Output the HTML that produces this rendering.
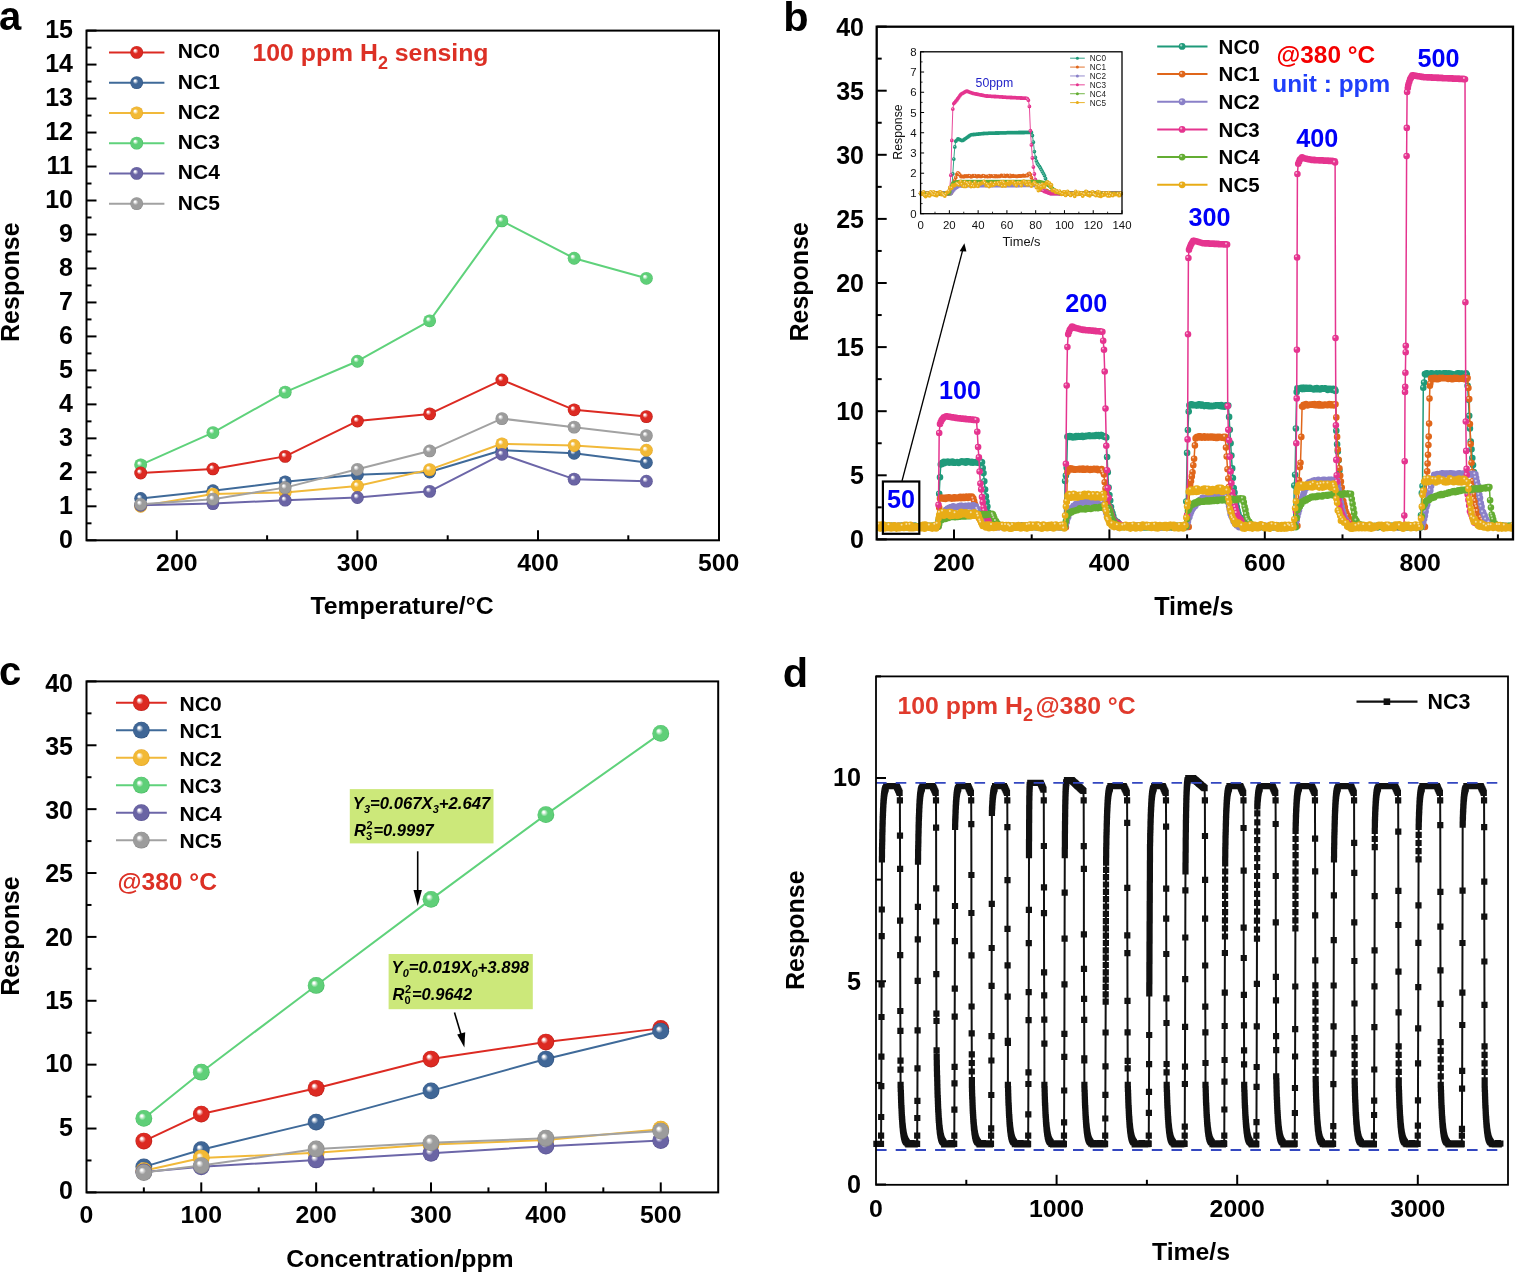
<!DOCTYPE html><html><head><meta charset="utf-8"><title>Gas sensing response</title><style>html,body{margin:0;padding:0;background:#fff;width:1515px;height:1273px;overflow:hidden;position:relative}text{font-family:"Liberation Sans",Arial,Helvetica,sans-serif}</style></head><body><svg width="1515" height="1273" viewBox="0 0 1515 1273" style="position:absolute;left:0;top:0" font-family="Liberation Sans, Arial, Helvetica, sans-serif">
<defs>
<radialGradient id="g_red" cx="0.5" cy="0.5" r="0.5" fx="0.35" fy="0.33"><stop offset="0" stop-color="#ffffff"/><stop offset="0.1" stop-color="#ffffff" stop-opacity="0.97"/><stop offset="0.42" stop-color="#dc2a22"/><stop offset="0.88" stop-color="#dc2a22"/><stop offset="1" stop-color="#b51a14"/></radialGradient>
<radialGradient id="g_blue" cx="0.5" cy="0.5" r="0.5" fx="0.35" fy="0.33"><stop offset="0" stop-color="#ffffff"/><stop offset="0.1" stop-color="#ffffff" stop-opacity="0.97"/><stop offset="0.42" stop-color="#3f6696"/><stop offset="0.88" stop-color="#3f6696"/><stop offset="1" stop-color="#2c4f7c"/></radialGradient>
<radialGradient id="g_yellow" cx="0.5" cy="0.5" r="0.5" fx="0.35" fy="0.33"><stop offset="0" stop-color="#ffffff"/><stop offset="0.1" stop-color="#ffffff" stop-opacity="0.97"/><stop offset="0.42" stop-color="#f2b935"/><stop offset="0.88" stop-color="#f2b935"/><stop offset="1" stop-color="#e09f1c"/></radialGradient>
<radialGradient id="g_green" cx="0.5" cy="0.5" r="0.5" fx="0.35" fy="0.33"><stop offset="0" stop-color="#ffffff"/><stop offset="0.1" stop-color="#ffffff" stop-opacity="0.97"/><stop offset="0.42" stop-color="#5fcf78"/><stop offset="0.88" stop-color="#5fcf78"/><stop offset="1" stop-color="#45b860"/></radialGradient>
<radialGradient id="g_purple" cx="0.5" cy="0.5" r="0.5" fx="0.35" fy="0.33"><stop offset="0" stop-color="#ffffff"/><stop offset="0.1" stop-color="#ffffff" stop-opacity="0.97"/><stop offset="0.42" stop-color="#6a64a4"/><stop offset="0.88" stop-color="#6a64a4"/><stop offset="1" stop-color="#524c8c"/></radialGradient>
<radialGradient id="g_gray" cx="0.5" cy="0.5" r="0.5" fx="0.35" fy="0.33"><stop offset="0" stop-color="#ffffff"/><stop offset="0.1" stop-color="#ffffff" stop-opacity="0.97"/><stop offset="0.42" stop-color="#9c9c9c"/><stop offset="0.88" stop-color="#9c9c9c"/><stop offset="1" stop-color="#848484"/></radialGradient>
</defs>
<rect width="1515" height="1273" fill="#fff"/>
<text x="-1" y="30" font-size="40" text-anchor="start" font-weight="bold" fill="#000">a</text>
<line x1="86.5" y1="540.3" x2="96.5" y2="540.3" stroke="#000" stroke-width="2"/>
<line x1="86.5" y1="523.31" x2="91.5" y2="523.31" stroke="#000" stroke-width="2"/>
<text x="73" y="548" font-size="25" text-anchor="end" font-weight="bold" fill="#000">0</text>
<line x1="86.5" y1="506.32" x2="96.5" y2="506.32" stroke="#000" stroke-width="2"/>
<line x1="86.5" y1="489.33" x2="91.5" y2="489.33" stroke="#000" stroke-width="2"/>
<text x="73" y="514.02" font-size="25" text-anchor="end" font-weight="bold" fill="#000">1</text>
<line x1="86.5" y1="472.34" x2="96.5" y2="472.34" stroke="#000" stroke-width="2"/>
<line x1="86.5" y1="455.35" x2="91.5" y2="455.35" stroke="#000" stroke-width="2"/>
<text x="73" y="480.04" font-size="25" text-anchor="end" font-weight="bold" fill="#000">2</text>
<line x1="86.5" y1="438.36" x2="96.5" y2="438.36" stroke="#000" stroke-width="2"/>
<line x1="86.5" y1="421.37" x2="91.5" y2="421.37" stroke="#000" stroke-width="2"/>
<text x="73" y="446.06" font-size="25" text-anchor="end" font-weight="bold" fill="#000">3</text>
<line x1="86.5" y1="404.38" x2="96.5" y2="404.38" stroke="#000" stroke-width="2"/>
<line x1="86.5" y1="387.39" x2="91.5" y2="387.39" stroke="#000" stroke-width="2"/>
<text x="73" y="412.08" font-size="25" text-anchor="end" font-weight="bold" fill="#000">4</text>
<line x1="86.5" y1="370.4" x2="96.5" y2="370.4" stroke="#000" stroke-width="2"/>
<line x1="86.5" y1="353.41" x2="91.5" y2="353.41" stroke="#000" stroke-width="2"/>
<text x="73" y="378.1" font-size="25" text-anchor="end" font-weight="bold" fill="#000">5</text>
<line x1="86.5" y1="336.42" x2="96.5" y2="336.42" stroke="#000" stroke-width="2"/>
<line x1="86.5" y1="319.43" x2="91.5" y2="319.43" stroke="#000" stroke-width="2"/>
<text x="73" y="344.12" font-size="25" text-anchor="end" font-weight="bold" fill="#000">6</text>
<line x1="86.5" y1="302.44" x2="96.5" y2="302.44" stroke="#000" stroke-width="2"/>
<line x1="86.5" y1="285.45" x2="91.5" y2="285.45" stroke="#000" stroke-width="2"/>
<text x="73" y="310.14" font-size="25" text-anchor="end" font-weight="bold" fill="#000">7</text>
<line x1="86.5" y1="268.46" x2="96.5" y2="268.46" stroke="#000" stroke-width="2"/>
<line x1="86.5" y1="251.47" x2="91.5" y2="251.47" stroke="#000" stroke-width="2"/>
<text x="73" y="276.16" font-size="25" text-anchor="end" font-weight="bold" fill="#000">8</text>
<line x1="86.5" y1="234.48" x2="96.5" y2="234.48" stroke="#000" stroke-width="2"/>
<line x1="86.5" y1="217.49" x2="91.5" y2="217.49" stroke="#000" stroke-width="2"/>
<text x="73" y="242.18" font-size="25" text-anchor="end" font-weight="bold" fill="#000">9</text>
<line x1="86.5" y1="200.5" x2="96.5" y2="200.5" stroke="#000" stroke-width="2"/>
<line x1="86.5" y1="183.51" x2="91.5" y2="183.51" stroke="#000" stroke-width="2"/>
<text x="73" y="208.2" font-size="25" text-anchor="end" font-weight="bold" fill="#000">10</text>
<line x1="86.5" y1="166.52" x2="96.5" y2="166.52" stroke="#000" stroke-width="2"/>
<line x1="86.5" y1="149.53" x2="91.5" y2="149.53" stroke="#000" stroke-width="2"/>
<text x="73" y="174.22" font-size="25" text-anchor="end" font-weight="bold" fill="#000">11</text>
<line x1="86.5" y1="132.54" x2="96.5" y2="132.54" stroke="#000" stroke-width="2"/>
<line x1="86.5" y1="115.55" x2="91.5" y2="115.55" stroke="#000" stroke-width="2"/>
<text x="73" y="140.24" font-size="25" text-anchor="end" font-weight="bold" fill="#000">12</text>
<line x1="86.5" y1="98.56" x2="96.5" y2="98.56" stroke="#000" stroke-width="2"/>
<line x1="86.5" y1="81.57" x2="91.5" y2="81.57" stroke="#000" stroke-width="2"/>
<text x="73" y="106.26" font-size="25" text-anchor="end" font-weight="bold" fill="#000">13</text>
<line x1="86.5" y1="64.58" x2="96.5" y2="64.58" stroke="#000" stroke-width="2"/>
<line x1="86.5" y1="47.59" x2="91.5" y2="47.59" stroke="#000" stroke-width="2"/>
<text x="73" y="72.28" font-size="25" text-anchor="end" font-weight="bold" fill="#000">14</text>
<line x1="86.5" y1="30.6" x2="96.5" y2="30.6" stroke="#000" stroke-width="2"/>
<text x="73" y="38.3" font-size="25" text-anchor="end" font-weight="bold" fill="#000">15</text>
<line x1="176.8" y1="540.3" x2="176.8" y2="530.3" stroke="#000" stroke-width="2"/>
<line x1="357.4" y1="540.3" x2="357.4" y2="530.3" stroke="#000" stroke-width="2"/>
<line x1="538" y1="540.3" x2="538" y2="530.3" stroke="#000" stroke-width="2"/>
<line x1="267.1" y1="540.3" x2="267.1" y2="535.3" stroke="#000" stroke-width="2"/>
<line x1="447.7" y1="540.3" x2="447.7" y2="535.3" stroke="#000" stroke-width="2"/>
<line x1="628.3" y1="540.3" x2="628.3" y2="535.3" stroke="#000" stroke-width="2"/>
<text x="176.8" y="570.8" font-size="24.8" text-anchor="middle" font-weight="bold" fill="#000">200</text>
<text x="357.4" y="570.8" font-size="24.8" text-anchor="middle" font-weight="bold" fill="#000">300</text>
<text x="538" y="570.8" font-size="24.8" text-anchor="middle" font-weight="bold" fill="#000">400</text>
<text x="718.6" y="570.8" font-size="24.8" text-anchor="middle" font-weight="bold" fill="#000">500</text>
<rect x="86.5" y="30.6" width="632.5" height="509.7" stroke="#000" stroke-width="2" fill="none"/>
<text x="402" y="613.9" font-size="24.8" text-anchor="middle" font-weight="bold" fill="#000">Temperature/°C</text>
<text transform="translate(18.9,282.2) rotate(-90)" font-size="25" text-anchor="middle" font-weight="bold">Response</text>
<line x1="109" y1="52.4" x2="164.4" y2="52.4" stroke="#dc2a22" stroke-width="2"/>
<circle cx="136.7" cy="52.4" r="6.4" fill="url(#g_red)"/>
<text x="177.8" y="58.4" font-size="21" text-anchor="start" font-weight="bold" fill="#000">NC0</text>
<line x1="109" y1="82.65" x2="164.4" y2="82.65" stroke="#3f6a99" stroke-width="2"/>
<circle cx="136.7" cy="82.65" r="6.4" fill="url(#g_blue)"/>
<text x="177.8" y="88.65" font-size="21" text-anchor="start" font-weight="bold" fill="#000">NC1</text>
<line x1="109" y1="112.9" x2="164.4" y2="112.9" stroke="#f1b93a" stroke-width="2"/>
<circle cx="136.7" cy="112.9" r="6.4" fill="url(#g_yellow)"/>
<text x="177.8" y="118.9" font-size="21" text-anchor="start" font-weight="bold" fill="#000">NC2</text>
<line x1="109" y1="143.15" x2="164.4" y2="143.15" stroke="#5fd27b" stroke-width="2"/>
<circle cx="136.7" cy="143.15" r="6.4" fill="url(#g_green)"/>
<text x="177.8" y="149.15" font-size="21" text-anchor="start" font-weight="bold" fill="#000">NC3</text>
<line x1="109" y1="173.4" x2="164.4" y2="173.4" stroke="#6c66a8" stroke-width="2"/>
<circle cx="136.7" cy="173.4" r="6.4" fill="url(#g_purple)"/>
<text x="177.8" y="179.4" font-size="21" text-anchor="start" font-weight="bold" fill="#000">NC4</text>
<line x1="109" y1="203.65" x2="164.4" y2="203.65" stroke="#a2a2a2" stroke-width="2"/>
<circle cx="136.7" cy="203.65" r="6.4" fill="url(#g_gray)"/>
<text x="177.8" y="209.65" font-size="21" text-anchor="start" font-weight="bold" fill="#000">NC5</text>
<text x="252.5" y="60.9" font-size="24.8" font-weight="bold" fill="#dc3025">100 ppm H<tspan font-size="18" dy="7.7">2</tspan><tspan dy="-7.7"> sensing</tspan></text>
<polyline points="140.68,464.86 212.92,432.58 285.16,392.15 357.4,361.23 429.64,320.79 501.88,220.89 574.12,258.27 646.36,278.31" fill="none" stroke="#5fd27b" stroke-width="2" stroke-linejoin="round"/>
<circle cx="140.68" cy="464.86" r="6.4" fill="url(#g_green)"/>
<circle cx="212.92" cy="432.58" r="6.4" fill="url(#g_green)"/>
<circle cx="285.16" cy="392.15" r="6.4" fill="url(#g_green)"/>
<circle cx="357.4" cy="361.23" r="6.4" fill="url(#g_green)"/>
<circle cx="429.64" cy="320.79" r="6.4" fill="url(#g_green)"/>
<circle cx="501.88" cy="220.89" r="6.4" fill="url(#g_green)"/>
<circle cx="574.12" cy="258.27" r="6.4" fill="url(#g_green)"/>
<circle cx="646.36" cy="278.31" r="6.4" fill="url(#g_green)"/>
<polyline points="140.68,473.02 212.92,468.94 285.16,456.37 357.4,421.03 429.64,413.89 501.88,379.91 574.12,409.82 646.36,416.61" fill="none" stroke="#dc2a22" stroke-width="2" stroke-linejoin="round"/>
<circle cx="140.68" cy="473.02" r="6.4" fill="url(#g_red)"/>
<circle cx="212.92" cy="468.94" r="6.4" fill="url(#g_red)"/>
<circle cx="285.16" cy="456.37" r="6.4" fill="url(#g_red)"/>
<circle cx="357.4" cy="421.03" r="6.4" fill="url(#g_red)"/>
<circle cx="429.64" cy="413.89" r="6.4" fill="url(#g_red)"/>
<circle cx="501.88" cy="379.91" r="6.4" fill="url(#g_red)"/>
<circle cx="574.12" cy="409.82" r="6.4" fill="url(#g_red)"/>
<circle cx="646.36" cy="416.61" r="6.4" fill="url(#g_red)"/>
<polyline points="140.68,498.5 212.92,490.69 285.16,481.85 357.4,474.72 429.64,472 501.88,450.25 574.12,453.31 646.36,462.49" fill="none" stroke="#3f6a99" stroke-width="2" stroke-linejoin="round"/>
<circle cx="140.68" cy="498.5" r="6.4" fill="url(#g_blue)"/>
<circle cx="212.92" cy="490.69" r="6.4" fill="url(#g_blue)"/>
<circle cx="285.16" cy="481.85" r="6.4" fill="url(#g_blue)"/>
<circle cx="357.4" cy="474.72" r="6.4" fill="url(#g_blue)"/>
<circle cx="429.64" cy="472" r="6.4" fill="url(#g_blue)"/>
<circle cx="501.88" cy="450.25" r="6.4" fill="url(#g_blue)"/>
<circle cx="574.12" cy="453.31" r="6.4" fill="url(#g_blue)"/>
<circle cx="646.36" cy="462.49" r="6.4" fill="url(#g_blue)"/>
<polyline points="140.68,506.32 212.92,494.09 285.16,492.39 357.4,485.93 429.64,469.62 501.88,443.8 574.12,445.5 646.36,450.25" fill="none" stroke="#f1b93a" stroke-width="2" stroke-linejoin="round"/>
<circle cx="140.68" cy="506.32" r="6.4" fill="url(#g_yellow)"/>
<circle cx="212.92" cy="494.09" r="6.4" fill="url(#g_yellow)"/>
<circle cx="285.16" cy="492.39" r="6.4" fill="url(#g_yellow)"/>
<circle cx="357.4" cy="485.93" r="6.4" fill="url(#g_yellow)"/>
<circle cx="429.64" cy="469.62" r="6.4" fill="url(#g_yellow)"/>
<circle cx="501.88" cy="443.8" r="6.4" fill="url(#g_yellow)"/>
<circle cx="574.12" cy="445.5" r="6.4" fill="url(#g_yellow)"/>
<circle cx="646.36" cy="450.25" r="6.4" fill="url(#g_yellow)"/>
<polyline points="140.68,505.3 212.92,503.6 285.16,500.2 357.4,497.49 429.64,491.37 501.88,454.33 574.12,479.14 646.36,481.17" fill="none" stroke="#6c66a8" stroke-width="2" stroke-linejoin="round"/>
<circle cx="140.68" cy="505.3" r="6.4" fill="url(#g_purple)"/>
<circle cx="212.92" cy="503.6" r="6.4" fill="url(#g_purple)"/>
<circle cx="285.16" cy="500.2" r="6.4" fill="url(#g_purple)"/>
<circle cx="357.4" cy="497.49" r="6.4" fill="url(#g_purple)"/>
<circle cx="429.64" cy="491.37" r="6.4" fill="url(#g_purple)"/>
<circle cx="501.88" cy="454.33" r="6.4" fill="url(#g_purple)"/>
<circle cx="574.12" cy="479.14" r="6.4" fill="url(#g_purple)"/>
<circle cx="646.36" cy="481.17" r="6.4" fill="url(#g_purple)"/>
<polyline points="140.68,504.28 212.92,499.18 285.16,487.63 357.4,469.28 429.64,450.93 501.88,418.65 574.12,427.15 646.36,435.64" fill="none" stroke="#a2a2a2" stroke-width="2" stroke-linejoin="round"/>
<circle cx="140.68" cy="504.28" r="6.4" fill="url(#g_gray)"/>
<circle cx="212.92" cy="499.18" r="6.4" fill="url(#g_gray)"/>
<circle cx="285.16" cy="487.63" r="6.4" fill="url(#g_gray)"/>
<circle cx="357.4" cy="469.28" r="6.4" fill="url(#g_gray)"/>
<circle cx="429.64" cy="450.93" r="6.4" fill="url(#g_gray)"/>
<circle cx="501.88" cy="418.65" r="6.4" fill="url(#g_gray)"/>
<circle cx="574.12" cy="427.15" r="6.4" fill="url(#g_gray)"/>
<circle cx="646.36" cy="435.64" r="6.4" fill="url(#g_gray)"/>
<text x="-1" y="685" font-size="40" text-anchor="start" font-weight="bold" fill="#000">c</text>
<line x1="86.5" y1="1192.4" x2="96.5" y2="1192.4" stroke="#000" stroke-width="2"/>
<line x1="86.5" y1="1160.46" x2="91.5" y2="1160.46" stroke="#000" stroke-width="2"/>
<text x="73" y="1199" font-size="25" text-anchor="end" font-weight="bold" fill="#000">0</text>
<line x1="86.5" y1="1128.53" x2="96.5" y2="1128.53" stroke="#000" stroke-width="2"/>
<line x1="86.5" y1="1096.59" x2="91.5" y2="1096.59" stroke="#000" stroke-width="2"/>
<text x="73" y="1135.62" font-size="25" text-anchor="end" font-weight="bold" fill="#000">5</text>
<line x1="86.5" y1="1064.65" x2="96.5" y2="1064.65" stroke="#000" stroke-width="2"/>
<line x1="86.5" y1="1032.71" x2="91.5" y2="1032.71" stroke="#000" stroke-width="2"/>
<text x="73" y="1072.25" font-size="25" text-anchor="end" font-weight="bold" fill="#000">10</text>
<line x1="86.5" y1="1000.78" x2="96.5" y2="1000.78" stroke="#000" stroke-width="2"/>
<line x1="86.5" y1="968.84" x2="91.5" y2="968.84" stroke="#000" stroke-width="2"/>
<text x="73" y="1008.88" font-size="25" text-anchor="end" font-weight="bold" fill="#000">15</text>
<line x1="86.5" y1="936.9" x2="96.5" y2="936.9" stroke="#000" stroke-width="2"/>
<line x1="86.5" y1="904.96" x2="91.5" y2="904.96" stroke="#000" stroke-width="2"/>
<text x="73" y="945.5" font-size="25" text-anchor="end" font-weight="bold" fill="#000">20</text>
<line x1="86.5" y1="873.03" x2="96.5" y2="873.03" stroke="#000" stroke-width="2"/>
<line x1="86.5" y1="841.09" x2="91.5" y2="841.09" stroke="#000" stroke-width="2"/>
<text x="73" y="882.12" font-size="25" text-anchor="end" font-weight="bold" fill="#000">25</text>
<line x1="86.5" y1="809.15" x2="96.5" y2="809.15" stroke="#000" stroke-width="2"/>
<line x1="86.5" y1="777.21" x2="91.5" y2="777.21" stroke="#000" stroke-width="2"/>
<text x="73" y="818.75" font-size="25" text-anchor="end" font-weight="bold" fill="#000">30</text>
<line x1="86.5" y1="745.28" x2="96.5" y2="745.28" stroke="#000" stroke-width="2"/>
<line x1="86.5" y1="713.34" x2="91.5" y2="713.34" stroke="#000" stroke-width="2"/>
<text x="73" y="755.38" font-size="25" text-anchor="end" font-weight="bold" fill="#000">35</text>
<line x1="86.5" y1="681.4" x2="96.5" y2="681.4" stroke="#000" stroke-width="2"/>
<text x="73" y="692" font-size="25" text-anchor="end" font-weight="bold" fill="#000">40</text>
<line x1="201.27" y1="1192.4" x2="201.27" y2="1182.4" stroke="#000" stroke-width="2"/>
<line x1="316.14" y1="1192.4" x2="316.14" y2="1182.4" stroke="#000" stroke-width="2"/>
<line x1="431.01" y1="1192.4" x2="431.01" y2="1182.4" stroke="#000" stroke-width="2"/>
<line x1="545.88" y1="1192.4" x2="545.88" y2="1182.4" stroke="#000" stroke-width="2"/>
<line x1="660.75" y1="1192.4" x2="660.75" y2="1182.4" stroke="#000" stroke-width="2"/>
<line x1="143.84" y1="1192.4" x2="143.84" y2="1187.4" stroke="#000" stroke-width="2"/>
<line x1="258.71" y1="1192.4" x2="258.71" y2="1187.4" stroke="#000" stroke-width="2"/>
<line x1="373.58" y1="1192.4" x2="373.58" y2="1187.4" stroke="#000" stroke-width="2"/>
<line x1="488.45" y1="1192.4" x2="488.45" y2="1187.4" stroke="#000" stroke-width="2"/>
<line x1="603.32" y1="1192.4" x2="603.32" y2="1187.4" stroke="#000" stroke-width="2"/>
<text x="86.4" y="1222.5" font-size="24.8" text-anchor="middle" font-weight="bold" fill="#000">0</text>
<text x="201.27" y="1222.5" font-size="24.8" text-anchor="middle" font-weight="bold" fill="#000">100</text>
<text x="316.14" y="1222.5" font-size="24.8" text-anchor="middle" font-weight="bold" fill="#000">200</text>
<text x="431.01" y="1222.5" font-size="24.8" text-anchor="middle" font-weight="bold" fill="#000">300</text>
<text x="545.88" y="1222.5" font-size="24.8" text-anchor="middle" font-weight="bold" fill="#000">400</text>
<text x="660.75" y="1222.5" font-size="24.8" text-anchor="middle" font-weight="bold" fill="#000">500</text>
<rect x="86.5" y="681.4" width="631.7" height="511" stroke="#000" stroke-width="2" fill="none"/>
<text x="400" y="1266.8" font-size="24.8" text-anchor="middle" font-weight="bold" fill="#000">Concentration/ppm</text>
<text transform="translate(18.8,936) rotate(-90)" font-size="25" text-anchor="middle" font-weight="bold">Response</text>
<line x1="116" y1="702.7" x2="166.8" y2="702.7" stroke="#dc2a22" stroke-width="2"/>
<circle cx="141.3" cy="702.7" r="8.4" fill="url(#g_red)"/>
<text x="179.6" y="710.7" font-size="21" text-anchor="start" font-weight="bold" fill="#000">NC0</text>
<line x1="116" y1="730.2" x2="166.8" y2="730.2" stroke="#3f6a99" stroke-width="2"/>
<circle cx="141.3" cy="730.2" r="8.4" fill="url(#g_blue)"/>
<text x="179.6" y="738.2" font-size="21" text-anchor="start" font-weight="bold" fill="#000">NC1</text>
<line x1="116" y1="757.7" x2="166.8" y2="757.7" stroke="#f1b93a" stroke-width="2"/>
<circle cx="141.3" cy="757.7" r="8.4" fill="url(#g_yellow)"/>
<text x="179.6" y="765.7" font-size="21" text-anchor="start" font-weight="bold" fill="#000">NC2</text>
<line x1="116" y1="785.2" x2="166.8" y2="785.2" stroke="#5fd27b" stroke-width="2"/>
<circle cx="141.3" cy="785.2" r="8.4" fill="url(#g_green)"/>
<text x="179.6" y="793.2" font-size="21" text-anchor="start" font-weight="bold" fill="#000">NC3</text>
<line x1="116" y1="812.7" x2="166.8" y2="812.7" stroke="#6c66a8" stroke-width="2"/>
<circle cx="141.3" cy="812.7" r="8.4" fill="url(#g_purple)"/>
<text x="179.6" y="820.7" font-size="21" text-anchor="start" font-weight="bold" fill="#000">NC4</text>
<line x1="116" y1="840.2" x2="166.8" y2="840.2" stroke="#a2a2a2" stroke-width="2"/>
<circle cx="141.3" cy="840.2" r="8.4" fill="url(#g_gray)"/>
<text x="179.6" y="848.2" font-size="21" text-anchor="start" font-weight="bold" fill="#000">NC5</text>
<text x="117.5" y="889.6" font-size="24.6" text-anchor="start" font-weight="bold" fill="#dc3025">@380 °C</text>
<polyline points="143.84,1118.43 201.27,1072.19 316.14,985.45 431.01,899.34 545.88,814.64 660.75,733.39" fill="none" stroke="#5fd27b" stroke-width="2" stroke-linejoin="round"/>
<circle cx="143.84" cy="1118.43" r="8.4" fill="url(#g_green)"/>
<circle cx="201.27" cy="1072.19" r="8.4" fill="url(#g_green)"/>
<circle cx="316.14" cy="985.45" r="8.4" fill="url(#g_green)"/>
<circle cx="431.01" cy="899.34" r="8.4" fill="url(#g_green)"/>
<circle cx="545.88" cy="814.64" r="8.4" fill="url(#g_green)"/>
<circle cx="660.75" cy="733.39" r="8.4" fill="url(#g_green)"/>
<polyline points="143.84,1141.04 201.27,1114.09 316.14,1088.28 431.01,1059.03 545.88,1042.04 660.75,1028.37" fill="none" stroke="#dc2a22" stroke-width="2" stroke-linejoin="round"/>
<circle cx="143.84" cy="1141.04" r="8.4" fill="url(#g_red)"/>
<circle cx="201.27" cy="1114.09" r="8.4" fill="url(#g_red)"/>
<circle cx="316.14" cy="1088.28" r="8.4" fill="url(#g_red)"/>
<circle cx="431.01" cy="1059.03" r="8.4" fill="url(#g_red)"/>
<circle cx="545.88" cy="1042.04" r="8.4" fill="url(#g_red)"/>
<circle cx="660.75" cy="1028.37" r="8.4" fill="url(#g_red)"/>
<polyline points="143.84,1166.85 201.27,1149.73 316.14,1122.14 431.01,1090.84 545.88,1059.03 660.75,1031.18" fill="none" stroke="#3f6a99" stroke-width="2" stroke-linejoin="round"/>
<circle cx="143.84" cy="1166.85" r="8.4" fill="url(#g_blue)"/>
<circle cx="201.27" cy="1149.73" r="8.4" fill="url(#g_blue)"/>
<circle cx="316.14" cy="1122.14" r="8.4" fill="url(#g_blue)"/>
<circle cx="431.01" cy="1090.84" r="8.4" fill="url(#g_blue)"/>
<circle cx="545.88" cy="1059.03" r="8.4" fill="url(#g_blue)"/>
<circle cx="660.75" cy="1031.18" r="8.4" fill="url(#g_blue)"/>
<polyline points="143.84,1170.68 201.27,1158.04 316.14,1152.8 431.01,1144.49 545.88,1140.02 660.75,1129.16" fill="none" stroke="#f1b93a" stroke-width="2" stroke-linejoin="round"/>
<circle cx="143.84" cy="1170.68" r="8.4" fill="url(#g_yellow)"/>
<circle cx="201.27" cy="1158.04" r="8.4" fill="url(#g_yellow)"/>
<circle cx="316.14" cy="1152.8" r="8.4" fill="url(#g_yellow)"/>
<circle cx="431.01" cy="1144.49" r="8.4" fill="url(#g_yellow)"/>
<circle cx="545.88" cy="1140.02" r="8.4" fill="url(#g_yellow)"/>
<circle cx="660.75" cy="1129.16" r="8.4" fill="url(#g_yellow)"/>
<polyline points="143.84,1171.96 201.27,1166.85 316.14,1159.95 431.01,1153.31 545.88,1146.15 660.75,1140.53" fill="none" stroke="#6c66a8" stroke-width="2" stroke-linejoin="round"/>
<circle cx="143.84" cy="1171.96" r="8.4" fill="url(#g_purple)"/>
<circle cx="201.27" cy="1166.85" r="8.4" fill="url(#g_purple)"/>
<circle cx="316.14" cy="1159.95" r="8.4" fill="url(#g_purple)"/>
<circle cx="431.01" cy="1153.31" r="8.4" fill="url(#g_purple)"/>
<circle cx="545.88" cy="1146.15" r="8.4" fill="url(#g_purple)"/>
<circle cx="660.75" cy="1140.53" r="8.4" fill="url(#g_purple)"/>
<polyline points="143.84,1172.6 201.27,1165.57 316.14,1148.97 431.01,1142.83 545.88,1138.23 660.75,1131.08" fill="none" stroke="#a2a2a2" stroke-width="2" stroke-linejoin="round"/>
<circle cx="143.84" cy="1172.6" r="8.4" fill="url(#g_gray)"/>
<circle cx="201.27" cy="1165.57" r="8.4" fill="url(#g_gray)"/>
<circle cx="316.14" cy="1148.97" r="8.4" fill="url(#g_gray)"/>
<circle cx="431.01" cy="1142.83" r="8.4" fill="url(#g_gray)"/>
<circle cx="545.88" cy="1138.23" r="8.4" fill="url(#g_gray)"/>
<circle cx="660.75" cy="1131.08" r="8.4" fill="url(#g_gray)"/>
<rect x="349.8" y="789.1" width="143.7" height="54.3" stroke="none" stroke-width="0" fill="#cce87a"/>
<text x="352.8" y="808.5" font-size="16.7" font-weight="bold" font-style="italic">Y<tspan font-size="11" dy="4">3</tspan><tspan dy="-4">=0.067X</tspan><tspan font-size="11" dy="4">3</tspan><tspan dy="-4">+2.647</tspan></text>
<text x="354" y="835.8" font-size="16.5" font-weight="bold" font-style="italic">R<tspan font-size="11" font-style="normal" dy="4">3</tspan><tspan font-size="11" font-style="normal" dx="-5.5" dy="-11">2</tspan><tspan dx="0.8" dy="7">=0.9997</tspan></text>
<rect x="388.6" y="954" width="144.2" height="55.2" stroke="none" stroke-width="0" fill="#cce87a"/>
<text x="391.5" y="973.2" font-size="16.7" font-weight="bold" font-style="italic">Y<tspan font-size="11" dy="4">0</tspan><tspan dy="-4">=0.019X</tspan><tspan font-size="11" dy="4">0</tspan><tspan dy="-4">+3.898</tspan></text>
<text x="392.5" y="1000.2" font-size="16.5" font-weight="bold" font-style="italic">R<tspan font-size="11" font-style="normal" dy="4">0</tspan><tspan font-size="11" font-style="normal" dx="-5.5" dy="-11">2</tspan><tspan dx="0.8" dy="7">=0.9642</tspan></text>
<line x1="417.7" y1="851.3" x2="417.7" y2="892" stroke="#000" stroke-width="1.6"/>
<polygon points="413.5,890 421.9,890 417.7,906" fill="#000"/>
<line x1="454.5" y1="1012.6" x2="461.5" y2="1036" stroke="#000" stroke-width="1.6"/>
<polygon points="457.2,1034.5 465.2,1032.2 464.4,1047.6" fill="#000"/>
<text x="783.3" y="31.3" font-size="41.5" text-anchor="start" font-weight="bold" fill="#000">b</text>
<line x1="876.7" y1="539.4" x2="886.7" y2="539.4" stroke="#000" stroke-width="2"/>
<line x1="876.7" y1="507.35" x2="881.7" y2="507.35" stroke="#000" stroke-width="2"/>
<text x="864" y="547.9" font-size="25" text-anchor="end" font-weight="bold" fill="#000">0</text>
<line x1="876.7" y1="475.3" x2="886.7" y2="475.3" stroke="#000" stroke-width="2"/>
<line x1="876.7" y1="443.25" x2="881.7" y2="443.25" stroke="#000" stroke-width="2"/>
<text x="864" y="483.95" font-size="25" text-anchor="end" font-weight="bold" fill="#000">5</text>
<line x1="876.7" y1="411.2" x2="886.7" y2="411.2" stroke="#000" stroke-width="2"/>
<line x1="876.7" y1="379.15" x2="881.7" y2="379.15" stroke="#000" stroke-width="2"/>
<text x="864" y="420" font-size="25" text-anchor="end" font-weight="bold" fill="#000">10</text>
<line x1="876.7" y1="347.1" x2="886.7" y2="347.1" stroke="#000" stroke-width="2"/>
<line x1="876.7" y1="315.05" x2="881.7" y2="315.05" stroke="#000" stroke-width="2"/>
<text x="864" y="356.05" font-size="25" text-anchor="end" font-weight="bold" fill="#000">15</text>
<line x1="876.7" y1="283" x2="886.7" y2="283" stroke="#000" stroke-width="2"/>
<line x1="876.7" y1="250.95" x2="881.7" y2="250.95" stroke="#000" stroke-width="2"/>
<text x="864" y="292.1" font-size="25" text-anchor="end" font-weight="bold" fill="#000">20</text>
<line x1="876.7" y1="218.9" x2="886.7" y2="218.9" stroke="#000" stroke-width="2"/>
<line x1="876.7" y1="186.85" x2="881.7" y2="186.85" stroke="#000" stroke-width="2"/>
<text x="864" y="228.15" font-size="25" text-anchor="end" font-weight="bold" fill="#000">25</text>
<line x1="876.7" y1="154.8" x2="886.7" y2="154.8" stroke="#000" stroke-width="2"/>
<line x1="876.7" y1="122.75" x2="881.7" y2="122.75" stroke="#000" stroke-width="2"/>
<text x="864" y="164.2" font-size="25" text-anchor="end" font-weight="bold" fill="#000">30</text>
<line x1="876.7" y1="90.7" x2="886.7" y2="90.7" stroke="#000" stroke-width="2"/>
<line x1="876.7" y1="58.65" x2="881.7" y2="58.65" stroke="#000" stroke-width="2"/>
<text x="864" y="100.25" font-size="25" text-anchor="end" font-weight="bold" fill="#000">35</text>
<line x1="876.7" y1="26.6" x2="886.7" y2="26.6" stroke="#000" stroke-width="2"/>
<text x="864" y="36.3" font-size="25" text-anchor="end" font-weight="bold" fill="#000">40</text>
<line x1="954" y1="539.4" x2="954" y2="529.4" stroke="#000" stroke-width="2"/>
<line x1="1109.4" y1="539.4" x2="1109.4" y2="529.4" stroke="#000" stroke-width="2"/>
<line x1="1264.8" y1="539.4" x2="1264.8" y2="529.4" stroke="#000" stroke-width="2"/>
<line x1="1420.2" y1="539.4" x2="1420.2" y2="529.4" stroke="#000" stroke-width="2"/>
<line x1="1031.7" y1="539.4" x2="1031.7" y2="534.4" stroke="#000" stroke-width="2"/>
<line x1="1187.1" y1="539.4" x2="1187.1" y2="534.4" stroke="#000" stroke-width="2"/>
<line x1="1342.5" y1="539.4" x2="1342.5" y2="534.4" stroke="#000" stroke-width="2"/>
<line x1="1497.9" y1="539.4" x2="1497.9" y2="534.4" stroke="#000" stroke-width="2"/>
<text x="954" y="570.7" font-size="24.8" text-anchor="middle" font-weight="bold" fill="#000">200</text>
<text x="1109.4" y="570.7" font-size="24.8" text-anchor="middle" font-weight="bold" fill="#000">400</text>
<text x="1264.8" y="570.7" font-size="24.8" text-anchor="middle" font-weight="bold" fill="#000">600</text>
<text x="1420.2" y="570.7" font-size="24.8" text-anchor="middle" font-weight="bold" fill="#000">800</text>
<text x="1193.8" y="614.8" font-size="25.2" text-anchor="middle" font-weight="bold" fill="#000">Time/s</text>
<text transform="translate(807.9,281.8) rotate(-90)" font-size="25" text-anchor="middle" font-weight="bold">Response</text>
<g clip-path="url(#clipb)">
<clipPath id="clipb"><rect x="876.7" y="26.7" width="636.3" height="512.6999999999999"/></clipPath>
<path d="M876.3 526.9l0.8 0.2 0.8-0.8 0.7 0.9 0.8-0.7 0.8 0.3 0.8 0.5 0.7-0.7 0.8 0.7 0.8-0.6 0.8 0.5 0.7 0 0.8-0.5 0.8-0.6 0.8 1.1 0.8-0.2 0.7-0.6 0.8-0.5 0.8 0.6 0.8 0.2 0.7-0.9 0.8 1.5 0.8-1.3 0.8 0.9 0.7 0.2 0.8 0.1 0.8-0.3 0.8-0.8 0.8 1 0.7-0.6 0.8-0.1 0.8 0.4 0.8-0.3 0.7 0.8 0.8 0 0.8-0.3 0.8-0.7 0.7 0.4 0.8 0.2 0.8-0.5 0.8 0.3 0.8 0.2 0.7-0.8 0.8 0.2 0.8 0.7 0.8-0.5 0.7 0 0.8-0.5 0.8 0.2 0.8 0.7 0.8-1.1 0.7 1.4 0.8-0.5 0.8-0.5 0.8 0.9 0.7-0.5 0.8 0.7 0.8-1 0.8-0.1 0.7 0.3 0.8-0.5 0.8 0.9 0.8-0.6 0.8 0.1 0.7 0.1 0.8 0.1 0.8-0.5 0.8-0.2 0.7 0.7 0.8-0.3 0.8 1 0.8-1 0.7 0.1 0.8-0.6 0.8 0.3 0.8 0.8 0.8-0.1 0.7-0.5 0.8 1 0.8-0.7 0.8-5.9 0.7-26.9 0.8-16.5 0.8-12.7 0.8-0.3 0.7-1.4 0.8-0.3 0.8-0.7 0.8 1.2 0.8-0.6 0.7-0.2 0.8-0.5 0.8 0.1 0.8-0.1 0.7 0.9 0.8-0.2 0.8 0 0.8-0.8 0.7-0.1 0.8 1.2 0.8 0 0.8-0.1 0.8-0.1 0.7-0.4 0.8-0.1 0.8 0.5 0.8 0.3 0.7-0.6 0.8 0 0.8-0.3 0.8-0.6 0.7 0.4 0.8 0.3 0.8-0.2 0.8-0.1 0.8 0.9 0.7-1.3 0.8 0.2 0.8-0.2 0.8 0.1 0.7 0.6 0.8 0 0.8 0.5 0.8-0.9 0.7 0.9 0.8 0 0.8-0.3 0.8 0.1 0.8-0.3 0.7 0.4 0.8 0.2 0.8-0.1 0.8 0.1 0.7-0.3 0.8 0.6 0.8-1.2 0.8 0.5 0.7 5.8 0.8 5 0.8 8.2 0.8 8.3 0.8 6.8 0.7 5.3 0.8 4.9 0.8 5.9 0.8 2.6 0.7 3.1 0.8 2.6 0.8 0.4 0.8 0.9 0.7-0.1 0.8 1.8 0.8 0.9 0.8-1.1 0.8 1 0.7 0.9 0.8-0.3 0.8 1.1 0.8-0.4 0.7-0.4 0.8 0.5 0.8 0.3 0.8 0.6 0.8-0.1 0.7 0.3 0.8-0.9 0.8 0.3 0.8-0.3 0.7 0.6 0.8 0.2 0.8-0.9 0.8-0.3 0.7 0.2 0.8 0.1 0.8 0 0.8 0.1 0.8 0.8 0.7-0.4 0.8 0.2 0.8 0.5 0.8 0 0.7-0.4 0.8 0.1 0.8-0.7 0.8-0.4 0.7 0.8 0.8-0.8 0.8-0.1 0.8 0.1 0.8 0.9 0.7 0.2 0.8 0 0.8 0 0.8 0 0.7-0.6 0.8-0.4 0.8 0.1 0.8 0.5 0.7-0.3 0.8-0.2 0.8 1.1 0.8-0.9 0.8-0.4 0.7 0.2 0.8 0.1 0.8 0.4 0.8 0.5 0.7-1 0.8 0.7 0.8-0.7 0.8-0.2 0.7 0.8 0.8 0 0.8-0.8 0.8 0.3 0.8 0.9 0.7 0.1 0.8-0.1 0.8-1.1 0.8 0.1 0.7 1 0.8-1 0.8-0.3 0.8 0.5 0.7 0.5 0.8-0.3 0.8 0.6 0.8 0.2 0.8-1.4 0.7 0.4 0.8 0.2 0.8-0.6 0.8 0.8 0.7-0.7 0.8 0.1 0.8 0.9 0.8 0 0.7-0.1 0.8 0.1 0.8-0.6 0.8 0.6 0.8-0.3 0.7 0.4 0.8-46 0.8-5.6 0.8-7.8 0.7-31 0.8-0.5 0.8 0.7 0.8-0.8 0.8 0.6 0.7 0 0.8-0.1 0.8 0.8 0.8-0.7 0.7 0.4 0.8 0.2 0.8-1.2 0.8 0.9 0.7-0.5 0.8-0.4 0.8 0.2 0.8 0.4 0.8-0.4 0.7 0 0.8-0.4 0.8 1 0.8-0.7 0.7 0.4 0.8-0.1 0.8-0.7 0.8 0.3 0.7-0.1 0.8-0.3 0.8-0.3 0.8 0.7 0.8-0.3 0.7 0.2 0.8-0.1 0.8-0.3 0.8 0.4 0.7-0.2 0.8 0.1 0.8-0.8 0.8 0.4 0.7-0.3 0.8-0.2 0.8 1.1 0.8-0.5 0.8-0.6 0.7 0.1 0.8 1 0.8 0 0.8-0.1 0.7 0.9 0.8 0 0.8 0.6 0.8 19.6 0.7 15.2 0.8 15.2 0.8 7.6 0.8 5.5 0.8 6.5 0.7 4 0.8 2.1 0.8 3 0.8 4.4 0.7-0.6 0.8 1.5 0.8 0.4 0.8-0.2 0.7 0.8 0.8 1.6 0.8 0.2 0.8 0.4 0.8 0.8 0.7 0.4 0.8-0.1 0.8-0.5 0.8 1.3 0.7-0.7 0.8 0.3 0.8 0.7 0.8-0.3 0.7-0.3 0.8 0.3 0.8 0.7 0.8-1.5 0.8 0.3 0.7-0.2 0.8 1.3 0.8-0.3 0.8 0.4 0.7-1.1 0.8 0.7 0.8 0.2 0.8-0.4 0.7-0.8 0.8 0.2 0.8 0.9 0.8 0.1 0.8-1.2 0.7 0.6 0.8-0.2 0.8 0.9 0.8 0.1 0.7-1 0.8 0.4 0.8 0.5 0.8-1.3 0.7 0.5 0.8-0.3 0.8 1.1 0.8-1.2 0.8 1.2 0.7-1.2 0.8 0.7 0.8 0.1 0.8-0.3 0.7-0.6 0.8 1 0.8 0.3 0.8-0.7 0.8 0.5 0.7 0.2 0.8-0.1 0.8 0.2 0.8-0.3 0.7-0.1 0.8 0 0.8-0.7 0.8 0.7 0.7-0.3 0.8 0.5 0.8-0.3 0.8 0.5 0.8-0.3 0.7 0.3 0.8-1.1 0.8 0.3 0.8 0.6 0.7-0.5 0.8-0.7 0.8 1.3 0.8-1.1 0.7 0.6 0.8-0.1 0.8-0.5 0.8 0.6 0.8-0.1 0.7-0.3 0.8-0.5 0.8 1 0.8-0.7 0.7 0.2 0.8 0.1 0.8 0.3 0.8 0.1 0.7 0.5 0.8-25.8 0.8-48.6 0.8-22.8 0.8-18.5 0.7-6.3 0.8 0.2 0.8-1.2 0.8 0 0.7 0.3 0.8 0.7 0.8 0 0.8 0 0.7-0.2 0.8 0.5 0.8-0.5 0.8 0.3 0.8-1 0.7 0 0.8 0.7 0.8 0.5 0.8-1.1 0.7 1 0.8 0 0.8 0.6 0.8-0.6 0.7-0.1 0.8 0 0.8 0.5 0.8-0.5 0.8 0.8 0.7-0.4 0.8 0.3 0.8-0.4 0.8 0.6 0.7 0 0.8-0.4 0.8 0.1 0.8-0.5 0.7 0.1 0.8-0.3 0.8 0.2 0.8-0.1 0.8-0.2 0.7 0.8 0.8 0.1 0.8-1 0.8 1.3 0.7-0.8 0.8 0.1 0.8 1 0.8-1.2 0.8-0.1 0.7 0.4 0.8-0.1 0.8-0.1 0.8 11.3 0.7 12.9 0.8 13.4 0.8 12.4 0.8 12.8 0.7 9.6 0.8 10 0.8 4.6 0.8 5.5 0.8 5.1 0.7 3.9 0.8 3.5 0.8 3.1 0.8 2.8 0.7 1.4 0.8-0.2 0.8 1.4 0.8 0.9 0.7 0.9 0.8 0.9 0.8 1.3 0.8 1.7 0.8-1 0.7 0.3 0.8 0.7 0.8 0.2 0.8 0.1 0.7 1.1 0.8-0.8 0.8 1 0.8 0.6 0.7-0.1 0.8-0.7 0.8 0.8 0.8-0.8 0.8-0.4 0.7 0.8 0.8 0.2 0.8-0.2 0.8-0.3 0.7-0.1 0.8 0.2 0.8 0 0.8 0.8 0.7-0.1 0.8-0.1 0.8-0.8 0.8 0.7 0.8-0.4 0.7 0.8 0.8 0 0.8-0.4 0.8-0.6 0.7 0 0.8 0 0.8 0.6 0.8-0.3 0.7 0 0.8 0 0.8 0.6 0.8-1.2 0.8 1 0.7-1.2 0.8 0.1 0.8 1.4 0.8-0.7 0.7-0.5 0.8-0.2 0.8 0.8 0.8 0.2 0.7 0.1 0.8-1.1 0.8 1.1 0.8-0.5 0.8 0.6 0.7-0.6 0.8-0.6 0.8 1.2 0.8-1 0.7 0.5 0.8-0.6 0.8 0.3 0.8 0.7 0.7-1 0.8-40.4 0.8-10.9 0.8-46.1 0.8-36.6 0.7-3.8 0.8 0.3 0.8 0.2 0.8-0.3 0.7 0.1 0.8-0.8 0.8 1.4 0.8-1.2 0.7-0.1 0.8 1.1 0.8-1.2 0.8 0.4 0.8-0.3 0.7 1 0.8-0.1 0.8 0 0.8-0.9 0.7 0.6 0.8 0.4 0.8-0.1 0.8 0.3 0.8 0.4 0.7-0.1 0.8-1.1 0.8 0.9 0.8-1 0.7 1.1 0.8 0 0.8-0.3 0.8 0.5 0.7-0.3 0.8-0.8 0.8 0.1 0.8 0.1 0.8 0.3 0.7-0.4 0.8 0 0.8 0.6 0.8-0.2 0.7 1.1 0.8-1.1 0.8 0.5 0.8-0.4 0.7 0.2 0.8 0.5 0.8 0.4 0.8-1.3 0.8 1.3 0.7-0.6 0.8 1.5 0.8 39.8 0.8 13.5 0.7 7.3 0.8 8.8 0.8 10.3 0.8 11.4 0.7 6 0.8 6.7 0.8 6.8 0.8 3.2 0.8 3.1 0.7 2.1 0.8 3.9 0.8 1.9 0.8 0.4 0.7 1.4 0.8 2.3 0.8 2 0.8 1.4 0.7 0.5 0.8 0 0.8 0.8 0.8 0.2 0.8 0.3 0.7-0.1 0.8-0.1 0.8 0.6 0.8 0.9 0.7 0.4 0.8-0.2 0.8 0.3 0.8 0 0.7 0.5 0.8-0.4 0.8-1 0.8 1.3 0.8-0.6 0.7-0.2 0.8-0.4 0.8 1 0.8-0.1 0.7 0.1 0.8-0.3 0.8 0 0.8-0.8 0.7 0.1 0.8 0 0.8 1.3 0.8 0 0.8-1 0.7-0.3 0.8 0.6 0.8-0.2 0.8 0.9 0.7-0.6 0.8-0.8 0.8 0.2 0.8-0.1 0.8-0.1 0.7 1.1 0.8 0.2 0.8-0.1 0.8-0.6 0.7-0.2 0.8-0.4 0.8 0.3 0.8 0.2 0.7-0.2 0.8 0.4 0.8-0.1 0.8 0.8 0.8-1.2 0.7 0.9 0.8-1.1 0.8 0.5 0.8 0.5 0.7 0.3 0.8-0.2 0.8-0.6 0.8-0.1 0.7 0.9 0.8 0 0.8-0.7 0.8 0 0.8 0.3 0.7 0.2 0.8-0.6 0.8 0.9 0.8-0.4 0.7-0.3 0.8-0.7 0.8 0.5 0.8-0.4 0.7 0.6 0.8 0.4 0.8 0 0.8-1.1 0.8 0.4 0.7 0.6 0.8 0.4 0.8-0.7 0.8-0.3 0.7 0.4 0.8 0.3 0.8-0.7 0.8-0.4 0.7 1.1 0.8 0.3 0.8-0.5 0.8-11.6 0.8-22.2 0.7-7 0.8-98.3 0.8-5.1 0.8-8.6 0.7 0.5 0.8-1.2 0.8 1 0.8-0.8 0.7 0.9 0.8 0.1 0.8-0.9 0.8 0.7 0.8-1 0.7 0.7 0.8 0.5 0.8-0.1 0.8-0.3 0.7-0.3 0.8-0.5 0.8 1.3 0.8-0.4 0.7 0.3 0.8-1.2 0.8 1.3 0.8 0.1 0.8 0 0.7-0.5 0.8-0.8 0.8 0 0.8 0.3 0.7-0.4 0.8 0.1 0.8 0.9 0.8 0.2 0.7-1.1 0.8 0.2 0.8 1.1 0.8-0.9 0.8 0.4 0.7 0 0.8 0.1 0.8 0.2 0.8 0.3 0.7-0.4 0.8-0.1 0.8-1 0.8 1.3 0.7-1.3 0.8 1.2 0.8-0.3 0.8-0.7 0.8 0 0.7 0.6 0.8 0.6 0.8-0.6 0.8 0.1 0.7-0.8 0.8 1.1 0.8 11.3 0.8 13.9 0.8 16.1 0.7 12.8 0.8 12.9 0.8 7.7 0.8 8.9 0.7 7 0.8 7 0.8 3.8 0.8 6.2 0.7 5.6 0.8 6.2 0.8 5.2 0.8 4.3 0.8 3.2 0.7 3.1 0.8 3.1 0.8 1.9 0.8 3.2 0.7 0.9 0.8 1.2 0.8-0.4 0.8 0.6 0.7 1.2 0.8 0.3 0.8 2.2 0.8 0.5 0.8-0.1 0.7-0.6 0.8 0.3 0.8 1 0.8 0.5 0.7-0.1 0.8 0.1 0.8-0.4 0.8 1.3 0.7-0.7 0.8 0.3 0.8 0.1 0.8 0.1 0.8 0.2 0.7 0.4 0.8 0.1 0.8-0.1 0.8-0.7 0.7 1.1 0.8-0.2 0.8-0.8 0.8 0.8 0.7 0.2 0.8 0.1 0.8-0.8 0.8 0.3 0.8-1 0.7 0.2 0.8-0.2 0.8 1.1 0.8 0.3 0.7 0" fill="none" stroke="#1f9a7a" stroke-width="1.5" stroke-linejoin="round"/>
<path d="M876.3 526.9h0m0.8 0.2h0m0.8-0.8h0m0.7 0.9h0m0.8-0.7h0m0.8 0.3h0m0.8 0.5h0m0.7-0.7h0m0.8 0.7h0m0.8-0.6h0m0.8 0.5h0m0.7 0h0m0.8-0.5h0m0.8-0.6h0m0.8 1.1h0m0.8-0.2h0m0.7-0.6h0m0.8-0.5h0m0.8 0.6h0m0.8 0.2h0m0.7-0.9h0m0.8 1.5h0m0.8-1.3h0m0.8 0.9h0m0.7 0.2h0m0.8 0.1h0m0.8-0.3h0m0.8-0.8h0m0.8 1h0m0.7-0.6h0m0.8-0.1h0m0.8 0.4h0m0.8-0.3h0m0.7 0.8h0m0.8 0h0m0.8-0.3h0m0.8-0.7h0m0.7 0.4h0m0.8 0.2h0m0.8-0.5h0m0.8 0.3h0m0.8 0.2h0m0.7-0.8h0m0.8 0.2h0m0.8 0.7h0m0.8-0.5h0m0.7 0h0m0.8-0.5h0m0.8 0.2h0m0.8 0.7h0m0.8-1.1h0m0.7 1.4h0m0.8-0.5h0m0.8-0.5h0m0.8 0.9h0m0.7-0.5h0m0.8 0.7h0m0.8-1h0m0.8-0.1h0m0.7 0.3h0m0.8-0.5h0m0.8 0.9h0m0.8-0.6h0m0.8 0.1h0m0.7 0.1h0m0.8 0.1h0m0.8-0.5h0m0.8-0.2h0m0.7 0.7h0m0.8-0.3h0m0.8 1h0m0.8-1h0m0.7 0.1h0m0.8-0.6h0m0.8 0.3h0m0.8 0.8h0m0.8-0.1h0m0.7-0.5h0m0.8 1h0m0.8-0.7h0m0.8-5.9h0m0.7-26.9h0m0.8-16.5h0m0.8-12.7h0m0.8-0.3h0m0.7-1.4h0m0.8-0.3h0m0.8-0.7h0m0.8 1.2h0m0.8-0.6h0m0.7-0.2h0m0.8-0.5h0m0.8 0.1h0m0.8-0.1h0m0.7 0.9h0m0.8-0.2h0m0.8 0h0m0.8-0.8h0m0.7-0.1h0m0.8 1.2h0m0.8 0h0m0.8-0.1h0m0.8-0.1h0m0.7-0.4h0m0.8-0.1h0m0.8 0.5h0m0.8 0.3h0m0.7-0.6h0m0.8 0h0m0.8-0.3h0m0.8-0.6h0m0.7 0.4h0m0.8 0.3h0m0.8-0.2h0m0.8-0.1h0m0.8 0.9h0m0.7-1.3h0m0.8 0.2h0m0.8-0.2h0m0.8 0.1h0m0.7 0.6h0m0.8 0h0m0.8 0.5h0m0.8-0.9h0m0.7 0.9h0m0.8 0h0m0.8-0.3h0m0.8 0.1h0m0.8-0.3h0m0.7 0.4h0m0.8 0.2h0m0.8-0.1h0m0.8 0.1h0m0.7-0.3h0m0.8 0.6h0m0.8-1.2h0m0.8 0.5h0m0.7 5.8h0m0.8 5h0m0.8 8.2h0m0.8 8.3h0m0.8 6.8h0m0.7 5.3h0m0.8 4.9h0m0.8 5.9h0m0.8 2.6h0m0.7 3.1h0m0.8 2.6h0m0.8 0.4h0m0.8 0.9h0m0.7-0.1h0m0.8 1.8h0m0.8 0.9h0m0.8-1.1h0m0.8 1h0m0.7 0.9h0m0.8-0.3h0m0.8 1.1h0m0.8-0.4h0m0.7-0.4h0m0.8 0.5h0m0.8 0.3h0m0.8 0.6h0m0.8-0.1h0m0.7 0.3h0m0.8-0.9h0m0.8 0.3h0m0.8-0.3h0m0.7 0.6h0m0.8 0.2h0m0.8-0.9h0m0.8-0.3h0m0.7 0.2h0m0.8 0.1h0m0.8 0h0m0.8 0.1h0m0.8 0.8h0m0.7-0.4h0m0.8 0.2h0m0.8 0.5h0m0.8 0h0m0.7-0.4h0m0.8 0.1h0m0.8-0.7h0m0.8-0.4h0m0.7 0.8h0m0.8-0.8h0m0.8-0.1h0m0.8 0.1h0m0.8 0.9h0m0.7 0.2h0m0.8 0h0m0.8 0h0m0.8 0h0m0.7-0.6h0m0.8-0.4h0m0.8 0.1h0m0.8 0.5h0m0.7-0.3h0m0.8-0.2h0m0.8 1.1h0m0.8-0.9h0m0.8-0.4h0m0.7 0.2h0m0.8 0.1h0m0.8 0.4h0m0.8 0.5h0m0.7-1h0m0.8 0.7h0m0.8-0.7h0m0.8-0.2h0m0.7 0.8h0m0.8 0h0m0.8-0.8h0m0.8 0.3h0m0.8 0.9h0m0.7 0.1h0m0.8-0.1h0m0.8-1.1h0m0.8 0.1h0m0.7 1h0m0.8-1h0m0.8-0.3h0m0.8 0.5h0m0.7 0.5h0m0.8-0.3h0m0.8 0.6h0m0.8 0.2h0m0.8-1.4h0m0.7 0.4h0m0.8 0.2h0m0.8-0.6h0m0.8 0.8h0m0.7-0.7h0m0.8 0.1h0m0.8 0.9h0m0.8 0h0m0.7-0.1h0m0.8 0.1h0m0.8-0.6h0m0.8 0.6h0m0.8-0.3h0m0.7 0.4h0m0.8-46h0m0.8-5.6h0m0.8-7.8h0m0.7-31h0m0.8-0.5h0m0.8 0.7h0m0.8-0.8h0m0.8 0.6h0m0.7 0h0m0.8-0.1h0m0.8 0.8h0m0.8-0.7h0m0.7 0.4h0m0.8 0.2h0m0.8-1.2h0m0.8 0.9h0m0.7-0.5h0m0.8-0.4h0m0.8 0.2h0m0.8 0.4h0m0.8-0.4h0m0.7 0h0m0.8-0.4h0m0.8 1h0m0.8-0.7h0m0.7 0.4h0m0.8-0.1h0m0.8-0.7h0m0.8 0.3h0m0.7-0.1h0m0.8-0.3h0m0.8-0.3h0m0.8 0.7h0m0.8-0.3h0m0.7 0.2h0m0.8-0.1h0m0.8-0.3h0m0.8 0.4h0m0.7-0.2h0m0.8 0.1h0m0.8-0.8h0m0.8 0.4h0m0.7-0.3h0m0.8-0.2h0m0.8 1.1h0m0.8-0.5h0m0.8-0.6h0m0.7 0.1h0m0.8 1h0m0.8 0h0m0.8-0.1h0m0.7 0.9h0m0.8 0h0m0.8 0.6h0m0.8 19.6h0m0.7 15.2h0m0.8 15.2h0m0.8 7.6h0m0.8 5.5h0m0.8 6.5h0m0.7 4h0m0.8 2.1h0m0.8 3h0m0.8 4.4h0m0.7-0.6h0m0.8 1.5h0m0.8 0.4h0m0.8-0.2h0m0.7 0.8h0m0.8 1.6h0m0.8 0.2h0m0.8 0.4h0m0.8 0.8h0m0.7 0.4h0m0.8-0.1h0m0.8-0.5h0m0.8 1.3h0m0.7-0.7h0m0.8 0.3h0m0.8 0.7h0m0.8-0.3h0m0.7-0.3h0m0.8 0.3h0m0.8 0.7h0m0.8-1.5h0m0.8 0.3h0m0.7-0.2h0m0.8 1.3h0m0.8-0.3h0m0.8 0.4h0m0.7-1.1h0m0.8 0.7h0m0.8 0.2h0m0.8-0.4h0m0.7-0.8h0m0.8 0.2h0m0.8 0.9h0m0.8 0.1h0m0.8-1.2h0m0.7 0.6h0m0.8-0.2h0m0.8 0.9h0m0.8 0.1h0m0.7-1h0m0.8 0.4h0m0.8 0.5h0m0.8-1.3h0m0.7 0.5h0m0.8-0.3h0m0.8 1.1h0m0.8-1.2h0m0.8 1.2h0m0.7-1.2h0m0.8 0.7h0m0.8 0.1h0m0.8-0.3h0m0.7-0.6h0m0.8 1h0m0.8 0.3h0m0.8-0.7h0m0.8 0.5h0m0.7 0.2h0m0.8-0.1h0m0.8 0.2h0m0.8-0.3h0m0.7-0.1h0m0.8 0h0m0.8-0.7h0m0.8 0.7h0m0.7-0.3h0m0.8 0.5h0m0.8-0.3h0m0.8 0.5h0m0.8-0.3h0m0.7 0.3h0m0.8-1.1h0m0.8 0.3h0m0.8 0.6h0m0.7-0.5h0m0.8-0.7h0m0.8 1.3h0m0.8-1.1h0m0.7 0.6h0m0.8-0.1h0m0.8-0.5h0m0.8 0.6h0m0.8-0.1h0m0.7-0.3h0m0.8-0.5h0m0.8 1h0m0.8-0.7h0m0.7 0.2h0m0.8 0.1h0m0.8 0.3h0m0.8 0.1h0m0.7 0.5h0m0.8-25.8h0m0.8-48.6h0m0.8-22.8h0m0.8-18.5h0m0.7-6.3h0m0.8 0.2h0m0.8-1.2h0m0.8 0h0m0.7 0.3h0m0.8 0.7h0m0.8 0h0m0.8 0h0m0.7-0.2h0m0.8 0.5h0m0.8-0.5h0m0.8 0.3h0m0.8-1h0m0.7 0h0m0.8 0.7h0m0.8 0.5h0m0.8-1.1h0m0.7 1h0m0.8 0h0m0.8 0.6h0m0.8-0.6h0m0.7-0.1h0m0.8 0h0m0.8 0.5h0m0.8-0.5h0m0.8 0.8h0m0.7-0.4h0m0.8 0.3h0m0.8-0.4h0m0.8 0.6h0m0.7 0h0m0.8-0.4h0m0.8 0.1h0m0.8-0.5h0m0.7 0.1h0m0.8-0.3h0m0.8 0.2h0m0.8-0.1h0m0.8-0.2h0m0.7 0.8h0m0.8 0.1h0m0.8-1h0m0.8 1.3h0m0.7-0.8h0m0.8 0.1h0m0.8 1h0m0.8-1.2h0m0.8-0.1h0m0.7 0.4h0m0.8-0.1h0m0.8-0.1h0m0.8 11.3h0m0.7 12.9h0m0.8 13.4h0m0.8 12.4h0m0.8 12.8h0m0.7 9.6h0m0.8 10h0m0.8 4.6h0m0.8 5.5h0m0.8 5.1h0m0.7 3.9h0m0.8 3.5h0m0.8 3.1h0m0.8 2.8h0m0.7 1.4h0m0.8-0.2h0m0.8 1.4h0m0.8 0.9h0m0.7 0.9h0m0.8 0.9h0m0.8 1.3h0m0.8 1.7h0m0.8-1h0m0.7 0.3h0m0.8 0.7h0m0.8 0.2h0m0.8 0.1h0m0.7 1.1h0m0.8-0.8h0m0.8 1h0m0.8 0.6h0m0.7-0.1h0m0.8-0.7h0m0.8 0.8h0m0.8-0.8h0m0.8-0.4h0m0.7 0.8h0m0.8 0.2h0m0.8-0.2h0m0.8-0.3h0m0.7-0.1h0m0.8 0.2h0m0.8 0h0m0.8 0.8h0m0.7-0.1h0m0.8-0.1h0m0.8-0.8h0m0.8 0.7h0m0.8-0.4h0m0.7 0.8h0m0.8 0h0m0.8-0.4h0m0.8-0.6h0m0.7 0h0m0.8 0h0m0.8 0.6h0m0.8-0.3h0m0.7 0h0m0.8 0h0m0.8 0.6h0m0.8-1.2h0m0.8 1h0m0.7-1.2h0m0.8 0.1h0m0.8 1.4h0m0.8-0.7h0m0.7-0.5h0m0.8-0.2h0m0.8 0.8h0m0.8 0.2h0m0.7 0.1h0m0.8-1.1h0m0.8 1.1h0m0.8-0.5h0m0.8 0.6h0m0.7-0.6h0m0.8-0.6h0m0.8 1.2h0m0.8-1h0m0.7 0.5h0m0.8-0.6h0m0.8 0.3h0m0.8 0.7h0m0.7-1h0m0.8-40.4h0m0.8-10.9h0m0.8-46.1h0m0.8-36.6h0m0.7-3.8h0m0.8 0.3h0m0.8 0.2h0m0.8-0.3h0m0.7 0.1h0m0.8-0.8h0m0.8 1.4h0m0.8-1.2h0m0.7-0.1h0m0.8 1.1h0m0.8-1.2h0m0.8 0.4h0m0.8-0.3h0m0.7 1h0m0.8-0.1h0m0.8 0h0m0.8-0.9h0m0.7 0.6h0m0.8 0.4h0m0.8-0.1h0m0.8 0.3h0m0.8 0.4h0m0.7-0.1h0m0.8-1.1h0m0.8 0.9h0m0.8-1h0m0.7 1.1h0m0.8 0h0m0.8-0.3h0m0.8 0.5h0m0.7-0.3h0m0.8-0.8h0m0.8 0.1h0m0.8 0.1h0m0.8 0.3h0m0.7-0.4h0m0.8 0h0m0.8 0.6h0m0.8-0.2h0m0.7 1.1h0m0.8-1.1h0m0.8 0.5h0m0.8-0.4h0m0.7 0.2h0m0.8 0.5h0m0.8 0.4h0m0.8-1.3h0m0.8 1.3h0m0.7-0.6h0m0.8 1.5h0m0.8 39.8h0m0.8 13.5h0m0.7 7.3h0m0.8 8.8h0m0.8 10.3h0m0.8 11.4h0m0.7 6h0m0.8 6.7h0m0.8 6.8h0m0.8 3.2h0m0.8 3.1h0m0.7 2.1h0m0.8 3.9h0m0.8 1.9h0m0.8 0.4h0m0.7 1.4h0m0.8 2.3h0m0.8 2h0m0.8 1.4h0m0.7 0.5h0m0.8 0h0m0.8 0.8h0m0.8 0.2h0m0.8 0.3h0m0.7-0.1h0m0.8-0.1h0m0.8 0.6h0m0.8 0.9h0m0.7 0.4h0m0.8-0.2h0m0.8 0.3h0m0.8 0h0m0.7 0.5h0m0.8-0.4h0m0.8-1h0m0.8 1.3h0m0.8-0.6h0m0.7-0.2h0m0.8-0.4h0m0.8 1h0m0.8-0.1h0m0.7 0.1h0m0.8-0.3h0m0.8 0h0m0.8-0.8h0m0.7 0.1h0m0.8 0h0m0.8 1.3h0m0.8 0h0m0.8-1h0m0.7-0.3h0m0.8 0.6h0m0.8-0.2h0m0.8 0.9h0m0.7-0.6h0m0.8-0.8h0m0.8 0.2h0m0.8-0.1h0m0.8-0.1h0m0.7 1.1h0m0.8 0.2h0m0.8-0.1h0m0.8-0.6h0m0.7-0.2h0m0.8-0.4h0m0.8 0.3h0m0.8 0.2h0m0.7-0.2h0m0.8 0.4h0m0.8-0.1h0m0.8 0.8h0m0.8-1.2h0m0.7 0.9h0m0.8-1.1h0m0.8 0.5h0m0.8 0.5h0m0.7 0.3h0m0.8-0.2h0m0.8-0.6h0m0.8-0.1h0m0.7 0.9h0m0.8 0h0m0.8-0.7h0m0.8 0h0m0.8 0.3h0m0.7 0.2h0m0.8-0.6h0m0.8 0.9h0m0.8-0.4h0m0.7-0.3h0m0.8-0.7h0m0.8 0.5h0m0.8-0.4h0m0.7 0.6h0m0.8 0.4h0m0.8 0h0m0.8-1.1h0m0.8 0.4h0m0.7 0.6h0m0.8 0.4h0m0.8-0.7h0m0.8-0.3h0m0.7 0.4h0m0.8 0.3h0m0.8-0.7h0m0.8-0.4h0m0.7 1.1h0m0.8 0.3h0m0.8-0.5h0m0.8-11.6h0m0.8-22.2h0m0.7-7h0m0.8-98.3h0m0.8-5.1h0m0.8-8.6h0m0.7 0.5h0m0.8-1.2h0m0.8 1h0m0.8-0.8h0m0.7 0.9h0m0.8 0.1h0m0.8-0.9h0m0.8 0.7h0m0.8-1h0m0.7 0.7h0m0.8 0.5h0m0.8-0.1h0m0.8-0.3h0m0.7-0.3h0m0.8-0.5h0m0.8 1.3h0m0.8-0.4h0m0.7 0.3h0m0.8-1.2h0m0.8 1.3h0m0.8 0.1h0m0.8 0h0m0.7-0.5h0m0.8-0.8h0m0.8 0h0m0.8 0.3h0m0.7-0.4h0m0.8 0.1h0m0.8 0.9h0m0.8 0.2h0m0.7-1.1h0m0.8 0.2h0m0.8 1.1h0m0.8-0.9h0m0.8 0.4h0m0.7 0h0m0.8 0.1h0m0.8 0.2h0m0.8 0.3h0m0.7-0.4h0m0.8-0.1h0m0.8-1h0m0.8 1.3h0m0.7-1.3h0m0.8 1.2h0m0.8-0.3h0m0.8-0.7h0m0.8 0h0m0.7 0.6h0m0.8 0.6h0m0.8-0.6h0m0.8 0.1h0m0.7-0.8h0m0.8 1.1h0m0.8 11.3h0m0.8 13.9h0m0.8 16.1h0m0.7 12.8h0m0.8 12.9h0m0.8 7.7h0m0.8 8.9h0m0.7 7h0m0.8 7h0m0.8 3.8h0m0.8 6.2h0m0.7 5.6h0m0.8 6.2h0m0.8 5.2h0m0.8 4.3h0m0.8 3.2h0m0.7 3.1h0m0.8 3.1h0m0.8 1.9h0m0.8 3.2h0m0.7 0.9h0m0.8 1.2h0m0.8-0.4h0m0.8 0.6h0m0.7 1.2h0m0.8 0.3h0m0.8 2.2h0m0.8 0.5h0m0.8-0.1h0m0.7-0.6h0m0.8 0.3h0m0.8 1h0m0.8 0.5h0m0.7-0.1h0m0.8 0.1h0m0.8-0.4h0m0.8 1.3h0m0.7-0.7h0m0.8 0.3h0m0.8 0.1h0m0.8 0.1h0m0.8 0.2h0m0.7 0.4h0m0.8 0.1h0m0.8-0.1h0m0.8-0.7h0m0.7 1.1h0m0.8-0.2h0m0.8-0.8h0m0.8 0.8h0m0.7 0.2h0m0.8 0.1h0m0.8-0.8h0m0.8 0.3h0m0.8-1h0m0.7 0.2h0m0.8-0.2h0m0.8 1.1h0m0.8 0.3h0m0.7 0h0" stroke="#1f9a7a" stroke-width="6.6" stroke-linecap="round" fill="none"/>
<path d="M936.6 525.5h0m0.8-5.9h0m0.7-26.9h0m0.8-16.5h0m42-15h0m0.7 5.8h0m0.8 5h0m0.8 8.2h0m0.8 8.3h0m0.8 6.8h0m0.7 5.3h0m0.8 4.9h0m0.8 5.9h0m0.8 2.6h0m0.7 3.1h0m3.2 3.8h0m71.4 5.1h0m0.8-46h0m0.8-5.6h0m0.8-7.8h0m39.6-30.2h0m0.8 19.6h0m0.7 15.2h0m0.8 15.2h0m0.8 7.6h0m0.8 5.5h0m0.8 6.5h0m0.7 4h0m0.8 2.1h0m0.8 3h0m72.2 11.1h0m0.8-25.8h0m0.8-48.6h0m0.8-22.8h0m0.8-18.5h0m39.6-6h0m0.8 11.3h0m0.7 12.9h0m0.8 13.4h0m0.8 12.4h0m0.8 12.8h0m0.7 9.6h0m0.8 10h0m0.8 4.6h0m0.8 5.5h0m0.8 5.1h0m0.7 3.9h0m0.8 3.5h0m0.8 3.1h0m55.1 12.3h0m0.8-40.4h0m0.8-10.9h0m0.8-46.1h0m39.6-37.7h0m0.8 39.8h0m0.8 13.5h0m0.7 7.3h0m0.8 8.8h0m0.8 10.3h0m0.8 11.4h0m0.7 6h0m0.8 6.7h0m0.8 6.8h0m0.8 3.2h0m0.8 3.1h0m0.7 2.1h0m0.8 3.9h0m2.3 3.7h0m0.8 2.3h0m71.5 7h0m0.8-11.6h0m0.8-22.2h0m0.7-7h0m0.8-98.3h0m0.8-5.1h0m42.7-8.1h0m0.8 11.3h0m0.8 13.9h0m0.8 16.1h0m0.7 12.8h0m0.8 12.9h0m0.8 7.7h0m0.8 8.9h0m0.7 7h0m0.8 7h0m0.8 3.8h0m0.8 6.2h0m0.7 5.6h0m0.8 6.2h0m0.8 5.2h0m0.8 4.3h0m0.8 3.2h0m0.7 3.1h0m0.8 3.1h0m0.8 1.9h0m5.4 7h0m26.4 5.5h0" stroke="#fff" stroke-width="2" stroke-linecap="round" fill="none" stroke-opacity="0.6"/>
<path d="M876.3 526.6l0.8-0.3 0.8 0.4 0.7 0.3 0.8-0.3 0.8-0.3 0.8-0.1 0.7-0.1 0.8-0.2 0.8 0.3 0.8 0.9 0.7-1.1 0.8 0.8 0.8-0.4 0.8 0.3 0.8-0.6 0.7 0.8 0.8 0 0.8 0 0.8 0.1 0.7-1.1 0.8 0.5 0.8 0.3 0.8-0.1 0.7-0.9 0.8 0.8 0.8 0.4 0.8-0.9 0.8 0.2 0.7-0.5 0.8 1.4 0.8-0.6 0.8-0.5 0.7 0 0.8-0.2 0.8 1.4 0.8-0.4 0.7 0.3 0.8-0.1 0.8-1.2 0.8 0.6 0.8-0.6 0.7 0.9 0.8-0.8 0.8 0.7 0.8 0.2 0.7-0.7 0.8-0.3 0.8 1.3 0.8-0.8 0.8 0 0.7 0.6 0.8-0.2 0.8 0.3 0.8-0.1 0.7 0 0.8-0.6 0.8-0.1 0.8 0.7 0.7 0.3 0.8-0.5 0.8-0.5 0.8 0.8 0.8-0.2 0.7 0.1 0.8-0.9 0.8 0.4 0.8 0.8 0.7-0.1 0.8-0.5 0.8-0.2 0.8-0.1 0.7 0.8 0.8-0.1 0.8-0.8 0.8 0.4 0.8 0.2 0.7 0 0.8-1 0.8 1 0.8-0.4 0.7-18.9 0.8-9.1 0.8-0.7 0.8-0.2 0.7 0.9 0.8 0.2 0.8-0.8 0.8 0.7 0.8 0.3 0.7-1.4 0.8 0.7 0.8-0.6 0.8 0.6 0.7-0.8 0.8 0.6 0.8 0.5 0.8 0.2 0.7-0.9 0.8-0.2 0.8-0.4 0.8 1.2 0.8-0.8 0.7 0.3 0.8-0.2 0.8 0.5 0.8-0.2 0.7-0.4 0.8-0.7 0.8 1.3 0.8-0.7 0.7-0.5 0.8-0.3 0.8 1.2 0.8 0.1 0.8-1.3 0.7-0.1 0.8 0.7 0.8 0.7 0.8-1.4 0.7 0.8 0.8-0.8 0.8 0.4 0.8-0.4 0.7 1 0.8 1 0.8 2.8 0.8 2.9 0.8 2.5 0.7 3 0.8 4 0.8 3 0.8 1 0.7 1.1 0.8 1.4 0.8 1.7 0.8 1.1 0.7-0.4 0.8 0.1 0.8 1.7 0.8-0.4 0.8 0 0.7 1.5 0.8-0.9 0.8 1.5 0.8-0.4 0.7 0.1 0.8-0.1 0.8 0.6 0.8-0.2 0.7-0.2 0.8 0.3 0.8-0.3 0.8 0.4 0.8 0 0.7 0.7 0.8-0.9 0.8 0.3 0.8 0.4 0.7-0.8 0.8 0 0.8 0.5 0.8 0.5 0.8-0.5 0.7 0.6 0.8 0 0.8-0.5 0.8 0.5 0.7-0.5 0.8-0.1 0.8 0.7 0.8-0.9 0.7 0.8 0.8-1 0.8 0 0.8 0.4 0.8 0.7 0.7-0.7 0.8 0.2 0.8-0.9 0.8 1.2 0.7-1.1 0.8-0.2 0.8 0.4 0.8-0.1 0.7 1 0.8-1.3 0.8 0.8 0.8-0.7 0.8 0 0.7 1.2 0.8-1 0.8-0.2 0.8 1.3 0.7-0.4 0.8-0.6 0.8 0.9 0.8-1.1 0.7 0.9 0.8-0.8 0.8 1 0.8-0.5 0.8-0.7 0.7 1.1 0.8-0.1 0.8-0.3 0.8 0.3 0.7 0.4 0.8-0.2 0.8 0 0.8-1.2 0.7 0.4 0.8-0.3 0.8 1.1 0.8-1 0.8 1.1 0.7-0.7 0.8-0.1 0.8 0.4 0.8-0.8 0.7 0.5 0.8 0 0.8-0.5 0.8 1.2 0.7-1.4 0.8 0.6 0.8 0.3 0.8-0.6 0.8 0.8 0.7-1.1 0.8 0.7 0.8 0.3 0.8-0.6 0.7 0.5 0.8 0.4 0.8-0.9 0.8 1.1 0.7-1.2 0.8 0.9 0.8-0.6 0.8-0.6 0.8 0.6 0.7-0.1 0.8 0.6 0.8 0.4 0.8-25.6 0.7-29.7 0.8-3.3 0.8 0.3 0.8-0.1 0.8-0.6 0.7 1.2 0.8-0.1 0.8-0.7 0.8 1 0.7 0.1 0.8-0.6 0.8 0.4 0.8-0.3 0.7 0.2 0.8-0.5 0.8 0 0.8 0.6 0.8-0.7 0.7 0.3 0.8 0.5 0.8-1.2 0.8 1.1 0.7 0.1 0.8 0.1 0.8-0.8 0.8-0.3 0.7 0.1 0.8 0.6 0.8 0.2 0.8 0.4 0.8-0.9 0.7 0.1 0.8 0.4 0.8-0.5 0.8 0.4 0.7-0.8 0.8 0.3 0.8 0.8 0.8-1 0.7 1.3 0.8-0.7 0.8 0.2 0.8 0.3 0.8 0.3 0.7-1.1 0.8 1.2 0.8 2 0.8 2.3 0.7 7.7 0.8 6.3 0.8 5.8 0.8 6.5 0.7 4.1 0.8 4 0.8 5.3 0.8 1.3 0.8 1.5 0.7 2 0.8 0.2 0.8 1.7 0.8 0.6 0.7 1.5 0.8-0.8 0.8 0.6 0.8 0.8 0.7 0.1 0.8 0.9 0.8 0.8 0.8 0.6 0.8 0.3 0.7 0.3 0.8-0.4 0.8-0.6 0.8 0.2 0.7-0.2 0.8 0.3 0.8 0.7 0.8-0.3 0.7 0.2 0.8-0.5 0.8 0.4 0.8 0.4 0.8-0.5 0.7-0.5 0.8 1.1 0.8-1 0.8 1.3 0.7-0.4 0.8 0.1 0.8-0.8 0.8-0.3 0.7 0.3 0.8 0.6 0.8-0.8 0.8 0.8 0.8 0.2 0.7-1 0.8 0.4 0.8-0.1 0.8 0 0.7-0.5 0.8 0.8 0.8-0.5 0.8 0.2 0.7-0.3 0.8 0.7 0.8-0.5 0.8 0.3 0.8 0.4 0.7 0.1 0.8-0.6 0.8 0.8 0.8-1.3 0.7 1.2 0.8 0.2 0.8-0.1 0.8-1.3 0.8 0.9 0.7 0.3 0.8 0.2 0.8 0 0.8-1 0.7 0.1 0.8-0.1 0.8-0.1 0.8 1 0.7-0.8 0.8 0.4 0.8-0.7 0.8 0 0.8-0.1 0.7 1.2 0.8-1.2 0.8-0.1 0.8 0 0.7 1.3 0.8-0.2 0.8 0.2 0.8 0.1 0.7-1.3 0.8 0.1 0.8 0.3 0.8-0.3 0.8 0.3 0.7 0.5 0.8 0.3 0.8 0 0.8-1 0.7 0.8 0.8-0.1 0.8-0.2 0.8 0.6 0.7-0.3 0.8-0.1 0.8-0.7 0.8 0.6 0.8 0.1 0.7-39.5 0.8-2.5 0.8-3.7 0.8-4.8 0.7-4.2 0.8-7 0.8-6.5 0.8-13.3 0.7-7 0.8-1.2 0.8-0.4 0.8 0.5 0.8-1 0.7 1.2 0.8-1.1 0.8 1 0.8 0.3 0.7-0.3 0.8-0.8 0.8-0.3 0.8 1.5 0.7-0.8 0.8 0.1 0.8-0.5 0.8 1 0.8-0.5 0.7 0.3 0.8-0.8 0.8 0.9 0.8-1 0.7 1 0.8 0.2 0.8-0.8 0.8 0.4 0.7 0.6 0.8-0.8 0.8 0.8 0.8-1 0.8 0.1 0.7-0.1 0.8 0.3 0.8 0.4 0.8 0 0.7 0 0.8-0.8 0.8 1.3 0.8-1.2 0.8 10.6 0.7 9 0.8 12.8 0.8 9.2 0.8 8.3 0.7 7.9 0.8 3.5 0.8 5.3 0.8 3.9 0.7 2.5 0.8 2.2 0.8 2.6 0.8 2.7 0.8 1.2 0.7 0.9 0.8 1 0.8-0.2 0.8 1.1 0.7 0.6 0.8 1.7 0.8 0.4 0.8-0.2 0.7 0.5 0.8 1 0.8-0.3 0.8-0.4 0.8 1.3 0.7 0.3 0.8 0.1 0.8-0.4 0.8 0.1 0.7 1 0.8 0 0.8-0.1 0.8-0.2 0.7-0.3 0.8 0.6 0.8-0.3 0.8 0.3 0.8-1.3 0.7 0.4 0.8 1 0.8-1.3 0.8 1.3 0.7-0.4 0.8-1 0.8 0.3 0.8 0.1 0.7 0.5 0.8 0.3 0.8-0.6 0.8 0.8 0.8-0.2 0.7-0.2 0.8 0.5 0.8-0.6 0.8-0.6 0.7 0.2 0.8 0.3 0.8-0.2 0.8 0.2 0.7 0.5 0.8-0.7 0.8 0.3 0.8-0.5 0.8-0.2 0.7 0.7 0.8-0.2 0.8-0.3 0.8 0.5 0.7 0.3 0.8-0.8 0.8-0.2 0.8 0.2 0.7 0.1 0.8-0.3 0.8 0.3 0.8 0.1 0.8 0.3 0.7 0.2 0.8-0.5 0.8 0.8 0.8-0.5 0.7-0.6 0.8 0.2 0.8 0.1 0.8 0.6 0.7-0.3 0.8-0.1 0.8-0.2 0.8 0.3 0.8-0.4 0.7-0.4 0.8-24.5 0.8-21.2 0.8-13 0.7-4.5 0.8-25.8 0.8-30.3 0.8 0.2 0.7-2.1 0.8 0.6 0.8-0.9 0.8-0.3 0.8 0.7 0.7 0.6 0.8-0.7 0.8 0 0.8-0.2 0.7 0.3 0.8-0.2 0.8-0.3 0.8 0.5 0.8 0.1 0.7-0.8 0.8 1.1 0.8-0.7 0.8 0.5 0.7-0.6 0.8 1 0.8-1.4 0.8 1 0.7 0.5 0.8-0.4 0.8-0.2 0.8 0.6 0.8-0.6 0.7 0 0.8-0.4 0.8 0.5 0.8 0.2 0.7 0 0.8-0.8 0.8-0.3 0.8 0.6 0.7 0.5 0.8-0.9 0.8 0.7 0.8 0.2 0.8 0.2 0.7-1 0.8-0.1 0.8 13.1 0.8 19.5 0.7 12.7 0.8 10.1 0.8 8.5 0.8 7.3 0.7 6 0.8 6.1 0.8 6.4 0.8 7 0.8 3.5 0.7 2.8 0.8 3.8 0.8 2.1 0.8 2.1 0.7 0.5 0.8 2.2 0.8 1.1 0.8 1.4 0.7 1.1 0.8 1.6 0.8 0.8 0.8-0.6 0.8 1.1 0.7 0.5 0.8 0.4 0.8 0.2 0.8 0.6 0.7 0.2 0.8-0.1 0.8 0.5 0.8-0.9 0.7 0.1 0.8 1.3 0.8-1.2 0.8-0.1 0.8 0.1 0.7 1 0.8-1 0.8 0.3 0.8 0.9 0.7 0 0.8-1.4 0.8 0.4 0.8 0.7 0.7 0.2 0.8-0.1 0.8-0.1 0.8-0.8 0.8 0.6 0.7 0.3 0.8-1.1 0.8 0.1 0.8 1 0.7-1.1 0.8 0.4 0.8-0.3 0.8 0.2 0.8-0.3 0.7 0.1 0.8 0 0.8 0.9 0.8-0.7 0.7 0.2 0.8-0.3 0.8 0.5 0.8-0.7 0.7 0.5 0.8 0.4 0.8 0.1 0.8 0.1 0.8-0.5 0.7 0.7 0.8-0.7 0.8 0.5 0.8-0.5 0.7 0 0.8-0.1 0.8-0.5 0.8 1.3 0.7-1.2 0.8 0.5 0.8-0.1 0.8-0.2 0.8-0.2 0.7 0.7 0.8-0.1 0.8-0.8 0.8 1.3 0.7-0.8 0.8 0 0.8 0.9 0.8-0.9 0.7-0.1 0.8-0.4 0.8 0.9 0.8-1 0.8 0.8 0.7 0 0.8-0.6 0.8 1.3 0.8-1.1 0.7 0.2 0.8 0.4 0.8-0.8 0.8 0.8 0.7-0.2 0.8-0.1 0.8-0.3 0.8 0.8 0.8-0.3 0.7 0 0.8-0.2 0.8-0.4 0.8 0.8 0.7-20.1 0.8-24.9 0.8-10.5 0.4-7.9 0.4-8.7 0.4-9.7 0.3-8.5 0.4-13 0.4-25 0.4-12.8 0.4-2.3 0.8-5.1 0.8-0.1 0.7-0.2 0.8 1.1 0.8-1 0.8-0.3 0.7 0.5 0.8 0.8 0.8-0.4 0.8 0.5 0.7-0.3 0.8-1.1 0.8 0.4 0.8 0 0.8-0.2 0.7-0.2 0.8 0.4 0.8 0 0.8 0 0.7-0.1 0.8 0.2 0.8-0.2 0.8 0.8 0.7-0.7 0.8 0.3 0.8-0.5 0.8 1 0.8-0.1 0.7 0.2 0.8-1.1 0.8-0.2 0.8 0.4 0.7 0.4 0.8-0.7 0.8 0.1 0.8 0.3 0.7 0.5 0.8-0.1 0.8-0.2 0.8 0.2 0.8-0.2 0.7-0.3 0.8-0.5 0.8 1.4 0.8-0.8 0.7 0.8 0.8-0.1 0.8-1.1 0.8 10 0.8 11 0.7 25.1 0.8 19.9 0.8 18.7 0.8 9.3 0.7 9 0.8 6.4 0.8 7.2 0.8 6.5 0.7 3.7 0.8 2.3 0.8 3.9 0.8 3.3 0.8 1.5 0.7 1.3 0.8 0.2 0.8 2.2 0.8 0 0.7 2.6 0.8 0.1 0.8 1.4 0.8 0.5 0.7-0.8 0.8 1 0.8-0.4 0.8 1.1 0.8 0.5 0.7-0.8 0.8 0.4 0.8 0 0.8 0.5 0.7 1.3 0.8-0.5 0.8-0.1 0.8 0.3 0.7-0.7 0.8 1.1 0.8-1.1 0.8 0.3 0.8 1.1 0.7 0 0.8-1 0.8-0.2 0.8 1.1 0.7-0.3 0.8-0.7 0.8 0.9 0.8-1.1 0.7 0.6 0.8 0.7 0.8-0.5 0.8-0.3 0.8 0.2 0.7-0.4 0.8 0.8 0.8-1 0.8 0.7 0.7-0.4" fill="none" stroke="#e0661a" stroke-width="1.5" stroke-linejoin="round"/>
<path d="M876.3 526.6h0m0.8-0.3h0m0.8 0.4h0m0.7 0.3h0m0.8-0.3h0m0.8-0.3h0m0.8-0.1h0m0.7-0.1h0m0.8-0.2h0m0.8 0.3h0m0.8 0.9h0m0.7-1.1h0m0.8 0.8h0m0.8-0.4h0m0.8 0.3h0m0.8-0.6h0m0.7 0.8h0m0.8 0h0m0.8 0h0m0.8 0.1h0m0.7-1.1h0m0.8 0.5h0m0.8 0.3h0m0.8-0.1h0m0.7-0.9h0m0.8 0.8h0m0.8 0.4h0m0.8-0.9h0m0.8 0.2h0m0.7-0.5h0m0.8 1.4h0m0.8-0.6h0m0.8-0.5h0m0.7 0h0m0.8-0.2h0m0.8 1.4h0m0.8-0.4h0m0.7 0.3h0m0.8-0.1h0m0.8-1.2h0m0.8 0.6h0m0.8-0.6h0m0.7 0.9h0m0.8-0.8h0m0.8 0.7h0m0.8 0.2h0m0.7-0.7h0m0.8-0.3h0m0.8 1.3h0m0.8-0.8h0m0.8 0h0m0.7 0.6h0m0.8-0.2h0m0.8 0.3h0m0.8-0.1h0m0.7 0h0m0.8-0.6h0m0.8-0.1h0m0.8 0.7h0m0.7 0.3h0m0.8-0.5h0m0.8-0.5h0m0.8 0.8h0m0.8-0.2h0m0.7 0.1h0m0.8-0.9h0m0.8 0.4h0m0.8 0.8h0m0.7-0.1h0m0.8-0.5h0m0.8-0.2h0m0.8-0.1h0m0.7 0.8h0m0.8-0.1h0m0.8-0.8h0m0.8 0.4h0m0.8 0.2h0m0.7 0h0m0.8-1h0m0.8 1h0m0.8-0.4h0m0.7-18.9h0m0.8-9.1h0m0.8-0.7h0m0.8-0.2h0m0.7 0.9h0m0.8 0.2h0m0.8-0.8h0m0.8 0.7h0m0.8 0.3h0m0.7-1.4h0m0.8 0.7h0m0.8-0.6h0m0.8 0.6h0m0.7-0.8h0m0.8 0.6h0m0.8 0.5h0m0.8 0.2h0m0.7-0.9h0m0.8-0.2h0m0.8-0.4h0m0.8 1.2h0m0.8-0.8h0m0.7 0.3h0m0.8-0.2h0m0.8 0.5h0m0.8-0.2h0m0.7-0.4h0m0.8-0.7h0m0.8 1.3h0m0.8-0.7h0m0.7-0.5h0m0.8-0.3h0m0.8 1.2h0m0.8 0.1h0m0.8-1.3h0m0.7-0.1h0m0.8 0.7h0m0.8 0.7h0m0.8-1.4h0m0.7 0.8h0m0.8-0.8h0m0.8 0.4h0m0.8-0.4h0m0.7 1h0m0.8 1h0m0.8 2.8h0m0.8 2.9h0m0.8 2.5h0m0.7 3h0m0.8 4h0m0.8 3h0m0.8 1h0m0.7 1.1h0m0.8 1.4h0m0.8 1.7h0m0.8 1.1h0m0.7-0.4h0m0.8 0.1h0m0.8 1.7h0m0.8-0.4h0m0.8 0h0m0.7 1.5h0m0.8-0.9h0m0.8 1.5h0m0.8-0.4h0m0.7 0.1h0m0.8-0.1h0m0.8 0.6h0m0.8-0.2h0m0.7-0.2h0m0.8 0.3h0m0.8-0.3h0m0.8 0.4h0m0.8 0h0m0.7 0.7h0m0.8-0.9h0m0.8 0.3h0m0.8 0.4h0m0.7-0.8h0m0.8 0h0m0.8 0.5h0m0.8 0.5h0m0.8-0.5h0m0.7 0.6h0m0.8 0h0m0.8-0.5h0m0.8 0.5h0m0.7-0.5h0m0.8-0.1h0m0.8 0.7h0m0.8-0.9h0m0.7 0.8h0m0.8-1h0m0.8 0h0m0.8 0.4h0m0.8 0.7h0m0.7-0.7h0m0.8 0.2h0m0.8-0.9h0m0.8 1.2h0m0.7-1.1h0m0.8-0.2h0m0.8 0.4h0m0.8-0.1h0m0.7 1h0m0.8-1.3h0m0.8 0.8h0m0.8-0.7h0m0.8 0h0m0.7 1.2h0m0.8-1h0m0.8-0.2h0m0.8 1.3h0m0.7-0.4h0m0.8-0.6h0m0.8 0.9h0m0.8-1.1h0m0.7 0.9h0m0.8-0.8h0m0.8 1h0m0.8-0.5h0m0.8-0.7h0m0.7 1.1h0m0.8-0.1h0m0.8-0.3h0m0.8 0.3h0m0.7 0.4h0m0.8-0.2h0m0.8 0h0m0.8-1.2h0m0.7 0.4h0m0.8-0.3h0m0.8 1.1h0m0.8-1h0m0.8 1.1h0m0.7-0.7h0m0.8-0.1h0m0.8 0.4h0m0.8-0.8h0m0.7 0.5h0m0.8 0h0m0.8-0.5h0m0.8 1.2h0m0.7-1.4h0m0.8 0.6h0m0.8 0.3h0m0.8-0.6h0m0.8 0.8h0m0.7-1.1h0m0.8 0.7h0m0.8 0.3h0m0.8-0.6h0m0.7 0.5h0m0.8 0.4h0m0.8-0.9h0m0.8 1.1h0m0.7-1.2h0m0.8 0.9h0m0.8-0.6h0m0.8-0.6h0m0.8 0.6h0m0.7-0.1h0m0.8 0.6h0m0.8 0.4h0m0.8-25.6h0m0.7-29.7h0m0.8-3.3h0m0.8 0.3h0m0.8-0.1h0m0.8-0.6h0m0.7 1.2h0m0.8-0.1h0m0.8-0.7h0m0.8 1h0m0.7 0.1h0m0.8-0.6h0m0.8 0.4h0m0.8-0.3h0m0.7 0.2h0m0.8-0.5h0m0.8 0h0m0.8 0.6h0m0.8-0.7h0m0.7 0.3h0m0.8 0.5h0m0.8-1.2h0m0.8 1.1h0m0.7 0.1h0m0.8 0.1h0m0.8-0.8h0m0.8-0.3h0m0.7 0.1h0m0.8 0.6h0m0.8 0.2h0m0.8 0.4h0m0.8-0.9h0m0.7 0.1h0m0.8 0.4h0m0.8-0.5h0m0.8 0.4h0m0.7-0.8h0m0.8 0.3h0m0.8 0.8h0m0.8-1h0m0.7 1.3h0m0.8-0.7h0m0.8 0.2h0m0.8 0.3h0m0.8 0.3h0m0.7-1.1h0m0.8 1.2h0m0.8 2h0m0.8 2.3h0m0.7 7.7h0m0.8 6.3h0m0.8 5.8h0m0.8 6.5h0m0.7 4.1h0m0.8 4h0m0.8 5.3h0m0.8 1.3h0m0.8 1.5h0m0.7 2h0m0.8 0.2h0m0.8 1.7h0m0.8 0.6h0m0.7 1.5h0m0.8-0.8h0m0.8 0.6h0m0.8 0.8h0m0.7 0.1h0m0.8 0.9h0m0.8 0.8h0m0.8 0.6h0m0.8 0.3h0m0.7 0.3h0m0.8-0.4h0m0.8-0.6h0m0.8 0.2h0m0.7-0.2h0m0.8 0.3h0m0.8 0.7h0m0.8-0.3h0m0.7 0.2h0m0.8-0.5h0m0.8 0.4h0m0.8 0.4h0m0.8-0.5h0m0.7-0.5h0m0.8 1.1h0m0.8-1h0m0.8 1.3h0m0.7-0.4h0m0.8 0.1h0m0.8-0.8h0m0.8-0.3h0m0.7 0.3h0m0.8 0.6h0m0.8-0.8h0m0.8 0.8h0m0.8 0.2h0m0.7-1h0m0.8 0.4h0m0.8-0.1h0m0.8 0h0m0.7-0.5h0m0.8 0.8h0m0.8-0.5h0m0.8 0.2h0m0.7-0.3h0m0.8 0.7h0m0.8-0.5h0m0.8 0.3h0m0.8 0.4h0m0.7 0.1h0m0.8-0.6h0m0.8 0.8h0m0.8-1.3h0m0.7 1.2h0m0.8 0.2h0m0.8-0.1h0m0.8-1.3h0m0.8 0.9h0m0.7 0.3h0m0.8 0.2h0m0.8 0h0m0.8-1h0m0.7 0.1h0m0.8-0.1h0m0.8-0.1h0m0.8 1h0m0.7-0.8h0m0.8 0.4h0m0.8-0.7h0m0.8 0h0m0.8-0.1h0m0.7 1.2h0m0.8-1.2h0m0.8-0.1h0m0.8 0h0m0.7 1.3h0m0.8-0.2h0m0.8 0.2h0m0.8 0.1h0m0.7-1.3h0m0.8 0.1h0m0.8 0.3h0m0.8-0.3h0m0.8 0.3h0m0.7 0.5h0m0.8 0.3h0m0.8 0h0m0.8-1h0m0.7 0.8h0m0.8-0.1h0m0.8-0.2h0m0.8 0.6h0m0.7-0.3h0m0.8-0.1h0m0.8-0.7h0m0.8 0.6h0m0.8 0.1h0m0.7-39.5h0m0.8-2.5h0m0.8-3.7h0m0.8-4.8h0m0.7-4.2h0m0.8-7h0m0.8-6.5h0m0.8-13.3h0m0.7-7h0m0.8-1.2h0m0.8-0.4h0m0.8 0.5h0m0.8-1h0m0.7 1.2h0m0.8-1.1h0m0.8 1h0m0.8 0.3h0m0.7-0.3h0m0.8-0.8h0m0.8-0.3h0m0.8 1.5h0m0.7-0.8h0m0.8 0.1h0m0.8-0.5h0m0.8 1h0m0.8-0.5h0m0.7 0.3h0m0.8-0.8h0m0.8 0.9h0m0.8-1h0m0.7 1h0m0.8 0.2h0m0.8-0.8h0m0.8 0.4h0m0.7 0.6h0m0.8-0.8h0m0.8 0.8h0m0.8-1h0m0.8 0.1h0m0.7-0.1h0m0.8 0.3h0m0.8 0.4h0m0.8 0h0m0.7 0h0m0.8-0.8h0m0.8 1.3h0m0.8-1.2h0m0.8 10.6h0m0.7 9h0m0.8 12.8h0m0.8 9.2h0m0.8 8.3h0m0.7 7.9h0m0.8 3.5h0m0.8 5.3h0m0.8 3.9h0m0.7 2.5h0m0.8 2.2h0m0.8 2.6h0m0.8 2.7h0m0.8 1.2h0m0.7 0.9h0m0.8 1h0m0.8-0.2h0m0.8 1.1h0m0.7 0.6h0m0.8 1.7h0m0.8 0.4h0m0.8-0.2h0m0.7 0.5h0m0.8 1h0m0.8-0.3h0m0.8-0.4h0m0.8 1.3h0m0.7 0.3h0m0.8 0.1h0m0.8-0.4h0m0.8 0.1h0m0.7 1h0m0.8 0h0m0.8-0.1h0m0.8-0.2h0m0.7-0.3h0m0.8 0.6h0m0.8-0.3h0m0.8 0.3h0m0.8-1.3h0m0.7 0.4h0m0.8 1h0m0.8-1.3h0m0.8 1.3h0m0.7-0.4h0m0.8-1h0m0.8 0.3h0m0.8 0.1h0m0.7 0.5h0m0.8 0.3h0m0.8-0.6h0m0.8 0.8h0m0.8-0.2h0m0.7-0.2h0m0.8 0.5h0m0.8-0.6h0m0.8-0.6h0m0.7 0.2h0m0.8 0.3h0m0.8-0.2h0m0.8 0.2h0m0.7 0.5h0m0.8-0.7h0m0.8 0.3h0m0.8-0.5h0m0.8-0.2h0m0.7 0.7h0m0.8-0.2h0m0.8-0.3h0m0.8 0.5h0m0.7 0.3h0m0.8-0.8h0m0.8-0.2h0m0.8 0.2h0m0.7 0.1h0m0.8-0.3h0m0.8 0.3h0m0.8 0.1h0m0.8 0.3h0m0.7 0.2h0m0.8-0.5h0m0.8 0.8h0m0.8-0.5h0m0.7-0.6h0m0.8 0.2h0m0.8 0.1h0m0.8 0.6h0m0.7-0.3h0m0.8-0.1h0m0.8-0.2h0m0.8 0.3h0m0.8-0.4h0m0.7-0.4h0m0.8-24.5h0m0.8-21.2h0m0.8-13h0m0.7-4.5h0m0.8-25.8h0m0.8-30.3h0m0.8 0.2h0m0.7-2.1h0m0.8 0.6h0m0.8-0.9h0m0.8-0.3h0m0.8 0.7h0m0.7 0.6h0m0.8-0.7h0m0.8 0h0m0.8-0.2h0m0.7 0.3h0m0.8-0.2h0m0.8-0.3h0m0.8 0.5h0m0.8 0.1h0m0.7-0.8h0m0.8 1.1h0m0.8-0.7h0m0.8 0.5h0m0.7-0.6h0m0.8 1h0m0.8-1.4h0m0.8 1h0m0.7 0.5h0m0.8-0.4h0m0.8-0.2h0m0.8 0.6h0m0.8-0.6h0m0.7 0h0m0.8-0.4h0m0.8 0.5h0m0.8 0.2h0m0.7 0h0m0.8-0.8h0m0.8-0.3h0m0.8 0.6h0m0.7 0.5h0m0.8-0.9h0m0.8 0.7h0m0.8 0.2h0m0.8 0.2h0m0.7-1h0m0.8-0.1h0m0.8 13.1h0m0.8 19.5h0m0.7 12.7h0m0.8 10.1h0m0.8 8.5h0m0.8 7.3h0m0.7 6h0m0.8 6.1h0m0.8 6.4h0m0.8 7h0m0.8 3.5h0m0.7 2.8h0m0.8 3.8h0m0.8 2.1h0m0.8 2.1h0m0.7 0.5h0m0.8 2.2h0m0.8 1.1h0m0.8 1.4h0m0.7 1.1h0m0.8 1.6h0m0.8 0.8h0m0.8-0.6h0m0.8 1.1h0m0.7 0.5h0m0.8 0.4h0m0.8 0.2h0m0.8 0.6h0m0.7 0.2h0m0.8-0.1h0m0.8 0.5h0m0.8-0.9h0m0.7 0.1h0m0.8 1.3h0m0.8-1.2h0m0.8-0.1h0m0.8 0.1h0m0.7 1h0m0.8-1h0m0.8 0.3h0m0.8 0.9h0m0.7 0h0m0.8-1.4h0m0.8 0.4h0m0.8 0.7h0m0.7 0.2h0m0.8-0.1h0m0.8-0.1h0m0.8-0.8h0m0.8 0.6h0m0.7 0.3h0m0.8-1.1h0m0.8 0.1h0m0.8 1h0m0.7-1.1h0m0.8 0.4h0m0.8-0.3h0m0.8 0.2h0m0.8-0.3h0m0.7 0.1h0m0.8 0h0m0.8 0.9h0m0.8-0.7h0m0.7 0.2h0m0.8-0.3h0m0.8 0.5h0m0.8-0.7h0m0.7 0.5h0m0.8 0.4h0m0.8 0.1h0m0.8 0.1h0m0.8-0.5h0m0.7 0.7h0m0.8-0.7h0m0.8 0.5h0m0.8-0.5h0m0.7 0h0m0.8-0.1h0m0.8-0.5h0m0.8 1.3h0m0.7-1.2h0m0.8 0.5h0m0.8-0.1h0m0.8-0.2h0m0.8-0.2h0m0.7 0.7h0m0.8-0.1h0m0.8-0.8h0m0.8 1.3h0m0.7-0.8h0m0.8 0h0m0.8 0.9h0m0.8-0.9h0m0.7-0.1h0m0.8-0.4h0m0.8 0.9h0m0.8-1h0m0.8 0.8h0m0.7 0h0m0.8-0.6h0m0.8 1.3h0m0.8-1.1h0m0.7 0.2h0m0.8 0.4h0m0.8-0.8h0m0.8 0.8h0m0.7-0.2h0m0.8-0.1h0m0.8-0.3h0m0.8 0.8h0m0.8-0.3h0m0.7 0h0m0.8-0.2h0m0.8-0.4h0m0.8 0.8h0m0.7-20.1h0m0.8-24.9h0m0.8-10.5h0m0.4-7.9h0m0.4-8.7h0m0.4-9.7h0m0.3-8.5h0m0.4-13h0m0.4-25h0m0.4-12.8h0m0.4-2.3h0m0.8-5.1h0m0.8-0.1h0m0.7-0.2h0m0.8 1.1h0m0.8-1h0m0.8-0.3h0m0.7 0.5h0m0.8 0.8h0m0.8-0.4h0m0.8 0.5h0m0.7-0.3h0m0.8-1.1h0m0.8 0.4h0m0.8 0h0m0.8-0.2h0m0.7-0.2h0m0.8 0.4h0m0.8 0h0m0.8 0h0m0.7-0.1h0m0.8 0.2h0m0.8-0.2h0m0.8 0.8h0m0.7-0.7h0m0.8 0.3h0m0.8-0.5h0m0.8 1h0m0.8-0.1h0m0.7 0.2h0m0.8-1.1h0m0.8-0.2h0m0.8 0.4h0m0.7 0.4h0m0.8-0.7h0m0.8 0.1h0m0.8 0.3h0m0.7 0.5h0m0.8-0.1h0m0.8-0.2h0m0.8 0.2h0m0.8-0.2h0m0.7-0.3h0m0.8-0.5h0m0.8 1.4h0m0.8-0.8h0m0.7 0.8h0m0.8-0.1h0m0.8-1.1h0m0.8 10h0m0.8 11h0m0.7 25.1h0m0.8 19.9h0m0.8 18.7h0m0.8 9.3h0m0.7 9h0m0.8 6.4h0m0.8 7.2h0m0.8 6.5h0m0.7 3.7h0m0.8 2.3h0m0.8 3.9h0m0.8 3.3h0m0.8 1.5h0m0.7 1.3h0m0.8 0.2h0m0.8 2.2h0m0.8 0h0m0.7 2.6h0m0.8 0.1h0m0.8 1.4h0m0.8 0.5h0m0.7-0.8h0m0.8 1h0m0.8-0.4h0m0.8 1.1h0m0.8 0.5h0m0.7-0.8h0m0.8 0.4h0m0.8 0h0m0.8 0.5h0m0.7 1.3h0m0.8-0.5h0m0.8-0.1h0m0.8 0.3h0m0.7-0.7h0m0.8 1.1h0m0.8-1.1h0m0.8 0.3h0m0.8 1.1h0m0.7 0h0m0.8-1h0m0.8-0.2h0m0.8 1.1h0m0.7-0.3h0m0.8-0.7h0m0.8 0.9h0m0.8-1.1h0m0.7 0.6h0m0.8 0.7h0m0.8-0.5h0m0.8-0.3h0m0.8 0.2h0m0.7-0.4h0m0.8 0.8h0m0.8-1h0m0.8 0.7h0m0.7-0.4h0" stroke="#e0661a" stroke-width="6.6" stroke-linecap="round" fill="none"/>
<path d="M937.4 525.4h0m0.7-18.9h0m34.2-9h0m0.8 2.8h0m0.8 2.9h0m0.8 2.5h0m0.7 3h0m0.8 4h0m3.1 6.5h0m3.1 2.5h0m82.4 4.5h0m0.8-25.6h0m35.7-31.4h0m0.8 2h0m0.8 2.3h0m0.7 7.7h0m0.8 6.3h0m0.8 5.8h0m0.8 6.5h0m0.7 4.1h0m0.8 4h0m2.4 8.1h0m1.5 2.2h0m76.2 7.6h0m2.3-45.7h0m0.8-4.8h0m0.7-4.2h0m0.8-7h0m0.8-6.5h0m0.8-13.3h0m30.3-8.5h0m0.8 10.6h0m0.7 9h0m0.8 12.8h0m0.8 9.2h0m0.8 8.3h0m0.7 7.9h0m0.8 3.5h0m0.8 5.3h0m0.8 3.9h0m0.7 2.5h0m0.8 2.2h0m0.8 2.6h0m5.4 7.3h0m57.5 3.9h0m0.8-24.5h0m0.8-21.2h0m0.8-13h0m0.7-4.5h0m0.8-25.8h0m34.2-32.6h0m0.8 13.1h0m0.8 19.5h0m0.7 12.7h0m0.8 10.1h0m0.8 8.5h0m0.8 7.3h0m0.7 6h0m0.8 6.1h0m0.8 6.4h0m0.8 7h0m0.8 3.5h0m0.7 2.8h0m0.8 3.8h0m0.8 2.1h0m1.5 2.6h0m3.1 5.8h0m73.9 5.3h0m0.7-20.1h0m0.8-24.9h0m0.8-10.5h0m0.4-7.9h0m0.4-8.7h0m0.4-9.7h0m0.3-8.5h0m0.4-13h0m0.4-25h0m0.8-15.1h0m37.3-5.5h0m0.8 10h0m0.8 11h0m0.7 25.1h0m0.8 19.9h0m0.8 18.7h0m0.8 9.3h0m0.7 9h0m0.8 6.4h0m0.8 7.2h0m0.8 6.5h0m0.7 3.7h0m0.8 2.3h0m0.8 3.9h0m3.1 6.3h0m1.6 2.2h0m31 6.9h0" stroke="#fff" stroke-width="2" stroke-linecap="round" fill="none" stroke-opacity="0.6"/>
<path d="M876.3 526.4l0.8 0.3 0.8 0.1 0.7-0.7 0.8-0.2 0.8 0.2 0.8 0.4 0.7 0.4 0.8 0.4 0.8-1.4 0.8 0.4 0.7-0.2 0.8 0.7 0.8-0.4 0.8-0.6 0.8 0.3 0.7 0.3 0.8 0.5 0.8-0.2 0.8-0.7 0.7 0.8 0.8-0.5 0.8 0.1 0.8-0.4 0.7 0.1 0.8 0.8 0.8 0.4 0.8-0.4 0.8-0.2 0.7-0.3 0.8-0.3 0.8-0.1 0.8 1.3 0.7-1.2 0.8 0 0.8-0.1 0.8 0.5 0.7 0.4 0.8-0.9 0.8 0.1 0.8 0.2 0.8-0.4 0.7 0.9 0.8 0.4 0.8-0.7 0.8-0.4 0.7 0.9 0.8-0.8 0.8-0.3 0.8 1.1 0.8-0.6 0.7-0.1 0.8 0.3 0.8 0.4 0.8 0 0.7-0.8 0.8-0.1 0.8 0.5 0.8 0.6 0.7-1.1 0.8 0.1 0.8 0.8 0.8-0.5 0.8-0.5 0.7 0 0.8 0.5 0.8 0.1 0.8-0.2 0.7 0.7 0.8 0 0.8 0 0.8-0.8 0.7 0.5 0.8-0.3 0.8 0.2 0.8-0.1 0.8 0.5 0.7 0.2 0.8-1.5 0.8 1 0.8-1.8 0.7-2.9 0.8-2.4 0.8-0.6 0.8-2.3 0.7-1.2 0.8-1.9 0.8-0.1 0.8-0.8 0.8-2.4 0.7-0.6 0.8-0.3 0.8-1 0.8 0.3 0.7-1.1 0.8 0.3 0.8-1 0.8 0 0.7-0.3 0.8-0.5 0.8 0.9 0.8 0.3 0.8-0.3 0.7 0 0.8 0.2 0.8 0 0.8-0.8 0.7-0.5 0.8 0.6 0.8-0.8 0.8 0 0.7 1.3 0.8-0.8 0.8 0.3 0.8 0.4 0.8-1.3 0.7 1 0.8-0.5 0.8-0.1 0.8-0.5 0.7 0.4 0.8 0.4 0.8-0.1 0.8 0.4 0.7-1.3 0.8 0 0.8 1.1 0.8 0.3 0.8-0.4 0.7 1.6 0.8 0.9 0.8 1.7 0.8 2.6 0.7 3.8 0.8 1.4 0.8 1.4 0.8 1.4 0.7 0.8 0.8 2.7 0.8 0.2 0.8-0.5 0.8 0 0.7 0.8 0.8 1 0.8-0.1 0.8 0.1 0.7 1 0.8-0.3 0.8 0.1 0.8 0.2 0.7-0.6 0.8 0.5 0.8-0.1 0.8 0.1 0.8-0.8 0.7 1 0.8-1.1 0.8 0.8 0.8 0.3 0.7-1.4 0.8 1.1 0.8-1.1 0.8 0.1 0.8 0 0.7 1.1 0.8-0.4 0.8 0.5 0.8-1.3 0.7 0.2 0.8 0.3 0.8 0.3 0.8 0.1 0.7-0.7 0.8 0.5 0.8-0.2 0.8 0.7 0.8-0.1 0.7 0.3 0.8-1 0.8 0.2 0.8 0.6 0.7-1.1 0.8 0.9 0.8-0.2 0.8 0.4 0.7-0.2 0.8-0.8 0.8 0.7 0.8 0.3 0.8-0.5 0.7 0.3 0.8-0.9 0.8 1.2 0.8-1.4 0.7 1.5 0.8-1.3 0.8 0.3 0.8 0.7 0.7-0.4 0.8 0.3 0.8 0.1 0.8 0 0.8-0.2 0.7-1 0.8 0 0.8 0.1 0.8 1.3 0.7-0.3 0.8-0.9 0.8 1.3 0.8-1.1 0.7 0.7 0.8-1.1 0.8 1.5 0.8-1.2 0.8 0.7 0.7 0.3 0.8 0.2 0.8-1.2 0.8 0.4 0.7 0.6 0.8-0.4 0.8-0.8 0.8 1.1 0.7-0.5 0.8 0.6 0.8 0 0.8-0.9 0.8 0.1 0.7 0.7 0.8 0.2 0.8 0 0.8-0.8 0.7 0.2 0.8 0.3 0.8 0.1 0.8-0.6 0.7-0.1 0.8-0.2 0.8 0.4 0.8 0.5 0.8 0.2 0.7-1 0.8 0.5 0.8-3 0.8-1.6 0.7-3.7 0.8-1.5 0.8-3 0.8-2.3 0.8-1.7 0.7-0.1 0.8-2.2 0.8-0.2 0.8-1.5 0.7 0.1 0.8-0.7 0.8-1.3 0.8 0.4 0.7 0 0.8-0.6 0.8-0.6 0.8 0.6 0.8-1 0.7-0.2 0.8-0.4 0.8 0.6 0.8-1 0.7-0.1 0.8-0.1 0.8 0.8 0.8-0.7 0.7 0.5 0.8-0.6 0.8 1.1 0.8-1.3 0.8-0.1 0.7 0.6 0.8 0 0.8-0.1 0.8 0 0.7 0.8 0.8-1.5 0.8 1.1 0.8 0 0.7 0.1 0.8-0.2 0.8-0.9 0.8 1.2 0.8-0.1 0.7-1 0.8 0.8 0.8 2.1 0.8 1.1 0.7 1.9 0.8 3.1 0.8 2.7 0.8 3.9 0.7 0.5 0.8 1.8 0.8 2.6 0.8 1.5 0.8 0 0.7 0.5 0.8 0.9 0.8 0.8 0.8 0.1 0.7 1 0.8-0.2 0.8-0.4 0.8 1.1 0.7-0.6 0.8-0.3 0.8 0.9 0.8-1 0.8-0.2 0.7 0.9 0.8-0.1 0.8-0.6 0.8 0.4 0.7 0.2 0.8-0.8 0.8 0.3 0.8 0.6 0.7 0.2 0.8-0.2 0.8-0.1 0.8-0.9 0.8 0.3 0.7-0.2 0.8 0.2 0.8-0.1 0.8 1.3 0.7-0.7 0.8-0.7 0.8 0 0.8 1.1 0.7-0.3 0.8-0.3 0.8 0.4 0.8-0.3 0.8 0.7 0.7-0.5 0.8-0.1 0.8 0.7 0.8-0.2 0.7-1.2 0.8 0.3 0.8-0.3 0.8 0.5 0.7-0.3 0.8-0.1 0.8 0 0.8 1.3 0.8-0.9 0.7 0.5 0.8-0.6 0.8 0.6 0.8-0.4 0.7-0.6 0.8 0.5 0.8 0.6 0.8-0.5 0.8 0.2 0.7-0.8 0.8 1 0.8 0 0.8-0.5 0.7 0.8 0.8-0.8 0.8-0.5 0.8 0.7 0.7 0.3 0.8-0.3 0.8-0.1 0.8 0.6 0.8 0.1 0.7-0.1 0.8-0.2 0.8-0.2 0.8 0.2 0.7 0.1 0.8 0.2 0.8-0.7 0.8-0.4 0.7 0.3 0.8 0.1 0.8-0.2 0.8 0.7 0.8-0.7 0.7 0.3 0.8-0.1 0.8-0.1 0.8 0.2 0.7 0.3 0.8 0.1 0.8 0 0.8-0.4 0.7 0.2 0.8-0.4 0.8-1.6 0.8-3.1 0.8-3.4 0.7-1.3 0.8-2.7 0.8-2.1 0.8-2 0.7-2.1 0.8 0 0.8-1.8 0.8-0.1 0.7-1 0.8-2.3 0.8 0.1 0.8-0.1 0.8-1.1 0.7-0.8 0.8-1.1 0.8 0.4 0.8-0.9 0.7-1.7 0.8 0.2 0.8 0.8 0.8-0.5 0.7-0.1 0.8-0.6 0.8-0.1 0.8-0.5 0.8 0 0.7 0.3 0.8-0.5 0.8-0.1 0.8-0.2 0.7 0.3 0.8-0.6 0.8 0 0.8-0.4 0.7 1.1 0.8-1.3 0.8 1.2 0.8-1.3 0.8 0.2 0.7 0 0.8-0.9 0.8 0.5 0.8 0.1 0.7-0.7 0.8-0.3 0.8 0.3 0.8 0.2 0.8-0.2 0.7 2.6 0.8 2.1 0.8 3.2 0.8 3.7 0.7 3.6 0.8 4.1 0.8 2.1 0.8 1.2 0.7 1.8 0.8 2.5 0.8 0.9 0.8 1.2 0.8 0.7 0.7 1.1 0.8 0.2 0.8 0.9 0.8 0.7 0.7-1.3 0.8 1 0.8-0.8 0.8 0 0.7-0.2 0.8 1.1 0.8-0.3 0.8-0.8 0.8 1.4 0.7 0 0.8-0.8 0.8 0.1 0.8-0.7 0.7 0.3 0.8 0.3 0.8-0.7 0.8 0.8 0.7 0 0.8-0.3 0.8 0.4 0.8 0.1 0.8-0.4 0.7 0.4 0.8-0.9 0.8 0.4 0.8 0.2 0.7 0.7 0.8-0.4 0.8-0.1 0.8-0.2 0.7 0 0.8-0.5 0.8-0.1 0.8 0.7 0.8 0.1 0.7-0.3 0.8-0.6 0.8 1 0.8-0.3 0.7-0.4 0.8 1 0.8-0.2 0.8-1.1 0.7 0.3 0.8 0.5 0.8 0.6 0.8-1.2 0.8 0.3 0.7-0.2 0.8-0.3 0.8 0.2 0.8 0.7 0.7 0.4 0.8-0.2 0.8-0.3 0.8 0 0.7 0.5 0.8 0 0.8-0.7 0.8 0 0.8 0.4 0.7-1 0.8 0.6 0.8 0.9 0.8-0.6 0.7-0.6 0.8 0.8 0.8-0.6 0.8 1 0.7-0.4 0.8-0.8 0.8 0.3 0.8-3.5 0.8-2.7 0.7-3.9 0.8-3.3 0.8-2.7 0.8-3.8 0.7-3 0.8-3.3 0.8-1.9 0.8-2.4 0.7-2.1 0.8-2.6 0.8-2.5 0.8-0.5 0.8-1.5 0.7-1.7 0.8-2 0.8-0.8 0.8 0 0.7-0.5 0.8 0.8 0.8-0.2 0.8-1.4 0.8 0.4 0.7-0.9 0.8 0.3 0.8 0.2 0.8-0.1 0.7 0.2 0.8-1.2 0.8 0.5 0.8 0.4 0.7-0.2 0.8 0.1 0.8 0.5 0.8-1.3 0.8 0.5 0.7-0.6 0.8 0.8 0.8-0.3 0.8 0.6 0.7 0.3 0.8-1.3 0.8 0.1 0.8 0.8 0.7-0.9 0.8 0.1 0.8 0.8 0.8-0.4 0.8-0.6 0.7 0.7 0.8-0.7 0.8 1.1 0.8-0.2 0.7 3.8 0.8 5 0.8 4.1 0.8 3.9 0.7 5.3 0.8 4.2 0.8 3.7 0.8 3 0.8 2.6 0.7 3.2 0.8-0.1 0.8 2.1 0.8 0.7 0.7 1.8 0.8 0.4 0.8 1.4 0.8 1 0.7 0.5 0.8 0 0.8-1.1 0.8 0.7 0.8 0.2 0.7 0.1 0.8-0.2 0.8 0.1 0.8 0.3 0.7-1 0.8 0.5 0.8 0.3 0.8-0.8 0.7 0.9 0.8-0.3 0.8-0.8 0.8 1.1 0.8-0.5 0.7-0.6 0.8 0 0.8 1 0.8-0.3 0.7-0.6 0.8 0.6 0.8-0.9 0.8 1.1 0.7-1.1 0.8 0.7 0.8 0.4 0.8-0.3 0.8 0.4 0.7-0.8 0.8 0.6 0.8-0.9 0.8 0.4 0.7 0.4 0.8 0.2 0.8-0.6 0.8 0.6 0.8-1 0.7 1.2 0.8-0.6 0.8-0.1 0.8 0.4 0.7-0.7 0.8 0.6 0.8-0.5 0.8 0.2 0.7 0.4 0.8-0.2 0.8 0.5 0.8-0.1 0.8-1.1 0.7 0.9 0.8-0.6 0.8 0.9 0.8-0.7 0.7 0.3 0.8-0.2 0.8 0.3 0.8 0.3 0.7-0.3 0.8 0.1 0.8 0.2 0.8-1 0.8 0.7 0.7-0.2 0.8-0.7 0.8 0.2 0.8-0.2 0.7 0 0.8 1.1 0.8-0.2 0.8 0.4 0.7-1 0.8 0 0.8 0.5 0.8-0.1 0.8-0.4 0.7 0 0.8 0.7 0.8-1 0.8 0.8 0.7-0.4 0.8 0.7 0.8 0.1 0.8-1.3 0.7 0.3 0.8 0.1 0.8 1 0.8 0 0.8-0.2 0.7-2.6 0.8-2.7 0.8-2.7 0.8-3.3 0.7-4.3 0.8-4.4 0.8-2.5 0.8-4.2 0.7-2.8 0.8-3.4 0.8-3.6 0.8-4.5 0.8-4.7 0.7-1.6 0.8-1.6 0.8-3.4 0.8-0.1 0.7 0.6 0.8 0.2 0.8-1.5 0.8 0.2 0.7 0.7 0.8-0.5 0.8 0.2 0.8-1 0.8 0.9 0.7-1.1 0.8 0.2 0.8 1.1 0.8-1 0.7 0.5 0.8-0.6 0.8-0.1 0.8 0.9 0.7 0.2 0.8-1.3 0.8 0.8 0.8-0.7 0.8 0.3 0.7 0 0.8-0.2 0.8 0.3 0.8 0.3 0.7 0.6 0.8-1 0.8 0.4 0.8-0.1 0.7-0.6 0.8 1.2 0.8-1 0.8 1.1 0.8-1 0.7-0.2 0.8 0.9 0.8-0.5 0.8-0.6 0.7 0.5 0.8 0.2 0.8 0.4 0.8 0.3 0.8-0.5 0.7 0 0.8 0.3 0.8-0.2 0.8 0.3 0.7-0.9 0.8 0.1 0.8 0.6 0.8 0 0.7 3.4 0.8 4 0.8 3.5 0.8 5.2 0.8 4.3 0.7 3.3 0.8 5.3 0.8 3.5 0.8 4.6 0.7 0.9 0.8 2.1 0.8 1.4 0.8 2.6 0.7 1 0.8 1.8 0.8 0.8 0.8 0.1 0.8 0.5 0.7 1.6 0.8 0.3 0.8 0.5 0.8 0.8 0.7 0.8 0.8 0.2 0.8 0.1 0.8-0.7 0.7 0.4 0.8 0.5 0.8-0.3 0.8-0.3 0.8 0.2 0.7 0.3 0.8 0.1 0.8 0.1 0.8-1.5 0.7 0.4 0.8 1 0.8-1 0.8-0.4 0.7 0.7 0.8 0.7 0.8-0.6 0.8 0.1 0.8 0.4 0.7-0.6 0.8 0.8 0.8-1.4 0.8 0.5 0.7 0" fill="none" stroke="#8a80c8" stroke-width="1.5" stroke-linejoin="round"/>
<path d="M876.3 526.4h0m0.8 0.3h0m0.8 0.1h0m0.7-0.7h0m0.8-0.2h0m0.8 0.2h0m0.8 0.4h0m0.7 0.4h0m0.8 0.4h0m0.8-1.4h0m0.8 0.4h0m0.7-0.2h0m0.8 0.7h0m0.8-0.4h0m0.8-0.6h0m0.8 0.3h0m0.7 0.3h0m0.8 0.5h0m0.8-0.2h0m0.8-0.7h0m0.7 0.8h0m0.8-0.5h0m0.8 0.1h0m0.8-0.4h0m0.7 0.1h0m0.8 0.8h0m0.8 0.4h0m0.8-0.4h0m0.8-0.2h0m0.7-0.3h0m0.8-0.3h0m0.8-0.1h0m0.8 1.3h0m0.7-1.2h0m0.8 0h0m0.8-0.1h0m0.8 0.5h0m0.7 0.4h0m0.8-0.9h0m0.8 0.1h0m0.8 0.2h0m0.8-0.4h0m0.7 0.9h0m0.8 0.4h0m0.8-0.7h0m0.8-0.4h0m0.7 0.9h0m0.8-0.8h0m0.8-0.3h0m0.8 1.1h0m0.8-0.6h0m0.7-0.1h0m0.8 0.3h0m0.8 0.4h0m0.8 0h0m0.7-0.8h0m0.8-0.1h0m0.8 0.5h0m0.8 0.6h0m0.7-1.1h0m0.8 0.1h0m0.8 0.8h0m0.8-0.5h0m0.8-0.5h0m0.7 0h0m0.8 0.5h0m0.8 0.1h0m0.8-0.2h0m0.7 0.7h0m0.8 0h0m0.8 0h0m0.8-0.8h0m0.7 0.5h0m0.8-0.3h0m0.8 0.2h0m0.8-0.1h0m0.8 0.5h0m0.7 0.2h0m0.8-1.5h0m0.8 1h0m0.8-1.8h0m0.7-2.9h0m0.8-2.4h0m0.8-0.6h0m0.8-2.3h0m0.7-1.2h0m0.8-1.9h0m0.8-0.1h0m0.8-0.8h0m0.8-2.4h0m0.7-0.6h0m0.8-0.3h0m0.8-1h0m0.8 0.3h0m0.7-1.1h0m0.8 0.3h0m0.8-1h0m0.8 0h0m0.7-0.3h0m0.8-0.5h0m0.8 0.9h0m0.8 0.3h0m0.8-0.3h0m0.7 0h0m0.8 0.2h0m0.8 0h0m0.8-0.8h0m0.7-0.5h0m0.8 0.6h0m0.8-0.8h0m0.8 0h0m0.7 1.3h0m0.8-0.8h0m0.8 0.3h0m0.8 0.4h0m0.8-1.3h0m0.7 1h0m0.8-0.5h0m0.8-0.1h0m0.8-0.5h0m0.7 0.4h0m0.8 0.4h0m0.8-0.1h0m0.8 0.4h0m0.7-1.3h0m0.8 0h0m0.8 1.1h0m0.8 0.3h0m0.8-0.4h0m0.7 1.6h0m0.8 0.9h0m0.8 1.7h0m0.8 2.6h0m0.7 3.8h0m0.8 1.4h0m0.8 1.4h0m0.8 1.4h0m0.7 0.8h0m0.8 2.7h0m0.8 0.2h0m0.8-0.5h0m0.8 0h0m0.7 0.8h0m0.8 1h0m0.8-0.1h0m0.8 0.1h0m0.7 1h0m0.8-0.3h0m0.8 0.1h0m0.8 0.2h0m0.7-0.6h0m0.8 0.5h0m0.8-0.1h0m0.8 0.1h0m0.8-0.8h0m0.7 1h0m0.8-1.1h0m0.8 0.8h0m0.8 0.3h0m0.7-1.4h0m0.8 1.1h0m0.8-1.1h0m0.8 0.1h0m0.8 0h0m0.7 1.1h0m0.8-0.4h0m0.8 0.5h0m0.8-1.3h0m0.7 0.2h0m0.8 0.3h0m0.8 0.3h0m0.8 0.1h0m0.7-0.7h0m0.8 0.5h0m0.8-0.2h0m0.8 0.7h0m0.8-0.1h0m0.7 0.3h0m0.8-1h0m0.8 0.2h0m0.8 0.6h0m0.7-1.1h0m0.8 0.9h0m0.8-0.2h0m0.8 0.4h0m0.7-0.2h0m0.8-0.8h0m0.8 0.7h0m0.8 0.3h0m0.8-0.5h0m0.7 0.3h0m0.8-0.9h0m0.8 1.2h0m0.8-1.4h0m0.7 1.5h0m0.8-1.3h0m0.8 0.3h0m0.8 0.7h0m0.7-0.4h0m0.8 0.3h0m0.8 0.1h0m0.8 0h0m0.8-0.2h0m0.7-1h0m0.8 0h0m0.8 0.1h0m0.8 1.3h0m0.7-0.3h0m0.8-0.9h0m0.8 1.3h0m0.8-1.1h0m0.7 0.7h0m0.8-1.1h0m0.8 1.5h0m0.8-1.2h0m0.8 0.7h0m0.7 0.3h0m0.8 0.2h0m0.8-1.2h0m0.8 0.4h0m0.7 0.6h0m0.8-0.4h0m0.8-0.8h0m0.8 1.1h0m0.7-0.5h0m0.8 0.6h0m0.8 0h0m0.8-0.9h0m0.8 0.1h0m0.7 0.7h0m0.8 0.2h0m0.8 0h0m0.8-0.8h0m0.7 0.2h0m0.8 0.3h0m0.8 0.1h0m0.8-0.6h0m0.7-0.1h0m0.8-0.2h0m0.8 0.4h0m0.8 0.5h0m0.8 0.2h0m0.7-1h0m0.8 0.5h0m0.8-3h0m0.8-1.6h0m0.7-3.7h0m0.8-1.5h0m0.8-3h0m0.8-2.3h0m0.8-1.7h0m0.7-0.1h0m0.8-2.2h0m0.8-0.2h0m0.8-1.5h0m0.7 0.1h0m0.8-0.7h0m0.8-1.3h0m0.8 0.4h0m0.7 0h0m0.8-0.6h0m0.8-0.6h0m0.8 0.6h0m0.8-1h0m0.7-0.2h0m0.8-0.4h0m0.8 0.6h0m0.8-1h0m0.7-0.1h0m0.8-0.1h0m0.8 0.8h0m0.8-0.7h0m0.7 0.5h0m0.8-0.6h0m0.8 1.1h0m0.8-1.3h0m0.8-0.1h0m0.7 0.6h0m0.8 0h0m0.8-0.1h0m0.8 0h0m0.7 0.8h0m0.8-1.5h0m0.8 1.1h0m0.8 0h0m0.7 0.1h0m0.8-0.2h0m0.8-0.9h0m0.8 1.2h0m0.8-0.1h0m0.7-1h0m0.8 0.8h0m0.8 2.1h0m0.8 1.1h0m0.7 1.9h0m0.8 3.1h0m0.8 2.7h0m0.8 3.9h0m0.7 0.5h0m0.8 1.8h0m0.8 2.6h0m0.8 1.5h0m0.8 0h0m0.7 0.5h0m0.8 0.9h0m0.8 0.8h0m0.8 0.1h0m0.7 1h0m0.8-0.2h0m0.8-0.4h0m0.8 1.1h0m0.7-0.6h0m0.8-0.3h0m0.8 0.9h0m0.8-1h0m0.8-0.2h0m0.7 0.9h0m0.8-0.1h0m0.8-0.6h0m0.8 0.4h0m0.7 0.2h0m0.8-0.8h0m0.8 0.3h0m0.8 0.6h0m0.7 0.2h0m0.8-0.2h0m0.8-0.1h0m0.8-0.9h0m0.8 0.3h0m0.7-0.2h0m0.8 0.2h0m0.8-0.1h0m0.8 1.3h0m0.7-0.7h0m0.8-0.7h0m0.8 0h0m0.8 1.1h0m0.7-0.3h0m0.8-0.3h0m0.8 0.4h0m0.8-0.3h0m0.8 0.7h0m0.7-0.5h0m0.8-0.1h0m0.8 0.7h0m0.8-0.2h0m0.7-1.2h0m0.8 0.3h0m0.8-0.3h0m0.8 0.5h0m0.7-0.3h0m0.8-0.1h0m0.8 0h0m0.8 1.3h0m0.8-0.9h0m0.7 0.5h0m0.8-0.6h0m0.8 0.6h0m0.8-0.4h0m0.7-0.6h0m0.8 0.5h0m0.8 0.6h0m0.8-0.5h0m0.8 0.2h0m0.7-0.8h0m0.8 1h0m0.8 0h0m0.8-0.5h0m0.7 0.8h0m0.8-0.8h0m0.8-0.5h0m0.8 0.7h0m0.7 0.3h0m0.8-0.3h0m0.8-0.1h0m0.8 0.6h0m0.8 0.1h0m0.7-0.1h0m0.8-0.2h0m0.8-0.2h0m0.8 0.2h0m0.7 0.1h0m0.8 0.2h0m0.8-0.7h0m0.8-0.4h0m0.7 0.3h0m0.8 0.1h0m0.8-0.2h0m0.8 0.7h0m0.8-0.7h0m0.7 0.3h0m0.8-0.1h0m0.8-0.1h0m0.8 0.2h0m0.7 0.3h0m0.8 0.1h0m0.8 0h0m0.8-0.4h0m0.7 0.2h0m0.8-0.4h0m0.8-1.6h0m0.8-3.1h0m0.8-3.4h0m0.7-1.3h0m0.8-2.7h0m0.8-2.1h0m0.8-2h0m0.7-2.1h0m0.8 0h0m0.8-1.8h0m0.8-0.1h0m0.7-1h0m0.8-2.3h0m0.8 0.1h0m0.8-0.1h0m0.8-1.1h0m0.7-0.8h0m0.8-1.1h0m0.8 0.4h0m0.8-0.9h0m0.7-1.7h0m0.8 0.2h0m0.8 0.8h0m0.8-0.5h0m0.7-0.1h0m0.8-0.6h0m0.8-0.1h0m0.8-0.5h0m0.8 0h0m0.7 0.3h0m0.8-0.5h0m0.8-0.1h0m0.8-0.2h0m0.7 0.3h0m0.8-0.6h0m0.8 0h0m0.8-0.4h0m0.7 1.1h0m0.8-1.3h0m0.8 1.2h0m0.8-1.3h0m0.8 0.2h0m0.7 0h0m0.8-0.9h0m0.8 0.5h0m0.8 0.1h0m0.7-0.7h0m0.8-0.3h0m0.8 0.3h0m0.8 0.2h0m0.8-0.2h0m0.7 2.6h0m0.8 2.1h0m0.8 3.2h0m0.8 3.7h0m0.7 3.6h0m0.8 4.1h0m0.8 2.1h0m0.8 1.2h0m0.7 1.8h0m0.8 2.5h0m0.8 0.9h0m0.8 1.2h0m0.8 0.7h0m0.7 1.1h0m0.8 0.2h0m0.8 0.9h0m0.8 0.7h0m0.7-1.3h0m0.8 1h0m0.8-0.8h0m0.8 0h0m0.7-0.2h0m0.8 1.1h0m0.8-0.3h0m0.8-0.8h0m0.8 1.4h0m0.7 0h0m0.8-0.8h0m0.8 0.1h0m0.8-0.7h0m0.7 0.3h0m0.8 0.3h0m0.8-0.7h0m0.8 0.8h0m0.7 0h0m0.8-0.3h0m0.8 0.4h0m0.8 0.1h0m0.8-0.4h0m0.7 0.4h0m0.8-0.9h0m0.8 0.4h0m0.8 0.2h0m0.7 0.7h0m0.8-0.4h0m0.8-0.1h0m0.8-0.2h0m0.7 0h0m0.8-0.5h0m0.8-0.1h0m0.8 0.7h0m0.8 0.1h0m0.7-0.3h0m0.8-0.6h0m0.8 1h0m0.8-0.3h0m0.7-0.4h0m0.8 1h0m0.8-0.2h0m0.8-1.1h0m0.7 0.3h0m0.8 0.5h0m0.8 0.6h0m0.8-1.2h0m0.8 0.3h0m0.7-0.2h0m0.8-0.3h0m0.8 0.2h0m0.8 0.7h0m0.7 0.4h0m0.8-0.2h0m0.8-0.3h0m0.8 0h0m0.7 0.5h0m0.8 0h0m0.8-0.7h0m0.8 0h0m0.8 0.4h0m0.7-1h0m0.8 0.6h0m0.8 0.9h0m0.8-0.6h0m0.7-0.6h0m0.8 0.8h0m0.8-0.6h0m0.8 1h0m0.7-0.4h0m0.8-0.8h0m0.8 0.3h0m0.8-3.5h0m0.8-2.7h0m0.7-3.9h0m0.8-3.3h0m0.8-2.7h0m0.8-3.8h0m0.7-3h0m0.8-3.3h0m0.8-1.9h0m0.8-2.4h0m0.7-2.1h0m0.8-2.6h0m0.8-2.5h0m0.8-0.5h0m0.8-1.5h0m0.7-1.7h0m0.8-2h0m0.8-0.8h0m0.8 0h0m0.7-0.5h0m0.8 0.8h0m0.8-0.2h0m0.8-1.4h0m0.8 0.4h0m0.7-0.9h0m0.8 0.3h0m0.8 0.2h0m0.8-0.1h0m0.7 0.2h0m0.8-1.2h0m0.8 0.5h0m0.8 0.4h0m0.7-0.2h0m0.8 0.1h0m0.8 0.5h0m0.8-1.3h0m0.8 0.5h0m0.7-0.6h0m0.8 0.8h0m0.8-0.3h0m0.8 0.6h0m0.7 0.3h0m0.8-1.3h0m0.8 0.1h0m0.8 0.8h0m0.7-0.9h0m0.8 0.1h0m0.8 0.8h0m0.8-0.4h0m0.8-0.6h0m0.7 0.7h0m0.8-0.7h0m0.8 1.1h0m0.8-0.2h0m0.7 3.8h0m0.8 5h0m0.8 4.1h0m0.8 3.9h0m0.7 5.3h0m0.8 4.2h0m0.8 3.7h0m0.8 3h0m0.8 2.6h0m0.7 3.2h0m0.8-0.1h0m0.8 2.1h0m0.8 0.7h0m0.7 1.8h0m0.8 0.4h0m0.8 1.4h0m0.8 1h0m0.7 0.5h0m0.8 0h0m0.8-1.1h0m0.8 0.7h0m0.8 0.2h0m0.7 0.1h0m0.8-0.2h0m0.8 0.1h0m0.8 0.3h0m0.7-1h0m0.8 0.5h0m0.8 0.3h0m0.8-0.8h0m0.7 0.9h0m0.8-0.3h0m0.8-0.8h0m0.8 1.1h0m0.8-0.5h0m0.7-0.6h0m0.8 0h0m0.8 1h0m0.8-0.3h0m0.7-0.6h0m0.8 0.6h0m0.8-0.9h0m0.8 1.1h0m0.7-1.1h0m0.8 0.7h0m0.8 0.4h0m0.8-0.3h0m0.8 0.4h0m0.7-0.8h0m0.8 0.6h0m0.8-0.9h0m0.8 0.4h0m0.7 0.4h0m0.8 0.2h0m0.8-0.6h0m0.8 0.6h0m0.8-1h0m0.7 1.2h0m0.8-0.6h0m0.8-0.1h0m0.8 0.4h0m0.7-0.7h0m0.8 0.6h0m0.8-0.5h0m0.8 0.2h0m0.7 0.4h0m0.8-0.2h0m0.8 0.5h0m0.8-0.1h0m0.8-1.1h0m0.7 0.9h0m0.8-0.6h0m0.8 0.9h0m0.8-0.7h0m0.7 0.3h0m0.8-0.2h0m0.8 0.3h0m0.8 0.3h0m0.7-0.3h0m0.8 0.1h0m0.8 0.2h0m0.8-1h0m0.8 0.7h0m0.7-0.2h0m0.8-0.7h0m0.8 0.2h0m0.8-0.2h0m0.7 0h0m0.8 1.1h0m0.8-0.2h0m0.8 0.4h0m0.7-1h0m0.8 0h0m0.8 0.5h0m0.8-0.1h0m0.8-0.4h0m0.7 0h0m0.8 0.7h0m0.8-1h0m0.8 0.8h0m0.7-0.4h0m0.8 0.7h0m0.8 0.1h0m0.8-1.3h0m0.7 0.3h0m0.8 0.1h0m0.8 1h0m0.8 0h0m0.8-0.2h0m0.7-2.6h0m0.8-2.7h0m0.8-2.7h0m0.8-3.3h0m0.7-4.3h0m0.8-4.4h0m0.8-2.5h0m0.8-4.2h0m0.7-2.8h0m0.8-3.4h0m0.8-3.6h0m0.8-4.5h0m0.8-4.7h0m0.7-1.6h0m0.8-1.6h0m0.8-3.4h0m0.8-0.1h0m0.7 0.6h0m0.8 0.2h0m0.8-1.5h0m0.8 0.2h0m0.7 0.7h0m0.8-0.5h0m0.8 0.2h0m0.8-1h0m0.8 0.9h0m0.7-1.1h0m0.8 0.2h0m0.8 1.1h0m0.8-1h0m0.7 0.5h0m0.8-0.6h0m0.8-0.1h0m0.8 0.9h0m0.7 0.2h0m0.8-1.3h0m0.8 0.8h0m0.8-0.7h0m0.8 0.3h0m0.7 0h0m0.8-0.2h0m0.8 0.3h0m0.8 0.3h0m0.7 0.6h0m0.8-1h0m0.8 0.4h0m0.8-0.1h0m0.7-0.6h0m0.8 1.2h0m0.8-1h0m0.8 1.1h0m0.8-1h0m0.7-0.2h0m0.8 0.9h0m0.8-0.5h0m0.8-0.6h0m0.7 0.5h0m0.8 0.2h0m0.8 0.4h0m0.8 0.3h0m0.8-0.5h0m0.7 0h0m0.8 0.3h0m0.8-0.2h0m0.8 0.3h0m0.7-0.9h0m0.8 0.1h0m0.8 0.6h0m0.8 0h0m0.7 3.4h0m0.8 4h0m0.8 3.5h0m0.8 5.2h0m0.8 4.3h0m0.7 3.3h0m0.8 5.3h0m0.8 3.5h0m0.8 4.6h0m0.7 0.9h0m0.8 2.1h0m0.8 1.4h0m0.8 2.6h0m0.7 1h0m0.8 1.8h0m0.8 0.8h0m0.8 0.1h0m0.8 0.5h0m0.7 1.6h0m0.8 0.3h0m0.8 0.5h0m0.8 0.8h0m0.7 0.8h0m0.8 0.2h0m0.8 0.1h0m0.8-0.7h0m0.7 0.4h0m0.8 0.5h0m0.8-0.3h0m0.8-0.3h0m0.8 0.2h0m0.7 0.3h0m0.8 0.1h0m0.8 0.1h0m0.8-1.5h0m0.7 0.4h0m0.8 1h0m0.8-1h0m0.8-0.4h0m0.7 0.7h0m0.8 0.7h0m0.8-0.6h0m0.8 0.1h0m0.8 0.4h0m0.7-0.6h0m0.8 0.8h0m0.8-1.4h0m0.8 0.5h0m0.7 0h0" stroke="#8a80c8" stroke-width="6.6" stroke-linecap="round" fill="none"/>
<path d="M976.2 507.8h0m0.8 1.7h0m0.8 2.6h0m3.8 8.8h0m119.7-19.9h0m1.6 3.2h0m0.7 1.9h0m0.8 3.1h0m0.8 2.7h0m1.5 4.4h0m0.8 1.8h0m117.4-24.6h0m0.7 2.6h0m0.8 2.1h0m0.8 3.2h0m0.8 3.7h0m0.7 3.6h0m0.8 4.1h0m1.6 3.3h0m0.7 1.8h0m63.8 1.2h0m40.4-39.6h0m0.7 3.8h0m0.8 5h0m0.8 4.1h0m0.8 3.9h0m0.7 5.3h0m0.8 4.2h0m0.8 3.7h0m0.8 3h0m0.8 2.6h0m1.5 3.1h0m1.6 2.8h0m77.7-6.3h0m0.7-4.3h0m1.6-6.9h0m3.1-14h0m0.8-4.5h0m44.3-11.7h0m0.7 3.4h0m0.8 4h0m0.8 3.5h0m0.8 5.2h0m0.8 4.3h0m0.7 3.3h0m0.8 5.3h0m0.8 3.5h0m1.5 5.5h0m1.6 3.5h0m1.5 3.6h0m3.2 3.2h0m24 3.7h0" stroke="#fff" stroke-width="2" stroke-linecap="round" fill="none" stroke-opacity="0.6"/>
<path d="M876.3 526.6l0.8 0 0.8 0 0.7 0 0.8 0 0.8 0 0.8 0 0.7 0 0.8 0 0.8 0 0.8 0 0.7 0 0.8 0 0.8 0 0.8 0 0.8 0 0.7 0 0.8 0 0.8 0 0.8 0 0.7 0 0.8 0 0.8 0 0.8 0 0.7 0 0.8 0 0.8 0 0.8 0 0.8 0 0.7 0 0.8 0 0.8 0 0.8 0 0.7 0 0.8 0 0.8 0 0.8 0 0.7 0 0.8 0 0.8 0 0.8 0 0.8 0 0.7 0 0.8 0 0.8 0 0.8 0 0.7 0 0.8 0 0.8 0 0.8 0 0.8 0 0.7 0 0.8 0 0.8 0 0.8 0 0.7 0 0.8 0 0.8 0 0.8 0 0.7 0 0.8 0 0.8 0 0.8 0 0.8 0 0.7 0 0.8 0 0.8 0 0.8 0 0.7 0 0.8 0 0.8 0 0.8 0 0.7 0 0.8 0 0.8 0 0.8 0 0.8 0 0.7 0 0.8 0 0.8 0 0.8-21.8 0.7-71.8 0.8-9 0.8-1.9 0.8-1.9 0.7-1 0.8-0.9 0.8-0.9 0.8-0.4 0.8-0.3 0.7-0.4 0.8 0.2 0.8 0.1 0.8 0.1 0.7 0.1 0.8 0.2 0.8 0.1 0.8 0.1 0.7 0.2 0.8 0.1 0.8 0.1 0.8 0.1 0.8 0.2 0.7 0.1 0.8 0.1 0.8 0.2 0.8 0 0.7 0.1 0.8 0.1 0.8 0.1 0.8 0.1 0.7 0 0.8 0.1 0.8 0.1 0.8 0.1 0.8 0.1 0.7 0 0.8 0.1 0.8 0.1 0.8 0.1 0.7 0.1 0.8 0 0.8 0.1 0.8 0.1 0.7 0.1 0.8 0.1 0.8 0 0.8 0.1 0.8 0.1 0.7 0.1 0.8 11.5 0.8 15.4 0.8 10.3 0.7 14.1 0.8 12.1 0.8 5.8 0.8 7.7 0.7 5.1 0.8 5.2 0.8 3.2 0.8 3.2 0.8 1.5 0.7 1.5 0.8 1.6 0.8 1.5 0.8 1.6 0.7 0.3 0.8 0.4 0.8 0.4 0.8 0.4 0.7 0.4 0.8 0.4 0.8 0.3 0.8 0.4 0.8 0.4 0.7 0.4 0.8 0.1 0.8 0.1 0.8 0.1 0.7 0 0.8 0.1 0.8 0.1 0.8 0.1 0.8 0.1 0.7 0.1 0.8 0.1 0.8 0 0.8 0.1 0.7 0.1 0.8 0.1 0.8 0.1 0.8 0 0.7 0 0.8 0 0.8 0 0.8 0 0.8 0 0.7 0 0.8 0 0.8 0 0.8 0 0.7 0 0.8 0 0.8 0 0.8 0 0.7 0 0.8 0 0.8 0 0.8 0 0.8 0 0.7 0 0.8 0 0.8 0 0.8 0 0.7 0 0.8 0 0.8 0 0.8 0 0.7 0 0.8 0 0.8 0 0.8 0 0.8 0 0.7 0 0.8 0 0.8 0 0.8 0 0.7 0 0.8 0 0.8 0 0.8 0 0.7 0 0.8 0 0.8 0 0.8 0 0.8 0 0.7 0 0.8 0 0.8 0 0.8 0 0.7 0 0.8 0 0.8 0 0.8 0 0.7 0 0.8 0 0.8 0 0.8 0 0.8 0 0.7 0 0.8 0 0.8 0 0.8 0 0.7 0 0.8 0 0.8 0 0.8 0 0.7 0 0.8 0 0.8 0 0.8 0 0.8 0 0.7 0 0.8 0 0.8-62.8 0.8-78.2 0.7-38.5 0.8-12.8 0.8-2.3 0.8-2.2 0.8-1.1 0.7-1 0.8-1.1 0.8 0.3 0.8 0.3 0.7 0.3 0.8 0.4 0.8 0.2 0.8 0.2 0.7 0.2 0.8 0.2 0.8 0.2 0.8 0.3 0.8 0.2 0.7 0.2 0.8 0.2 0.8 0.1 0.8 0 0.7 0.1 0.8 0.1 0.8 0.1 0.8 0 0.7 0.1 0.8 0.1 0.8 0.1 0.8 0 0.8 0.1 0.7 0.1 0.8 0.1 0.8 0 0.8 0.1 0.7 0.1 0.8 0.1 0.8 0 0.8 0.1 0.7 0.1 0.8 0 0.8 0.1 0.8 0.1 0.8 0.1 0.7 0 0.8 0.1 0.8 9 0.8 9 0.7 21.8 0.8 37.1 0.8 37.2 0.8 24.4 0.7 17.9 0.8 9.6 0.8 9.7 0.8 2.5 0.8 2.6 0.7 2.5 0.8 2.6 0.8 2.6 0.8 0.5 0.7 0.5 0.8 0.5 0.8 0.5 0.8 0.5 0.7 0.5 0.8 0.6 0.8 0.5 0.8 0.5 0.8 0.5 0.7 0.1 0.8 0.1 0.8 0.1 0.8 0 0.7 0.1 0.8 0.1 0.8 0.1 0.8 0.1 0.7 0.1 0.8 0.1 0.8 0 0.8 0.1 0.8 0.1 0.7 0.1 0.8 0.1 0.8 0 0.8 0 0.7 0 0.8 0 0.8 0 0.8 0 0.7 0 0.8 0 0.8 0 0.8 0 0.8 0 0.7 0 0.8 0 0.8 0 0.8 0 0.7 0 0.8 0 0.8 0 0.8 0 0.7 0 0.8 0 0.8 0 0.8 0 0.8 0 0.7 0 0.8 0 0.8 0 0.8 0 0.7 0 0.8 0 0.8 0 0.8 0 0.8 0 0.7 0 0.8 0 0.8 0 0.8 0 0.7 0 0.8 0 0.8 0 0.8 0 0.7 0 0.8 0 0.8 0 0.8 0 0.8 0 0.7 0 0.8 0 0.8 0 0.8 0 0.7 0 0.8 0 0.8 0 0.8 0 0.7 0 0.8 0 0.8 0 0.8 0 0.8 0 0.7 0 0.8 0 0.8 0 0.8 0 0.7 0 0.8 0 0.8 0 0.8 0 0.7 0 0.8 0 0.8-11.6 0.5-75.6 0.4-105.1 0.4-76.3 0.6-8.3 0.4-1.1 0.8-2 0.8-2.1 0.8-1.2 0.7-1.3 0.8-1.3 0.8 0.2 0.8 0.1 0.7 0.2 0.8 0.1 0.8 0.3 0.8 0.2 0.8 0.3 0.7 0.2 0.8 0.2 0.8 0.3 0.8 0.2 0.7 0.3 0.8 0 0.8 0 0.8 0.1 0.7 0 0.8 0.1 0.8 0 0.8 0 0.8 0.1 0.7 0 0.8 0.1 0.8 0 0.8 0.1 0.7 0 0.8 0 0.8 0.1 0.8 0 0.7 0.1 0.8 0 0.8 0 0.8 0.1 0.8 0 0.7 0.1 0.8 0 0.8 0.1 0.8 0 0.7 0 0.8 0.1 0.8 0 0.8 0.1 0.8 0 0.7 0 0.4 0 0.6 161.6 0.6 23.7 0.8 10.4 0.7 16.5 0.8 14.8 0.8 11.5 0.8 9 0.7 4.5 0.8 4.4 0.8 3.1 0.8 3.1 0.8 3.1 0.7 3 0.8 3.1 0.8 0.9 0.8 0.9 0.7 0.9 0.8 0.9 0.8 0.9 0.8 0.9 0.7 0.9 0.8 0.9 0.8 0.9 0.8 0.9 0.8 0.1 0.7 0.1 0.8 0.1 0.8 0 0.8 0.1 0.7 0.1 0.8 0.1 0.8 0.1 0.8 0.1 0.7 0.1 0.8 0 0.8 0.1 0.8 0.1 0.8 0.1 0.7 0.1 0.8 0 0.8 0 0.8 0 0.7 0 0.8 0 0.8 0 0.8 0 0.7 0 0.8 0 0.8 0 0.8 0 0.8 0 0.7 0 0.8 0 0.8 0 0.8 0 0.7 0 0.8 0 0.8 0 0.8 0 0.7 0 0.8 0 0.8 0 0.8 0 0.8 0 0.7 0 0.8 0 0.8 0 0.8 0 0.7 0 0.8 0 0.8 0 0.8 0 0.7 0 0.8 0 0.8 0 0.8 0 0.8 0 0.7 0 0.8 0 0.8 0 0.8 0 0.7 0 0.8 0 0.8 0 0.8 0 0.7 0 0.8 0 0.8 0 0.4 0 0.4-15.4 0.4-68 0.4-44.8 0.2-48.7 0.2-92.3 0.3-83.4 0.8-10.2 0.8-1.9 0.8-2 0.7-0.8 0.8-0.9 0.8-0.8 0.8 0.3 0.7 0.3 0.8 0.3 0.8 0.3 0.8 0.2 0.8 0.2 0.7 0.1 0.8 0.2 0.8 0.1 0.8 0.2 0.7 0.2 0.8 0.1 0.8 0.1 0.8 0 0.8 0.1 0.7 0 0.8 0 0.8 0.1 0.8 0 0.7 0.1 0.8 0 0.8 0.1 0.8 0 0.7 0 0.8 0.1 0.8 0 0.8 0.1 0.8 0 0.7 0.1 0.8 0 0.8 0 0.8 0.1 0.7 0 0.8 0.1 0.8 0 0.8 0.1 0.7 0 0.8 0 0.8 0.1 0.8 0 0.8 0.1 0.7 0 0.4 1.3 0.4 175.6 0.4 87.2 0.4 34.6 0.4 15.4 0.4 6.4 0.7 12.8 0.8 5.2 0.8 5.1 0.8 5.1 0.7 2.1 0.8 2 0.8 2.1 0.8 2 0.8 2.1 0.7 0.6 0.8 0.7 0.8 0.6 0.8 0.6 0.7 0.7 0.8 0.6 0.8 0.7 0.8 0.6 0.7 0.1 0.8 0.1 0.8 0.1 0.8 0 0.8 0.1 0.7 0.1 0.8 0.1 0.8 0.1 0.8 0.1 0.7 0.1 0.8 0 0.8 0.1 0.8 0.1 0.7 0.1 0.8 0.1 0.8 0 0.8 0 0.8 0 0.7 0 0.8 0 0.8 0 0.8 0 0.7 0 0.8 0 0.8 0 0.8 0 0.7 0 0.8 0 0.8 0 0.8 0 0.8 0 0.7 0 0.8 0 0.8 0 0.8 0 0.7 0 0.8 0 0.8 0 0.8 0 0.8 0 0.7 0 0.8 0 0.8 0 0.8 0 0.7 0 0.8 0 0.8 0 0.8 0 0.7 0 0.8 0 0.8 0 0.8 0 0.8 0 0.7 0 0.8 0 0.8 0 0.8 0 0.7 0 0.8 0 0.8 0 0.8 0 0.7 0 0.8 0 0.8 0 0.8 0 0.8 0 0.7 0 0.8 0 0.8 0 0.4-11 0.4-54.4 0.3-69.2 0.2-5.2 0.2-14.1 0.3-20.5 0.1-6.4 0.8-189.7 0.2-28.2 0.3-35.9 0.7-4 0.4-2.4 0.3-1.3 0.8-2.6 0.8-2.5 0.8-1.3 0.8-1.3 0.7-1.3 0.8 0.1 0.8 0.2 0.8 0.1 0.7 0.1 0.8 0.2 0.8 0.1 0.8 0.1 0.7 0.1 0.8 0.2 0.8 0.1 0.8 0.1 0.8 0.2 0.7 0.1 0.8 0.1 0.8 0.1 0.8 0.1 0.7 0 0.8 0 0.8 0.1 0.8 0 0.7 0.1 0.8 0 0.8 0 0.8 0.1 0.8 0 0.7 0 0.8 0.1 0.8 0 0.8 0 0.7 0.1 0.8 0 0.8 0.1 0.8 0 0.7 0 0.8 0.1 0.8 0 0.8 0 0.8 0.1 0.7 0 0.8 0.1 0.8 0 0.8 0 0.7 0.1 0.8 0 0.8 0 0.8 0.1 0.7 0 0.8 0 0.8 0.1 0.8 0 0.8 0.1 0.7 0 0.8 0 0.8 0.1 0.8 0 0.7 0 0.8 0.1 0.8 0 0.8 0 0.7 0.1 0.8 0 0.8 0.1 0.8 0 0.8 0 0.7 0.1 0.8 0 0.8 0 0.5 0.1 0.4 223 0.4 119.3 0.4 29.4 0.4 18 0.2 5.9 0.8 19.7 0.8 5.6 0.8 5.5 0.7 5.6 0.8 1.9 0.8 1.9 0.8 2 0.7 1.9 0.8 1.9 0.8 1.9 0.8 0.3 0.7 0.2 0.8 0.3 0.8 0.3 0.8 0.2 0.8 0.3 0.7 0.2 0.8 0.3 0.8 0.2 0.8 0.3 0.7 0.3 0.8 0.2 0.8 0.3 0.8 0.2 0.7 0.3 0.8 0 0.8 0 0.8 0 0.8 0 0.7 0 0.8 0 0.8 0 0.8 0 0.7 0 0.8 0 0.8 0 0.8 0 0.7 0 0.8 0 0.8 0 0.8 0 0.8 0 0.7 0 0.8 0 0.8 0 0.8 0 0.7 0 0.8 0 0.8 0 0.8 0 0.7 0 0.8 0 0.8 0 0.8 0 0.8 0 0.7 0 0.8 0 0.8 0 0.8 0 0.7 0" fill="none" stroke="#e5348f" stroke-width="1.5" stroke-linejoin="round"/>
<path d="M876.3 526.6h0m0.8 0h0m0.8 0h0m0.7 0h0m0.8 0h0m0.8 0h0m0.8 0h0m0.7 0h0m0.8 0h0m0.8 0h0m0.8 0h0m0.7 0h0m0.8 0h0m0.8 0h0m0.8 0h0m0.8 0h0m0.7 0h0m0.8 0h0m0.8 0h0m0.8 0h0m0.7 0h0m0.8 0h0m0.8 0h0m0.8 0h0m0.7 0h0m0.8 0h0m0.8 0h0m0.8 0h0m0.8 0h0m0.7 0h0m0.8 0h0m0.8 0h0m0.8 0h0m0.7 0h0m0.8 0h0m0.8 0h0m0.8 0h0m0.7 0h0m0.8 0h0m0.8 0h0m0.8 0h0m0.8 0h0m0.7 0h0m0.8 0h0m0.8 0h0m0.8 0h0m0.7 0h0m0.8 0h0m0.8 0h0m0.8 0h0m0.8 0h0m0.7 0h0m0.8 0h0m0.8 0h0m0.8 0h0m0.7 0h0m0.8 0h0m0.8 0h0m0.8 0h0m0.7 0h0m0.8 0h0m0.8 0h0m0.8 0h0m0.8 0h0m0.7 0h0m0.8 0h0m0.8 0h0m0.8 0h0m0.7 0h0m0.8 0h0m0.8 0h0m0.8 0h0m0.7 0h0m0.8 0h0m0.8 0h0m0.8 0h0m0.8 0h0m0.7 0h0m0.8 0h0m0.8 0h0m0.8-21.8h0m0.7-71.8h0m0.8-9h0m0.8-1.9h0m0.8-1.9h0m0.7-1h0m0.8-0.9h0m0.8-0.9h0m0.8-0.4h0m0.8-0.3h0m0.7-0.4h0m0.8 0.2h0m0.8 0.1h0m0.8 0.1h0m0.7 0.1h0m0.8 0.2h0m0.8 0.1h0m0.8 0.1h0m0.7 0.2h0m0.8 0.1h0m0.8 0.1h0m0.8 0.1h0m0.8 0.2h0m0.7 0.1h0m0.8 0.1h0m0.8 0.2h0m0.8 0h0m0.7 0.1h0m0.8 0.1h0m0.8 0.1h0m0.8 0.1h0m0.7 0h0m0.8 0.1h0m0.8 0.1h0m0.8 0.1h0m0.8 0.1h0m0.7 0h0m0.8 0.1h0m0.8 0.1h0m0.8 0.1h0m0.7 0.1h0m0.8 0h0m0.8 0.1h0m0.8 0.1h0m0.7 0.1h0m0.8 0.1h0m0.8 0h0m0.8 0.1h0m0.8 0.1h0m0.7 0.1h0m0.8 11.5h0m0.8 15.4h0m0.8 10.3h0m0.7 14.1h0m0.8 12.1h0m0.8 5.8h0m0.8 7.7h0m0.7 5.1h0m0.8 5.2h0m0.8 3.2h0m0.8 3.2h0m0.8 1.5h0m0.7 1.5h0m0.8 1.6h0m0.8 1.5h0m0.8 1.6h0m0.7 0.3h0m0.8 0.4h0m0.8 0.4h0m0.8 0.4h0m0.7 0.4h0m0.8 0.4h0m0.8 0.3h0m0.8 0.4h0m0.8 0.4h0m0.7 0.4h0m0.8 0.1h0m0.8 0.1h0m0.8 0.1h0m0.7 0h0m0.8 0.1h0m0.8 0.1h0m0.8 0.1h0m0.8 0.1h0m0.7 0.1h0m0.8 0.1h0m0.8 0h0m0.8 0.1h0m0.7 0.1h0m0.8 0.1h0m0.8 0.1h0m0.8 0h0m0.7 0h0m0.8 0h0m0.8 0h0m0.8 0h0m0.8 0h0m0.7 0h0m0.8 0h0m0.8 0h0m0.8 0h0m0.7 0h0m0.8 0h0m0.8 0h0m0.8 0h0m0.7 0h0m0.8 0h0m0.8 0h0m0.8 0h0m0.8 0h0m0.7 0h0m0.8 0h0m0.8 0h0m0.8 0h0m0.7 0h0m0.8 0h0m0.8 0h0m0.8 0h0m0.7 0h0m0.8 0h0m0.8 0h0m0.8 0h0m0.8 0h0m0.7 0h0m0.8 0h0m0.8 0h0m0.8 0h0m0.7 0h0m0.8 0h0m0.8 0h0m0.8 0h0m0.7 0h0m0.8 0h0m0.8 0h0m0.8 0h0m0.8 0h0m0.7 0h0m0.8 0h0m0.8 0h0m0.8 0h0m0.7 0h0m0.8 0h0m0.8 0h0m0.8 0h0m0.7 0h0m0.8 0h0m0.8 0h0m0.8 0h0m0.8 0h0m0.7 0h0m0.8 0h0m0.8 0h0m0.8 0h0m0.7 0h0m0.8 0h0m0.8 0h0m0.8 0h0m0.7 0h0m0.8 0h0m0.8 0h0m0.8 0h0m0.8 0h0m0.7 0h0m0.8 0h0m0.8-62.8h0m0.8-78.2h0m0.7-38.5h0m0.8-12.8h0m0.8-2.3h0m0.8-2.2h0m0.8-1.1h0m0.7-1h0m0.8-1.1h0m0.8 0.3h0m0.8 0.3h0m0.7 0.3h0m0.8 0.4h0m0.8 0.2h0m0.8 0.2h0m0.7 0.2h0m0.8 0.2h0m0.8 0.2h0m0.8 0.3h0m0.8 0.2h0m0.7 0.2h0m0.8 0.2h0m0.8 0.1h0m0.8 0h0m0.7 0.1h0m0.8 0.1h0m0.8 0.1h0m0.8 0h0m0.7 0.1h0m0.8 0.1h0m0.8 0.1h0m0.8 0h0m0.8 0.1h0m0.7 0.1h0m0.8 0.1h0m0.8 0h0m0.8 0.1h0m0.7 0.1h0m0.8 0.1h0m0.8 0h0m0.8 0.1h0m0.7 0.1h0m0.8 0h0m0.8 0.1h0m0.8 0.1h0m0.8 0.1h0m0.7 0h0m0.8 0.1h0m0.8 9h0m0.8 9h0m0.7 21.8h0m0.8 37.1h0m0.8 37.2h0m0.8 24.4h0m0.7 17.9h0m0.8 9.6h0m0.8 9.7h0m0.8 2.5h0m0.8 2.6h0m0.7 2.5h0m0.8 2.6h0m0.8 2.6h0m0.8 0.5h0m0.7 0.5h0m0.8 0.5h0m0.8 0.5h0m0.8 0.5h0m0.7 0.5h0m0.8 0.6h0m0.8 0.5h0m0.8 0.5h0m0.8 0.5h0m0.7 0.1h0m0.8 0.1h0m0.8 0.1h0m0.8 0h0m0.7 0.1h0m0.8 0.1h0m0.8 0.1h0m0.8 0.1h0m0.7 0.1h0m0.8 0.1h0m0.8 0h0m0.8 0.1h0m0.8 0.1h0m0.7 0.1h0m0.8 0.1h0m0.8 0h0m0.8 0h0m0.7 0h0m0.8 0h0m0.8 0h0m0.8 0h0m0.7 0h0m0.8 0h0m0.8 0h0m0.8 0h0m0.8 0h0m0.7 0h0m0.8 0h0m0.8 0h0m0.8 0h0m0.7 0h0m0.8 0h0m0.8 0h0m0.8 0h0m0.7 0h0m0.8 0h0m0.8 0h0m0.8 0h0m0.8 0h0m0.7 0h0m0.8 0h0m0.8 0h0m0.8 0h0m0.7 0h0m0.8 0h0m0.8 0h0m0.8 0h0m0.8 0h0m0.7 0h0m0.8 0h0m0.8 0h0m0.8 0h0m0.7 0h0m0.8 0h0m0.8 0h0m0.8 0h0m0.7 0h0m0.8 0h0m0.8 0h0m0.8 0h0m0.8 0h0m0.7 0h0m0.8 0h0m0.8 0h0m0.8 0h0m0.7 0h0m0.8 0h0m0.8 0h0m0.8 0h0m0.7 0h0m0.8 0h0m0.8 0h0m0.8 0h0m0.8 0h0m0.7 0h0m0.8 0h0m0.8 0h0m0.8 0h0m0.7 0h0m0.8 0h0m0.8 0h0m0.8 0h0m0.7 0h0m0.8 0h0m0.8-11.6h0m0.5-75.6h0m0.4-105.1h0m0.4-76.3h0m0.6-8.3h0m0.4-1.1h0m0.8-2h0m0.8-2.1h0m0.8-1.2h0m0.7-1.3h0m0.8-1.3h0m0.8 0.2h0m0.8 0.1h0m0.7 0.2h0m0.8 0.1h0m0.8 0.3h0m0.8 0.2h0m0.8 0.3h0m0.7 0.2h0m0.8 0.2h0m0.8 0.3h0m0.8 0.2h0m0.7 0.3h0m0.8 0h0m0.8 0h0m0.8 0.1h0m0.7 0h0m0.8 0.1h0m0.8 0h0m0.8 0h0m0.8 0.1h0m0.7 0h0m0.8 0.1h0m0.8 0h0m0.8 0.1h0m0.7 0h0m0.8 0h0m0.8 0.1h0m0.8 0h0m0.7 0.1h0m0.8 0h0m0.8 0h0m0.8 0.1h0m0.8 0h0m0.7 0.1h0m0.8 0h0m0.8 0.1h0m0.8 0h0m0.7 0h0m0.8 0.1h0m0.8 0h0m0.8 0.1h0m0.8 0h0m0.7 0h0m0.4 0h0m0.6 161.6h0m0.6 23.7h0m0.8 10.4h0m0.7 16.5h0m0.8 14.8h0m0.8 11.5h0m0.8 9h0m0.7 4.5h0m0.8 4.4h0m0.8 3.1h0m0.8 3.1h0m0.8 3.1h0m0.7 3h0m0.8 3.1h0m0.8 0.9h0m0.8 0.9h0m0.7 0.9h0m0.8 0.9h0m0.8 0.9h0m0.8 0.9h0m0.7 0.9h0m0.8 0.9h0m0.8 0.9h0m0.8 0.9h0m0.8 0.1h0m0.7 0.1h0m0.8 0.1h0m0.8 0h0m0.8 0.1h0m0.7 0.1h0m0.8 0.1h0m0.8 0.1h0m0.8 0.1h0m0.7 0.1h0m0.8 0h0m0.8 0.1h0m0.8 0.1h0m0.8 0.1h0m0.7 0.1h0m0.8 0h0m0.8 0h0m0.8 0h0m0.7 0h0m0.8 0h0m0.8 0h0m0.8 0h0m0.7 0h0m0.8 0h0m0.8 0h0m0.8 0h0m0.8 0h0m0.7 0h0m0.8 0h0m0.8 0h0m0.8 0h0m0.7 0h0m0.8 0h0m0.8 0h0m0.8 0h0m0.7 0h0m0.8 0h0m0.8 0h0m0.8 0h0m0.8 0h0m0.7 0h0m0.8 0h0m0.8 0h0m0.8 0h0m0.7 0h0m0.8 0h0m0.8 0h0m0.8 0h0m0.7 0h0m0.8 0h0m0.8 0h0m0.8 0h0m0.8 0h0m0.7 0h0m0.8 0h0m0.8 0h0m0.8 0h0m0.7 0h0m0.8 0h0m0.8 0h0m0.8 0h0m0.7 0h0m0.8 0h0m0.8 0h0m0.4 0h0m0.4-15.4h0m0.4-68h0m0.4-44.8h0m0.2-48.7h0m0.2-92.3h0m0.3-83.4h0m0.8-10.2h0m0.8-1.9h0m0.8-2h0m0.7-0.8h0m0.8-0.9h0m0.8-0.8h0m0.8 0.3h0m0.7 0.3h0m0.8 0.3h0m0.8 0.3h0m0.8 0.2h0m0.8 0.2h0m0.7 0.1h0m0.8 0.2h0m0.8 0.1h0m0.8 0.2h0m0.7 0.2h0m0.8 0.1h0m0.8 0.1h0m0.8 0h0m0.8 0.1h0m0.7 0h0m0.8 0h0m0.8 0.1h0m0.8 0h0m0.7 0.1h0m0.8 0h0m0.8 0.1h0m0.8 0h0m0.7 0h0m0.8 0.1h0m0.8 0h0m0.8 0.1h0m0.8 0h0m0.7 0.1h0m0.8 0h0m0.8 0h0m0.8 0.1h0m0.7 0h0m0.8 0.1h0m0.8 0h0m0.8 0.1h0m0.7 0h0m0.8 0h0m0.8 0.1h0m0.8 0h0m0.8 0.1h0m0.7 0h0m0.4 1.3h0m0.4 175.6h0m0.4 87.2h0m0.4 34.6h0m0.4 15.4h0m0.4 6.4h0m0.7 12.8h0m0.8 5.2h0m0.8 5.1h0m0.8 5.1h0m0.7 2.1h0m0.8 2h0m0.8 2.1h0m0.8 2h0m0.8 2.1h0m0.7 0.6h0m0.8 0.7h0m0.8 0.6h0m0.8 0.6h0m0.7 0.7h0m0.8 0.6h0m0.8 0.7h0m0.8 0.6h0m0.7 0.1h0m0.8 0.1h0m0.8 0.1h0m0.8 0h0m0.8 0.1h0m0.7 0.1h0m0.8 0.1h0m0.8 0.1h0m0.8 0.1h0m0.7 0.1h0m0.8 0h0m0.8 0.1h0m0.8 0.1h0m0.7 0.1h0m0.8 0.1h0m0.8 0h0m0.8 0h0m0.8 0h0m0.7 0h0m0.8 0h0m0.8 0h0m0.8 0h0m0.7 0h0m0.8 0h0m0.8 0h0m0.8 0h0m0.7 0h0m0.8 0h0m0.8 0h0m0.8 0h0m0.8 0h0m0.7 0h0m0.8 0h0m0.8 0h0m0.8 0h0m0.7 0h0m0.8 0h0m0.8 0h0m0.8 0h0m0.8 0h0m0.7 0h0m0.8 0h0m0.8 0h0m0.8 0h0m0.7 0h0m0.8 0h0m0.8 0h0m0.8 0h0m0.7 0h0m0.8 0h0m0.8 0h0m0.8 0h0m0.8 0h0m0.7 0h0m0.8 0h0m0.8 0h0m0.8 0h0m0.7 0h0m0.8 0h0m0.8 0h0m0.8 0h0m0.7 0h0m0.8 0h0m0.8 0h0m0.8 0h0m0.8 0h0m0.7 0h0m0.8 0h0m0.8 0h0m0.4-11h0m0.4-54.4h0m0.3-69.2h0m0.2-5.2h0m0.2-14.1h0m0.3-20.5h0m0.1-6.4h0m0.8-189.7h0m0.2-28.2h0m0.3-35.9h0m0.7-4h0m0.4-2.4h0m0.3-1.3h0m0.8-2.6h0m0.8-2.5h0m0.8-1.3h0m0.8-1.3h0m0.7-1.3h0m0.8 0.1h0m0.8 0.2h0m0.8 0.1h0m0.7 0.1h0m0.8 0.2h0m0.8 0.1h0m0.8 0.1h0m0.7 0.1h0m0.8 0.2h0m0.8 0.1h0m0.8 0.1h0m0.8 0.2h0m0.7 0.1h0m0.8 0.1h0m0.8 0.1h0m0.8 0.1h0m0.7 0h0m0.8 0h0m0.8 0.1h0m0.8 0h0m0.7 0.1h0m0.8 0h0m0.8 0h0m0.8 0.1h0m0.8 0h0m0.7 0h0m0.8 0.1h0m0.8 0h0m0.8 0h0m0.7 0.1h0m0.8 0h0m0.8 0.1h0m0.8 0h0m0.7 0h0m0.8 0.1h0m0.8 0h0m0.8 0h0m0.8 0.1h0m0.7 0h0m0.8 0.1h0m0.8 0h0m0.8 0h0m0.7 0.1h0m0.8 0h0m0.8 0h0m0.8 0.1h0m0.7 0h0m0.8 0h0m0.8 0.1h0m0.8 0h0m0.8 0.1h0m0.7 0h0m0.8 0h0m0.8 0.1h0m0.8 0h0m0.7 0h0m0.8 0.1h0m0.8 0h0m0.8 0h0m0.7 0.1h0m0.8 0h0m0.8 0.1h0m0.8 0h0m0.8 0h0m0.7 0.1h0m0.8 0h0m0.8 0h0m0.5 0.1h0m0.4 223h0m0.4 119.3h0m0.4 29.4h0m0.4 18h0m0.2 5.9h0m0.8 19.7h0m0.8 5.6h0m0.8 5.5h0m0.7 5.6h0m0.8 1.9h0m0.8 1.9h0m0.8 2h0m0.7 1.9h0m0.8 1.9h0m0.8 1.9h0m0.8 0.3h0m0.7 0.2h0m0.8 0.3h0m0.8 0.3h0m0.8 0.2h0m0.8 0.3h0m0.7 0.2h0m0.8 0.3h0m0.8 0.2h0m0.8 0.3h0m0.7 0.3h0m0.8 0.2h0m0.8 0.3h0m0.8 0.2h0m0.7 0.3h0m0.8 0h0m0.8 0h0m0.8 0h0m0.8 0h0m0.7 0h0m0.8 0h0m0.8 0h0m0.8 0h0m0.7 0h0m0.8 0h0m0.8 0h0m0.8 0h0m0.7 0h0m0.8 0h0m0.8 0h0m0.8 0h0m0.8 0h0m0.7 0h0m0.8 0h0m0.8 0h0m0.8 0h0m0.7 0h0m0.8 0h0m0.8 0h0m0.8 0h0m0.7 0h0m0.8 0h0m0.8 0h0m0.8 0h0m0.8 0h0m0.7 0h0m0.8 0h0m0.8 0h0m0.8 0h0m0.7 0h0" stroke="#e5348f" stroke-width="6.6" stroke-linecap="round" fill="none"/>
<path d="M936.6 525.5h0m0.8-21.8h0m0.7-71.8h0m37.3-12.8h0m0.8 11.5h0m0.8 15.4h0m0.8 10.3h0m0.7 14.1h0m0.8 12.1h0m0.8 5.8h0m0.8 7.7h0m0.7 5.1h0m0.8 5.1h0m0.8 3.3h0m80.8 16h0m0.8-62.8h0m0.8-78.2h0m0.7-38.5h0m35-15.4h0m0.8 9h0m0.8 9h0m0.7 21.8h0m0.8 37.1h0m0.8 37.2h0m0.8 24.4h0m0.7 17.9h0m0.8 9.6h0m0.8 9.6h0m0.8 2.6h0m0.8 2.6h0m0.7 2.5h0m0.8 2.6h0m73.8 9h0m0.8-11.6h0m0.5-75.6h0m0.4-105.1h0m0.4-76.3h0m38.7-13.5h0m0.6 161.6h0m0.6 23.7h0m0.8 10.4h0m0.7 16.5h0m0.8 14.8h0m0.8 11.5h0m0.8 9h0m0.7 4.5h0m0.8 4.4h0m0.8 3.1h0m0.8 3.1h0m0.8 3.1h0m0.7 3h0m58.7 13.4h0m0.4-15.4h0m0.4-67.9h0m0.4-44.9h0m0.2-48.7h0m0.2-92.3h0m0.3-83.4h0m37.7-11.5h0m0.4 175.6h0m0.4 87.2h0m0.4 34.6h0m0.4 15.4h0m0.4 6.4h0m0.7 12.8h0m0.8 5.2h0m0.8 5.1h0m0.8 5.1h0m0.7 2.1h0m0.8 2h0m0.8 2.1h0m0.8 2h0m60.6 8.5h0m0.4-11h0m0.4-54.4h0m0.3-69.2h0m0.2-5.2h0m0.2-14.1h0m0.3-20.5h0m0.1-6.4h0m0.8-189.7h0m0.2-28.2h0m0.3-35.9h0m57.9-12.8h0m0.4 223h0m0.4 119.3h0m0.4 29.4h0m0.4 18h0m0.2 5.9h0m0.8 19.7h0m0.8 5.6h0m0.8 5.5h0m0.7 5.6h0m0.8 1.9h0m0.8 1.9h0m0.8 2h0m0.7 1.9h0m0.8 1.9h0m39.6 5.8h0" stroke="#fff" stroke-width="2" stroke-linecap="round" fill="none" stroke-opacity="0.6"/>
<path d="M876.3 525.9l0.8 0.4 0.8 0.7 0.7 0 0.8 0.1 0.8 0.2 0.8-1.1 0.7-0.1 0.8 0.8 0.8 0.2 0.8-0.7 0.7-0.4 0.8-0.1 0.8 1.2 0.8-1 0.8 0 0.7 0.1 0.8 0.6 0.8 0.3 0.8-1 0.7 0.8 0.8-0.1 0.8-0.3 0.8 0.3 0.7-0.7 0.8 0.9 0.8 0.3 0.8-0.8 0.8-0.1 0.7-0.3 0.8 0.2 0.8-0.3 0.8-0.1 0.7 0.7 0.8 0 0.8 0.5 0.8-0.2 0.7-0.4 0.8 0.7 0.8-0.9 0.8 0.8 0.8-0.4 0.7-0.8 0.8 1.3 0.8 0.1 0.8-0.6 0.7 0.4 0.8-0.9 0.8 1.1 0.8-1.2 0.8-0.1 0.7 0.1 0.8 0.6 0.8 0.2 0.8-0.6 0.7 0.3 0.8 0.1 0.8 0.1 0.8-0.1 0.7-0.4 0.8-0.2 0.8-0.1 0.8 1.1 0.8-0.2 0.7-0.2 0.8-0.2 0.8 0.3 0.8 0.2 0.7 0.2 0.8-0.3 0.8-0.3 0.8-0.7 0.7 0.1 0.8 0 0.8-0.1 0.8 0 0.8 0.5 0.7-0.3 0.8 1.2 0.8-1 0.8 0.1 0.7-2.1 0.8-3 0.8-1.2 0.8 0.1 0.7-0.9 0.8-0.1 0.8-0.3 0.8-1 0.8 1.1 0.7-0.5 0.8-1 0.8 0.2 0.8 0.3 0.7-1.1 0.8 0.3 0.8-0.4 0.8 0.2 0.7-0.3 0.8-0.1 0.8 0.2 0.8 0.4 0.8-0.1 0.7-1.2 0.8 0.5 0.8 0.6 0.8-1.2 0.7 0.9 0.8 0.1 0.8-0.7 0.8 0.4 0.7-0.4 0.8-0.2 0.8 0.5 0.8-0.6 0.8 0.6 0.7-0.7 0.8-0.1 0.8 0.7 0.8-0.6 0.7 0.5 0.8-0.6 0.8-0.7 0.8 0.4 0.7-0.3 0.8-0.1 0.8 0.9 0.8-1.4 0.8 0.3 0.7 0.9 0.8-1.1 0.8 0.6 0.8 0.3 0.7-1.3 0.8 0.5 0.8-0.3 0.8 0.9 0.7-1.1 0.8 1.1 0.8-0.3 0.8-0.3 0.8 0.5 0.7-0.8 0.8 0.5 0.8-0.1 0.8-0.6 0.7 0.4 0.8-0.7 0.8 0.4 0.8-0.4 0.7 0.5 0.8 1.7 0.8 2.3 0.8 2.4 0.8 0.4 0.7 1.9 0.8 0.2 0.8 1 0.8 0.6 0.7 1.3 0.8-0.2 0.8-0.4 0.8-0.2 0.8 0.6 0.7 1.2 0.8-0.7 0.8 0.8 0.8-0.7 0.7-0.4 0.8 1.1 0.8-1.3 0.8 0.4 0.7 0.7 0.8 0.1 0.8-0.4 0.8-0.6 0.8 0.4 0.7 0.7 0.8 0.1 0.8-0.1 0.8-1.1 0.7 1 0.8-0.6 0.8 0.4 0.8-0.6 0.7 0.5 0.8 0.3 0.8-1.1 0.8 0.5 0.8-0.2 0.7-0.2 0.8-0.2 0.8 1.4 0.8-0.5 0.7 0.3 0.8-0.5 0.8-0.6 0.8 0.1 0.7 1.2 0.8-0.2 0.8-1 0.8 0.2 0.8 0.4 0.7-0.1 0.8 0.5 0.8-1.1 0.8 0.7 0.7-0.7 0.8 0.4 0.8 0.8 0.8-0.4 0.7 0.2 0.8-1 0.8 0.4 0.8 0.9 0.8-0.2 0.7-0.3 0.8-0.2 0.8-0.1 0.8 0.3 0.7 0 0.8 0.5 0.8-0.8 0.8 0.3 0.7 0.5 0.8-0.7 0.8-0.8 0.8 1.5 0.8-0.2 0.7-0.8 0.8 0.6 0.8 0 0.8-0.3 0.7 0.3 0.8-0.4 0.8 0 0.8-0.6 0.7-0.1 0.8 1.5 0.8-0.8 0.8-0.3 0.8-0.2 0.7 0.2 0.8 0.2 0.8-5.2 0.8-4.7 0.7-0.6 0.8-1.6 0.8-0.9 0.8-0.8 0.8-0.4 0.7 0.3 0.8-1.1 0.8-0.3 0.8 0.1 0.7-0.5 0.8 0.1 0.8-0.6 0.8-0.1 0.7 0.2 0.8-0.8 0.8 0 0.8-1.1 0.8 0.7 0.7 0.1 0.8 0.1 0.8 0 0.8-0.2 0.7 0.2 0.8 0.2 0.8-1.4 0.8 0.5 0.7 0 0.8-0.3 0.8 0.4 0.8 0.1 0.8 0.1 0.7-0.4 0.8-0.1 0.8-0.7 0.8 0.2 0.7-0.6 0.8 0.8 0.8-0.9 0.8 0.4 0.7 0.7 0.8-0.2 0.8-0.7 0.8-0.7 0.8 0.9 0.7-0.7 0.8 0.6 0.8-0.7 0.8 1.2 0.7-0.6 0.8-0.7 0.8 1 0.8 0 0.7 0.4 0.8-0.2 0.8 1.7 0.8 1.3 0.8 3.9 0.7 3 0.8 2 0.8 1.1 0.8 1.3 0.7 0.9 0.8 1.4 0.8-0.2 0.8 0.3 0.7 1.2 0.8 1.4 0.8-1.1 0.8-0.1 0.8 0.8 0.7 0.3 0.8 0 0.8-0.6 0.8-0.5 0.7 0.4 0.8-0.5 0.8 1.1 0.8-0.2 0.7-0.6 0.8 0.2 0.8 0.3 0.8-0.4 0.8 0.5 0.7 0.5 0.8-0.6 0.8 0.6 0.8-0.9 0.7 0.4 0.8-0.2 0.8-0.2 0.8 0.6 0.7-0.4 0.8 0.7 0.8-1.4 0.8 0.6 0.8-0.7 0.7 1.5 0.8-0.9 0.8-0.2 0.8 0.6 0.7 0.4 0.8-0.1 0.8 0 0.8-0.9 0.7 1 0.8-1.1 0.8 0.6 0.8-0.2 0.8-0.1 0.7 0.1 0.8-0.2 0.8 0.1 0.8 0.4 0.7-0.6 0.8 0.8 0.8-0.7 0.8-0.1 0.8 0 0.7 0.7 0.8-0.7 0.8-0.4 0.8 0.9 0.7 0.2 0.8-0.4 0.8-0.6 0.8 1.2 0.7 0.2 0.8-0.7 0.8-0.3 0.8-0.1 0.8 0.6 0.7-1 0.8 1.2 0.8-0.8 0.8 1 0.7 0.1 0.8-0.2 0.8 0.2 0.8-0.7 0.7-0.1 0.8 0.6 0.8-1.2 0.8 0.9 0.8 0.3 0.7 0 0.8-0.9 0.8-0.3 0.8 1.2 0.7 0.2 0.8-1.1 0.8 0.8 0.8-1.2 0.7 0.8 0.8-0.2 0.8-7.3 0.8-8.4 0.8-1 0.7-1.4 0.8-2.5 0.8-0.4 0.8-1.3 0.7 0.7 0.8-1.2 0.8 0.1 0.8-1.1 0.7 0.9 0.8-1.1 0.8 0 0.8-1.1 0.8-0.4 0.7 0.4 0.8 0.6 0.8-0.1 0.8-0.1 0.7-0.3 0.8 0.3 0.8 0 0.8-0.9 0.7 0.1 0.8 0.5 0.8-1.1 0.8 1.1 0.8-0.6 0.7 0.6 0.8-1.1 0.8-0.1 0.8 0.9 0.7-0.8 0.8-0.2 0.8 0.8 0.8-0.1 0.7-0.3 0.8-0.7 0.8 1.1 0.8-0.9 0.8 0.1 0.7 0.2 0.8-0.2 0.8-0.6 0.8 1 0.7-1 0.8 0.7 0.8-0.7 0.8-0.1 0.8 1 0.7-1.1 0.8-0.2 0.8 1 0.8 0.4 0.7-0.2 0.8-1.4 0.8 1.5 0.8-1.5 0.7 1.2 0.8-1 0.8 1 0.8-0.2 0.8-0.8 0.7 0.9 0.8-0.5 0.8-0.9 0.8 0.3 0.7-0.3 0.8-0.2 0.8 1.4 0.8-0.3 0.7-0.9 0.8 3.7 0.8 4.5 0.8 3.1 0.8 4.3 0.7 3.5 0.8 2.1 0.8 1.7 0.8 0.2 0.7 2.6 0.8-0.6 0.8 1.5 0.8-0.3 0.7 0.8 0.8-0.1 0.8 0.6 0.8-0.5 0.8 1.1 0.7-0.6 0.8 0.4 0.8 0.6 0.8-0.4 0.7-0.2 0.8-0.7 0.8 0.9 0.8 0.2 0.7-1.1 0.8 0.1 0.8 0.2 0.8 0.7 0.8 0.2 0.7-0.2 0.8 0.3 0.8 0.1 0.8-0.7 0.7 0.1 0.8-0.2 0.8 0.3 0.8 0.5 0.7-1 0.8 0 0.8 0.2 0.8 0 0.8-0.2 0.7-0.5 0.8 0.2 0.8 0.2 0.8 0.5 0.7 0.2 0.8-0.2 0.8-0.8 0.8 0.9 0.7 0 0.8-0.1 0.8 0.4 0.8-1.3 0.8 1.5 0.7-0.9 0.8-0.5 0.8 1.1 0.8-0.6 0.7 0.4 0.8 0.2 0.8 0 0.8 0.2 0.7-1.1 0.8 0 0.8-0.1 0.8 1.3 0.8-9.4 0.7-7.7 0.8-1.8 0.8-1.1 0.8-0.9 0.7-2.3 0.8 0.2 0.8-2.5 0.8-0.5 0.7 0.1 0.8-0.6 0.8-1 0.8 0.7 0.8-1 0.7-0.6 0.8 0.1 0.8-1 0.8 0.1 0.7-0.6 0.8-0.6 0.8-0.2 0.8 0.5 0.8-0.6 0.7 0.1 0.8 0.4 0.8-0.7 0.8 0.5 0.7-1.1 0.8 0.6 0.8-0.5 0.8 0.2 0.7 0 0.8 0.3 0.8 0 0.8-1.2 0.8 0.5 0.7-0.1 0.8-0.1 0.8-0.5 0.8 0.8 0.7 0 0.8-1.1 0.8 0.5 0.8-0.4 0.7-0.3 0.8-0.2 0.8-0.1 0.8 1.2 0.8-0.6 0.7-0.8 0.8 0 0.8 1 0.8 0 0.7-0.2 0.8 0.2 0.8-0.4 0.8-0.8 0.7 0.5 0.8 0 0.8 0.6 0.8-0.5 0.8-1 0.7 0.4 0.8 0.4 0.8-0.1 0.8-0.5 0.7 0 0.8 0.9 0.8-0.8 0.8 0.4 0.7-0.2 0.8 5.2 0.8 4.6 0.8 4.8 0.8 4.6 0.7 5.2 0.8 1.4 0.8 1 0.8 2.4 0.7 1.4 0.8-0.6 0.8 1 0.8 0.2 0.7 0.3 0.8-0.6 0.8 1.4 0.8-0.6 0.8-0.1 0.7 1.3 0.8-0.1 0.8-0.6 0.8 0.3 0.7 0.4 0.8 0.5 0.8-0.6 0.8 0.1 0.7-0.5 0.8 0.6 0.8-0.2 0.8-0.3 0.8-0.3 0.7 0.7 0.8 0 0.8-0.3 0.8-0.6 0.7 1.2 0.8-1.2 0.8 0.4 0.8 0.5 0.8-0.5 0.7 0.5 0.8 0.4 0.8-1 0.8 0.6 0.7-0.3 0.8 0.1 0.8-0.6 0.8 0.2 0.7 1.1 0.8-0.9 0.8 0.2 0.8 0 0.8-0.5 0.7 0.6 0.8-0.1 0.8-0.6 0.8 0.7 0.7-0.1 0.8 0 0.8-0.5 0.8 0.2 0.7-0.1 0.8 0.5 0.8 0.6 0.8-1 0.8 0.2 0.7-0.3 0.8 0 0.8 1 0.8-0.2 0.7 0.2 0.8-1.1 0.8 1.1 0.8 0 0.7-1 0.8 0.3 0.8 0.8 0.8-1 0.8 0 0.7 0.3 0.8 0.7 0.8-1 0.8 0.4 0.7-0.2 0.8-0.7 0.8 0.3 0.8-0.1 0.7 1.1 0.8-0.3 0.8-0.2 0.8 0.7 0.8-11.1 0.7-8.5 0.8-1.3 0.8-1.3 0.8-1.2 0.7-2.2 0.8-0.8 0.8-0.4 0.8-0.3 0.7 0.1 0.8-0.8 0.8-1.3 0.8-0.3 0.8-0.5 0.7 0.5 0.8-0.3 0.8-0.2 0.8-1.2 0.7-0.2 0.8-0.3 0.8-0.2 0.8-0.3 0.7 0.1 0.8-0.8 0.8 0.7 0.8-1.2 0.8 0.4 0.7 0.6 0.8-0.6 0.8-0.5 0.8 0 0.7-0.4 0.8 0.2 0.8-0.1 0.8-1 0.7 0.6 0.8-0.8 0.8-0.3 0.8 0.2 0.8 0 0.7-0.9 0.8 0.6 0.8-0.9 0.8 1.1 0.7-0.7 0.8-0.5 0.8 0.7 0.8-1.4 0.7 1 0.8-0.8 0.8 0.5 0.8-1.2 0.8 0.5 0.7-0.5 0.8 0.4 0.8-0.4 0.8 0 0.7 0.5 0.8 0 0.8-1 0.8 0.9 0.8-1.2 0.7 1 0.8 0.1 0.8-0.1 0.8-1.2 0.7-0.3 0.8 0.8 0.8-0.5 0.8 0.5 0.7-1 0.8 0.2 0.8 0.7 0.8 0.1 0.8-1.1 0.7 1 0.8-1.3 0.8 0.7 0.8 0 0.7-0.6 0.8 0.3 0.8-0.4 0.8 0.5 0.7-1.2 0.8 0.8 0.8-0.9 0.8 1 0.8-1.1 0.7 13.2 0.8 7.3 0.8 7 0.8 2.4 0.7 2.6 0.8 3.7 0.8 0.2 0.8 1.5 0.7 0.2 0.8 0.4 0.8 1.2 0.8-0.4 0.8 0.9 0.7-1.1 0.8 1.1 0.8-1.3 0.8-0.1 0.7 0.1 0.8 0.6 0.8 0.4 0.8-0.1 0.7-0.6 0.8 0.4 0.8-0.7 0.8 1.3 0.8-0.6 0.7-0.6 0.8 0.4 0.8 0.1 0.8 0.7 0.7-0.1" fill="none" stroke="#63ad32" stroke-width="1.5" stroke-linejoin="round"/>
<path d="M876.3 525.9h0m0.8 0.4h0m0.8 0.7h0m0.7 0h0m0.8 0.1h0m0.8 0.2h0m0.8-1.1h0m0.7-0.1h0m0.8 0.8h0m0.8 0.2h0m0.8-0.7h0m0.7-0.4h0m0.8-0.1h0m0.8 1.2h0m0.8-1h0m0.8 0h0m0.7 0.1h0m0.8 0.6h0m0.8 0.3h0m0.8-1h0m0.7 0.8h0m0.8-0.1h0m0.8-0.3h0m0.8 0.3h0m0.7-0.7h0m0.8 0.9h0m0.8 0.3h0m0.8-0.8h0m0.8-0.1h0m0.7-0.3h0m0.8 0.2h0m0.8-0.3h0m0.8-0.1h0m0.7 0.7h0m0.8 0h0m0.8 0.5h0m0.8-0.2h0m0.7-0.4h0m0.8 0.7h0m0.8-0.9h0m0.8 0.8h0m0.8-0.4h0m0.7-0.8h0m0.8 1.3h0m0.8 0.1h0m0.8-0.6h0m0.7 0.4h0m0.8-0.9h0m0.8 1.1h0m0.8-1.2h0m0.8-0.1h0m0.7 0.1h0m0.8 0.6h0m0.8 0.2h0m0.8-0.6h0m0.7 0.3h0m0.8 0.1h0m0.8 0.1h0m0.8-0.1h0m0.7-0.4h0m0.8-0.2h0m0.8-0.1h0m0.8 1.1h0m0.8-0.2h0m0.7-0.2h0m0.8-0.2h0m0.8 0.3h0m0.8 0.2h0m0.7 0.2h0m0.8-0.3h0m0.8-0.3h0m0.8-0.7h0m0.7 0.1h0m0.8 0h0m0.8-0.1h0m0.8 0h0m0.8 0.5h0m0.7-0.3h0m0.8 1.2h0m0.8-1h0m0.8 0.1h0m0.7-2.1h0m0.8-3h0m0.8-1.2h0m0.8 0.1h0m0.7-0.9h0m0.8-0.1h0m0.8-0.3h0m0.8-1h0m0.8 1.1h0m0.7-0.5h0m0.8-1h0m0.8 0.2h0m0.8 0.3h0m0.7-1.1h0m0.8 0.3h0m0.8-0.4h0m0.8 0.2h0m0.7-0.3h0m0.8-0.1h0m0.8 0.2h0m0.8 0.4h0m0.8-0.1h0m0.7-1.2h0m0.8 0.5h0m0.8 0.6h0m0.8-1.2h0m0.7 0.9h0m0.8 0.1h0m0.8-0.7h0m0.8 0.4h0m0.7-0.4h0m0.8-0.2h0m0.8 0.5h0m0.8-0.6h0m0.8 0.6h0m0.7-0.7h0m0.8-0.1h0m0.8 0.7h0m0.8-0.6h0m0.7 0.5h0m0.8-0.6h0m0.8-0.7h0m0.8 0.4h0m0.7-0.3h0m0.8-0.1h0m0.8 0.9h0m0.8-1.4h0m0.8 0.3h0m0.7 0.9h0m0.8-1.1h0m0.8 0.6h0m0.8 0.3h0m0.7-1.3h0m0.8 0.5h0m0.8-0.3h0m0.8 0.9h0m0.7-1.1h0m0.8 1.1h0m0.8-0.3h0m0.8-0.3h0m0.8 0.5h0m0.7-0.8h0m0.8 0.5h0m0.8-0.1h0m0.8-0.6h0m0.7 0.4h0m0.8-0.7h0m0.8 0.4h0m0.8-0.4h0m0.7 0.5h0m0.8 1.7h0m0.8 2.3h0m0.8 2.4h0m0.8 0.4h0m0.7 1.9h0m0.8 0.2h0m0.8 1h0m0.8 0.6h0m0.7 1.3h0m0.8-0.2h0m0.8-0.4h0m0.8-0.2h0m0.8 0.6h0m0.7 1.2h0m0.8-0.7h0m0.8 0.8h0m0.8-0.7h0m0.7-0.4h0m0.8 1.1h0m0.8-1.3h0m0.8 0.4h0m0.7 0.7h0m0.8 0.1h0m0.8-0.4h0m0.8-0.6h0m0.8 0.4h0m0.7 0.7h0m0.8 0.1h0m0.8-0.1h0m0.8-1.1h0m0.7 1h0m0.8-0.6h0m0.8 0.4h0m0.8-0.6h0m0.7 0.5h0m0.8 0.3h0m0.8-1.1h0m0.8 0.5h0m0.8-0.2h0m0.7-0.2h0m0.8-0.2h0m0.8 1.4h0m0.8-0.5h0m0.7 0.3h0m0.8-0.5h0m0.8-0.6h0m0.8 0.1h0m0.7 1.2h0m0.8-0.2h0m0.8-1h0m0.8 0.2h0m0.8 0.4h0m0.7-0.1h0m0.8 0.5h0m0.8-1.1h0m0.8 0.7h0m0.7-0.7h0m0.8 0.4h0m0.8 0.8h0m0.8-0.4h0m0.7 0.2h0m0.8-1h0m0.8 0.4h0m0.8 0.9h0m0.8-0.2h0m0.7-0.3h0m0.8-0.2h0m0.8-0.1h0m0.8 0.3h0m0.7 0h0m0.8 0.5h0m0.8-0.8h0m0.8 0.3h0m0.7 0.5h0m0.8-0.7h0m0.8-0.8h0m0.8 1.5h0m0.8-0.2h0m0.7-0.8h0m0.8 0.6h0m0.8 0h0m0.8-0.3h0m0.7 0.3h0m0.8-0.4h0m0.8 0h0m0.8-0.6h0m0.7-0.1h0m0.8 1.5h0m0.8-0.8h0m0.8-0.3h0m0.8-0.2h0m0.7 0.2h0m0.8 0.2h0m0.8-5.2h0m0.8-4.7h0m0.7-0.6h0m0.8-1.6h0m0.8-0.9h0m0.8-0.8h0m0.8-0.4h0m0.7 0.3h0m0.8-1.1h0m0.8-0.3h0m0.8 0.1h0m0.7-0.5h0m0.8 0.1h0m0.8-0.6h0m0.8-0.1h0m0.7 0.2h0m0.8-0.8h0m0.8 0h0m0.8-1.1h0m0.8 0.7h0m0.7 0.1h0m0.8 0.1h0m0.8 0h0m0.8-0.2h0m0.7 0.2h0m0.8 0.2h0m0.8-1.4h0m0.8 0.5h0m0.7 0h0m0.8-0.3h0m0.8 0.4h0m0.8 0.1h0m0.8 0.1h0m0.7-0.4h0m0.8-0.1h0m0.8-0.7h0m0.8 0.2h0m0.7-0.6h0m0.8 0.8h0m0.8-0.9h0m0.8 0.4h0m0.7 0.7h0m0.8-0.2h0m0.8-0.7h0m0.8-0.7h0m0.8 0.9h0m0.7-0.7h0m0.8 0.6h0m0.8-0.7h0m0.8 1.2h0m0.7-0.6h0m0.8-0.7h0m0.8 1h0m0.8 0h0m0.7 0.4h0m0.8-0.2h0m0.8 1.7h0m0.8 1.3h0m0.8 3.9h0m0.7 3h0m0.8 2h0m0.8 1.1h0m0.8 1.3h0m0.7 0.9h0m0.8 1.4h0m0.8-0.2h0m0.8 0.3h0m0.7 1.2h0m0.8 1.4h0m0.8-1.1h0m0.8-0.1h0m0.8 0.8h0m0.7 0.3h0m0.8 0h0m0.8-0.6h0m0.8-0.5h0m0.7 0.4h0m0.8-0.5h0m0.8 1.1h0m0.8-0.2h0m0.7-0.6h0m0.8 0.2h0m0.8 0.3h0m0.8-0.4h0m0.8 0.5h0m0.7 0.5h0m0.8-0.6h0m0.8 0.6h0m0.8-0.9h0m0.7 0.4h0m0.8-0.2h0m0.8-0.2h0m0.8 0.6h0m0.7-0.4h0m0.8 0.7h0m0.8-1.4h0m0.8 0.6h0m0.8-0.7h0m0.7 1.5h0m0.8-0.9h0m0.8-0.2h0m0.8 0.6h0m0.7 0.4h0m0.8-0.1h0m0.8 0h0m0.8-0.9h0m0.7 1h0m0.8-1.1h0m0.8 0.6h0m0.8-0.2h0m0.8-0.1h0m0.7 0.1h0m0.8-0.2h0m0.8 0.1h0m0.8 0.4h0m0.7-0.6h0m0.8 0.8h0m0.8-0.7h0m0.8-0.1h0m0.8 0h0m0.7 0.7h0m0.8-0.7h0m0.8-0.4h0m0.8 0.9h0m0.7 0.2h0m0.8-0.4h0m0.8-0.6h0m0.8 1.2h0m0.7 0.2h0m0.8-0.7h0m0.8-0.3h0m0.8-0.1h0m0.8 0.6h0m0.7-1h0m0.8 1.2h0m0.8-0.8h0m0.8 1h0m0.7 0.1h0m0.8-0.2h0m0.8 0.2h0m0.8-0.7h0m0.7-0.1h0m0.8 0.6h0m0.8-1.2h0m0.8 0.9h0m0.8 0.3h0m0.7 0h0m0.8-0.9h0m0.8-0.3h0m0.8 1.2h0m0.7 0.2h0m0.8-1.1h0m0.8 0.8h0m0.8-1.2h0m0.7 0.8h0m0.8-0.2h0m0.8-7.3h0m0.8-8.4h0m0.8-1h0m0.7-1.4h0m0.8-2.5h0m0.8-0.4h0m0.8-1.3h0m0.7 0.7h0m0.8-1.2h0m0.8 0.1h0m0.8-1.1h0m0.7 0.9h0m0.8-1.1h0m0.8 0h0m0.8-1.1h0m0.8-0.4h0m0.7 0.4h0m0.8 0.6h0m0.8-0.1h0m0.8-0.1h0m0.7-0.3h0m0.8 0.3h0m0.8 0h0m0.8-0.9h0m0.7 0.1h0m0.8 0.5h0m0.8-1.1h0m0.8 1.1h0m0.8-0.6h0m0.7 0.6h0m0.8-1.1h0m0.8-0.1h0m0.8 0.9h0m0.7-0.8h0m0.8-0.2h0m0.8 0.8h0m0.8-0.1h0m0.7-0.3h0m0.8-0.7h0m0.8 1.1h0m0.8-0.9h0m0.8 0.1h0m0.7 0.2h0m0.8-0.2h0m0.8-0.6h0m0.8 1h0m0.7-1h0m0.8 0.7h0m0.8-0.7h0m0.8-0.1h0m0.8 1h0m0.7-1.1h0m0.8-0.2h0m0.8 1h0m0.8 0.4h0m0.7-0.2h0m0.8-1.4h0m0.8 1.5h0m0.8-1.5h0m0.7 1.2h0m0.8-1h0m0.8 1h0m0.8-0.2h0m0.8-0.8h0m0.7 0.9h0m0.8-0.5h0m0.8-0.9h0m0.8 0.3h0m0.7-0.3h0m0.8-0.2h0m0.8 1.4h0m0.8-0.3h0m0.7-0.9h0m0.8 3.7h0m0.8 4.5h0m0.8 3.1h0m0.8 4.3h0m0.7 3.5h0m0.8 2.1h0m0.8 1.7h0m0.8 0.2h0m0.7 2.6h0m0.8-0.6h0m0.8 1.5h0m0.8-0.3h0m0.7 0.8h0m0.8-0.1h0m0.8 0.6h0m0.8-0.5h0m0.8 1.1h0m0.7-0.6h0m0.8 0.4h0m0.8 0.6h0m0.8-0.4h0m0.7-0.2h0m0.8-0.7h0m0.8 0.9h0m0.8 0.2h0m0.7-1.1h0m0.8 0.1h0m0.8 0.2h0m0.8 0.7h0m0.8 0.2h0m0.7-0.2h0m0.8 0.3h0m0.8 0.1h0m0.8-0.7h0m0.7 0.1h0m0.8-0.2h0m0.8 0.3h0m0.8 0.5h0m0.7-1h0m0.8 0h0m0.8 0.2h0m0.8 0h0m0.8-0.2h0m0.7-0.5h0m0.8 0.2h0m0.8 0.2h0m0.8 0.5h0m0.7 0.2h0m0.8-0.2h0m0.8-0.8h0m0.8 0.9h0m0.7 0h0m0.8-0.1h0m0.8 0.4h0m0.8-1.3h0m0.8 1.5h0m0.7-0.9h0m0.8-0.5h0m0.8 1.1h0m0.8-0.6h0m0.7 0.4h0m0.8 0.2h0m0.8 0h0m0.8 0.2h0m0.7-1.1h0m0.8 0h0m0.8-0.1h0m0.8 1.3h0m0.8-9.4h0m0.7-7.7h0m0.8-1.8h0m0.8-1.1h0m0.8-0.9h0m0.7-2.3h0m0.8 0.2h0m0.8-2.5h0m0.8-0.5h0m0.7 0.1h0m0.8-0.6h0m0.8-1h0m0.8 0.7h0m0.8-1h0m0.7-0.6h0m0.8 0.1h0m0.8-1h0m0.8 0.1h0m0.7-0.6h0m0.8-0.6h0m0.8-0.2h0m0.8 0.5h0m0.8-0.6h0m0.7 0.1h0m0.8 0.4h0m0.8-0.7h0m0.8 0.5h0m0.7-1.1h0m0.8 0.6h0m0.8-0.5h0m0.8 0.2h0m0.7 0h0m0.8 0.3h0m0.8 0h0m0.8-1.2h0m0.8 0.5h0m0.7-0.1h0m0.8-0.1h0m0.8-0.5h0m0.8 0.8h0m0.7 0h0m0.8-1.1h0m0.8 0.5h0m0.8-0.4h0m0.7-0.3h0m0.8-0.2h0m0.8-0.1h0m0.8 1.2h0m0.8-0.6h0m0.7-0.8h0m0.8 0h0m0.8 1h0m0.8 0h0m0.7-0.2h0m0.8 0.2h0m0.8-0.4h0m0.8-0.8h0m0.7 0.5h0m0.8 0h0m0.8 0.6h0m0.8-0.5h0m0.8-1h0m0.7 0.4h0m0.8 0.4h0m0.8-0.1h0m0.8-0.5h0m0.7 0h0m0.8 0.9h0m0.8-0.8h0m0.8 0.4h0m0.7-0.2h0m0.8 5.2h0m0.8 4.6h0m0.8 4.8h0m0.8 4.6h0m0.7 5.2h0m0.8 1.4h0m0.8 1h0m0.8 2.4h0m0.7 1.4h0m0.8-0.6h0m0.8 1h0m0.8 0.2h0m0.7 0.3h0m0.8-0.6h0m0.8 1.4h0m0.8-0.6h0m0.8-0.1h0m0.7 1.3h0m0.8-0.1h0m0.8-0.6h0m0.8 0.3h0m0.7 0.4h0m0.8 0.5h0m0.8-0.6h0m0.8 0.1h0m0.7-0.5h0m0.8 0.6h0m0.8-0.2h0m0.8-0.3h0m0.8-0.3h0m0.7 0.7h0m0.8 0h0m0.8-0.3h0m0.8-0.6h0m0.7 1.2h0m0.8-1.2h0m0.8 0.4h0m0.8 0.5h0m0.8-0.5h0m0.7 0.5h0m0.8 0.4h0m0.8-1h0m0.8 0.6h0m0.7-0.3h0m0.8 0.1h0m0.8-0.6h0m0.8 0.2h0m0.7 1.1h0m0.8-0.9h0m0.8 0.2h0m0.8 0h0m0.8-0.5h0m0.7 0.6h0m0.8-0.1h0m0.8-0.6h0m0.8 0.7h0m0.7-0.1h0m0.8 0h0m0.8-0.5h0m0.8 0.2h0m0.7-0.1h0m0.8 0.5h0m0.8 0.6h0m0.8-1h0m0.8 0.2h0m0.7-0.3h0m0.8 0h0m0.8 1h0m0.8-0.2h0m0.7 0.2h0m0.8-1.1h0m0.8 1.1h0m0.8 0h0m0.7-1h0m0.8 0.3h0m0.8 0.8h0m0.8-1h0m0.8 0h0m0.7 0.3h0m0.8 0.7h0m0.8-1h0m0.8 0.4h0m0.7-0.2h0m0.8-0.7h0m0.8 0.3h0m0.8-0.1h0m0.7 1.1h0m0.8-0.3h0m0.8-0.2h0m0.8 0.7h0m0.8-11.1h0m0.7-8.5h0m0.8-1.3h0m0.8-1.3h0m0.8-1.2h0m0.7-2.2h0m0.8-0.8h0m0.8-0.4h0m0.8-0.3h0m0.7 0.1h0m0.8-0.8h0m0.8-1.3h0m0.8-0.3h0m0.8-0.5h0m0.7 0.5h0m0.8-0.3h0m0.8-0.2h0m0.8-1.2h0m0.7-0.2h0m0.8-0.3h0m0.8-0.2h0m0.8-0.3h0m0.7 0.1h0m0.8-0.8h0m0.8 0.7h0m0.8-1.2h0m0.8 0.4h0m0.7 0.6h0m0.8-0.6h0m0.8-0.5h0m0.8 0h0m0.7-0.4h0m0.8 0.2h0m0.8-0.1h0m0.8-1h0m0.7 0.6h0m0.8-0.8h0m0.8-0.3h0m0.8 0.2h0m0.8 0h0m0.7-0.9h0m0.8 0.6h0m0.8-0.9h0m0.8 1.1h0m0.7-0.7h0m0.8-0.5h0m0.8 0.7h0m0.8-1.4h0m0.7 1h0m0.8-0.8h0m0.8 0.5h0m0.8-1.2h0m0.8 0.5h0m0.7-0.5h0m0.8 0.4h0m0.8-0.4h0m0.8 0h0m0.7 0.5h0m0.8 0h0m0.8-1h0m0.8 0.9h0m0.8-1.2h0m0.7 1h0m0.8 0.1h0m0.8-0.1h0m0.8-1.2h0m0.7-0.3h0m0.8 0.8h0m0.8-0.5h0m0.8 0.5h0m0.7-1h0m0.8 0.2h0m0.8 0.7h0m0.8 0.1h0m0.8-1.1h0m0.7 1h0m0.8-1.3h0m0.8 0.7h0m0.8 0h0m0.7-0.6h0m0.8 0.3h0m0.8-0.4h0m0.8 0.5h0m0.7-1.2h0m0.8 0.8h0m0.8-0.9h0m0.8 1h0m0.8-1.1h0m0.7 13.2h0m0.8 7.3h0m0.8 7h0m0.8 2.4h0m0.7 2.6h0m0.8 3.7h0m0.8 0.2h0m0.8 1.5h0m0.7 0.2h0m0.8 0.4h0m0.8 1.2h0m0.8-0.4h0m0.8 0.9h0m0.7-1.1h0m0.8 1.1h0m0.8-1.3h0m0.8-0.1h0m0.7 0.1h0m0.8 0.6h0m0.8 0.4h0m0.8-0.1h0m0.7-0.6h0m0.8 0.4h0m0.8-0.7h0m0.8 1.3h0m0.8-0.6h0m0.7-0.6h0m0.8 0.4h0m0.8 0.1h0m0.8 0.7h0m0.7-0.1h0" stroke="#63ad32" stroke-width="6.6" stroke-linecap="round" fill="none"/>
<path d="M991.8 513.2h0m0.7 1.7h0m0.8 2.3h0m1.6 2.8h0m69.1 5.3h0m0.8-5.2h0m42.7-13.3h0m1.6 3h0m0.8 3.9h0m0.7 3h0m74.6 8.6h0m0.8-7.3h0m55.9-20.5h0m0.8 3.7h0m0.8 4.5h0m0.8 3.1h0m0.8 4.3h0m0.7 3.5h0m0.8 2.1h0m1.6 1.9h0m46.6 5.6h0m0.8-9.4h0m54.3-24h0m0.8 5.2h0m0.8 4.6h0m0.8 4.8h0m0.8 4.6h0m2.3 7.6h0m64.5 6.6h0m0.8-11.1h0m67.6-29.2h0m0.7 13.2h0m0.8 7.3h0m0.8 7h0m0.8 2.4h0m0.7 2.6h0m20.2 7.6h0" stroke="#fff" stroke-width="2" stroke-linecap="round" fill="none" stroke-opacity="0.6"/>
<path d="M876.3 527.6l0.8-2.7 0.8 0.2 0.7 2.7 0.8-3.1 0.8 3.9 0.8-2.5 0.7-1.6 0.8 2.8 0.8-2.7 0.8 1.3 0.7 2.6 0.8-1.2 0.8-0.5 0.8 0.9 0.8-2.2 0.7 2.5 0.8-2.7 0.8 2.2 0.8 1 0.7-2.2 0.8 2 0.8-1.9 0.8-1.1 0.7 0.9 0.8 0.5 0.8 1.9 0.8-2.1 0.8 1.8 0.7-2.4 0.8 2.3 0.8-2 0.8 1 0.7-0.1 0.8-1.2 0.8 2.1 0.8 0 0.7-3.3 0.8 2.6 0.8-2.2 0.8-0.1 0.8 1.7 0.7 1.4 0.8 0.2 0.8-3.4 0.8 3.3 0.7-1.6 0.8-0.2 0.8 1.8 0.8-1.5 0.8 1.3 0.7-1.6 0.8 0.2 0.8 0.6 0.8 0.7 0.7-0.9 0.8 0.9 0.8 0.3 0.8-0.5 0.7-2.7 0.8 1.6 0.8-1.7 0.8 3.8 0.8-4.1 0.7 2 0.8-1.3 0.8 1 0.8-0.5 0.7 2 0.8-2.3 0.8 2.6 0.8-0.5 0.7 1 0.8-1.6 0.8-0.5 0.8 1 0.8-2.6 0.7 3.5 0.8-2.2 0.8-2.3 0.8-5.4 0.7-3.4 0.8-2.3 0.8 2.9 0.8-0.8 0.7-1.5 0.8-1.7 0.8 4.1 0.8-2.5 0.8-0.3 0.7-0.5 0.8 2.1 0.8-2.1 0.8 1.6 0.7-2 0.8 4 0.8-4.1 0.8 2.3 0.7 0.1 0.8 1.4 0.8-0.7 0.8-2.1 0.8 0.3 0.7 2.3 0.8-0.9 0.8 0.9 0.8-0.2 0.7-0.1 0.8-0.4 0.8-2.8 0.8-0.1 0.7 0.9 0.8 1.4 0.8-0.1 0.8-1.2 0.8-0.6 0.7 0.7 0.8 0.5 0.8 2 0.8-1.9 0.7-0.9 0.8 0.2 0.8 3.1 0.8-2.7 0.7 1.6 0.8 0.8 0.8-3.5 0.8 1.3 0.8-0.3 0.7 2.7 0.8-2.1 0.8 0.5 0.8 2.1 0.7 2.6 0.8 1.5 0.8 2.1 0.8 1.8 0.7 1.5 0.8-0.8 0.8 0.1 0.8-0.3 0.8 2.5 0.7-2.9 0.8 1.8 0.8-1.8 0.8 3.7 0.7-3.8 0.8 0.8 0.8 2.4 0.8-2.6 0.7 2.6 0.8 0.2 0.8-1.1 0.8 0.9 0.8-1.1 0.7-1.8 0.8 1 0.8-0.1 0.8 1.4 0.7-1.8 0.8 0 0.8 0.5 0.8-1.1 0.8 0.5 0.7 1.8 0.8 1.4 0.8-2.5 0.8-0.8 0.7 2.2 0.8-1.1 0.8-1.1 0.8 0.2 0.7 3.4 0.8-2.1 0.8 2.1 0.8-0.4 0.8-3.1 0.7 1.7 0.8-0.8 0.8 0.7 0.8 0.5 0.7 0.5 0.8-0.6 0.8-2.1 0.8 1 0.7 1.4 0.8 0.9 0.8-0.8 0.8-1.9 0.8 1.1 0.7-0.9 0.8-0.7 0.8 3 0.8-2.4 0.7 2.8 0.8-3.4 0.8 2.8 0.8-0.4 0.7-3 0.8 2.6 0.8 0.6 0.8-2.9 0.8 1.2 0.7-1.2 0.8 2.1 0.8-0.4 0.8-2 0.7 2 0.8-2.1 0.8 3.4 0.8-2.8 0.7 3 0.8-1.6 0.8 2.3 0.8-0.8 0.8-3.4 0.7 2.2 0.8-1.6 0.8 2.5 0.8-0.5 0.7 1.1 0.8-1.9 0.8-1.4 0.8 1.5 0.7 0.6 0.8-2.4 0.8 0.2 0.8 1 0.8 2.5 0.7-2.4 0.8 0.8 0.8-2.2 0.8 2.6 0.7-1.3 0.8 0.1 0.8 1.1 0.8-0.6 0.7-0.7 0.8-1 0.8 1.8 0.8 0.6 0.8-2.7 0.7 4 0.8-13 0.8-8.9 0.8-5.3 0.7-5.3 0.8-1.3 0.8-0.6 0.8 0.7 0.8-0.1 0.7 3.1 0.8-1.2 0.8 0.8 0.8-3.6 0.7 0.3 0.8 3.3 0.8-2 0.8 0.1 0.7 2.3 0.8-1.5 0.8-1.6 0.8 0.5 0.8 1.6 0.7-2.1 0.8 2 0.8-1.1 0.8 0.6 0.7-2.5 0.8 1.5 0.8-0.7 0.8 0.5 0.7 1.3 0.8-2.5 0.8 1.1 0.8 0.1 0.8 1.8 0.7 0.5 0.8-1.8 0.8-1.1 0.8 0.1 0.7 2 0.8 0.9 0.8-1.7 0.8-1.5 0.7 3.1 0.8-2.5 0.8 2.4 0.8-0.6 0.8 1.2 0.7-1.1 0.8-0.4 0.8-2.5 0.8 3.8 0.7 7.3 0.8 4.6 0.8 2.3 0.8 5.4 0.7 1.6 0.8 1.6 0.8 2.8 0.8 0.6 0.8 0.7 0.7 1.3 0.8-2.3 0.8 3.2 0.8 0.4 0.7-2.9 0.8 2.2 0.8-1.5 0.8 1.1 0.7-0.6 0.8 2 0.8 0.7 0.8-2.6 0.8 1.2 0.7-0.4 0.8-0.5 0.8-0.3 0.8 2.1 0.7-0.4 0.8-2.4 0.8 1.7 0.8 1 0.7-1.5 0.8 1.6 0.8-2.2 0.8 3.2 0.8-3.4 0.7 1.1 0.8 0.9 0.8-2.5 0.8 2.9 0.7 0.1 0.8 0.8 0.8-2.1 0.8-0.9 0.7 0.3 0.8 1.2 0.8-1.8 0.8 3.1 0.8-0.9 0.7-1.5 0.8-1.4 0.8 1.5 0.8-0.3 0.7-0.3 0.8 1.6 0.8-2.3 0.8 0.8 0.7 1.8 0.8-0.3 0.8-1.8 0.8 2 0.8 0.7 0.7-2.9 0.8 1.4 0.8 0.1 0.8-0.7 0.7-1 0.8 3.4 0.8-0.9 0.8 1.2 0.8-1.5 0.7-0.4 0.8-1.6 0.8 0.8 0.8 0.4 0.7 0.8 0.8-0.7 0.8 1.3 0.8-2.5 0.7 0.2 0.8-0.2 0.8 3 0.8-2.3 0.8-0.3 0.7 1.1 0.8-1.8 0.8 0 0.8 0.7 0.7-0.3 0.8 0.7 0.8-1 0.8 3.3 0.7-2.5 0.8 0 0.8 0.4 0.8 1.5 0.8 0.9 0.7-2.4 0.8-0.9 0.8 2.4 0.8 0.2 0.7 0 0.8 0.6 0.8-2.6 0.8-1.3 0.7 0.8 0.8-7.7 0.8-11.1 0.8-4.3 0.8-10.4 0.7-1 0.8 1.4 0.8-2.7 0.8 2.1 0.7-0.6 0.8 1 0.8-1.7 0.8-0.5 0.7-1.1 0.8 3.3 0.8-3.4 0.8 3.1 0.8-0.5 0.7-1.7 0.8 1.2 0.8 0.1 0.8-1.1 0.7 1.6 0.8-2.5 0.8 2.5 0.8-2.7 0.7 0.1 0.8 1.2 0.8 2.2 0.8-3.3 0.8 3.3 0.7-2.1 0.8 0.4 0.8 1.5 0.8-2.4 0.7-0.4 0.8 0.6 0.8 0.8 0.8-0.5 0.7-0.3 0.8 1.5 0.8-2.8 0.8-0.5 0.8 0.8 0.7-0.7 0.8 2.8 0.8-2.9 0.8 4 0.7-1.8 0.8 1.5 0.8-1.4 0.8-1 0.8-0.1 0.7 1.1 0.8 0.5 0.8 7.7 0.8 4.2 0.7 5.7 0.8 3.4 0.8 0.6 0.8 4 0.7 1.9 0.8 2.6 0.8-0.6 0.8 3.9 0.8 0.1 0.7-0.8 0.8-0.1 0.8-0.7 0.8 1.5 0.7-0.4 0.8 0.6 0.8 1.3 0.8 0 0.7 2.9 0.8-0.6 0.8 0.8 0.8-3.7 0.8 0.6 0.7 0.4 0.8 1.6 0.8-0.4 0.8 0.8 0.7-2 0.8-1.6 0.8 3 0.8 1.2 0.7-0.6 0.8-0.8 0.8-2.4 0.8 0.5 0.8 1.5 0.7 1.5 0.8 0 0.8-0.2 0.8-2.7 0.7 1.3 0.8-2.3 0.8 0.4 0.8 0.5 0.7 1.4 0.8-1.5 0.8 3 0.8 0.1 0.8-2 0.7 0.2 0.8 1.3 0.8-0.1 0.8 1 0.7-3.9 0.8 0.9 0.8-1.1 0.8-0.1 0.7 2.4 0.8-1.3 0.8 1.5 0.8-1.9 0.8-0.1 0.7 3.1 0.8 0.5 0.8-0.9 0.8-1.6 0.7 0.9 0.8 1.6 0.8-3.6 0.8 0.2 0.7 1.4 0.8 1.9 0.8-3.7 0.8 1.5 0.8 2.1 0.7-1.2 0.8-1.3 0.8-1.1 0.8 1.7 0.7-0.6 0.8 1.9 0.8-0.2 0.8-2.9 0.7 2.3 0.8-7.8 0.8-11.1 0.8-6.9 0.8-9.3 0.7-3.7 0.8-3.1 0.8-0.2 0.8-0.3 0.7 1.1 0.8 1.6 0.8-2.8 0.8 2.9 0.7-1.8 0.8 0.3 0.8-1.2 0.8-0.2 0.8 2.1 0.7-1.8 0.8-0.2 0.8 1 0.8 1.4 0.7-3.3 0.8 1.3 0.8 2.4 0.8-0.8 0.8-3.3 0.7 3.3 0.8-0.7 0.8-1.7 0.8-0.2 0.7 0.9 0.8-0.5 0.8 3.1 0.8-0.3 0.7-3.8 0.8 0.7 0.8 3.4 0.8-0.1 0.8-0.8 0.7-3 0.8 3.1 0.8-2 0.8-1.1 0.7 1.3 0.8-1.3 0.8 2.9 0.8 0.5 0.7 0.6 0.8-3.3 0.8 2.9 0.8-3.8 0.8 1.1 0.7 2.3 0.8 3.1 0.8 8.6 0.8 4.2 0.7 7.6 0.8 0 0.8 2.5 0.8 2.9 0.7 5 0.8-2.7 0.8 2.3 0.8-0.1 0.8 2.4 0.7 0 0.8 0.6 0.8-0.4 0.8 3.6 0.7 0.6 0.8-1.7 0.8 1.6 0.8 0 0.7 1.7 0.8-3.2 0.8 3.2 0.8-3.6 0.8 0.1 0.7 1.6 0.8 1.4 0.8-2.3 0.8 2 0.7-1 0.8 1.4 0.8-3.8 0.8 1.9 0.7 0.8 0.8 1.1 0.8-2.7 0.8-0.5 0.8 0 0.7 3.2 0.8-1.1 0.8 0.2 0.8-2 0.7 2.7 0.8-2 0.8-1.6 0.8 0.9 0.7 3.3 0.8-0.3 0.8-0.1 0.8-2.6 0.8 0.4 0.7 0.4 0.8 0.3 0.8 0.2 0.8-0.9 0.7-0.2 0.8-1.1 0.8 0.8 0.8-0.3 0.8-0.5 0.7 0.3 0.8 0.5 0.8 3 0.8-2.8 0.7-0.7 0.8 1.8 0.8-2 0.8 3.1 0.7-3.3 0.8 2.1 0.8-1.1 0.8 2 0.8-0.3 0.7-0.2 0.8 0.1 0.8 1 0.8-1.5 0.7-2.3 0.8 1.4 0.8-1.2 0.8 0.7 0.7-0.3 0.8-0.7 0.8 1.1 0.8 2.1 0.8 0.1 0.7-0.7 0.8 1.7 0.8-0.9 0.8-2.9 0.7-0.2 0.8 2.6 0.8-1.9 0.8 0 0.7-0.5 0.8 0.4 0.8 1.1 0.8 1.9 0.8-3.1 0.7 2.2 0.8-1.4 0.8 1.2 0.8-0.8 0.7-1.8 0.8 3.5 0.8-1.7 0.8-0.5 0.7 0.5 0.8-1.7 0.8 2.3 0.8-8.6 0.8-11.9 0.7-11.4 0.8-4.6 0.8-8.8 0.8-0.3 0.7-2.7 0.8 3.8 0.8-1 0.8-2 0.7-1.2 0.8 3.5 0.8-1.1 0.8-1.1 0.8 0 0.7-0.2 0.8-0.1 0.8 2.2 0.8 0 0.7 1 0.8-2.9 0.8 2.1 0.8-0.2 0.7-3.1 0.8 1.4 0.8 0.2 0.8-0.3 0.8 0.3 0.7-0.4 0.8 1.7 0.8 1 0.8 0 0.7 0.2 0.8-1.5 0.8 1 0.8 0.1 0.7-1.6 0.8-2.1 0.8 1.2 0.8 1.8 0.8-2.1 0.7 2.5 0.8 0.4 0.8-0.9 0.8-0.5 0.7-1.2 0.8 1.1 0.8-1.3 0.8 2.8 0.7-3.7 0.8 2.6 0.8-2.1 0.8 3.5 0.8-3.5 0.7 2.6 0.8-2.7 0.8 0.2 0.8 0.6 0.7 1.7 0.8 1.2 0.8-0.8 0.8 7.1 0.8 9.7 0.7 4.2 0.8 5.5 0.8 4.8 0.8 4.2 0.7 2.3 0.8 2.3 0.8-3.1 0.8 3.4 0.7-0.4 0.8 1.1 0.8 2.3 0.8 0.9 0.8 0.5 0.7-3.4 0.8 3.4 0.8-3.4 0.8 2.8 0.7-1.3 0.8 2.8 0.8-2.6 0.8 2.5 0.7-0.2 0.8-0.7 0.8 1.8 0.8-0.6 0.8-2.4 0.7 2.2 0.8-0.4 0.8-1.7 0.8 2.4 0.7 0.1 0.8-0.1 0.8-0.7 0.8 0.1 0.7-1.2 0.8 0.7 0.8-1.7 0.8 3.5 0.8-2.6 0.7-0.8 0.8 2.6 0.8 0.9 0.8-1.8 0.7 1.5 0.8-1.5 0.8-1.1 0.8 2.7 0.7-0.2 0.8-1.5 0.8 1.3 0.8-0.2 0.8-1 0.7 1.4 0.8 0.3 0.8-1.3 0.8-0.5 0.7-2" fill="none" stroke="#e8ac16" stroke-width="1.5" stroke-linejoin="round"/>
<path d="M876.3 527.6h0m0.8-2.7h0m0.8 0.2h0m0.7 2.7h0m0.8-3.1h0m0.8 3.9h0m0.8-2.5h0m0.7-1.6h0m0.8 2.8h0m0.8-2.7h0m0.8 1.3h0m0.7 2.6h0m0.8-1.2h0m0.8-0.5h0m0.8 0.9h0m0.8-2.2h0m0.7 2.5h0m0.8-2.7h0m0.8 2.2h0m0.8 1h0m0.7-2.2h0m0.8 2h0m0.8-1.9h0m0.8-1.1h0m0.7 0.9h0m0.8 0.5h0m0.8 1.9h0m0.8-2.1h0m0.8 1.8h0m0.7-2.4h0m0.8 2.3h0m0.8-2h0m0.8 1h0m0.7-0.1h0m0.8-1.2h0m0.8 2.1h0m0.8 0h0m0.7-3.3h0m0.8 2.6h0m0.8-2.2h0m0.8-0.1h0m0.8 1.7h0m0.7 1.4h0m0.8 0.2h0m0.8-3.4h0m0.8 3.3h0m0.7-1.6h0m0.8-0.2h0m0.8 1.8h0m0.8-1.5h0m0.8 1.3h0m0.7-1.6h0m0.8 0.2h0m0.8 0.6h0m0.8 0.7h0m0.7-0.9h0m0.8 0.9h0m0.8 0.3h0m0.8-0.5h0m0.7-2.7h0m0.8 1.6h0m0.8-1.7h0m0.8 3.8h0m0.8-4.1h0m0.7 2h0m0.8-1.3h0m0.8 1h0m0.8-0.5h0m0.7 2h0m0.8-2.3h0m0.8 2.6h0m0.8-0.5h0m0.7 1h0m0.8-1.6h0m0.8-0.5h0m0.8 1h0m0.8-2.6h0m0.7 3.5h0m0.8-2.2h0m0.8-2.3h0m0.8-5.4h0m0.7-3.4h0m0.8-2.3h0m0.8 2.9h0m0.8-0.8h0m0.7-1.5h0m0.8-1.7h0m0.8 4.1h0m0.8-2.5h0m0.8-0.3h0m0.7-0.5h0m0.8 2.1h0m0.8-2.1h0m0.8 1.6h0m0.7-2h0m0.8 4h0m0.8-4.1h0m0.8 2.3h0m0.7 0.1h0m0.8 1.4h0m0.8-0.7h0m0.8-2.1h0m0.8 0.3h0m0.7 2.3h0m0.8-0.9h0m0.8 0.9h0m0.8-0.2h0m0.7-0.1h0m0.8-0.4h0m0.8-2.8h0m0.8-0.1h0m0.7 0.9h0m0.8 1.4h0m0.8-0.1h0m0.8-1.2h0m0.8-0.6h0m0.7 0.7h0m0.8 0.5h0m0.8 2h0m0.8-1.9h0m0.7-0.9h0m0.8 0.2h0m0.8 3.1h0m0.8-2.7h0m0.7 1.6h0m0.8 0.8h0m0.8-3.5h0m0.8 1.3h0m0.8-0.3h0m0.7 2.7h0m0.8-2.1h0m0.8 0.5h0m0.8 2.1h0m0.7 2.6h0m0.8 1.5h0m0.8 2.1h0m0.8 1.8h0m0.7 1.5h0m0.8-0.8h0m0.8 0.1h0m0.8-0.3h0m0.8 2.5h0m0.7-2.9h0m0.8 1.8h0m0.8-1.8h0m0.8 3.7h0m0.7-3.8h0m0.8 0.8h0m0.8 2.4h0m0.8-2.6h0m0.7 2.6h0m0.8 0.2h0m0.8-1.1h0m0.8 0.9h0m0.8-1.1h0m0.7-1.8h0m0.8 1h0m0.8-0.1h0m0.8 1.4h0m0.7-1.8h0m0.8 0h0m0.8 0.5h0m0.8-1.1h0m0.8 0.5h0m0.7 1.8h0m0.8 1.4h0m0.8-2.5h0m0.8-0.8h0m0.7 2.2h0m0.8-1.1h0m0.8-1.1h0m0.8 0.2h0m0.7 3.4h0m0.8-2.1h0m0.8 2.1h0m0.8-0.4h0m0.8-3.1h0m0.7 1.7h0m0.8-0.8h0m0.8 0.7h0m0.8 0.5h0m0.7 0.5h0m0.8-0.6h0m0.8-2.1h0m0.8 1h0m0.7 1.4h0m0.8 0.9h0m0.8-0.8h0m0.8-1.9h0m0.8 1.1h0m0.7-0.9h0m0.8-0.7h0m0.8 3h0m0.8-2.4h0m0.7 2.8h0m0.8-3.4h0m0.8 2.8h0m0.8-0.4h0m0.7-3h0m0.8 2.6h0m0.8 0.6h0m0.8-2.9h0m0.8 1.2h0m0.7-1.2h0m0.8 2.1h0m0.8-0.4h0m0.8-2h0m0.7 2h0m0.8-2.1h0m0.8 3.4h0m0.8-2.8h0m0.7 3h0m0.8-1.6h0m0.8 2.3h0m0.8-0.8h0m0.8-3.4h0m0.7 2.2h0m0.8-1.6h0m0.8 2.5h0m0.8-0.5h0m0.7 1.1h0m0.8-1.9h0m0.8-1.4h0m0.8 1.5h0m0.7 0.6h0m0.8-2.4h0m0.8 0.2h0m0.8 1h0m0.8 2.5h0m0.7-2.4h0m0.8 0.8h0m0.8-2.2h0m0.8 2.6h0m0.7-1.3h0m0.8 0.1h0m0.8 1.1h0m0.8-0.6h0m0.7-0.7h0m0.8-1h0m0.8 1.8h0m0.8 0.6h0m0.8-2.7h0m0.7 4h0m0.8-13h0m0.8-8.9h0m0.8-5.3h0m0.7-5.3h0m0.8-1.3h0m0.8-0.6h0m0.8 0.7h0m0.8-0.1h0m0.7 3.1h0m0.8-1.2h0m0.8 0.8h0m0.8-3.6h0m0.7 0.3h0m0.8 3.3h0m0.8-2h0m0.8 0.1h0m0.7 2.3h0m0.8-1.5h0m0.8-1.6h0m0.8 0.5h0m0.8 1.6h0m0.7-2.1h0m0.8 2h0m0.8-1.1h0m0.8 0.6h0m0.7-2.5h0m0.8 1.5h0m0.8-0.7h0m0.8 0.5h0m0.7 1.3h0m0.8-2.5h0m0.8 1.1h0m0.8 0.1h0m0.8 1.8h0m0.7 0.5h0m0.8-1.8h0m0.8-1.1h0m0.8 0.1h0m0.7 2h0m0.8 0.9h0m0.8-1.7h0m0.8-1.5h0m0.7 3.1h0m0.8-2.5h0m0.8 2.4h0m0.8-0.6h0m0.8 1.2h0m0.7-1.1h0m0.8-0.4h0m0.8-2.5h0m0.8 3.8h0m0.7 7.3h0m0.8 4.6h0m0.8 2.3h0m0.8 5.4h0m0.7 1.6h0m0.8 1.6h0m0.8 2.8h0m0.8 0.6h0m0.8 0.7h0m0.7 1.3h0m0.8-2.3h0m0.8 3.2h0m0.8 0.4h0m0.7-2.9h0m0.8 2.2h0m0.8-1.5h0m0.8 1.1h0m0.7-0.6h0m0.8 2h0m0.8 0.7h0m0.8-2.6h0m0.8 1.2h0m0.7-0.4h0m0.8-0.5h0m0.8-0.3h0m0.8 2.1h0m0.7-0.4h0m0.8-2.4h0m0.8 1.7h0m0.8 1h0m0.7-1.5h0m0.8 1.6h0m0.8-2.2h0m0.8 3.2h0m0.8-3.4h0m0.7 1.1h0m0.8 0.9h0m0.8-2.5h0m0.8 2.9h0m0.7 0.1h0m0.8 0.8h0m0.8-2.1h0m0.8-0.9h0m0.7 0.3h0m0.8 1.2h0m0.8-1.8h0m0.8 3.1h0m0.8-0.9h0m0.7-1.5h0m0.8-1.4h0m0.8 1.5h0m0.8-0.3h0m0.7-0.3h0m0.8 1.6h0m0.8-2.3h0m0.8 0.8h0m0.7 1.8h0m0.8-0.3h0m0.8-1.8h0m0.8 2h0m0.8 0.7h0m0.7-2.9h0m0.8 1.4h0m0.8 0.1h0m0.8-0.7h0m0.7-1h0m0.8 3.4h0m0.8-0.9h0m0.8 1.2h0m0.8-1.5h0m0.7-0.4h0m0.8-1.6h0m0.8 0.8h0m0.8 0.4h0m0.7 0.8h0m0.8-0.7h0m0.8 1.3h0m0.8-2.5h0m0.7 0.2h0m0.8-0.2h0m0.8 3h0m0.8-2.3h0m0.8-0.3h0m0.7 1.1h0m0.8-1.8h0m0.8 0h0m0.8 0.7h0m0.7-0.3h0m0.8 0.7h0m0.8-1h0m0.8 3.3h0m0.7-2.5h0m0.8 0h0m0.8 0.4h0m0.8 1.5h0m0.8 0.9h0m0.7-2.4h0m0.8-0.9h0m0.8 2.4h0m0.8 0.2h0m0.7 0h0m0.8 0.6h0m0.8-2.6h0m0.8-1.3h0m0.7 0.8h0m0.8-7.7h0m0.8-11.1h0m0.8-4.3h0m0.8-10.4h0m0.7-1h0m0.8 1.4h0m0.8-2.7h0m0.8 2.1h0m0.7-0.6h0m0.8 1h0m0.8-1.7h0m0.8-0.5h0m0.7-1.1h0m0.8 3.3h0m0.8-3.4h0m0.8 3.1h0m0.8-0.5h0m0.7-1.7h0m0.8 1.2h0m0.8 0.1h0m0.8-1.1h0m0.7 1.6h0m0.8-2.5h0m0.8 2.5h0m0.8-2.7h0m0.7 0.1h0m0.8 1.2h0m0.8 2.2h0m0.8-3.3h0m0.8 3.3h0m0.7-2.1h0m0.8 0.4h0m0.8 1.5h0m0.8-2.4h0m0.7-0.4h0m0.8 0.6h0m0.8 0.8h0m0.8-0.5h0m0.7-0.3h0m0.8 1.5h0m0.8-2.8h0m0.8-0.5h0m0.8 0.8h0m0.7-0.7h0m0.8 2.8h0m0.8-2.9h0m0.8 4h0m0.7-1.8h0m0.8 1.5h0m0.8-1.4h0m0.8-1h0m0.8-0.1h0m0.7 1.1h0m0.8 0.5h0m0.8 7.7h0m0.8 4.2h0m0.7 5.7h0m0.8 3.4h0m0.8 0.6h0m0.8 4h0m0.7 1.9h0m0.8 2.6h0m0.8-0.6h0m0.8 3.9h0m0.8 0.1h0m0.7-0.8h0m0.8-0.1h0m0.8-0.7h0m0.8 1.5h0m0.7-0.4h0m0.8 0.6h0m0.8 1.3h0m0.8 0h0m0.7 2.9h0m0.8-0.6h0m0.8 0.8h0m0.8-3.7h0m0.8 0.6h0m0.7 0.4h0m0.8 1.6h0m0.8-0.4h0m0.8 0.8h0m0.7-2h0m0.8-1.6h0m0.8 3h0m0.8 1.2h0m0.7-0.6h0m0.8-0.8h0m0.8-2.4h0m0.8 0.5h0m0.8 1.5h0m0.7 1.5h0m0.8 0h0m0.8-0.2h0m0.8-2.7h0m0.7 1.3h0m0.8-2.3h0m0.8 0.4h0m0.8 0.5h0m0.7 1.4h0m0.8-1.5h0m0.8 3h0m0.8 0.1h0m0.8-2h0m0.7 0.2h0m0.8 1.3h0m0.8-0.1h0m0.8 1h0m0.7-3.9h0m0.8 0.9h0m0.8-1.1h0m0.8-0.1h0m0.7 2.4h0m0.8-1.3h0m0.8 1.5h0m0.8-1.9h0m0.8-0.1h0m0.7 3.1h0m0.8 0.5h0m0.8-0.9h0m0.8-1.6h0m0.7 0.9h0m0.8 1.6h0m0.8-3.6h0m0.8 0.2h0m0.7 1.4h0m0.8 1.9h0m0.8-3.7h0m0.8 1.5h0m0.8 2.1h0m0.7-1.2h0m0.8-1.3h0m0.8-1.1h0m0.8 1.7h0m0.7-0.6h0m0.8 1.9h0m0.8-0.2h0m0.8-2.9h0m0.7 2.3h0m0.8-7.8h0m0.8-11.1h0m0.8-6.9h0m0.8-9.3h0m0.7-3.7h0m0.8-3.1h0m0.8-0.2h0m0.8-0.3h0m0.7 1.1h0m0.8 1.6h0m0.8-2.8h0m0.8 2.9h0m0.7-1.8h0m0.8 0.3h0m0.8-1.2h0m0.8-0.2h0m0.8 2.1h0m0.7-1.8h0m0.8-0.2h0m0.8 1h0m0.8 1.4h0m0.7-3.3h0m0.8 1.3h0m0.8 2.4h0m0.8-0.8h0m0.8-3.3h0m0.7 3.3h0m0.8-0.7h0m0.8-1.7h0m0.8-0.2h0m0.7 0.9h0m0.8-0.5h0m0.8 3.1h0m0.8-0.3h0m0.7-3.8h0m0.8 0.7h0m0.8 3.4h0m0.8-0.1h0m0.8-0.8h0m0.7-3h0m0.8 3.1h0m0.8-2h0m0.8-1.1h0m0.7 1.3h0m0.8-1.3h0m0.8 2.9h0m0.8 0.5h0m0.7 0.6h0m0.8-3.3h0m0.8 2.9h0m0.8-3.8h0m0.8 1.1h0m0.7 2.3h0m0.8 3.1h0m0.8 8.6h0m0.8 4.2h0m0.7 7.6h0m0.8 0h0m0.8 2.5h0m0.8 2.9h0m0.7 5h0m0.8-2.7h0m0.8 2.3h0m0.8-0.1h0m0.8 2.4h0m0.7 0h0m0.8 0.6h0m0.8-0.4h0m0.8 3.6h0m0.7 0.6h0m0.8-1.7h0m0.8 1.6h0m0.8 0h0m0.7 1.7h0m0.8-3.2h0m0.8 3.2h0m0.8-3.6h0m0.8 0.1h0m0.7 1.6h0m0.8 1.4h0m0.8-2.3h0m0.8 2h0m0.7-1h0m0.8 1.4h0m0.8-3.8h0m0.8 1.9h0m0.7 0.8h0m0.8 1.1h0m0.8-2.7h0m0.8-0.5h0m0.8 0h0m0.7 3.2h0m0.8-1.1h0m0.8 0.2h0m0.8-2h0m0.7 2.7h0m0.8-2h0m0.8-1.6h0m0.8 0.9h0m0.7 3.3h0m0.8-0.3h0m0.8-0.1h0m0.8-2.6h0m0.8 0.4h0m0.7 0.4h0m0.8 0.3h0m0.8 0.2h0m0.8-0.9h0m0.7-0.2h0m0.8-1.1h0m0.8 0.8h0m0.8-0.3h0m0.8-0.5h0m0.7 0.3h0m0.8 0.5h0m0.8 3h0m0.8-2.8h0m0.7-0.7h0m0.8 1.8h0m0.8-2h0m0.8 3.1h0m0.7-3.3h0m0.8 2.1h0m0.8-1.1h0m0.8 2h0m0.8-0.3h0m0.7-0.2h0m0.8 0.1h0m0.8 1h0m0.8-1.5h0m0.7-2.3h0m0.8 1.4h0m0.8-1.2h0m0.8 0.7h0m0.7-0.3h0m0.8-0.7h0m0.8 1.1h0m0.8 2.1h0m0.8 0.1h0m0.7-0.7h0m0.8 1.7h0m0.8-0.9h0m0.8-2.9h0m0.7-0.2h0m0.8 2.6h0m0.8-1.9h0m0.8 0h0m0.7-0.5h0m0.8 0.4h0m0.8 1.1h0m0.8 1.9h0m0.8-3.1h0m0.7 2.2h0m0.8-1.4h0m0.8 1.2h0m0.8-0.8h0m0.7-1.8h0m0.8 3.5h0m0.8-1.7h0m0.8-0.5h0m0.7 0.5h0m0.8-1.7h0m0.8 2.3h0m0.8-8.6h0m0.8-11.9h0m0.7-11.4h0m0.8-4.6h0m0.8-8.8h0m0.8-0.3h0m0.7-2.7h0m0.8 3.8h0m0.8-1h0m0.8-2h0m0.7-1.2h0m0.8 3.5h0m0.8-1.1h0m0.8-1.1h0m0.8 0h0m0.7-0.2h0m0.8-0.1h0m0.8 2.2h0m0.8 0h0m0.7 1h0m0.8-2.9h0m0.8 2.1h0m0.8-0.2h0m0.7-3.1h0m0.8 1.4h0m0.8 0.2h0m0.8-0.3h0m0.8 0.3h0m0.7-0.4h0m0.8 1.7h0m0.8 1h0m0.8 0h0m0.7 0.2h0m0.8-1.5h0m0.8 1h0m0.8 0.1h0m0.7-1.6h0m0.8-2.1h0m0.8 1.2h0m0.8 1.8h0m0.8-2.1h0m0.7 2.5h0m0.8 0.4h0m0.8-0.9h0m0.8-0.5h0m0.7-1.2h0m0.8 1.1h0m0.8-1.3h0m0.8 2.8h0m0.7-3.7h0m0.8 2.6h0m0.8-2.1h0m0.8 3.5h0m0.8-3.5h0m0.7 2.6h0m0.8-2.7h0m0.8 0.2h0m0.8 0.6h0m0.7 1.7h0m0.8 1.2h0m0.8-0.8h0m0.8 7.1h0m0.8 9.7h0m0.7 4.2h0m0.8 5.5h0m0.8 4.8h0m0.8 4.2h0m0.7 2.3h0m0.8 2.3h0m0.8-3.1h0m0.8 3.4h0m0.7-0.4h0m0.8 1.1h0m0.8 2.3h0m0.8 0.9h0m0.8 0.5h0m0.7-3.4h0m0.8 3.4h0m0.8-3.4h0m0.8 2.8h0m0.7-1.3h0m0.8 2.8h0m0.8-2.6h0m0.8 2.5h0m0.7-0.2h0m0.8-0.7h0m0.8 1.8h0m0.8-0.6h0m0.8-2.4h0m0.7 2.2h0m0.8-0.4h0m0.8-1.7h0m0.8 2.4h0m0.7 0.1h0m0.8-0.1h0m0.8-0.7h0m0.8 0.1h0m0.7-1.2h0m0.8 0.7h0m0.8-1.7h0m0.8 3.5h0m0.8-2.6h0m0.7-0.8h0m0.8 2.6h0m0.8 0.9h0m0.8-1.8h0m0.7 1.5h0m0.8-1.5h0m0.8-1.1h0m0.8 2.7h0m0.7-0.2h0m0.8-1.5h0m0.8 1.3h0m0.8-0.2h0m0.8-1h0m0.7 1.4h0m0.8 0.3h0m0.8-1.3h0m0.8-0.5h0m0.7-2h0" stroke="#e8ac16" stroke-width="6.6" stroke-linecap="round" fill="none"/>
<path d="M878.3 523.6h0m4.7 1.2h0m5.4-0.6h0m13.2 0.6h0m4.7-0.9h0m3.1-0.1h0m19.4 0.6h0m5.5-0.6h0m2.3-1h0m2.3-11.1h0m3.1-1.1h0m7.8 0.3h0m4.7 1.3h0m16.3 0.1h0m6.2 1h0m0.8 2.1h0m1.5 4.1h0m0.8 2.1h0m10.9 2.4h0m10.9 0.1h0m3.1-0.1h0m3.1 0.2h0m1.5 1.3h0m2.4-1.4h0m14.7 0h0m2.3-0.6h0m3.9 0.3h0m5.5 0.2h0m1.5 1.4h0m3.9-1.3h0m10.9-0.6h0m5.4 0.2h0m2.4-0.3h0m0.7 4h0m0.8-13h0m0.8-8.9h0m0.8-5.3h0m3.8-6.6h0m3.9-0.6h0m7 0.6h0m8.6 0.3h0m3.9-0.5h0m4.6 0.3h0m4.7-1h0m0.8 3.8h0m0.7 7.3h0m0.8 4.6h0m0.8 2.3h0m1.5 7h0m0.8 1.6h0m3.9 3.1h0m5.4 1.9h0m5.5 0.1h0m2.3-0.7h0m7.8-0.1h0m6.2 0.5h0m7.8 0.3h0m2.3-0.3h0m5.4-0.4h0m24.9 0.4h0m5.4 0.1h0m0.8-7.7h0m0.8-11.1h0m0.8-4.3h0m3.1-12.7h0m6.2-0.9h0m10.9 0.2h0m13.2-0.9h0m6.2 2.8h0m0.8 7.7h0m0.8 4.2h0m0.7 5.7h0m1.6 4h0m0.8 4h0m0.7 1.9h0m1.6 2h0m7.8 5.4h0m8.5-1.2h0m13.2 0.8h0m8.6-0.7h0m3.9 0.6h0m9.3 1.3h0m3.1-1.5h0m1.5 1.1h0m2.4-1.2h0m0.7 2.3h0m0.8-7.8h0m0.8-11.1h0m0.8-6.9h0m6.2-16.7h0m9.3 0.5h0m2.4-1.7h0m4.6 1.1h0m1.6 2.8h0m1.5-3.1h0m3.1-0.5h0m3.9 0h0m5.5 0.9h0m0.7 2.3h0m0.8 3.1h0m0.8 8.6h0m0.8 4.2h0m1.5 7.6h0m0.8 2.5h0m0.8 2.9h0m1.5 2.3h0m1.6 2.2h0m3.1 2.6h0m10.1 3h0m3.1-1.4h0m4.7 0.6h0m6.2 0.3h0m17.8-0.7h0m1.6 1h0m10.1-0.2h0m11.7-0.3h0m3.8-0.6h0m3.9 0.1h0m0.8 2.3h0m0.8-8.6h0m0.8-11.9h0m0.7-11.4h0m0.8-4.6h0m2.3-11.8h0m3.1-0.4h0m4.7 1h0m3.1 0.3h0m6.2 0h0m9.4-0.3h0m13.2 0.4h0m2.3 2.1h0m0.8 7.1h0m0.8 9.7h0m0.7 4.2h0m0.8 5.5h0m0.8 4.8h0m0.8 4.2h0m2.3 1.5h0m2.3 4.1h0m4.7 0.3h0m3.1 1.7h0m2.3 1.6h0m2.4-1.2h0m2.3 0.1h0m6.2-0.4h0m2.3 0.1h0m4.7 0.6h0m8.5-1h0" stroke="#fff" stroke-width="2" stroke-linecap="round" fill="none" stroke-opacity="0.6"/>
</g>
<rect x="876.7" y="26.7" width="636.3" height="512.7" stroke="#000" stroke-width="2.3" fill="none"/>
<line x1="1157.2" y1="46.4" x2="1207.5" y2="46.4" stroke="#1f9a7a" stroke-width="2"/>
<circle cx="1182.1" cy="46.4" r="3.4" fill="#1f9a7a"/>
<circle cx="1181.2" cy="45.4" r="1.1" fill="#fff" fill-opacity="0.6"/>
<text x="1218.6" y="53.7" font-size="20.5" text-anchor="start" font-weight="bold" fill="#000">NC0</text>
<line x1="1157.2" y1="74.08" x2="1207.5" y2="74.08" stroke="#e0661a" stroke-width="2"/>
<circle cx="1182.1" cy="74.08" r="3.4" fill="#e0661a"/>
<circle cx="1181.2" cy="73.08" r="1.1" fill="#fff" fill-opacity="0.6"/>
<text x="1218.6" y="81.38" font-size="20.5" text-anchor="start" font-weight="bold" fill="#000">NC1</text>
<line x1="1157.2" y1="101.76" x2="1207.5" y2="101.76" stroke="#8a80c8" stroke-width="2"/>
<circle cx="1182.1" cy="101.76" r="3.4" fill="#8a80c8"/>
<circle cx="1181.2" cy="100.76" r="1.1" fill="#fff" fill-opacity="0.6"/>
<text x="1218.6" y="109.06" font-size="20.5" text-anchor="start" font-weight="bold" fill="#000">NC2</text>
<line x1="1157.2" y1="129.44" x2="1207.5" y2="129.44" stroke="#e5348f" stroke-width="2"/>
<circle cx="1182.1" cy="129.44" r="3.4" fill="#e5348f"/>
<circle cx="1181.2" cy="128.44" r="1.1" fill="#fff" fill-opacity="0.6"/>
<text x="1218.6" y="136.74" font-size="20.5" text-anchor="start" font-weight="bold" fill="#000">NC3</text>
<line x1="1157.2" y1="157.12" x2="1207.5" y2="157.12" stroke="#63ad32" stroke-width="2"/>
<circle cx="1182.1" cy="157.12" r="3.4" fill="#63ad32"/>
<circle cx="1181.2" cy="156.12" r="1.1" fill="#fff" fill-opacity="0.6"/>
<text x="1218.6" y="164.42" font-size="20.5" text-anchor="start" font-weight="bold" fill="#000">NC4</text>
<line x1="1157.2" y1="184.8" x2="1207.5" y2="184.8" stroke="#e8ac16" stroke-width="2"/>
<circle cx="1182.1" cy="184.8" r="3.4" fill="#e8ac16"/>
<circle cx="1181.2" cy="183.8" r="1.1" fill="#fff" fill-opacity="0.6"/>
<text x="1218.6" y="192.1" font-size="20.5" text-anchor="start" font-weight="bold" fill="#000">NC5</text>
<text x="1276.5" y="63.2" font-size="24.4" text-anchor="start" font-weight="bold" fill="#f40000">@380 °C</text>
<text x="1272.3" y="92.4" font-size="24.4" text-anchor="start" font-weight="bold" fill="#1f3ffa">unit : ppm</text>
<text x="901" y="507.9" font-size="25.2" text-anchor="middle" font-weight="bold" fill="#0000f8">50</text>
<text x="960" y="398.6" font-size="25.2" text-anchor="middle" font-weight="bold" fill="#0000f8">100</text>
<text x="1086.3" y="311.8" font-size="25.2" text-anchor="middle" font-weight="bold" fill="#0000f8">200</text>
<text x="1209.5" y="226.2" font-size="25.2" text-anchor="middle" font-weight="bold" fill="#0000f8">300</text>
<text x="1317.2" y="146.6" font-size="25.2" text-anchor="middle" font-weight="bold" fill="#0000f8">400</text>
<text x="1438.5" y="66.9" font-size="25.2" text-anchor="middle" font-weight="bold" fill="#0000f8">500</text>
<rect x="882.9" y="481.5" width="36.4" height="52.3" stroke="#000" stroke-width="2.2" fill="none"/>
<line x1="902" y1="481" x2="962.6" y2="250.5" stroke="#000" stroke-width="1.3"/>
<polygon points="964.4,243.2 959.6,251.3 966.4,251.6" fill="#000"/>
<rect x="920.6" y="51.8" width="201.39999999999998" height="161.89999999999998" fill="#fff"/>
<line x1="920.6" y1="213.7" x2="924.1" y2="213.7" stroke="#000" stroke-width="1"/>
<line x1="920.6" y1="203.58" x2="922.6" y2="203.58" stroke="#000" stroke-width="0.8"/>
<text x="916.6" y="217.7" font-size="11.4" text-anchor="end" font-weight="normal" fill="#111">0</text>
<line x1="920.6" y1="193.46" x2="924.1" y2="193.46" stroke="#000" stroke-width="1"/>
<line x1="920.6" y1="183.34" x2="922.6" y2="183.34" stroke="#000" stroke-width="0.8"/>
<text x="916.6" y="197.46" font-size="11.4" text-anchor="end" font-weight="normal" fill="#111">1</text>
<line x1="920.6" y1="173.22" x2="924.1" y2="173.22" stroke="#000" stroke-width="1"/>
<line x1="920.6" y1="163.1" x2="922.6" y2="163.1" stroke="#000" stroke-width="0.8"/>
<text x="916.6" y="177.22" font-size="11.4" text-anchor="end" font-weight="normal" fill="#111">2</text>
<line x1="920.6" y1="152.98" x2="924.1" y2="152.98" stroke="#000" stroke-width="1"/>
<line x1="920.6" y1="142.86" x2="922.6" y2="142.86" stroke="#000" stroke-width="0.8"/>
<text x="916.6" y="156.98" font-size="11.4" text-anchor="end" font-weight="normal" fill="#111">3</text>
<line x1="920.6" y1="132.74" x2="924.1" y2="132.74" stroke="#000" stroke-width="1"/>
<line x1="920.6" y1="122.62" x2="922.6" y2="122.62" stroke="#000" stroke-width="0.8"/>
<text x="916.6" y="136.74" font-size="11.4" text-anchor="end" font-weight="normal" fill="#111">4</text>
<line x1="920.6" y1="112.5" x2="924.1" y2="112.5" stroke="#000" stroke-width="1"/>
<line x1="920.6" y1="102.38" x2="922.6" y2="102.38" stroke="#000" stroke-width="0.8"/>
<text x="916.6" y="116.5" font-size="11.4" text-anchor="end" font-weight="normal" fill="#111">5</text>
<line x1="920.6" y1="92.26" x2="924.1" y2="92.26" stroke="#000" stroke-width="1"/>
<line x1="920.6" y1="82.14" x2="922.6" y2="82.14" stroke="#000" stroke-width="0.8"/>
<text x="916.6" y="96.26" font-size="11.4" text-anchor="end" font-weight="normal" fill="#111">6</text>
<line x1="920.6" y1="72.02" x2="924.1" y2="72.02" stroke="#000" stroke-width="1"/>
<line x1="920.6" y1="61.9" x2="922.6" y2="61.9" stroke="#000" stroke-width="0.8"/>
<text x="916.6" y="76.02" font-size="11.4" text-anchor="end" font-weight="normal" fill="#111">7</text>
<line x1="920.6" y1="51.78" x2="924.1" y2="51.78" stroke="#000" stroke-width="1"/>
<text x="916.6" y="55.78" font-size="11.4" text-anchor="end" font-weight="normal" fill="#111">8</text>
<line x1="920.6" y1="213.7" x2="920.6" y2="210.2" stroke="#000" stroke-width="1"/>
<line x1="934.99" y1="213.7" x2="934.99" y2="211.7" stroke="#000" stroke-width="0.8"/>
<line x1="949.37" y1="213.7" x2="949.37" y2="210.2" stroke="#000" stroke-width="1"/>
<line x1="963.76" y1="213.7" x2="963.76" y2="211.7" stroke="#000" stroke-width="0.8"/>
<line x1="978.14" y1="213.7" x2="978.14" y2="210.2" stroke="#000" stroke-width="1"/>
<line x1="992.53" y1="213.7" x2="992.53" y2="211.7" stroke="#000" stroke-width="0.8"/>
<line x1="1006.92" y1="213.7" x2="1006.92" y2="210.2" stroke="#000" stroke-width="1"/>
<line x1="1021.3" y1="213.7" x2="1021.3" y2="211.7" stroke="#000" stroke-width="0.8"/>
<line x1="1035.69" y1="213.7" x2="1035.69" y2="210.2" stroke="#000" stroke-width="1"/>
<line x1="1050.07" y1="213.7" x2="1050.07" y2="211.7" stroke="#000" stroke-width="0.8"/>
<line x1="1064.46" y1="213.7" x2="1064.46" y2="210.2" stroke="#000" stroke-width="1"/>
<line x1="1078.85" y1="213.7" x2="1078.85" y2="211.7" stroke="#000" stroke-width="0.8"/>
<line x1="1093.23" y1="213.7" x2="1093.23" y2="210.2" stroke="#000" stroke-width="1"/>
<line x1="1107.62" y1="213.7" x2="1107.62" y2="211.7" stroke="#000" stroke-width="0.8"/>
<line x1="1122" y1="213.7" x2="1122" y2="210.2" stroke="#000" stroke-width="1"/>
<text x="920.6" y="228.5" font-size="11.4" text-anchor="middle" font-weight="normal" fill="#111">0</text>
<text x="949.37" y="228.5" font-size="11.4" text-anchor="middle" font-weight="normal" fill="#111">20</text>
<text x="978.14" y="228.5" font-size="11.4" text-anchor="middle" font-weight="normal" fill="#111">40</text>
<text x="1006.92" y="228.5" font-size="11.4" text-anchor="middle" font-weight="normal" fill="#111">60</text>
<text x="1035.69" y="228.5" font-size="11.4" text-anchor="middle" font-weight="normal" fill="#111">80</text>
<text x="1064.46" y="228.5" font-size="11.4" text-anchor="middle" font-weight="normal" fill="#111">100</text>
<text x="1093.23" y="228.5" font-size="11.4" text-anchor="middle" font-weight="normal" fill="#111">120</text>
<text x="1122" y="228.5" font-size="11.4" text-anchor="middle" font-weight="normal" fill="#111">140</text>
<text x="1021.5" y="245.8" font-size="12.8" text-anchor="middle" font-weight="normal" fill="#111">Time/s</text>
<text transform="translate(902.2,132) rotate(-90)" font-size="12.3" text-anchor="middle" fill="#111">Response</text>
<text x="975.6" y="86.8" font-size="12.3" text-anchor="start" font-weight="normal" fill="#2323c8">50ppm</text>
<path d="M920.6 193.5l1 0 1 0 1 0 1 0 1 0 1 0 1 0 1.1 0 1 0 1 0 1 0 1 0 1 0 1 0 1 0 1 0 1 0 1 0 1 0 1 0 1 0 1.1 0 1 0 1 0 1 0 1 0 1 0 1 0 1 0 1 0 1-4.1 1-15.5 1-14.8 1-12.2 1-5.7 1.1-1.1 1-1.1 1 0.2 1 0.5 1 0.5 1 0.4 1-0.2 1-0.7 1-0.7 1-0.7 1-0.7 1-0.7 1-0.7 1-0.7 1.1-0.7 1-0.1 1-0.1 1-0.1 1-0.1 1-0.1 1-0.1 1-0.1 1-0.1 1-0.1 1-0.1 1-0.1 1-0.1 1-0.1 1-0.1 1.1-0.1 1 0 1 0 1-0.1 1 0 1 0 1 0 1-0.1 1 0 1 0 1-0.1 1 0 1 0 1 0 1.1-0.1 1 0 1 0 1-0.1 1 0 1 0 1 0 1-0.1 1 0 1 0 1 0 1 0 1 0 1-0.1 1.1 0 1 0 1 0 1 0 1 0 1-0.1 1 0 1 0 1 0 1 0 1 0 1-0.1 1 0 1 0 1.1 0 1 0 1 0 1-0.1 1 3.2 1 6.7 1 9.4 1 5.9 1 3.6 1 2.4 1 1.4 1 1.4 1 1.7 1 1.8 1 1.9 1.1 1.9 1 2 1 2.9 1 2.8 1 1.4 1 1.4 1 1.5 1 1.2 1 0.9 1 1 1 0.9 1 0.9 1 0.5 1 0.6 1.1 0.5 1 0.5 1 0.6 1 0.3 1 0 1 0 1 0 1 0 1 0 1 0 1 0 1 0 1 0 1 0 1.1 0 1 0 1 0 1 0 1 0 1 0 1 0 1 0 1 0 1 0 1 0 1 0 1 0 1 0 1.1 0 1 0 1 0 1 0 1 0 1 0 1 0 1 0 1 0 1 0 1 0 1 0 1 0 1 0 1 0 1.1 0 1 0 1 0 1 0 1 0 1 0 1 0 1 0 1 0 1 0 1 0 1 0 1 0 1 0 1.1 0 1 0 1 0 1 0 1 0 1 0 1 0" fill="none" stroke="#1f9a7a" stroke-width="0.9" stroke-linejoin="round"/>
<path d="M920.6 193.5h0m1 0h0m1 0h0m1 0h0m1 0h0m1 0h0m1 0h0m1 0h0m1.1 0h0m1 0h0m1 0h0m1 0h0m1 0h0m1 0h0m1 0h0m1 0h0m1 0h0m1 0h0m1 0h0m1 0h0m1 0h0m1 0h0m1.1 0h0m1 0h0m1 0h0m1 0h0m1 0h0m1 0h0m1 0h0m1 0h0m1 0h0m1-4.1h0m1-15.5h0m1-14.8h0m1-12.2h0m1-5.7h0m1.1-1.1h0m1-1.1h0m1 0.2h0m1 0.5h0m1 0.5h0m1 0.4h0m1-0.2h0m1-0.7h0m1-0.7h0m1-0.7h0m1-0.7h0m1-0.7h0m1-0.7h0m1-0.7h0m1.1-0.7h0m1-0.1h0m1-0.1h0m1-0.1h0m1-0.1h0m1-0.1h0m1-0.1h0m1-0.1h0m1-0.1h0m1-0.1h0m1-0.1h0m1-0.1h0m1-0.1h0m1-0.1h0m1-0.1h0m1.1-0.1h0m1 0h0m1 0h0m1-0.1h0m1 0h0m1 0h0m1 0h0m1-0.1h0m1 0h0m1 0h0m1-0.1h0m1 0h0m1 0h0m1 0h0m1.1-0.1h0m1 0h0m1 0h0m1-0.1h0m1 0h0m1 0h0m1 0h0m1-0.1h0m1 0h0m1 0h0m1 0h0m1 0h0m1 0h0m1-0.1h0m1.1 0h0m1 0h0m1 0h0m1 0h0m1 0h0m1-0.1h0m1 0h0m1 0h0m1 0h0m1 0h0m1 0h0m1-0.1h0m1 0h0m1 0h0m1.1 0h0m1 0h0m1 0h0m1-0.1h0m1 3.2h0m1 6.7h0m1 9.4h0m1 5.9h0m1 3.6h0m1 2.4h0m1 1.4h0m1 1.4h0m1 1.7h0m1 1.8h0m1 1.9h0m1.1 1.9h0m1 2h0m1 2.9h0m1 2.8h0m1 1.4h0m1 1.4h0m1 1.5h0m1 1.2h0m1 0.9h0m1 1h0m1 0.9h0m1 0.9h0m1 0.5h0m1 0.6h0m1.1 0.5h0m1 0.5h0m1 0.6h0m1 0.3h0m1 0h0m1 0h0m1 0h0m1 0h0m1 0h0m1 0h0m1 0h0m1 0h0m1 0h0m1 0h0m1.1 0h0m1 0h0m1 0h0m1 0h0m1 0h0m1 0h0m1 0h0m1 0h0m1 0h0m1 0h0m1 0h0m1 0h0m1 0h0m1 0h0m1.1 0h0m1 0h0m1 0h0m1 0h0m1 0h0m1 0h0m1 0h0m1 0h0m1 0h0m1 0h0m1 0h0m1 0h0m1 0h0m1 0h0m1 0h0m1.1 0h0m1 0h0m1 0h0m1 0h0m1 0h0m1 0h0m1 0h0m1 0h0m1 0h0m1 0h0m1 0h0m1 0h0m1 0h0m1 0h0m1.1 0h0m1 0h0m1 0h0m1 0h0m1 0h0m1 0h0m1 0h0" stroke="#1f9a7a" stroke-width="3.8" stroke-linecap="round" fill="none"/>
<path d="M950.3 193h0m1-4.1h0m1-15.5h0m1-14.8h0m1-12.2h0m76.6-14.6h0m1 3.2h0m1 6.7h0m1 9.4h0m1 5.9h0m1 3.6h0m1 2.4h0m1 1.4h0m1 1.4h0m1 1.7h0m1 1.8h0m1 1.9h0m1.1 1.9h0m1 2h0m1 2.9h0m1 2.8h0m1 1.4h0m1 1.4h0m1 1.5h0m1 1.2h0m1 0.9h0m1 1h0m1 0.9h0m67.5 3.9h0" stroke="#fff" stroke-width="1.3" stroke-linecap="round" fill="none" stroke-opacity="0.6"/>
<path d="M920.6 193.5l1-0.1 1-0.5 1 0.6 1 0 1-0.1 1 0.4 1-0.4 1.1-0.1 1-0.2 1 0.9 1-0.3 1 0.3 1-0.9 1 0.1 1 0.8 1-1.1 1 0 1 0.4 1 0 1 0.6 1 0.1 1.1-0.6 1 0.6 1-0.2 1 0 1 0.2 1-0.5 1 0 1-0.5 1 0.4 1-1.5 1-4.5 1-4.7 1-2.5 1-2.7 1.1-3.3 1-1.4 1 0.9 1 1.2 1 1.6 1 0.1 1-0.1 1 0.3 1-0.9 1 0.4 1-0.5 1 0.6 1-0.7 1 0.1 1.1 1 1-0.3 1-0.8 1 0.5 1-0.6 1 0.7 1 0.4 1-0.7 1-0.2 1 0.6 1 0.2 1-0.3 1-0.7 1 0.2 1 0.8 1.1-0.2 1 0.2 1 0 1-0.9 1 0.8 1-0.5 1 0.1 1 0.3 1-0.6 1 0.7 1-0.6 1 0.6 1-0.4 1 0.3 1.1-0.1 1-0.9 1 0.2 1 0.6 1-0.7 1 0.8 1-0.2 1-0.6 1 0.3 1 0.6 1-1 1 0.9 1-0.1 1-0.6 1.1 0.5 1 0.1 1 0.2 1 0 1-0.6 1 0.4 1-0.4 1 0.2 1-0.1 1-0.6 1 0.6 1-0.1 1-0.4 1 0.3 1.1-1.8 1-0.4 1 1.1 1 3 1 2.9 1 1.3 1 1.2 1 2.3 1 0 1 0.8 1 1.1 1 0.9 1 1.1 1 0.8 1-0.9 1.1 1.2 1-0.3 1 0.8 1-0.4 1 0.6 1 0.6 1 0.5 1-0.5 1 1 1-0.1 1-0.2 1-0.3 1 0.5 1 0.5 1.1-0.6 1 1 1 0.4 1-0.2 1-0.1 1 0.5 1-0.1 1-0.3 1-0.2 1 0.5 1-0.3 1-0.6 1-0.1 1 0.4 1.1-0.1 1 0.2 1 0.5 1 0.1 1 0 1-1 1 0.2 1-0.3 1 1.1 1-0.7 1 0.2 1-0.3 1 0.5 1-0.8 1.1 1.1 1-0.6 1-0.2 1-0.2 1 0.2 1 0 1-0.1 1-0.1 1 0.6 1-0.4 1-0.2 1 0 1 0.6 1-0.5 1-0.1 1.1 0.4 1-0.1 1 0.3 1-0.2 1-0.1 1 0.7 1-0.7 1-0.4 1 0.1 1 0.2 1 0.4 1-0.4 1 0.2 1 0.1 1.1-0.5 1 1 1-0.8 1 0.8 1-0.7 1 0.2 1 0.3" fill="none" stroke="#e0661a" stroke-width="0.9" stroke-linejoin="round"/>
<path d="M920.6 193.5h0m1-0.1h0m1-0.5h0m1 0.6h0m1 0h0m1-0.1h0m1 0.4h0m1-0.4h0m1.1-0.1h0m1-0.2h0m1 0.9h0m1-0.3h0m1 0.3h0m1-0.9h0m1 0.1h0m1 0.8h0m1-1.1h0m1 0h0m1 0.4h0m1 0h0m1 0.6h0m1 0.1h0m1.1-0.6h0m1 0.6h0m1-0.2h0m1 0h0m1 0.2h0m1-0.5h0m1 0h0m1-0.5h0m1 0.4h0m1-1.5h0m1-4.5h0m1-4.7h0m1-2.5h0m1-2.7h0m1.1-3.3h0m1-1.4h0m1 0.9h0m1 1.2h0m1 1.6h0m1 0.1h0m1-0.1h0m1 0.3h0m1-0.9h0m1 0.4h0m1-0.5h0m1 0.6h0m1-0.7h0m1 0.1h0m1.1 1h0m1-0.3h0m1-0.8h0m1 0.5h0m1-0.6h0m1 0.7h0m1 0.4h0m1-0.7h0m1-0.2h0m1 0.6h0m1 0.2h0m1-0.3h0m1-0.7h0m1 0.2h0m1 0.8h0m1.1-0.2h0m1 0.2h0m1 0h0m1-0.9h0m1 0.8h0m1-0.5h0m1 0.1h0m1 0.3h0m1-0.6h0m1 0.7h0m1-0.6h0m1 0.6h0m1-0.4h0m1 0.3h0m1.1-0.1h0m1-0.9h0m1 0.2h0m1 0.6h0m1-0.7h0m1 0.8h0m1-0.2h0m1-0.6h0m1 0.3h0m1 0.6h0m1-1h0m1 0.9h0m1-0.1h0m1-0.6h0m1.1 0.5h0m1 0.1h0m1 0.2h0m1 0h0m1-0.6h0m1 0.4h0m1-0.4h0m1 0.2h0m1-0.1h0m1-0.6h0m1 0.6h0m1-0.1h0m1-0.4h0m1 0.3h0m1.1-1.8h0m1-0.4h0m1 1.1h0m1 3h0m1 2.9h0m1 1.3h0m1 1.2h0m1 2.3h0m1 0h0m1 0.8h0m1 1.1h0m1 0.9h0m1 1.1h0m1 0.8h0m1-0.9h0m1.1 1.2h0m1-0.3h0m1 0.8h0m1-0.4h0m1 0.6h0m1 0.6h0m1 0.5h0m1-0.5h0m1 1h0m1-0.1h0m1-0.2h0m1-0.3h0m1 0.5h0m1 0.5h0m1.1-0.6h0m1 1h0m1 0.4h0m1-0.2h0m1-0.1h0m1 0.5h0m1-0.1h0m1-0.3h0m1-0.2h0m1 0.5h0m1-0.3h0m1-0.6h0m1-0.1h0m1 0.4h0m1.1-0.1h0m1 0.2h0m1 0.5h0m1 0.1h0m1 0h0m1-1h0m1 0.2h0m1-0.3h0m1 1.1h0m1-0.7h0m1 0.2h0m1-0.3h0m1 0.5h0m1-0.8h0m1.1 1.1h0m1-0.6h0m1-0.2h0m1-0.2h0m1 0.2h0m1 0h0m1-0.1h0m1-0.1h0m1 0.6h0m1-0.4h0m1-0.2h0m1 0h0m1 0.6h0m1-0.5h0m1-0.1h0m1.1 0.4h0m1-0.1h0m1 0.3h0m1-0.2h0m1-0.1h0m1 0.7h0m1-0.7h0m1-0.4h0m1 0.1h0m1 0.2h0m1 0.4h0m1-0.4h0m1 0.2h0m1 0.1h0m1.1-0.5h0m1 1h0m1-0.8h0m1 0.8h0m1-0.7h0m1 0.2h0m1 0.3h0" stroke="#e0661a" stroke-width="3.8" stroke-linecap="round" fill="none"/>
<path d="M929.2 192.6h0m5 0.1h0m17.1-1.3h0m1-4.5h0m1-4.7h0m1-2.5h0m1-2.7h0m2.1-4.7h0m1 0.9h0m1 1.2h0m10 0.9h0m5.1-0.2h0m9 0.2h0m5.1-0.1h0m5 0.1h0m10.1-0.3h0m6-0.1h0m17.1 0.3h0m2.1-2.2h0m1 1.1h0m1 3h0m1 2.9h0m1 1.3h0m1 1.2h0m2 2.3h0m1 0.8h0m1 1.1h0m1 0.9h0m1 1.1h0m2-0.1h0m2.1 0.9h0m6 1.6h0m7.1 0.8h0m21.1 0.5h0m6 0h0m8.1 0.1h0m22.2 0h0m2 0.2h0m4 0.6h0" stroke="#fff" stroke-width="1.3" stroke-linecap="round" fill="none" stroke-opacity="0.6"/>
<path d="M920.6 193.5l1 0 1 0 1 0 1 0 1 0 1 0 1 0 1.1 0 1 0 1 0 1 0 1 0 1 0 1 0 1 0 1 0 1 0 1 0 1 0 1 0 1 0 1.1 0 1 0 1 0 1 0 1 0 1 0 1 0 1 0 1 0 1-1.2 1-1.2 1-1.2 1-1.2 1-0.7 1.1-0.7 1-0.6 1-0.6 1-0.3 1 0 1 0 1 0 1-0.1 1 0 1 0 1 0 1 0 1 0 1 0 1.1 0 1 0 1 0 1 0 1 0 1 0 1 0 1 0 1 0 1 0 1 0 1-0.1 1 0 1 0 1 0 1.1 0 1 0 1 0 1 0 1 0 1 0 1 0 1 0 1 0 1 0 1 0 1 0 1 0 1 0 1.1 0 1-0.1 1 0 1 0 1 0 1 0 1 0 1 0 1 0 1 0 1 0 1 0 1 0 1 0 1.1 0 1 0 1 0 1 0 1 0 1 0 1-0.1 1 0 1 0 1 0 1 0 1 0 1 0 1 0 1.1 0 1 0 1 0 1 0 1 0 1 0 1 0 1 0 1 0.5 1 0.7 1 0.7 1 0.7 1 0.7 1 0.7 1 0.5 1.1 0.5 1 0.4 1 0.5 1 0.5 1 0.4 1 0.5 1 0.5 1 0.3 1 0 1 0 1 0 1 0 1 0 1 0 1.1 0 1 0 1 0 1 0 1 0 1 0 1 0 1 0 1 0 1 0 1 0 1 0 1 0 1 0 1.1 0 1 0 1 0 1 0 1 0 1 0 1 0 1 0 1 0 1 0 1 0 1 0 1 0 1 0 1.1 0 1 0 1 0 1 0 1 0 1 0 1 0 1 0 1 0 1 0 1 0 1 0 1 0 1 0 1 0 1.1 0 1 0 1 0 1 0 1 0 1 0 1 0 1 0 1 0 1 0 1 0 1 0 1 0 1 0 1.1 0 1 0 1 0 1 0 1 0 1 0 1 0" fill="none" stroke="#8a80c8" stroke-width="0.9" stroke-linejoin="round"/>
<path d="M920.6 193.5h0m1 0h0m1 0h0m1 0h0m1 0h0m1 0h0m1 0h0m1 0h0m1.1 0h0m1 0h0m1 0h0m1 0h0m1 0h0m1 0h0m1 0h0m1 0h0m1 0h0m1 0h0m1 0h0m1 0h0m1 0h0m1 0h0m1.1 0h0m1 0h0m1 0h0m1 0h0m1 0h0m1 0h0m1 0h0m1 0h0m1 0h0m1-1.2h0m1-1.2h0m1-1.2h0m1-1.2h0m1-0.7h0m1.1-0.7h0m1-0.6h0m1-0.6h0m1-0.3h0m1 0h0m1 0h0m1 0h0m1-0.1h0m1 0h0m1 0h0m1 0h0m1 0h0m1 0h0m1 0h0m1.1 0h0m1 0h0m1 0h0m1 0h0m1 0h0m1 0h0m1 0h0m1 0h0m1 0h0m1 0h0m1 0h0m1-0.1h0m1 0h0m1 0h0m1 0h0m1.1 0h0m1 0h0m1 0h0m1 0h0m1 0h0m1 0h0m1 0h0m1 0h0m1 0h0m1 0h0m1 0h0m1 0h0m1 0h0m1 0h0m1.1 0h0m1-0.1h0m1 0h0m1 0h0m1 0h0m1 0h0m1 0h0m1 0h0m1 0h0m1 0h0m1 0h0m1 0h0m1 0h0m1 0h0m1.1 0h0m1 0h0m1 0h0m1 0h0m1 0h0m1 0h0m1-0.1h0m1 0h0m1 0h0m1 0h0m1 0h0m1 0h0m1 0h0m1 0h0m1.1 0h0m1 0h0m1 0h0m1 0h0m1 0h0m1 0h0m1 0h0m1 0h0m1 0.5h0m1 0.7h0m1 0.7h0m1 0.7h0m1 0.7h0m1 0.7h0m1 0.5h0m1.1 0.5h0m1 0.4h0m1 0.5h0m1 0.5h0m1 0.4h0m1 0.5h0m1 0.5h0m1 0.3h0m1 0h0m1 0h0m1 0h0m1 0h0m1 0h0m1 0h0m1.1 0h0m1 0h0m1 0h0m1 0h0m1 0h0m1 0h0m1 0h0m1 0h0m1 0h0m1 0h0m1 0h0m1 0h0m1 0h0m1 0h0m1.1 0h0m1 0h0m1 0h0m1 0h0m1 0h0m1 0h0m1 0h0m1 0h0m1 0h0m1 0h0m1 0h0m1 0h0m1 0h0m1 0h0m1.1 0h0m1 0h0m1 0h0m1 0h0m1 0h0m1 0h0m1 0h0m1 0h0m1 0h0m1 0h0m1 0h0m1 0h0m1 0h0m1 0h0m1 0h0m1.1 0h0m1 0h0m1 0h0m1 0h0m1 0h0m1 0h0m1 0h0m1 0h0m1 0h0m1 0h0m1 0h0m1 0h0m1 0h0m1 0h0m1.1 0h0m1 0h0m1 0h0m1 0h0m1 0h0m1 0h0m1 0h0" stroke="#8a80c8" stroke-width="3.8" stroke-linecap="round" fill="none"/>
<path d="M1035.9 185.4h0m1 0.7h0m1 0.7h0m1 0.7h0m1 0.7h0m80.6 4.8h0" stroke="#fff" stroke-width="1.3" stroke-linecap="round" fill="none" stroke-opacity="0.6"/>
<path d="M920.6 193.5l1 0 1 0 1 0 1 0 1 0 1 0 1 0 1.1 0 1 0 1 0 1 0 1 0 1 0 1 0 1 0 1 0 1 0 1 0 1 0 1 0 1 0 1.1 0 1 0 1 0 1 0 1 0 1 0 1 0 1-5.5 1-12.8 1-34.8 1-31.3 1-5.5 1-1.2 1-1.2 1.1-1.2 1-1.5 1-1.4 1-1.4 1-1.4 1-0.6 1-0.5 1-0.6 1-0.6 1-0.5 1-0.3 1 0.3 1 0.4 1 0.4 1.1 0.4 1 0.4 1 0.3 1 0.2 1 0.2 1 0.2 1 0.2 1 0.2 1 0.2 1 0.2 1 0.2 1 0.2 1 0.2 1 0.2 1 0.2 1.1 0.2 1 0 1 0.1 1 0 1 0.1 1 0.1 1 0 1 0.1 1 0.1 1 0 1 0.1 1 0.1 1 0 1 0.1 1.1 0.1 1 0 1 0.1 1 0.1 1 0 1 0.1 1 0.1 1 0 1 0.1 1 0 1 0.1 1 0 1 0.1 1 0 1.1 0.1 1 0 1 0.1 1 0 1 0.1 1 0 1 0.1 1 0 1 0.1 1 0 1 0.1 1 0 1 0.1 1 0.4 1.1 1.5 1 6.2 1 24.3 1 14.2 1 13.1 1 9.1 1 6.9 1 5.7 1 3.1 1 2.2 1 2.1 1 0.9 1 0.7 1 0.7 1 0.7 1.1 0.7 1 0.7 1 0.3 1 0.4 1 0.3 1 0.4 1 0.4 1 0.2 1 0 1 0 1 0 1 0 1 0 1 0 1.1 0 1 0 1 0 1 0 1 0 1 0 1 0 1 0 1 0 1 0 1 0 1 0 1 0 1 0 1.1 0 1 0 1 0 1 0 1 0 1 0 1 0 1 0 1 0 1 0 1 0 1 0 1 0 1 0 1.1 0 1 0 1 0 1 0 1 0 1 0 1 0 1 0 1 0 1 0 1 0 1 0 1 0 1 0 1 0 1.1 0 1 0 1 0 1 0 1 0 1 0 1 0 1 0 1 0 1 0 1 0 1 0 1 0 1 0 1.1 0 1 0 1 0 1 0 1 0 1 0 1 0" fill="none" stroke="#e5348f" stroke-width="0.9" stroke-linejoin="round"/>
<path d="M920.6 193.5h0m1 0h0m1 0h0m1 0h0m1 0h0m1 0h0m1 0h0m1 0h0m1.1 0h0m1 0h0m1 0h0m1 0h0m1 0h0m1 0h0m1 0h0m1 0h0m1 0h0m1 0h0m1 0h0m1 0h0m1 0h0m1 0h0m1.1 0h0m1 0h0m1 0h0m1 0h0m1 0h0m1 0h0m1 0h0m1-5.5h0m1-12.8h0m1-34.8h0m1-31.3h0m1-5.5h0m1-1.2h0m1-1.2h0m1.1-1.2h0m1-1.5h0m1-1.4h0m1-1.4h0m1-1.4h0m1-0.6h0m1-0.5h0m1-0.6h0m1-0.6h0m1-0.5h0m1-0.3h0m1 0.3h0m1 0.4h0m1 0.4h0m1.1 0.4h0m1 0.4h0m1 0.3h0m1 0.2h0m1 0.2h0m1 0.2h0m1 0.2h0m1 0.2h0m1 0.2h0m1 0.2h0m1 0.2h0m1 0.2h0m1 0.2h0m1 0.2h0m1 0.2h0m1.1 0.2h0m1 0h0m1 0.1h0m1 0h0m1 0.1h0m1 0.1h0m1 0h0m1 0.1h0m1 0.1h0m1 0h0m1 0.1h0m1 0.1h0m1 0h0m1 0.1h0m1.1 0.1h0m1 0h0m1 0.1h0m1 0.1h0m1 0h0m1 0.1h0m1 0.1h0m1 0h0m1 0.1h0m1 0h0m1 0.1h0m1 0h0m1 0.1h0m1 0h0m1.1 0.1h0m1 0h0m1 0.1h0m1 0h0m1 0.1h0m1 0h0m1 0.1h0m1 0h0m1 0.1h0m1 0h0m1 0.1h0m1 0h0m1 0.1h0m1 0.4h0m1.1 1.5h0m1 6.2h0m1 24.3h0m1 14.2h0m1 13.1h0m1 9.1h0m1 6.9h0m1 5.7h0m1 3.1h0m1 2.2h0m1 2.1h0m1 0.9h0m1 0.7h0m1 0.7h0m1 0.7h0m1.1 0.7h0m1 0.7h0m1 0.3h0m1 0.4h0m1 0.3h0m1 0.4h0m1 0.4h0m1 0.2h0m1 0h0m1 0h0m1 0h0m1 0h0m1 0h0m1 0h0m1.1 0h0m1 0h0m1 0h0m1 0h0m1 0h0m1 0h0m1 0h0m1 0h0m1 0h0m1 0h0m1 0h0m1 0h0m1 0h0m1 0h0m1.1 0h0m1 0h0m1 0h0m1 0h0m1 0h0m1 0h0m1 0h0m1 0h0m1 0h0m1 0h0m1 0h0m1 0h0m1 0h0m1 0h0m1.1 0h0m1 0h0m1 0h0m1 0h0m1 0h0m1 0h0m1 0h0m1 0h0m1 0h0m1 0h0m1 0h0m1 0h0m1 0h0m1 0h0m1 0h0m1.1 0h0m1 0h0m1 0h0m1 0h0m1 0h0m1 0h0m1 0h0m1 0h0m1 0h0m1 0h0m1 0h0m1 0h0m1 0h0m1 0h0m1.1 0h0m1 0h0m1 0h0m1 0h0m1 0h0m1 0h0m1 0h0" stroke="#e5348f" stroke-width="3.8" stroke-linecap="round" fill="none"/>
<path d="M948.3 193h0m1-5.5h0m1-12.8h0m1-34.8h0m1-31.3h0m74.5-10.4h0m1.1 1.5h0m1 6.2h0m1 24.3h0m1 14.2h0m1 13.1h0m1 9.1h0m1 6.9h0m1 5.7h0m1 3.1h0m1 2.2h0m1 2.1h0m1 0.9h0m1 0.7h0m1 0.7h0m1 0.7h0m1.1 0.7h0m77.5 2.7h0" stroke="#fff" stroke-width="1.3" stroke-linecap="round" fill="none" stroke-opacity="0.6"/>
<path d="M920.6 193.5l1 0 1 0 1 0 1 0 1 0 1 0 1 0 1.1 0 1 0 1 0 1 0 1 0 1 0 1 0 1 0 1 0 1 0 1 0 1 0 1 0 1 0 1.1 0 1 0 1 0 1 0 1 0 1 0 1 0 1-1.6 1-3.5 1-3.5 1-1.7 1-0.3 1-0.3 1-0.3 1.1-0.3 1-0.2 1-0.1 1 0 1 0 1 0 1 0 1 0 1 0 1 0 1 0 1 0 1 0 1 0 1.1 0 1 0 1 0 1 0 1 0 1 0 1 0 1 0 1 0 1 0 1 0 1 0 1 0 1 0 1 0 1.1 0 1 0 1 0 1 0 1 0 1 0 1 0 1 0 1 0 1 0 1 0 1 0 1 0 1 0 1.1 0 1 0 1 0 1 0 1 0 1 0 1 0 1 0 1 0 1 0 1 0 1 0 1 0 1 0 1.1 0 1 0 1 0 1 0 1 0 1 0 1 0 1 0 1 0 1 0 1 0 1 0 1 0 1 0 1.1 0 1 0 1 0 1 0 1 0 1 0 1 0 1 0 1 0 1 0 1 0 1 0 1 0.1 1 0.3 1 0.3 1.1 0.3 1 0.3 1 0.6 1 0.6 1 0.6 1 0.6 1 0.6 1 0.7 1 0.9 1 0.8 1 0.9 1 0.8 1 0.9 1 0.8 1.1 0.7 1 0.1 1 0.2 1 0.1 1 0.2 1 0.1 1 0.1 1 0.2 1 0 1 0 1 0 1 0 1 0 1 0 1.1 0 1 0 1 0 1 0 1 0 1 0 1 0 1 0 1 0 1 0 1 0 1 0 1 0 1 0 1.1 0 1 0 1 0 1 0 1 0 1 0 1 0 1 0 1 0 1 0 1 0 1 0 1 0 1 0 1 0 1.1 0 1 0 1 0 1 0 1 0 1 0 1 0 1 0 1 0 1 0 1 0 1 0 1 0 1 0 1.1 0 1 0 1 0 1 0 1 0 1 0 1 0" fill="none" stroke="#63ad32" stroke-width="0.9" stroke-linejoin="round"/>
<path d="M920.6 193.5h0m1 0h0m1 0h0m1 0h0m1 0h0m1 0h0m1 0h0m1 0h0m1.1 0h0m1 0h0m1 0h0m1 0h0m1 0h0m1 0h0m1 0h0m1 0h0m1 0h0m1 0h0m1 0h0m1 0h0m1 0h0m1 0h0m1.1 0h0m1 0h0m1 0h0m1 0h0m1 0h0m1 0h0m1 0h0m1-1.6h0m1-3.5h0m1-3.5h0m1-1.7h0m1-0.3h0m1-0.3h0m1-0.3h0m1.1-0.3h0m1-0.2h0m1-0.1h0m1 0h0m1 0h0m1 0h0m1 0h0m1 0h0m1 0h0m1 0h0m1 0h0m1 0h0m1 0h0m1 0h0m1.1 0h0m1 0h0m1 0h0m1 0h0m1 0h0m1 0h0m1 0h0m1 0h0m1 0h0m1 0h0m1 0h0m1 0h0m1 0h0m1 0h0m1 0h0m1.1 0h0m1 0h0m1 0h0m1 0h0m1 0h0m1 0h0m1 0h0m1 0h0m1 0h0m1 0h0m1 0h0m1 0h0m1 0h0m1 0h0m1.1 0h0m1 0h0m1 0h0m1 0h0m1 0h0m1 0h0m1 0h0m1 0h0m1 0h0m1 0h0m1 0h0m1 0h0m1 0h0m1 0h0m1.1 0h0m1 0h0m1 0h0m1 0h0m1 0h0m1 0h0m1 0h0m1 0h0m1 0h0m1 0h0m1 0h0m1 0h0m1 0h0m1 0h0m1.1 0h0m1 0h0m1 0h0m1 0h0m1 0h0m1 0h0m1 0h0m1 0h0m1 0h0m1 0h0m1 0h0m1 0h0m1 0.1h0m1 0.3h0m1 0.3h0m1.1 0.3h0m1 0.3h0m1 0.6h0m1 0.6h0m1 0.6h0m1 0.6h0m1 0.6h0m1 0.7h0m1 0.9h0m1 0.8h0m1 0.9h0m1 0.8h0m1 0.9h0m1 0.8h0m1.1 0.7h0m1 0.1h0m1 0.2h0m1 0.1h0m1 0.2h0m1 0.1h0m1 0.1h0m1 0.2h0m1 0h0m1 0h0m1 0h0m1 0h0m1 0h0m1 0h0m1.1 0h0m1 0h0m1 0h0m1 0h0m1 0h0m1 0h0m1 0h0m1 0h0m1 0h0m1 0h0m1 0h0m1 0h0m1 0h0m1 0h0m1.1 0h0m1 0h0m1 0h0m1 0h0m1 0h0m1 0h0m1 0h0m1 0h0m1 0h0m1 0h0m1 0h0m1 0h0m1 0h0m1 0h0m1 0h0m1.1 0h0m1 0h0m1 0h0m1 0h0m1 0h0m1 0h0m1 0h0m1 0h0m1 0h0m1 0h0m1 0h0m1 0h0m1 0h0m1 0h0m1.1 0h0m1 0h0m1 0h0m1 0h0m1 0h0m1 0h0m1 0h0" stroke="#63ad32" stroke-width="3.8" stroke-linecap="round" fill="none"/>
<path d="M949.3 191.4h0m1-3.5h0m1-3.5h0m97.7 1.1h0m1 0.7h0m1 0.9h0m1 0.8h0m1 0.9h0m1 0.8h0m1 0.9h0m65.5 2.5h0" stroke="#fff" stroke-width="1.3" stroke-linecap="round" fill="none" stroke-opacity="0.6"/>
<path d="M920.6 193l1 1.1 1-0.6 1-1.6 1 3.5 1 1.2 1-1.5 1-2 1.1 2.5 1 0.2 1-3.9 1 1.3 1 1.2 1-2.4 1 3 1-1.8 1 2.5 1-1.3 1-1.9 1-0.6 1 0.2 1 2.6 1.1-1.1 1 1.4 1 1 1-1.9 1-1.8 1-0.1 1-1.2 1-3.6 1 1.2 1-0.7 1-2.7 1-0.1 1 0.4 1-1.1 1.1-1.1 1 0.7 1 0.9 1-2.7 1-0.8 1 2.8 1 2 1 0.2 1-4.4 1 4.4 1-3.6 1 0.8 1 1.4 1-2.6 1.1 4.1 1-0.6 1-1.7 1 2.2 1-4.2 1 3.1 1 0.5 1 0.5 1-3 1 0.9 1-0.9 1-0.2 1-0.8 1-0.8 1 1.5 1.1 2.5 1-1.4 1 1.5 1 0.9 1-2.4 1-1.3 1 2.8 1-0.5 1-0.3 1-1.9 1 0.9 1-0.5 1-0.7 1 1.9 1.1-2.1 1-0.6 1 4.3 1-4.4 1 1.1 1 3.1 1-1.7 1-0.9 1-1.5 1 2.8 1-1 1-1.6 1 0.4 1-0.8 1.1 2.5 1-0.9 1 2.3 1-2.7 1-0.5 1 0.9 1-0.4 1 2.7 1-3.7 1-0.4 1 0 1 2.4 1-1.4 1 2.5 1.1-3.1 1 0.3 1 2.6 1 1.4 1-1.8 1-0.6 1-1.2 1 1.5 1 3.5 1-2.5 1 5.5 1-4.3 1 2.6 1-1.6 1-3 1.1 2.8 1-0.5 1-2.4 1-1.6 1-0.7 1 1.8 1-0.4 1 3.3 1-1.5 1 5.5 1 0.1 1-0.7 1 2.1 1-1.4 1.1 1.2 1 0.8 1-1.5 1 1.7 1 1.5 1-0.2 1-2.2 1-0.1 1 3.6 1-3.4 1-0.6 1 2.3 1-0.2 1 1.9 1.1-1.7 1 0.1 1-0.5 1 3 1-4.9 1 2.4 1 0.6 1-2.1 1 1.2 1 0.4 1-1 1 3.2 1-2.4 1 0.6 1.1-2.8 1 0.1 1 3.5 1-1.1 1 1.8 1-1.6 1-2 1-0.4 1 2.2 1 0.8 1 0.7 1-2.3 1-1.6 1 4.2 1-3.4 1.1 4 1-0.9 1-0.2 1-2.4 1 1.9 1-0.2 1-1.4 1 2.7 1-3.3 1 3.2 1-2 1 1.4 1 0.3 1-1.8 1.1 0.5 1 0.3 1-0.2 1-0.6 1 2 1-0.3 1-2.2" fill="none" stroke="#e8ac16" stroke-width="0.9" stroke-linejoin="round"/>
<path d="M920.6 193h0m1 1.1h0m1-0.6h0m1-1.6h0m1 3.5h0m1 1.2h0m1-1.5h0m1-2h0m1.1 2.5h0m1 0.2h0m1-3.9h0m1 1.3h0m1 1.2h0m1-2.4h0m1 3h0m1-1.8h0m1 2.5h0m1-1.3h0m1-1.9h0m1-0.6h0m1 0.2h0m1 2.6h0m1.1-1.1h0m1 1.4h0m1 1h0m1-1.9h0m1-1.8h0m1-0.1h0m1-1.2h0m1-3.6h0m1 1.2h0m1-0.7h0m1-2.7h0m1-0.1h0m1 0.4h0m1-1.1h0m1.1-1.1h0m1 0.7h0m1 0.9h0m1-2.7h0m1-0.8h0m1 2.8h0m1 2h0m1 0.2h0m1-4.4h0m1 4.4h0m1-3.6h0m1 0.8h0m1 1.4h0m1-2.6h0m1.1 4.1h0m1-0.6h0m1-1.7h0m1 2.2h0m1-4.2h0m1 3.1h0m1 0.5h0m1 0.5h0m1-3h0m1 0.9h0m1-0.9h0m1-0.2h0m1-0.8h0m1-0.8h0m1 1.5h0m1.1 2.5h0m1-1.4h0m1 1.5h0m1 0.9h0m1-2.4h0m1-1.3h0m1 2.8h0m1-0.5h0m1-0.3h0m1-1.9h0m1 0.9h0m1-0.5h0m1-0.7h0m1 1.9h0m1.1-2.1h0m1-0.6h0m1 4.3h0m1-4.4h0m1 1.1h0m1 3.1h0m1-1.7h0m1-0.9h0m1-1.5h0m1 2.8h0m1-1h0m1-1.6h0m1 0.4h0m1-0.8h0m1.1 2.5h0m1-0.9h0m1 2.3h0m1-2.7h0m1-0.5h0m1 0.9h0m1-0.4h0m1 2.7h0m1-3.7h0m1-0.4h0m1 0h0m1 2.4h0m1-1.4h0m1 2.5h0m1.1-3.1h0m1 0.3h0m1 2.6h0m1 1.4h0m1-1.8h0m1-0.6h0m1-1.2h0m1 1.5h0m1 3.5h0m1-2.5h0m1 5.5h0m1-4.3h0m1 2.6h0m1-1.6h0m1-3h0m1.1 2.8h0m1-0.5h0m1-2.4h0m1-1.6h0m1-0.7h0m1 1.8h0m1-0.4h0m1 3.3h0m1-1.5h0m1 5.5h0m1 0.1h0m1-0.7h0m1 2.1h0m1-1.4h0m1.1 1.2h0m1 0.8h0m1-1.5h0m1 1.7h0m1 1.5h0m1-0.2h0m1-2.2h0m1-0.1h0m1 3.6h0m1-3.4h0m1-0.6h0m1 2.3h0m1-0.2h0m1 1.9h0m1.1-1.7h0m1 0.1h0m1-0.5h0m1 3h0m1-4.9h0m1 2.4h0m1 0.6h0m1-2.1h0m1 1.2h0m1 0.4h0m1-1h0m1 3.2h0m1-2.4h0m1 0.6h0m1.1-2.8h0m1 0.1h0m1 3.5h0m1-1.1h0m1 1.8h0m1-1.6h0m1-2h0m1-0.4h0m1 2.2h0m1 0.8h0m1 0.7h0m1-2.3h0m1-1.6h0m1 4.2h0m1-3.4h0m1.1 4h0m1-0.9h0m1-0.2h0m1-2.4h0m1 1.9h0m1-0.2h0m1-1.4h0m1 2.7h0m1-3.3h0m1 3.2h0m1-2h0m1 1.4h0m1 0.3h0m1-1.8h0m1.1 0.5h0m1 0.3h0m1-0.2h0m1-0.6h0m1 2h0m1-0.3h0m1-2.2h0" stroke="#e8ac16" stroke-width="3.8" stroke-linecap="round" fill="none"/>
<path d="M920.1 192.5h0m3-1.1h0m1 3.5h0m2-0.3h0m1-2h0m2.1 2.7h0m1-3.9h0m1 1.3h0m1 1.2h0m1-2.4h0m1 3h0m1-1.8h0m2 1.2h0m3-2.3h0m2.1 1.5h0m1 1.4h0m1 1h0m1-1.9h0m3-3.1h0m1-3.6h0m2 0.5h0m5.1-4.6h0m1 0.7h0m1 0.9h0m2-3.5h0m1 2.8h0m2 2.2h0m1-4.4h0m1 4.4h0m1-3.6h0m1 0.8h0m1 1.4h0m1-2.6h0m2.1 3.5h0m1-1.7h0m1 2.2h0m1-4.2h0m3 4.1h0m1-3h0m5-1.8h0m1 1.5h0m2.1 1.1h0m1 1.5h0m1 0.9h0m2-3.7h0m3 2h0m1-1.9h0m3-0.3h0m1 1.9h0m2.1-2.7h0m1 4.3h0m1-4.4h0m1 1.1h0m1 3.1h0m3-4.1h0m5-0.2h0m2.1 1.6h0m1 2.3h0m2-3.2h0m2 0.5h0m1 2.7h0m3-4.1h0m2 1h0m1 2.5h0m2.1-2.8h0m1 2.6h0m1 1.4h0m3-3.6h0m1 1.5h0m1 3.5h0m1-2.5h0m1 5.5h0m1-4.3h0m2 1h0m1-3h0m2.1 2.3h0m3-4.7h0m2 1.4h0m2 1.8h0m3 4.9h0m2 0.7h0m1.1 1.2h0m2-0.7h0m1 1.7h0m2 1.3h0m2-2.3h0m1 3.6h0m2-4h0m2 2.1h0m1 1.9h0m3.1-2.1h0m1 3h0m1-4.9h0m2 3h0m1-2.1h0m3 0.6h0m1 3.2h0m1-2.4h0m1 0.6h0m2.1-2.7h0m2 2.4h0m2 0.2h0m2-2.4h0m1 2.2h0m1 0.8h0m1 0.7h0m2-3.9h0m1 4.2h0m1-3.4h0m3.1 2.9h0m1-2.4h0m3 0.3h0m1 2.7h0m1-3.3h0m1 3.2h0m1-2h0m2 1.7h0m5.1-1.8h0m2 1.7h0m1-2.2h0" stroke="#fff" stroke-width="1.3" stroke-linecap="round" fill="none" stroke-opacity="0.6"/>
<rect x="920.6" y="51.8" width="201.4" height="161.9" stroke="#000" stroke-width="1.3" fill="none"/>
<line x1="1070.1" y1="58.2" x2="1084.8" y2="58.2" stroke="#1f9a7a" stroke-width="0.9"/>
<circle cx="1077.4" cy="58.2" r="1.5" fill="#1f9a7a"/>
<text x="1089.7" y="61.2" font-size="8.2" text-anchor="start" font-weight="normal" fill="#222">NC0</text>
<line x1="1070.1" y1="67.08" x2="1084.8" y2="67.08" stroke="#e0661a" stroke-width="0.9"/>
<circle cx="1077.4" cy="67.08" r="1.5" fill="#e0661a"/>
<text x="1089.7" y="70.08" font-size="8.2" text-anchor="start" font-weight="normal" fill="#222">NC1</text>
<line x1="1070.1" y1="75.96" x2="1084.8" y2="75.96" stroke="#8a80c8" stroke-width="0.9"/>
<circle cx="1077.4" cy="75.96" r="1.5" fill="#8a80c8"/>
<text x="1089.7" y="78.96" font-size="8.2" text-anchor="start" font-weight="normal" fill="#222">NC2</text>
<line x1="1070.1" y1="84.84" x2="1084.8" y2="84.84" stroke="#e5348f" stroke-width="0.9"/>
<circle cx="1077.4" cy="84.84" r="1.5" fill="#e5348f"/>
<text x="1089.7" y="87.84" font-size="8.2" text-anchor="start" font-weight="normal" fill="#222">NC3</text>
<line x1="1070.1" y1="93.72" x2="1084.8" y2="93.72" stroke="#63ad32" stroke-width="0.9"/>
<circle cx="1077.4" cy="93.72" r="1.5" fill="#63ad32"/>
<text x="1089.7" y="96.72" font-size="8.2" text-anchor="start" font-weight="normal" fill="#222">NC4</text>
<line x1="1070.1" y1="102.6" x2="1084.8" y2="102.6" stroke="#e8ac16" stroke-width="0.9"/>
<circle cx="1077.4" cy="102.6" r="1.5" fill="#e8ac16"/>
<text x="1089.7" y="105.6" font-size="8.2" text-anchor="start" font-weight="normal" fill="#222">NC5</text>
<text x="782.8" y="686.9" font-size="41.5" text-anchor="start" font-weight="bold" fill="#000">d</text>
<line x1="876" y1="1184.5" x2="886" y2="1184.5" stroke="#000" stroke-width="2"/>
<text x="861" y="1192.8" font-size="25.2" text-anchor="end" font-weight="bold" fill="#000">0</text>
<line x1="876" y1="981.25" x2="886" y2="981.25" stroke="#000" stroke-width="2"/>
<text x="861" y="989.55" font-size="25.2" text-anchor="end" font-weight="bold" fill="#000">5</text>
<line x1="876" y1="778" x2="886" y2="778" stroke="#000" stroke-width="2"/>
<text x="861" y="786.3" font-size="25.2" text-anchor="end" font-weight="bold" fill="#000">10</text>
<line x1="876" y1="1082.88" x2="881" y2="1082.88" stroke="#000" stroke-width="2"/>
<line x1="876" y1="879.62" x2="881" y2="879.62" stroke="#000" stroke-width="2"/>
<line x1="876" y1="676.38" x2="881" y2="676.38" stroke="#000" stroke-width="2"/>
<line x1="1056.6" y1="1184.8" x2="1056.6" y2="1174.8" stroke="#000" stroke-width="2"/>
<line x1="1237.2" y1="1184.8" x2="1237.2" y2="1174.8" stroke="#000" stroke-width="2"/>
<line x1="1417.8" y1="1184.8" x2="1417.8" y2="1174.8" stroke="#000" stroke-width="2"/>
<line x1="966.3" y1="1184.8" x2="966.3" y2="1179.8" stroke="#000" stroke-width="2"/>
<line x1="1146.9" y1="1184.8" x2="1146.9" y2="1179.8" stroke="#000" stroke-width="2"/>
<line x1="1327.5" y1="1184.8" x2="1327.5" y2="1179.8" stroke="#000" stroke-width="2"/>
<text x="876" y="1216.6" font-size="24.8" text-anchor="middle" font-weight="bold" fill="#000">0</text>
<text x="1056.6" y="1216.6" font-size="24.8" text-anchor="middle" font-weight="bold" fill="#000">1000</text>
<text x="1237.2" y="1216.6" font-size="24.8" text-anchor="middle" font-weight="bold" fill="#000">2000</text>
<text x="1417.8" y="1216.6" font-size="24.8" text-anchor="middle" font-weight="bold" fill="#000">3000</text>
<text x="1191" y="1259.5" font-size="24.8" text-anchor="middle" font-weight="bold" fill="#000">Time/s</text>
<text transform="translate(804.2,930.2) rotate(-90)" font-size="25" text-anchor="middle" font-weight="bold">Response</text>
<text x="897.5" y="713.5" font-size="24.8" font-weight="bold" fill="#e03a2c">100 ppm H<tspan font-size="18" dy="7.8">2</tspan><tspan dx="2.5" dy="-7.8">@380 °C</tspan></text>
<path d="M876.4 1143.8l0.8 0 0.8 0 0.8 0 0.8 0 0.8 0 0.6 0 0.1-8.1 0.1-18.7 0.1-30.9 0.1-29.5 0.1-39.6 0.1-32.5 0.1-48.4 0.1-26.6 0.1-50.2 0.1-4.7 0-4.4 0.1-4.2 0.1-3.8 0.1-3.6 0-3.4 0.1-3.2 0.1-2.9 0-2.8 0.1-2.6 0.1-2.4 0-2.3 0.1-2.1 0.1-2 0.1-1.9 0-1.7 0.1-1.6 0.1-1.5 0-1.5 0.1-1.3 0.1-1.2 0-1.2 0.1-1.1 0.1-1 0.1-0.9 0-0.9 0.1-0.9 0.1-0.8 0-0.7 0.1-0.7 0.1-0.6 0-0.6 0.1-0.6 0.1-0.5 0.1-0.5 0-0.4 0.1-0.5 0.1-0.4 0-0.3 0.1-0.4 0.1-0.3 0-0.3 0.1-0.3 0.1-0.3 0.1-0.2 0-0.3 0.1-0.2 0.1-0.2 0-0.2 0.1-0.2 0.1-0.1 0-0.2 0.1-0.1 0.1-0.2 0.5-2 0.5 0 0.5 0 0.5 0 0.6 0 0.5 0 0.5 0 0.5 0 0.5 0 0.5 0 0.6 0 0.5 0 0.5 0 0.5 0 0.5 0 0.5 0 0.5 0 0.6 0 0.5 0 0.5 0 0.5 0 0.5 1 0.5 1.1 0.6 1.2 0.5 1.1 0.5 1.2 0.5 1.1 0.3 7.6 0.1 35.3 0.1 33.1 0 51.9 0.1 34.5 0.1 55.8 0.1 19.8 0.1 29.8 0 9 0.1 15.3 0.1 4.1 0.2 3.8 0.1 3.5 0.1 3.3 0.1 3 0.1 2.9 0.2 2.6 0.1 2.5 0.1 2.3 0.1 2.1 0.1 2 0.2 1.8 0.1 1.8 0.1 1.6 0.1 1.5 0.1 1.4 0.2 1.2 0.1 1.3 0.1 1.1 0.1 1 0.1 1 0.2 0.9 0.1 0.8 0.1 0.8 0.1 0.8 0.1 0.6 0.2 0.7 0.1 0.6 0.1 0.5 0.1 0.5 0.1 0.5 0.2 0.5 0.1 0.4 0.1 0.4 0.1 0.3 0.1 0.3 0.2 0.4 0.1 0.2 0.1 0.3 0.1 0.3 0.1 0.2 0.2 0.2 0.1 0.2 0.1 0.2 0.1 0.2 0.1 0.1 0.2 0.2 0.1 0.1 0.1 0.2 0.1 0.1 0.1 0.1 0.8 1 0.8 1.1 0.8-0.9 0.8 0.2 0.8 0.7 0.8-1.2 0.8 1 0.8-0.3 0.8-0.5 0.8 1.1 0.8-1.1 0.8 0.5 0.8-0.1 0.1-8.1 0.1-17.7 0.1-17.1 0.1-32.6 0.1-37.9 0.1-49.5 0.1-41.6 0.1-32.4 0.1-45.2 0.1-4.8 0-4.6 0.1-4.3 0.1-4 0.1-3.7 0-3.5 0.1-3.3 0.1-3 0-2.9 0.1-2.7 0.1-2.5 0-2.3 0.1-2.2 0.1-2 0.1-2 0-1.7 0.1-1.7 0.1-1.6 0-1.5 0.1-1.3 0.1-1.3 0-1.2 0.1-1.2 0.1-1 0.1-1 0-0.9 0.1-0.9 0.1-0.8 0-0.7 0.1-0.7 0.1-0.7 0-0.6 0.1-0.6 0.1-0.5 0.1-0.5 0-0.5 0.1-0.5 0.1-0.4 0-0.4 0.1-0.3 0.1-0.4 0-0.3 0.1-0.3 0.1-0.2 0.1-0.3 0-0.2 0.1-0.3 0.1-0.2 0-0.2 0.1-0.2 0.1-0.1 0-0.2 0.1-0.2 0.1-0.1 0.1-0.1 0.5-2 0.5 0 0.5 0 0.5 0 0.5 0 0.5 0 0.5 0 0.6 0 0.5 0 0.5 0 0.5 0 0.5 0 0.5 0 0.5 0 0.5 0 0.6 0 0.5 0 0.5 0 0.5 0 0.5 0 0.5 0 0.5 1 0.5 1.1 0.6 1.2 0.5 1.1 0.5 1.2 0.5 1.1 0.3 7.6 0.1 27.3 0.1 60.7 0 33.1 0.1 52.6 0.1 39.6 0.1 7.3 0.1 29.4 0.1 6.4 0.1 6 0.1 5.6 0.1 5.2 0.2 4.8 0.1 4.5 0.1 4.2 0.1 4 0.1 3.6 0.2 3.4 0.1 3.1 0.1 3 0.1 2.7 0.1 2.6 0.2 2.3 0.1 2.2 0.1 2.1 0.1 1.9 0.1 1.8 0.2 1.6 0.1 1.6 0.1 1.4 0.1 1.4 0.1 1.2 0.2 1.2 0.1 1.1 0.1 1 0.1 0.9 0.1 0.9 0.2 0.8 0.1 0.7 0.1 0.7 0.1 0.7 0.1 0.6 0.2 0.6 0.1 0.5 0.1 0.5 0.1 0.5 0.1 0.4 0.2 0.4 0.1 0.4 0.1 0.3 0.1 0.3 0.1 0.3 0.2 0.3 0.1 0.3 0.1 0.2 0.1 0.2 0.1 0.2 0.2 0.2 0.1 0.2 0.1 0.2 0.1 0.1 0.1 0.2 0.2 0.1 0.1 0.1 0.1 0.2 0.8 2.1 0.8-1.1 0.8 0.9 0.8-0.2 0.8-0.6 0.8 1.1 0.8-1.1 0.8 0.4 0.8 0.5 0.8-1.1 0.8 1.1 0.8-0.5 0.8-0.3 0.4 0.3 0.1-8.1 0.1-26 0.1-26.3 0.1-16.6 0.1-50.2 0.1-28 0.1-47.5 0.1-35.1 0.1-79.2 0.1-2.6 0-2.5 0.1-2.3 0.1-2.1 0.1-2 0-1.9 0.1-1.8 0.1-1.6 0-1.6 0.1-1.4 0.1-1.3 0-1.3 0.1-1.2 0.1-1.1 0.1-1 0-1 0.1-0.9 0.1-0.8 0-0.8 0.1-0.8 0.1-0.6 0-0.7 0.1-0.6 0.1-0.6 0.1-0.5 0-0.5 0.1-0.5 0.1-0.4 0-0.4 0.1-0.4 0.1-0.3 0-0.4 0.1-0.3 0.1-0.3 0.1-0.2 0-0.3 0.1-0.2 0.1-0.2 0-0.3 0.1-0.1 0.1-0.2 0-0.2 0.1-0.2 0.1-0.1 0.1-0.1 0.5-2.1 0.5 0 0.5 0 0.5 0 0.5 0 0.5 0 0.5 0 0.5 0 0.5 0 0.5 0 0.5 0 0.5 0 0.5 0 0.5 0 0.5 0 0.5 0 0.6 0 0.5 0 0.5 0 0.5 1.1 0.5 1.1 0.5 1.1 0.5 1.2 0.5 1.1 0.5 1.1 0.3 7.6 0.1 23.8 0.1 50.8 0 38 0.1 42.4 0.1 51.1 0.1 26.9 0.1 21 0 8.6 0 8.5 0.1 8.5 0 4.9 0.1 4.1 0.1 3.8 0.1 3.5 0.2 3.3 0.1 3 0.1 2.9 0.1 2.6 0.1 2.5 0.2 2.3 0.1 2.1 0.1 2 0.1 1.8 0.1 1.8 0.2 1.6 0.1 1.5 0.1 1.4 0.1 1.2 0.1 1.3 0.2 1.1 0.1 1 0.1 1 0.1 0.9 0.1 0.8 0.2 0.8 0.1 0.8 0.1 0.6 0.1 0.7 0.1 0.6 0.2 0.5 0.1 0.5 0.1 0.5 0.1 0.5 0.1 0.4 0.2 0.4 0.1 0.3 0.1 0.3 0.1 0.4 0.1 0.2 0.2 0.3 0.1 0.3 0.1 0.2 0.1 0.2 0.1 0.2 0.2 0.2 0.1 0.2 0.1 0.1 0.1 0.2 0.1 0.1 0.2 0.2 0.1 0.1 0.1 0.1 0.8 1 0.8 1.2 0.8-1 0.8 0.3 0.8 0.5 0.8-1.1 0.8 1.1 0.8-0.5 0.8-0.3 0.8 0.9 0.8-1.1 0.8 0.7 0.8 0.1 0.8-0.8 0.8 1.1 0.8-0.8 0.2 0.2 0.1-8.1 0.1-7.4 0.1-33.3 0.1-34.5 0.1-24.4 0.1-50.3 0.1-37.8 0.1-44.2 0.1-90.8 0.1-1.8 0-1.6 0.1-1.5 0.1-1.4 0.1-1.3 0-1.3 0.1-1.1 0.1-1.1 0-1 0.1-1 0.1-0.9 0-0.8 0.1-0.8 0.1-0.7 0.1-0.7 0-0.6 0.1-0.6 0.1-0.6 0-0.5 0.1-0.5 0.1-0.5 0-0.4 0.1-0.4 0.1-0.4 0.1-0.3 0-0.3 0.1-0.3 0.1-0.3 0-0.3 0.1-0.2 0.1-0.3 0-0.2 0.1-0.2 0.1-0.2 0.1-0.2 0-0.1 0.1-0.2 0.1-0.1 0-0.2 0.5-2 0.6 0 0.5 0 0.5 0 0.5 0 0.5 0 0.5 0 0.6 0 0.5 0 0.5 0 0.5 0 0.5 0 0.5 0 0.5 0 0.6 0 0.5 0 0.5 0 0.5 0 0.5 1 0.5 1.1 0.6 1.2 0.5 1.1 0.5 1.2 0.5 1.1 0.3 7.6 0.1 26.7 0.1 53 0 48.7 0.1 36.6 0.1 31.2 0.1 44.2 0.1 2 0 42.1 0.2 4.1 0.1 3.8 0.1 3.5 0.1 3.3 0.1 3 0.2 2.9 0.1 2.6 0.1 2.5 0.1 2.3 0.1 2.1 0.2 2 0.1 1.8 0.1 1.8 0.1 1.6 0.1 1.5 0.2 1.4 0.1 1.2 0.1 1.3 0.1 1.1 0.1 1 0.2 1 0.1 0.9 0.1 0.8 0.1 0.8 0.1 0.8 0.2 0.6 0.1 0.7 0.1 0.6 0.1 0.5 0.1 0.5 0.2 0.5 0.1 0.5 0.1 0.4 0.1 0.4 0.1 0.3 0.2 0.3 0.1 0.4 0.1 0.2 0.1 0.3 0.1 0.3 0.2 0.2 0.1 0.2 0.1 0.2 0.1 0.2 0.1 0.2 0.2 0.1 0.1 0.2 0.1 0.1 0.1 0.2 0.1 0.1 0.2 0.1 0.8 1.8 0.8 0 0.8-0.8 0.8 1.1 0.8-0.9 0.8 0.2 0.8 0.6 0.8-1.1 0.8 1.1 0.8-0.4 0.8-0.5 0.8 1.1 0.8-1.1 0.8 0.5 0.8 0.3 0.8-0.9 0.8 1.1 0.4-0.6 0.1-8.1 0.1-21.3 0.1-30.4 0.1-11.7 0.1-52.2 0.1-28 0.1-49 0.1-33.2 0.1-54.7 0-4.6 0-4.4 0-4.1 0.1-3.8 0-3.6 0-3.3 0-3.1 0-3 0-2.7 0.1-2.6 0-2.4 0-2.2 0-2.1 0-2 0-1.8 0-1.7 0.1-1.6 0-1.5 0-1.4 0-1.3 0-1.3 0-1.1 0-1.1 0.1-1 0-1 0-0.8 0-0.9 0-0.7 0-0.8 0.1-0.6 0-0.7 0-0.6 0-0.5 0-0.5 0-0.5 0-0.5 0.1-0.4 0-0.4 0-0.3 0-0.4 0-0.3 0-0.3 0-0.3 0.1-0.3 0-0.2 0-0.3 0-0.2 0-0.2 0-0.2 0.1-0.1 0-0.2 0-0.2 0-0.1 0-0.1 0.5-2 0.5 0 0.5 0 0.5 0 0.5 0 0.6 0 0.5 0 0.5 0 0.5 0 0.5 0 0.5 0 0.5 0 0.5 0 0.5 0 0.5 0 0.5 0 0.5 0 0.5 0 0.5 0 0.6 0 0.5 0 0.5 1 0.5 1.2 0.5 1.1 0.5 1.1 0.5 1.2 0.5 1.1 0.3 10.8 0.1 45.6 0.1 41.4 0 25.8 0.1 59.2 0.1 22.9 0.1 24.3 0.1 24 0 41.3 0.2 4.1 0.1 3.8 0.1 3.5 0.1 3.3 0.1 3 0.2 2.9 0.1 2.6 0.1 2.5 0.1 2.3 0.1 2.1 0.2 2 0.1 1.8 0.1 1.8 0.1 1.6 0.1 1.5 0.2 1.4 0.1 1.2 0.1 1.3 0.1 1.1 0.1 1 0.2 1 0.1 0.9 0.1 0.8 0.1 0.8 0.1 0.8 0.2 0.6 0.1 0.7 0.1 0.6 0.1 0.5 0.1 0.5 0.2 0.5 0.1 0.5 0.1 0.4 0.1 0.4 0.1 0.3 0.2 0.3 0.1 0.4 0.1 0.2 0.1 0.3 0.1 0.3 0.2 0.2 0.1 0.2 0.1 0.2 0.1 0.2 0.1 0.2 0.2 0.1 0.1 0.2 0.1 0.1 0.1 0.2 0.1 0.1 0.2 0.1 0.8 1.6 0.8-0.5 0.8 1.1 0.8-1.1 0.8 0.5 0.8 0.3 0.8-0.9 0.8 1.1 0.8-0.7 0.8-0.1 0.8 0.8 0.8-1.1 0.8 0.8 0.8-0.1 0.8-0.7 0.8 1.1 0.5-0.6 0.1-8.1 0.1-13.3 0.1-31.9 0.1-33.6 0.1-23 0.1-49.6 0.1-45.7 0.1-46 0.1-37.4 0-4.8 0.1-4.6 0-4.2 0-4 0-3.7 0.1-3.5 0-3.2 0-3.1 0.1-2.8 0-2.7 0-2.4 0.1-2.4 0-2.2 0-2 0-1.9 0.1-1.8 0-1.7 0-1.5 0.1-1.5 0-1.3 0-1.3 0.1-1.2 0-1.1 0-1.1 0-1 0.1-0.9 0-0.8 0-0.8 0.1-0.8 0-0.7 0-0.6 0.1-0.7 0-0.5 0-0.6 0-0.5 0.1-0.4 0-0.5 0-0.4 0.1-0.4 0-0.3 0-0.4 0.1-0.3 0-0.3 0-0.3 0-0.2 0.1-0.3 0-0.2 0-0.2 0.1-0.2 0-0.2 0-0.2 0.1-0.1 0-0.2 0-0.1 0-0.1 0.6-2 0.5 0 0.5 0 0.5 0 0.5 0 0.5 0 0.5 0 0.6 0 0.5 0 0.5 0.1 0.5 0.5 0.5 0.4 0.5 0.5 0.5 0.5 0.6 0.5 0.5 0.4 0.5 0.5 0.5 0.5 0.5 0.5 0.5 0.4 0.5 0.5 0.5 0.5 0.6 0.5 0.5 0.4 0.5 0.5 0.5 0.5 0.5 0.5 0.5 0.4 0.5 0.5 0.6 0.5 0.5 0.5 0.5 0.4 0.5 0.5 0.3 9.4 0.1 45.8 0.1 22.6 0 65.5 0.1 34.6 0.1 30 0.1 20.9 0.1 38.5 0 2 0.1 24.6 0.1 4.1 0.2 3.8 0.1 3.5 0.1 3.3 0.1 3 0.1 2.9 0.2 2.6 0.1 2.5 0.1 2.3 0.1 2.1 0.1 2 0.2 1.8 0.1 1.8 0.1 1.6 0.1 1.5 0.1 1.4 0.2 1.2 0.1 1.3 0.1 1.1 0.1 1 0.1 1 0.2 0.9 0.1 0.8 0.1 0.8 0.1 0.8 0.1 0.6 0.2 0.7 0.1 0.6 0.1 0.5 0.1 0.5 0.1 0.5 0.2 0.5 0.1 0.4 0.1 0.4 0.1 0.3 0.1 0.3 0.2 0.4 0.1 0.2 0.1 0.3 0.1 0.3 0.1 0.2 0.2 0.2 0.1 0.2 0.1 0.2 0.1 0.2 0.1 0.1 0.2 0.2 0.1 0.1 0.1 0.2 0.1 0.1 0.1 0.1 0.8 1.3 0.8 0.1 0.8 0.7 0.8-1.2 0.8 1 0.8-0.3 0.8-0.5 0.8 1.1 0.8-1.1 0.8 0.5 0.8 0.3 0.8-1 0.8 1.2 0.8-0.7 0.8-0.1 0.8 0.8 0.8-1.1 0.8 0.8 0.2-0.3 0.1-8.1 0.1-17.2 0.1-23.7 0.1-28.5 0.1-33.8 0.1-30.9 0-7.3 0-7.4 0.1-7.3 0-7.3 0-7.3 0-7.3 0-7.3 0.1-7.4 0-7.3 0-7.3 0-7.3 0-7.3 0.1-7.3 0-7.4 0-7.3 0-7.3 0-7.3 0.1-7.3 0-7.3 0-3.3 0.1-4.7 0-4.4 0.1-4.2 0.1-3.8 0-3.6 0.1-3.4 0.1-3.2 0.1-2.9 0-2.8 0.1-2.6 0.1-2.4 0-2.3 0.1-2.1 0.1-2 0-1.9 0.1-1.7 0.1-1.6 0.1-1.5 0-1.5 0.1-1.3 0.1-1.2 0-1.2 0.1-1.1 0.1-1 0-0.9 0.1-0.9 0.1-0.9 0.1-0.8 0-0.7 0.1-0.7 0.1-0.6 0-0.6 0.1-0.6 0.1-0.5 0-0.5 0.1-0.4 0.1-0.5 0.1-0.4 0-0.3 0.1-0.4 0.1-0.3 0-0.3 0.1-0.3 0.1-0.3 0-0.2 0.1-0.3 0.1-0.2 0.1-0.2 0-0.2 0.1-0.2 0.1-0.1 0-0.2 0.1-0.1 0.1-0.2 0.5-2 0.5 0 0.5 0 0.5 0 0.5 0 0.6 0 0.5 0 0.5 0 0.5 0 0.5 0 0.5 0 0.5 0 0.5 0 0.6 0 0.5 0 0.5 0 0.5 0 0.5 0 0.5 0 0.5 0 0.5 0 0.6 0 0.5 0 0.5 0 0.5 0 0.5 0 0.5 0 0.5 1 0.5 1.2 0.6 1.1 0.5 1.1 0.5 1.2 0.5 1.1 0.3 7.6 0.1 22.4 0.1 65.1 0 47.5 0.1 17.7 0.1 47.7 0.1 31.5 0.1 28.5 0 7.6 0.1 16.5 0.1 4.1 0.2 3.8 0.1 3.5 0.1 3.3 0.1 3 0.1 2.9 0.2 2.6 0.1 2.5 0.1 2.3 0.1 2.1 0.1 2 0.2 1.8 0.1 1.8 0.1 1.6 0.1 1.5 0.1 1.4 0.2 1.2 0.1 1.3 0.1 1.1 0.1 1 0.1 1 0.2 0.9 0.1 0.8 0.1 0.8 0.1 0.8 0.1 0.6 0.2 0.7 0.1 0.6 0.1 0.5 0.1 0.5 0.1 0.5 0.2 0.5 0.1 0.4 0.1 0.4 0.1 0.3 0.1 0.3 0.2 0.4 0.1 0.2 0.1 0.3 0.1 0.3 0.1 0.2 0.2 0.2 0.1 0.2 0.1 0.2 0.1 0.2 0.1 0.1 0.2 0.2 0.1 0.1 0.1 0.2 0.1 0.1 0.1 0.1 0.8 2.1 0.8-1.1 0.8 0.8 0.8 0 0.8-0.8 0.8 1.1 0.8-0.9 0.8 0.2 0.8 0.6 0.8-1.1 0.8 1.1 0.8-0.5 0.8-0.4 0.8 1.1 0.8-1.1 0.8 0.6 0.8 0.2 0.8-0.9 0.4 0.5 0.1-8.1 0.1-22.9 0.1-20.9 0.1-27.8 0.1-29.1 0.1-41.6 0-4 0-4.1 0.1-4.1 0-4 0-4.1 0-4 0-4.1 0.1-4.1 0-4 0-4.1 0-4.1 0-4 0.1-4.1 0-4.1 0-4 0-4.1 0-4.1 0.1-4 0-4.1 0-4.1 0-4 0-4.1 0.1-4 0-4.1 0-4.1 0-4 0-4.1 0.1-4.1 0-4 0-4.1 0-4.1 0-4 0.1-4.1 0-4.1 0-4 0-4.1 0 0 0.1-3.9 0.1-3.7 0-3.4 0.1-3.3 0.1-3 0.1-2.8 0-2.6 0.1-2.5 0.1-2.3 0-2.2 0.1-2 0.1-1.9 0-1.7 0.1-1.7 0.1-1.5 0.1-1.5 0-1.3 0.1-1.3 0.1-1.2 0-1.1 0.1-1 0.1-1 0-0.9 0.1-0.9 0.1-0.8 0.1-0.7 0-0.7 0.1-0.6 0.1-0.6 0-0.6 0.1-0.6 0.1-0.4 0-0.5 0.1-0.4 0.1-0.5 0.1-0.3 0-0.4 0.1-0.3 0.1-0.3 0-0.3 0.1-0.3 0.1-0.3 0-0.2 0.1-0.2 0.1-0.2 0.1-0.2 0-0.2 0.1-0.2 0.1-0.1 0-0.2 0.1-0.1 0.1-0.2 0.5-1.9 0.5 0 0.5 0 0.5 0 0.5 0 0.5 0 0.5 0 0.5 0 0.5 0 0.5 0 0.5 0 0.5 0 0.5 0 0.5 0 0.5 0 0.5 0 0.5 0 0.5 0 0.5 1.1 0.5 1.2 0.5 1.1 0.5 1.1 0.5 1.1 0.5 1.1 0.3 7.6 0.1 26.3 0.1 61.9 0 30.1 0.1 35.3 0.1 44.4 0.1 24.6 0.1 41 0 8.3 0.1 12.6 0.1 4.1 0.2 3.8 0.1 3.5 0.1 3.3 0.1 3 0.1 2.9 0.2 2.6 0.1 2.5 0.1 2.3 0.1 2.1 0.1 2 0.2 1.8 0.1 1.8 0.1 1.6 0.1 1.5 0.1 1.4 0.2 1.2 0.1 1.3 0.1 1.1 0.1 1 0.1 1 0.2 0.9 0.1 0.8 0.1 0.8 0.1 0.8 0.1 0.6 0.2 0.7 0.1 0.6 0.1 0.5 0.1 0.5 0.1 0.5 0.2 0.5 0.1 0.4 0.1 0.4 0.1 0.3 0.1 0.3 0.2 0.4 0.1 0.2 0.1 0.3 0.1 0.3 0.1 0.2 0.2 0.2 0.1 0.2 0.1 0.2 0.1 0.2 0.1 0.1 0.2 0.2 0.1 0.1 0.1 0.2 0.1 0.1 0.1 0.1 0.8 1.1 0.8 1.1 0.8-1.1 0.8 0.5 0.8 0.3 0.8-0.9 0.8 1.1 0.8-0.7 0.8-0.1 0.8 0.8 0.8-1.1 0.8 0.8 0.8-0.1 0.8-0.7 0.6 0.5 0.1-8.1 0.1-9.1 0.1-42.6 0.1-17.3 0.1-39.8 0.1-47.7 0.1-41.7 0.1-47.2 0.1-18.8 0-6 0.1-5.7 0-5.3 0.1-4.9 0-4.6 0-4.3 0.1-4.1 0-3.8 0.1-3.5 0-3.3 0-3.1 0.1-2.9 0-2.7 0.1-2.5 0-2.4 0-2.2 0.1-2.1 0-1.9 0.1-1.9 0-1.7 0-1.5 0.1-1.5 0-1.4 0.1-1.3 0-1.2 0-1.2 0.1-1 0-1 0.1-1 0-0.8 0-0.9 0.1-0.7 0-0.7 0.1-0.7 0-0.6 0-0.6 0.1-0.6 0-0.5 0.1-0.5 0-0.4 0-0.4 0.1-0.4 0-0.4 0.1-0.3 0-0.3 0-0.3 0.1-0.3 0-0.3 0.1-0.2 0-0.3 0-0.2 0.1-0.2 0-0.2 0.1-0.1 0-0.2 0-0.2 0.1-0.1 0-0.1 0.5-2 0.5 0 0.5 0 0.6 0 0.5 0 0.5 0 0.5 0 0.5 0 0.5 0 0.5 0 0.5 0.5 0.5 0.4 0.5 0.5 0.5 0.4 0.5 0.4 0.6 0.5 0.5 0.4 0.5 0.5 0.5 0.4 0.5 0.4 0.5 0.5 0.5 0.4 0.5 0.5 0.5 0.4 0.5 0.4 0.5 0.5 0.5 0.4 0.6 0.5 0.5 0.4 0.5 0.4 0.5 0.5 0.5 0.4 0.5 0.5 0.3 12.2 0.1 35.6 0.1 43.9 0 38.8 0.1 46.8 0.1 41.2 0.1 25.7 0.1 30.6 0 21.9 0.2 4.1 0.1 3.8 0.1 3.5 0.1 3.3 0.1 3 0.2 2.9 0.1 2.6 0.1 2.5 0.1 2.3 0.1 2.1 0.2 2 0.1 1.8 0.1 1.8 0.1 1.6 0.1 1.5 0.2 1.4 0.1 1.2 0.1 1.3 0.1 1.1 0.1 1 0.2 1 0.1 0.9 0.1 0.8 0.1 0.8 0.1 0.8 0.2 0.6 0.1 0.7 0.1 0.6 0.1 0.5 0.1 0.5 0.2 0.5 0.1 0.5 0.1 0.4 0.1 0.4 0.1 0.3 0.2 0.3 0.1 0.4 0.1 0.2 0.1 0.3 0.1 0.3 0.2 0.2 0.1 0.2 0.1 0.2 0.1 0.2 0.1 0.2 0.2 0.1 0.1 0.2 0.1 0.1 0.1 0.2 0.1 0.1 0.2 0.1 0.8 1.9 0.8-0.9 0.8 1.1 0.8-0.7 0.8-0.1 0.8 0.8 0.8-1.1 0.8 0.8 0.8-0.1 0.8-0.7 0.8 1.2 0.8-1 0.8 0.3 0.8 0.5 0.8-1.1 0.5 0.6 0.1-8.1 0.1-26.2 0.1-27.8 0.1-21.7 0.1-34 0.1-33.3 0.1-39.7 0.1-16.5 0-8.1 0-8.1 0.1-8.2 0-8.1 0-8.1 0-8.1 0-8.2 0.1-8.1 0-8.1 0-4.1 0.1-4.7 0-4.4 0.1-4.2 0.1-3.8 0-3.6 0.1-3.4 0.1-3.2 0.1-2.9 0-2.8 0.1-2.6 0.1-2.4 0-2.3 0.1-2.1 0.1-2 0-1.9 0.1-1.7 0.1-1.6 0.1-1.5 0-1.5 0.1-1.3 0.1-1.2 0-1.2 0.1-1.1 0.1-1 0-0.9 0.1-0.9 0.1-0.9 0.1-0.8 0-0.7 0.1-0.7 0.1-0.6 0-0.6 0.1-0.6 0.1-0.5 0-0.5 0.1-0.4 0.1-0.5 0.1-0.4 0-0.3 0.1-0.4 0.1-0.3 0-0.3 0.1-0.3 0.1-0.3 0-0.2 0.1-0.3 0.1-0.2 0.1-0.2 0-0.2 0.1-0.2 0.1-0.1 0-0.2 0.1-0.1 0.1-0.2 0.5-2 0.5 0 0.5 0 0.5 0 0.5 0 0.5 0 0.5 0 0.5 0 0.6 0 0.5 0 0.5 0 0.5 0 0.5 0 0.5 0 0.5 0 0.5 0 0.5 0 0.5 0 0.5 0 0.5 0 0.5 0 0.6 0 0.5 1.1 0.5 1.1 0.5 1.1 0.5 1.2 0.5 1.1 0.5 1.1 0.3 7.6 0.1 27.6 0.1 42.7 0 57 0.1 30.3 0.1 36.9 0.1 30.4 0.1 25.1 0 13.9 0.1 20.6 0.1 4.1 0.2 3.8 0.1 3.5 0.1 3.3 0.1 3 0.1 2.9 0.2 2.6 0.1 2.5 0.1 2.3 0.1 2.1 0.1 2 0.2 1.8 0.1 1.8 0.1 1.6 0.1 1.5 0.1 1.4 0.2 1.2 0.1 1.3 0.1 1.1 0.1 1 0.1 1 0.2 0.9 0.1 0.8 0.1 0.8 0.1 0.8 0.1 0.6 0.2 0.7 0.1 0.6 0.1 0.5 0.1 0.5 0.1 0.5 0.2 0.5 0.1 0.4 0.1 0.4 0.1 0.3 0.1 0.3 0.2 0.4 0.1 0.2 0.1 0.3 0.1 0.3 0.1 0.2 0.2 0.2 0.1 0.2 0.1 0.2 0.1 0.2 0.1 0.1 0.2 0.2 0.1 0.1 0.1 0.2 0.1 0.1 0.1 0.1 0.8 1.1 0.8 1.1 0.8-1.1 0.8 0.5 0.8 0.3 0.8-0.9 0.8 1.1 0.4-0.6 0.1-8.1 0.1-13.5 0.1-35.4 0.1-19.8 0.1-40.7 0.1-42.4 0.1-45.3 0-9 0-8.9 0.1-9 0-8.9 0-8.9 0-9 0-8.9 0.1-9 0-8.9 0-9 0-8.9 0-8.9 0.1-9 0-8.9 0-6.9 0.1-1.4 0-1.2 0.1-1.1 0.1-1.1 0-1 0.1-0.9 0.1-0.9 0.1-0.8 0-0.8 0.1-0.7 0.1-0.7 0-0.6 0.1-0.6 0.1-0.6 0-0.5 0.1-0.5 0.1-0.4 0.1-0.4 0-0.4 0.1-0.4 0.1-0.4 0-0.3 0.1-0.3 0.1-0.3 0-0.2 0.1-0.3 0.1-0.2 0.1-0.2 0-0.2 0.1-0.2 0.1-0.2 0-0.2 0.1-0.1 0.1-0.2 0-0.1 0.6-2 0.5 0 0.5 0 0.5 0 0.5 0 0.5 0 0.5 0 0.5 0 0.5 0 0.5 0 0.5 0 0.5 0 0.5 0 0.5 0 0.5 0 0.5 0 0.5 0 0.5 0 0.5 0 0.5 0 0.5 0 0.5 0 0.5 0 0.5 0 0.5 0 0.5 1.1 0.5 1.2 0.5 1.1 0.5 1.1 0.5 1.1 0.5 1.1 0.3 7.6 0.1 23.6 0.1 52 0 46.4 0.1 54.5 0.1 23.5 0.1 35.7 0.1 14.1 0 26.2 0.2 4.6 0.1 4.4 0.1 4 0.1 3.7 0.1 3.5 0.2 3.3 0.1 3 0.1 2.8 0.1 2.7 0.1 2.4 0.2 2.3 0.1 2.1 0.1 2 0.1 1.8 0.1 1.7 0.2 1.6 0.1 1.5 0.1 1.4 0.1 1.3 0.1 1.2 0.2 1.1 0.1 1 0.1 1 0.1 0.9 0.1 0.8 0.2 0.8 0.1 0.7 0.1 0.7 0.1 0.6 0.1 0.6 0.2 0.6 0.1 0.5 0.1 0.5 0.1 0.4 0.1 0.4 0.2 0.4 0.1 0.3 0.1 0.4 0.1 0.3 0.1 0.3 0.2 0.2 0.1 0.3 0.1 0.2 0.1 0.2 0.1 0.2 0.2 0.2 0.1 0.2 0.1 0.2 0.1 0.1 0.1 0.2 0.2 0.1 0.1 0.1 0.1 0.1 0.8 2.2 0.8-1.2 0.8 0.7 0.8 0.1 0.8-0.8 0.8 1.1 0.8-0.8 0.8 0.1 0.8 0.7 0.8-1.1 0.8 0.9 0.8-0.3 0.8-0.5 0.8 1.1 0.8-1.1 0.1 0.4 0.1-8.1 0.1-22.7 0.1-25 0.1-31.5 0.1-27.4 0.1-42.6 0.1-58.1 0-8.1 0-8.2 0.1-8.1 0-8.1 0-8.1 0-8.2 0-8.1 0.1-8.1 0-8.2 0-8.1 0-8.1 0-8.2 0.1-2.8 0-2.7 0.1-2.5 0.1-2.4 0-2.2 0.1-2.1 0.1-1.9 0-1.8 0.1-1.7 0.1-1.6 0.1-1.5 0-1.4 0.1-1.3 0.1-1.2 0-1.1 0.1-1.1 0.1-1 0-0.9 0.1-0.9 0.1-0.8 0.1-0.7 0-0.7 0.1-0.7 0.1-0.6 0-0.6 0.1-0.6 0.1-0.5 0-0.4 0.1-0.5 0.1-0.4 0.1-0.4 0-0.4 0.1-0.3 0.1-0.3 0-0.3 0.1-0.3 0.1-0.3 0-0.2 0.1-0.2 0.1-0.3 0.1-0.2 0-0.1 0.1-0.2 0.1-0.2 0-0.1 0.1-0.2 0.1-0.1 0.5-2 0.5 0 0.5 0 0.5 0 0.5 0 0.5 0 0.6 0 0.5 0 0.5 0 0.5 0 0.5 0 0.5 0 0.5 0 0.5 0 0.5 0 0.5 0 0.6 0 0.5 0 0.5 0 0.5 0 0.5 0 0.5 0 0.5 0 0.5 0 0.5 0 0.5 1 0.6 1.2 0.5 1.1 0.5 1.2 0.5 1.1 0.5 1.1 0.3 7.6 0.1 38.2 0.1 32.7 0 44 0.1 45.1 0.1 24.9 0 8.6 0.1 8.5 0 8.5 0 8.6 0 8.5 0.1 8.5 0 8.6 0 8.5 0.1 8.5 0 8.6 0 8.5 0.1 5.7 0.1 4.1 0.1 3.8 0.1 3.5 0.1 3.3 0.2 3 0.1 2.9 0.1 2.6 0.1 2.5 0.1 2.3 0.2 2.1 0.1 2 0.1 1.8 0.1 1.8 0.1 1.6 0.2 1.5 0.1 1.4 0.1 1.2 0.1 1.3 0.1 1.1 0.2 1 0.1 1 0.1 0.9 0.1 0.8 0.1 0.8 0.2 0.8 0.1 0.6 0.1 0.7 0.1 0.6 0.1 0.5 0.2 0.5 0.1 0.5 0.1 0.5 0.1 0.4 0.1 0.4 0.2 0.3 0.1 0.3 0.1 0.4 0.1 0.2 0.1 0.3 0.2 0.3 0.1 0.2 0.1 0.2 0.1 0.2 0.1 0.2 0.2 0.2 0.1 0.1 0.1 0.2 0.1 0.1 0.1 0.2 0.2 0.1 0.1 0.1 0.8 1.7 0.8 0.2 0.8-0.9 0.8 1.1 0.8-0.8 0.8 0 0.8 0.8 0.8-1.1 0.8 0.9 0.8-0.2 0.8-0.6 0.8 1.1 0.8-1.1 0.8 0.4 0 0 0.1-8.1 0.1-9.5 0.1-42 0.1-30.5 0.1-27.3 0.1-40.9 0.1-45.3 0.1-44.9 0.1-36 0.1-4.7 0-4.4 0.1-4.2 0.1-3.8 0-3.6 0.1-3.4 0.1-3.2 0.1-2.9 0-2.8 0.1-2.6 0.1-2.4 0-2.3 0.1-2.1 0.1-2 0-1.9 0.1-1.7 0.1-1.6 0.1-1.5 0-1.5 0.1-1.3 0.1-1.2 0-1.2 0.1-1.1 0.1-1 0-0.9 0.1-0.9 0.1-0.9 0.1-0.8 0-0.7 0.1-0.7 0.1-0.6 0-0.6 0.1-0.6 0.1-0.5 0-0.5 0.1-0.4 0.1-0.5 0.1-0.4 0-0.3 0.1-0.4 0.1-0.3 0-0.3 0.1-0.3 0.1-0.3 0-0.2 0.1-0.3 0.1-0.2 0.1-0.2 0-0.2 0.1-0.2 0.1-0.1 0-0.2 0.1-0.1 0.1-0.2 0.5-2 0.5 0 0.5 0 0.5 0 0.5 0 0.5 0 0.5 0 0.5 0 0.5 0 0.5 0 0.5 0 0.5 0 0.5 0 0.5 0 0.5 0 0.5 0 0.5 0 0.5 0 0.5 0 0.5 0 0.5 0 0.5 0 0.5 0 0.5 0 0.5 0 0.5 0 0.5 1.1 0.5 1.2 0.5 1.1 0.5 1.1 0.5 1.1 0.5 1.1 0.3 7.6 0.1 42.5 0.1 29.9 0 49.6 0.1 38.6 0.1 42.5 0.1 34.7 0 8.5 0 8.5 0.1 8.6 0 8.5 0 8.5 0.1 4.1 0.1 4.1 0.1 3.8 0.1 3.5 0.1 3.3 0.2 3 0.1 2.9 0.1 2.6 0.1 2.5 0.1 2.3 0.2 2.1 0.1 2 0.1 1.8 0.1 1.8 0.1 1.6 0.2 1.5 0.1 1.4 0.1 1.2 0.1 1.3 0.1 1.1 0.2 1 0.1 1 0.1 0.9 0.1 0.8 0.1 0.8 0.2 0.8 0.1 0.6 0.1 0.7 0.1 0.6 0.1 0.5 0.2 0.5 0.1 0.5 0.1 0.5 0.1 0.4 0.1 0.4 0.2 0.3 0.1 0.3 0.1 0.4 0.1 0.2 0.1 0.3 0.2 0.3 0.1 0.2 0.1 0.2 0.1 0.2 0.1 0.2 0.2 0.2 0.1 0.1 0.1 0.2 0.1 0.1 0.1 0.2 0.2 0.1 0.1 0.1 0.8 1 0.8 0.7 0.8 0.1 0.8-0.8 0.8 1.1 0.8-0.8 0.8 0 0.8 0.8 0.8-1.1 0.8 0.9 0.8-0.3 0.8-0.5 0.8 1.1 0.8-1.1 0.8 0.5 0.8 0.4 0.2-0.5 0.1-8.1 0.1-20.7 0.1-14.4 0.1-31.1 0.1-42.3 0.1-40.9 0.1-35.9 0.1-54.2 0.1-49.1 0-8.1 0-8.2 0.1-6.1 0-2.4 0.1-2.4 0.1-2.2 0-2 0.1-1.9 0.1-1.8 0-1.7 0.1-1.5 0.1-1.5 0.1-1.3 0-1.3 0.1-1.2 0.1-1.1 0-1.1 0.1-1 0.1-0.9 0-0.8 0.1-0.8 0.1-0.8 0.1-0.7 0-0.6 0.1-0.7 0.1-0.5 0-0.6 0.1-0.5 0.1-0.4 0-0.5 0.1-0.4 0.1-0.4 0.1-0.3 0-0.4 0.1-0.3 0.1-0.3 0-0.3 0.1-0.2 0.1-0.3 0-0.2 0.1-0.2 0.1-0.2 0.1-0.2 0-0.2 0.1-0.1 0.1-0.2 0-0.1 0.1-0.1 0.5-2 0.5 0 0.5 0 0.5 0 0.6 0 0.5 0 0.5 0 0.5 0 0.5 0 0.5 0 0.5 0 0.5 0 0.5 0 0.5 0 0.6 0 0.5 0 0.5 0 0.5 0 0.5 0 0.5 0 0.5 0 0.5 0 0.5 0 0.5 0 0.6 0 0.5 0 0.5 0 0.5 0 0.5 0 0.5 0 0.5 0 0.5 0 0.5 0 0.5 1 0.6 1.2 0.5 1.1 0.5 1.2 0.5 1.1 0.5 1.1 0.3 7.6 0.1 31.3 0.1 59.1 0 34.2 0.1 46.7 0.1 40.7 0.1 33.9 0 8.5 0 8.6 0.1 8.5 0 8.5 0 4.5 0.1 4.1 0.2 3.8 0.1 3.5 0.1 3.3 0.1 3 0.1 2.9 0.2 2.6 0.1 2.5 0.1 2.3 0.1 2.1 0.1 2 0.2 1.8 0.1 1.8 0.1 1.6 0.1 1.5 0.1 1.4 0.2 1.2 0.1 1.3 0.1 1.1 0.1 1 0.1 1 0.2 0.9 0.1 0.8 0.1 0.8 0.1 0.8 0.1 0.6 0.2 0.7 0.1 0.6 0.1 0.5 0.1 0.5 0.1 0.5 0.2 0.5 0.1 0.4 0.1 0.4 0.1 0.3 0.1 0.3 0.2 0.4 0.1 0.2 0.1 0.3 0.1 0.3 0.1 0.2 0.2 0.2 0.1 0.2 0.1 0.2 0.1 0.2 0.1 0.1 0.2 0.2 0.1 0.1 0.1 0.2 0.1 0.1 0.1 0.1 0.8 1 0.8 0.8 0.8-0.1 0.8-0.7 0.8 1.2 0.8-1 0.8 0.3 0.8 0.5 0.8-1.1 0.8 1.1 0.8-0.5 0.8-0.3 0.8 0.9 0.8-1.1 0.8 0.7 0.8-0.2 0.1-8.1 0.1-10 0.1-25.3 0.1-37.1 0.1-34.9 0.1-41.3 0.1-44.3 0.1-37.5 0.1-46 0-8.1 0-8.2 0.1-8.1 0-8.1 0 0 0.1-2.6 0-2.5 0.1-2.3 0.1-2.1 0-2 0.1-1.9 0.1-1.8 0.1-1.6 0-1.6 0.1-1.4 0.1-1.3 0-1.3 0.1-1.2 0.1-1.1 0-1 0.1-1 0.1-0.9 0.1-0.8 0-0.8 0.1-0.8 0.1-0.6 0-0.7 0.1-0.6 0.1-0.6 0-0.5 0.1-0.5 0.1-0.5 0.1-0.4 0-0.4 0.1-0.4 0.1-0.3 0-0.4 0.1-0.3 0.1-0.3 0-0.2 0.1-0.3 0.1-0.2 0.1-0.2 0-0.3 0.1-0.1 0.1-0.2 0-0.2 0.1-0.2 0.1-0.1 0-0.1 0.6-2.1 0.5 0 0.5 0 0.5 0 0.5 0 0.5 0 0.5 0 0.5 0 0.5 0 0.5 0 0.5 0 0.5 0 0.5 0 0.5 0 0.5 0 0.5 0 0.5 0 0.5 0 0.5 0 0.5 0 0.5 0 0.5 0 0.5 0 0.5 0 0.5 0 0.5 0 0.5 0 0.5 0 0.5 0 0.5 0 0.5 1.1 0.5 1.2 0.5 1.1 0.5 1.1 0.5 1.1 0.5 1.1 0.3 7.6 0.1 24.7 0.1 66.7 0 34.8 0.1 43.8 0.1 33.4 0.1 38.4 0 8.6 0 8.5 0.1 8.5 0 8.6 0 8.5 0.1 4.1 0.2 3.8 0.1 3.5 0.1 3.3 0.1 3 0.1 2.9 0.2 2.6 0.1 2.5 0.1 2.3 0.1 2.1 0.1 2 0.2 1.8 0.1 1.8 0.1 1.6 0.1 1.5 0.1 1.4 0.2 1.2 0.1 1.3 0.1 1.1 0.1 1 0.1 1 0.2 0.9 0.1 0.8 0.1 0.8 0.1 0.8 0.1 0.6 0.2 0.7 0.1 0.6 0.1 0.5 0.1 0.5 0.1 0.5 0.2 0.5 0.1 0.4 0.1 0.4 0.1 0.3 0.1 0.3 0.2 0.4 0.1 0.2 0.1 0.3 0.1 0.3 0.1 0.2 0.2 0.2 0.1 0.2 0.1 0.2 0.1 0.2 0.1 0.1 0.2 0.2 0.1 0.1 0.1 0.2 0.1 0.1 0.1 0.1 0.8 0.9 0.8 1.1 0.8-0.5 0.8-0.3 0.8 1 0.8-1.2 0.8 0.7 0.8 0.1 0.8-0.8 0.8 1.1 0.8-0.8 0.8 0.1 0.8 0.7 0.8-1.1 0.8 0.9 0.8-0.3 0.8-0.5 0.8 1.1 0.5-0.7 0.1-8.1 0.1-6.8 0.1-40.2 0.1-17.9 0.1-45.8 0.1-32.4 0.1-49.6 0.1-52.4 0.1-65.9 0.1-2.4 0-2.4 0.1-2.2 0.1-2 0-1.9 0.1-1.8 0.1-1.7 0.1-1.5 0-1.5 0.1-1.3 0.1-1.3 0-1.2 0.1-1.1 0.1-1.1 0-1 0.1-0.9 0.1-0.8 0.1-0.8 0-0.8 0.1-0.7 0.1-0.6 0-0.7 0.1-0.5 0.1-0.6 0-0.5 0.1-0.4 0.1-0.5 0.1-0.4 0-0.4 0.1-0.3 0.1-0.4 0-0.3 0.1-0.3 0.1-0.3 0-0.2 0.1-0.3 0.1-0.2 0.1-0.2 0-0.2 0.1-0.2 0.1-0.2 0-0.1 0.1-0.2 0.1-0.1 0-0.1 0.6-2 0.5 0 0.5 0 0.5 0 0.5 0 0.5 0 0.5 0 0.6 0 0.5 0 0.5 0 0.5 0 0.5 0 0.5 0 0.5 0 0.5 0 0.6 0 0.5 0 0.5 0 0.5 0 0.5 0 0.5 0 0.5 0 0.5 0 0.6 0 0.5 0 0.5 0 0.5 0 0.5 0 0.5 0 0.5 1 0.5 1.2 0.6 1.1 0.5 1.1 0.5 1.2 0.5 1.1 0.3 7.6 0.1 26.7 0.1 54.5 0 35.1 0.1 44.8 0.1 43.3 0.1 41.5 0 8.5 0 8.6 0.1 8.5 0 8.5 0 4.5 0.1 4.1 0.2 3.8 0.1 3.5 0.1 3.3 0.1 3 0.1 2.9 0.2 2.6 0.1 2.5 0.1 2.3 0.1 2.1 0.1 2 0.2 1.8 0.1 1.8 0.1 1.6 0.1 1.5 0.1 1.4 0.2 1.2 0.1 1.3 0.1 1.1 0.1 1 0.1 1 0.2 0.9 0.1 0.8 0.1 0.8 0.1 0.8 0.1 0.6 0.2 0.7 0.1 0.6 0.1 0.5 0.1 0.5 0.1 0.5 0.2 0.5 0.1 0.4 0.1 0.4 0.1 0.3 0.1 0.3 0.2 0.4 0.1 0.2 0.1 0.3 0.1 0.3 0.1 0.2 0.2 0.2 0.1 0.2 0.1 0.2 0.1 0.2 0.1 0.1 0.2 0.2 0.1 0.1 0.1 0.2 0.1 0.1 0.1 0.1 0.8 1 0.8 0.9 0.8-0.3 0.8-0.5 0.8 1.1 0.8-1.1 0.8 0.5 0.8 0.4 0.8-1.1 0.8 1.1 0.8-0.6 0.8-0.2" fill="none" stroke="#111" stroke-width="2" stroke-linejoin="round"/>
<path d="M876.4 1143.8h0m0.8 0h0m0.8 0h0m0.8 0h0m0.8 0h0m0.8 0h0m0.6 0h0m0.1-8.1h0m0.1-18.7h0m0.1-30.9h0m0.1-29.5h0m0.1-39.6h0m0.1-32.5h0m0.1-48.4h0m0.1-26.6h0m0.1-50.2h0m0.1-4.7h0m0-4.4h0m0.1-4.2h0m0.1-3.8h0m0.1-3.6h0m0-3.4h0m0.1-3.2h0m0.1-2.9h0m0-2.8h0m0.1-2.6h0m0.1-2.4h0m0-2.3h0m0.1-2.1h0m0.1-2h0m0.1-1.9h0m0-1.7h0m0.1-1.6h0m0.1-1.5h0m0-1.5h0m0.1-1.3h0m0.1-1.2h0m0-1.2h0m0.1-1.1h0m0.1-1h0m0.1-0.9h0m0-0.9h0m0.1-0.9h0m0.1-0.8h0m0-0.7h0m0.1-0.7h0m0.1-0.6h0m0-0.6h0m0.1-0.6h0m0.1-0.5h0m0.1-0.5h0m0-0.4h0m0.1-0.5h0m0.1-0.4h0m0-0.3h0m0.1-0.4h0m0.1-0.3h0m0-0.3h0m0.1-0.3h0m0.1-0.3h0m0.1-0.2h0m0-0.3h0m0.1-0.2h0m0.1-0.2h0m0-0.2h0m0.1-0.2h0m0.1-0.1h0m0-0.2h0m0.1-0.1h0m0.1-0.2h0m0.5-2h0m0.5 0h0m0.5 0h0m0.5 0h0m0.6 0h0m0.5 0h0m0.5 0h0m0.5 0h0m0.5 0h0m0.5 0h0m0.6 0h0m0.5 0h0m0.5 0h0m0.5 0h0m0.5 0h0m0.5 0h0m0.5 0h0m0.6 0h0m0.5 0h0m0.5 0h0m0.5 0h0m0.5 1h0m0.5 1.1h0m0.6 1.2h0m0.5 1.1h0m0.5 1.2h0m0.5 1.1h0m0.3 7.6h0m0.1 35.3h0m0.1 33.1h0m0 51.9h0m0.1 34.5h0m0.1 55.8h0m0.1 19.8h0m0.1 29.8h0m0 9h0m0.1 15.3h0m0.1 4.1h0m0.2 3.8h0m0.1 3.5h0m0.1 3.3h0m0.1 3h0m0.1 2.9h0m0.2 2.6h0m0.1 2.5h0m0.1 2.3h0m0.1 2.1h0m0.1 2h0m0.2 1.8h0m0.1 1.8h0m0.1 1.6h0m0.1 1.5h0m0.1 1.4h0m0.2 1.2h0m0.1 1.3h0m0.1 1.1h0m0.1 1h0m0.1 1h0m0.2 0.9h0m0.1 0.8h0m0.1 0.8h0m0.1 0.8h0m0.1 0.6h0m0.2 0.7h0m0.1 0.6h0m0.1 0.5h0m0.1 0.5h0m0.1 0.5h0m0.2 0.5h0m0.1 0.4h0m0.1 0.4h0m0.1 0.3h0m0.1 0.3h0m0.2 0.4h0m0.1 0.2h0m0.1 0.3h0m0.1 0.3h0m0.1 0.2h0m0.2 0.2h0m0.1 0.2h0m0.1 0.2h0m0.1 0.2h0m0.1 0.1h0m0.2 0.2h0m0.1 0.1h0m0.1 0.2h0m0.1 0.1h0m0.1 0.1h0m0.8 1h0m0.8 1.1h0m0.8-0.9h0m0.8 0.2h0m0.8 0.7h0m0.8-1.2h0m0.8 1h0m0.8-0.3h0m0.8-0.5h0m0.8 1.1h0m0.8-1.1h0m0.8 0.5h0m0.8-0.1h0m0.1-8.1h0m0.1-17.7h0m0.1-17.1h0m0.1-32.6h0m0.1-37.9h0m0.1-49.5h0m0.1-41.6h0m0.1-32.4h0m0.1-45.2h0m0.1-4.8h0m0-4.6h0m0.1-4.3h0m0.1-4h0m0.1-3.7h0m0-3.5h0m0.1-3.3h0m0.1-3h0m0-2.9h0m0.1-2.7h0m0.1-2.5h0m0-2.3h0m0.1-2.2h0m0.1-2h0m0.1-2h0m0-1.7h0m0.1-1.7h0m0.1-1.6h0m0-1.5h0m0.1-1.3h0m0.1-1.3h0m0-1.2h0m0.1-1.2h0m0.1-1h0m0.1-1h0m0-0.9h0m0.1-0.9h0m0.1-0.8h0m0-0.7h0m0.1-0.7h0m0.1-0.7h0m0-0.6h0m0.1-0.6h0m0.1-0.5h0m0.1-0.5h0m0-0.5h0m0.1-0.5h0m0.1-0.4h0m0-0.4h0m0.1-0.3h0m0.1-0.4h0m0-0.3h0m0.1-0.3h0m0.1-0.2h0m0.1-0.3h0m0-0.2h0m0.1-0.3h0m0.1-0.2h0m0-0.2h0m0.1-0.2h0m0.1-0.1h0m0-0.2h0m0.1-0.2h0m0.1-0.1h0m0.1-0.1h0m0.5-2h0m0.5 0h0m0.5 0h0m0.5 0h0m0.5 0h0m0.5 0h0m0.5 0h0m0.6 0h0m0.5 0h0m0.5 0h0m0.5 0h0m0.5 0h0m0.5 0h0m0.5 0h0m0.5 0h0m0.6 0h0m0.5 0h0m0.5 0h0m0.5 0h0m0.5 0h0m0.5 0h0m0.5 1h0m0.5 1.1h0m0.6 1.2h0m0.5 1.1h0m0.5 1.2h0m0.5 1.1h0m0.3 7.6h0m0.1 27.3h0m0.1 60.7h0m0 33.1h0m0.1 52.6h0m0.1 39.6h0m0.1 7.3h0m0.1 29.4h0m0.1 6.4h0m0.1 6h0m0.1 5.6h0m0.1 5.2h0m0.2 4.8h0m0.1 4.5h0m0.1 4.2h0m0.1 4h0m0.1 3.6h0m0.2 3.4h0m0.1 3.1h0m0.1 3h0m0.1 2.7h0m0.1 2.6h0m0.2 2.3h0m0.1 2.2h0m0.1 2.1h0m0.1 1.9h0m0.1 1.8h0m0.2 1.6h0m0.1 1.6h0m0.1 1.4h0m0.1 1.4h0m0.1 1.2h0m0.2 1.2h0m0.1 1.1h0m0.1 1h0m0.1 0.9h0m0.1 0.9h0m0.2 0.8h0m0.1 0.7h0m0.1 0.7h0m0.1 0.7h0m0.1 0.6h0m0.2 0.6h0m0.1 0.5h0m0.1 0.5h0m0.1 0.5h0m0.1 0.4h0m0.2 0.4h0m0.1 0.4h0m0.1 0.3h0m0.1 0.3h0m0.1 0.3h0m0.2 0.3h0m0.1 0.3h0m0.1 0.2h0m0.1 0.2h0m0.1 0.2h0m0.2 0.2h0m0.1 0.2h0m0.1 0.2h0m0.1 0.1h0m0.1 0.2h0m0.2 0.1h0m0.1 0.1h0m0.1 0.2h0m0.8 2.1h0m0.8-1.1h0m0.8 0.9h0m0.8-0.2h0m0.8-0.6h0m0.8 1.1h0m0.8-1.1h0m0.8 0.4h0m0.8 0.5h0m0.8-1.1h0m0.8 1.1h0m0.8-0.5h0m0.8-0.3h0m0.4 0.3h0m0.1-8.1h0m0.1-26h0m0.1-26.3h0m0.1-16.6h0m0.1-50.2h0m0.1-28h0m0.1-47.5h0m0.1-35.1h0m0.1-79.2h0m0.1-2.6h0m0-2.5h0m0.1-2.3h0m0.1-2.1h0m0.1-2h0m0-1.9h0m0.1-1.8h0m0.1-1.6h0m0-1.6h0m0.1-1.4h0m0.1-1.3h0m0-1.3h0m0.1-1.2h0m0.1-1.1h0m0.1-1h0m0-1h0m0.1-0.9h0m0.1-0.8h0m0-0.8h0m0.1-0.8h0m0.1-0.6h0m0-0.7h0m0.1-0.6h0m0.1-0.6h0m0.1-0.5h0m0-0.5h0m0.1-0.5h0m0.1-0.4h0m0-0.4h0m0.1-0.4h0m0.1-0.3h0m0-0.4h0m0.1-0.3h0m0.1-0.3h0m0.1-0.2h0m0-0.3h0m0.1-0.2h0m0.1-0.2h0m0-0.3h0m0.1-0.1h0m0.1-0.2h0m0-0.2h0m0.1-0.2h0m0.1-0.1h0m0.1-0.1h0m0.5-2.1h0m0.5 0h0m0.5 0h0m0.5 0h0m0.5 0h0m0.5 0h0m0.5 0h0m0.5 0h0m0.5 0h0m0.5 0h0m0.5 0h0m0.5 0h0m0.5 0h0m0.5 0h0m0.5 0h0m0.5 0h0m0.6 0h0m0.5 0h0m0.5 0h0m0.5 1.1h0m0.5 1.1h0m0.5 1.1h0m0.5 1.2h0m0.5 1.1h0m0.5 1.1h0m0.3 7.6h0m0.1 23.8h0m0.1 50.8h0m0 38h0m0.1 42.4h0m0.1 51.1h0m0.1 26.9h0m0.1 21h0m0 8.6h0m0 8.5h0m0.1 8.5h0m0 4.9h0m0.1 4.1h0m0.1 3.8h0m0.1 3.5h0m0.2 3.3h0m0.1 3h0m0.1 2.9h0m0.1 2.6h0m0.1 2.5h0m0.2 2.3h0m0.1 2.1h0m0.1 2h0m0.1 1.8h0m0.1 1.8h0m0.2 1.6h0m0.1 1.5h0m0.1 1.4h0m0.1 1.2h0m0.1 1.3h0m0.2 1.1h0m0.1 1h0m0.1 1h0m0.1 0.9h0m0.1 0.8h0m0.2 0.8h0m0.1 0.8h0m0.1 0.6h0m0.1 0.7h0m0.1 0.6h0m0.2 0.5h0m0.1 0.5h0m0.1 0.5h0m0.1 0.5h0m0.1 0.4h0m0.2 0.4h0m0.1 0.3h0m0.1 0.3h0m0.1 0.4h0m0.1 0.2h0m0.2 0.3h0m0.1 0.3h0m0.1 0.2h0m0.1 0.2h0m0.1 0.2h0m0.2 0.2h0m0.1 0.2h0m0.1 0.1h0m0.1 0.2h0m0.1 0.1h0m0.2 0.2h0m0.1 0.1h0m0.1 0.1h0m0.8 1h0m0.8 1.2h0m0.8-1h0m0.8 0.3h0m0.8 0.5h0m0.8-1.1h0m0.8 1.1h0m0.8-0.5h0m0.8-0.3h0m0.8 0.9h0m0.8-1.1h0m0.8 0.7h0m0.8 0.1h0m0.8-0.8h0m0.8 1.1h0m0.8-0.8h0m0.2 0.2h0m0.1-8.1h0m0.1-7.4h0m0.1-33.3h0m0.1-34.5h0m0.1-24.4h0m0.1-50.3h0m0.1-37.8h0m0.1-44.2h0m0.1-90.8h0m0.1-1.8h0m0-1.6h0m0.1-1.5h0m0.1-1.4h0m0.1-1.3h0m0-1.3h0m0.1-1.1h0m0.1-1.1h0m0-1h0m0.1-1h0m0.1-0.9h0m0-0.8h0m0.1-0.8h0m0.1-0.7h0m0.1-0.7h0m0-0.6h0m0.1-0.6h0m0.1-0.6h0m0-0.5h0m0.1-0.5h0m0.1-0.5h0m0-0.4h0m0.1-0.4h0m0.1-0.4h0m0.1-0.3h0m0-0.3h0m0.1-0.3h0m0.1-0.3h0m0-0.3h0m0.1-0.2h0m0.1-0.3h0m0-0.2h0m0.1-0.2h0m0.1-0.2h0m0.1-0.2h0m0-0.1h0m0.1-0.2h0m0.1-0.1h0m0-0.2h0m0.5-2h0m0.6 0h0m0.5 0h0m0.5 0h0m0.5 0h0m0.5 0h0m0.5 0h0m0.6 0h0m0.5 0h0m0.5 0h0m0.5 0h0m0.5 0h0m0.5 0h0m0.5 0h0m0.6 0h0m0.5 0h0m0.5 0h0m0.5 0h0m0.5 1h0m0.5 1.1h0m0.6 1.2h0m0.5 1.1h0m0.5 1.2h0m0.5 1.1h0m0.3 7.6h0m0.1 26.7h0m0.1 53h0m0 48.7h0m0.1 36.6h0m0.1 31.2h0m0.1 44.2h0m0.1 2h0m0 42.1h0m0.2 4.1h0m0.1 3.8h0m0.1 3.5h0m0.1 3.3h0m0.1 3h0m0.2 2.9h0m0.1 2.6h0m0.1 2.5h0m0.1 2.3h0m0.1 2.1h0m0.2 2h0m0.1 1.8h0m0.1 1.8h0m0.1 1.6h0m0.1 1.5h0m0.2 1.4h0m0.1 1.2h0m0.1 1.3h0m0.1 1.1h0m0.1 1h0m0.2 1h0m0.1 0.9h0m0.1 0.8h0m0.1 0.8h0m0.1 0.8h0m0.2 0.6h0m0.1 0.7h0m0.1 0.6h0m0.1 0.5h0m0.1 0.5h0m0.2 0.5h0m0.1 0.5h0m0.1 0.4h0m0.1 0.4h0m0.1 0.3h0m0.2 0.3h0m0.1 0.4h0m0.1 0.2h0m0.1 0.3h0m0.1 0.3h0m0.2 0.2h0m0.1 0.2h0m0.1 0.2h0m0.1 0.2h0m0.1 0.2h0m0.2 0.1h0m0.1 0.2h0m0.1 0.1h0m0.1 0.2h0m0.1 0.1h0m0.2 0.1h0m0.8 1.8h0m0.8 0h0m0.8-0.8h0m0.8 1.1h0m0.8-0.9h0m0.8 0.2h0m0.8 0.6h0m0.8-1.1h0m0.8 1.1h0m0.8-0.4h0m0.8-0.5h0m0.8 1.1h0m0.8-1.1h0m0.8 0.5h0m0.8 0.3h0m0.8-0.9h0m0.8 1.1h0m0.4-0.6h0m0.1-8.1h0m0.1-21.3h0m0.1-30.4h0m0.1-11.7h0m0.1-52.2h0m0.1-28h0m0.1-49h0m0.1-33.2h0m0.1-54.7h0m0-4.6h0m0-4.4h0m0-4.1h0m0.1-3.8h0m0-3.6h0m0-3.3h0m0-3.1h0m0-3h0m0-2.7h0m0.1-2.6h0m0-2.4h0m0-2.2h0m0-2.1h0m0-2h0m0-1.8h0m0-1.7h0m0.1-1.6h0m0-1.5h0m0-1.4h0m0-1.3h0m0-1.3h0m0-1.1h0m0-1.1h0m0.1-1h0m0-1h0m0-0.8h0m0-0.9h0m0-0.7h0m0-0.8h0m0.1-0.6h0m0-0.7h0m0-0.6h0m0-0.5h0m0-0.5h0m0-0.5h0m0-0.5h0m0.1-0.4h0m0-0.4h0m0-0.3h0m0-0.4h0m0-0.3h0m0-0.3h0m0-0.3h0m0.1-0.3h0m0-0.2h0m0-0.3h0m0-0.2h0m0-0.2h0m0-0.2h0m0.1-0.1h0m0-0.2h0m0-0.2h0m0-0.1h0m0-0.1h0m0.5-2h0m0.5 0h0m0.5 0h0m0.5 0h0m0.5 0h0m0.6 0h0m0.5 0h0m0.5 0h0m0.5 0h0m0.5 0h0m0.5 0h0m0.5 0h0m0.5 0h0m0.5 0h0m0.5 0h0m0.5 0h0m0.5 0h0m0.5 0h0m0.5 0h0m0.6 0h0m0.5 0h0m0.5 1h0m0.5 1.2h0m0.5 1.1h0m0.5 1.1h0m0.5 1.2h0m0.5 1.1h0m0.3 10.8h0m0.1 45.6h0m0.1 41.4h0m0 25.8h0m0.1 59.2h0m0.1 22.9h0m0.1 24.3h0m0.1 24h0m0 41.3h0m0.2 4.1h0m0.1 3.8h0m0.1 3.5h0m0.1 3.3h0m0.1 3h0m0.2 2.9h0m0.1 2.6h0m0.1 2.5h0m0.1 2.3h0m0.1 2.1h0m0.2 2h0m0.1 1.8h0m0.1 1.8h0m0.1 1.6h0m0.1 1.5h0m0.2 1.4h0m0.1 1.2h0m0.1 1.3h0m0.1 1.1h0m0.1 1h0m0.2 1h0m0.1 0.9h0m0.1 0.8h0m0.1 0.8h0m0.1 0.8h0m0.2 0.6h0m0.1 0.7h0m0.1 0.6h0m0.1 0.5h0m0.1 0.5h0m0.2 0.5h0m0.1 0.5h0m0.1 0.4h0m0.1 0.4h0m0.1 0.3h0m0.2 0.3h0m0.1 0.4h0m0.1 0.2h0m0.1 0.3h0m0.1 0.3h0m0.2 0.2h0m0.1 0.2h0m0.1 0.2h0m0.1 0.2h0m0.1 0.2h0m0.2 0.1h0m0.1 0.2h0m0.1 0.1h0m0.1 0.2h0m0.1 0.1h0m0.2 0.1h0m0.8 1.6h0m0.8-0.5h0m0.8 1.1h0m0.8-1.1h0m0.8 0.5h0m0.8 0.3h0m0.8-0.9h0m0.8 1.1h0m0.8-0.7h0m0.8-0.1h0m0.8 0.8h0m0.8-1.1h0m0.8 0.8h0m0.8-0.1h0m0.8-0.7h0m0.8 1.1h0m0.5-0.6h0m0.1-8.1h0m0.1-13.3h0m0.1-31.9h0m0.1-33.6h0m0.1-23h0m0.1-49.6h0m0.1-45.7h0m0.1-46h0m0.1-37.4h0m0-4.8h0m0.1-4.6h0m0-4.2h0m0-4h0m0-3.7h0m0.1-3.5h0m0-3.2h0m0-3.1h0m0.1-2.8h0m0-2.7h0m0-2.4h0m0.1-2.4h0m0-2.2h0m0-2h0m0-1.9h0m0.1-1.8h0m0-1.7h0m0-1.5h0m0.1-1.5h0m0-1.3h0m0-1.3h0m0.1-1.2h0m0-1.1h0m0-1.1h0m0-1h0m0.1-0.9h0m0-0.8h0m0-0.8h0m0.1-0.8h0m0-0.7h0m0-0.6h0m0.1-0.7h0m0-0.5h0m0-0.6h0m0-0.5h0m0.1-0.4h0m0-0.5h0m0-0.4h0m0.1-0.4h0m0-0.3h0m0-0.4h0m0.1-0.3h0m0-0.3h0m0-0.3h0m0-0.2h0m0.1-0.3h0m0-0.2h0m0-0.2h0m0.1-0.2h0m0-0.2h0m0-0.2h0m0.1-0.1h0m0-0.2h0m0-0.1h0m0-0.1h0m0.6-2h0m0.5 0h0m0.5 0h0m0.5 0h0m0.5 0h0m0.5 0h0m0.5 0h0m0.6 0h0m0.5 0h0m0.5 0.1h0m0.5 0.5h0m0.5 0.4h0m0.5 0.5h0m0.5 0.5h0m0.6 0.5h0m0.5 0.4h0m0.5 0.5h0m0.5 0.5h0m0.5 0.5h0m0.5 0.4h0m0.5 0.5h0m0.5 0.5h0m0.6 0.5h0m0.5 0.4h0m0.5 0.5h0m0.5 0.5h0m0.5 0.5h0m0.5 0.4h0m0.5 0.5h0m0.6 0.5h0m0.5 0.5h0m0.5 0.4h0m0.5 0.5h0m0.3 9.4h0m0.1 45.8h0m0.1 22.6h0m0 65.5h0m0.1 34.6h0m0.1 30h0m0.1 20.9h0m0.1 38.5h0m0 2h0m0.1 24.6h0m0.1 4.1h0m0.2 3.8h0m0.1 3.5h0m0.1 3.3h0m0.1 3h0m0.1 2.9h0m0.2 2.6h0m0.1 2.5h0m0.1 2.3h0m0.1 2.1h0m0.1 2h0m0.2 1.8h0m0.1 1.8h0m0.1 1.6h0m0.1 1.5h0m0.1 1.4h0m0.2 1.2h0m0.1 1.3h0m0.1 1.1h0m0.1 1h0m0.1 1h0m0.2 0.9h0m0.1 0.8h0m0.1 0.8h0m0.1 0.8h0m0.1 0.6h0m0.2 0.7h0m0.1 0.6h0m0.1 0.5h0m0.1 0.5h0m0.1 0.5h0m0.2 0.5h0m0.1 0.4h0m0.1 0.4h0m0.1 0.3h0m0.1 0.3h0m0.2 0.4h0m0.1 0.2h0m0.1 0.3h0m0.1 0.3h0m0.1 0.2h0m0.2 0.2h0m0.1 0.2h0m0.1 0.2h0m0.1 0.2h0m0.1 0.1h0m0.2 0.2h0m0.1 0.1h0m0.1 0.2h0m0.1 0.1h0m0.1 0.1h0m0.8 1.3h0m0.8 0.1h0m0.8 0.7h0m0.8-1.2h0m0.8 1h0m0.8-0.3h0m0.8-0.5h0m0.8 1.1h0m0.8-1.1h0m0.8 0.5h0m0.8 0.3h0m0.8-1h0m0.8 1.2h0m0.8-0.7h0m0.8-0.1h0m0.8 0.8h0m0.8-1.1h0m0.8 0.8h0m0.2-0.3h0m0.1-8.1h0m0.1-17.2h0m0.1-23.7h0m0.1-28.5h0m0.1-33.8h0m0.1-30.9h0m0-7.3h0m0-7.4h0m0.1-7.3h0m0-7.3h0m0-7.3h0m0-7.3h0m0-7.3h0m0.1-7.4h0m0-7.3h0m0-7.3h0m0-7.3h0m0-7.3h0m0.1-7.3h0m0-7.4h0m0-7.3h0m0-7.3h0m0-7.3h0m0.1-7.3h0m0-7.3h0m0-3.3h0m0.1-4.7h0m0-4.4h0m0.1-4.2h0m0.1-3.8h0m0-3.6h0m0.1-3.4h0m0.1-3.2h0m0.1-2.9h0m0-2.8h0m0.1-2.6h0m0.1-2.4h0m0-2.3h0m0.1-2.1h0m0.1-2h0m0-1.9h0m0.1-1.7h0m0.1-1.6h0m0.1-1.5h0m0-1.5h0m0.1-1.3h0m0.1-1.2h0m0-1.2h0m0.1-1.1h0m0.1-1h0m0-0.9h0m0.1-0.9h0m0.1-0.9h0m0.1-0.8h0m0-0.7h0m0.1-0.7h0m0.1-0.6h0m0-0.6h0m0.1-0.6h0m0.1-0.5h0m0-0.5h0m0.1-0.4h0m0.1-0.5h0m0.1-0.4h0m0-0.3h0m0.1-0.4h0m0.1-0.3h0m0-0.3h0m0.1-0.3h0m0.1-0.3h0m0-0.2h0m0.1-0.3h0m0.1-0.2h0m0.1-0.2h0m0-0.2h0m0.1-0.2h0m0.1-0.1h0m0-0.2h0m0.1-0.1h0m0.1-0.2h0m0.5-2h0m0.5 0h0m0.5 0h0m0.5 0h0m0.5 0h0m0.6 0h0m0.5 0h0m0.5 0h0m0.5 0h0m0.5 0h0m0.5 0h0m0.5 0h0m0.5 0h0m0.6 0h0m0.5 0h0m0.5 0h0m0.5 0h0m0.5 0h0m0.5 0h0m0.5 0h0m0.5 0h0m0.6 0h0m0.5 0h0m0.5 0h0m0.5 0h0m0.5 0h0m0.5 0h0m0.5 1h0m0.5 1.2h0m0.6 1.1h0m0.5 1.1h0m0.5 1.2h0m0.5 1.1h0m0.3 7.6h0m0.1 22.4h0m0.1 65.1h0m0 47.5h0m0.1 17.7h0m0.1 47.7h0m0.1 31.5h0m0.1 28.5h0m0 7.6h0m0.1 16.5h0m0.1 4.1h0m0.2 3.8h0m0.1 3.5h0m0.1 3.3h0m0.1 3h0m0.1 2.9h0m0.2 2.6h0m0.1 2.5h0m0.1 2.3h0m0.1 2.1h0m0.1 2h0m0.2 1.8h0m0.1 1.8h0m0.1 1.6h0m0.1 1.5h0m0.1 1.4h0m0.2 1.2h0m0.1 1.3h0m0.1 1.1h0m0.1 1h0m0.1 1h0m0.2 0.9h0m0.1 0.8h0m0.1 0.8h0m0.1 0.8h0m0.1 0.6h0m0.2 0.7h0m0.1 0.6h0m0.1 0.5h0m0.1 0.5h0m0.1 0.5h0m0.2 0.5h0m0.1 0.4h0m0.1 0.4h0m0.1 0.3h0m0.1 0.3h0m0.2 0.4h0m0.1 0.2h0m0.1 0.3h0m0.1 0.3h0m0.1 0.2h0m0.2 0.2h0m0.1 0.2h0m0.1 0.2h0m0.1 0.2h0m0.1 0.1h0m0.2 0.2h0m0.1 0.1h0m0.1 0.2h0m0.1 0.1h0m0.1 0.1h0m0.8 2.1h0m0.8-1.1h0m0.8 0.8h0m0.8 0h0m0.8-0.8h0m0.8 1.1h0m0.8-0.9h0m0.8 0.2h0m0.8 0.6h0m0.8-1.1h0m0.8 1.1h0m0.8-0.5h0m0.8-0.4h0m0.8 1.1h0m0.8-1.1h0m0.8 0.6h0m0.8 0.2h0m0.8-0.9h0m0.4 0.5h0m0.1-8.1h0m0.1-22.9h0m0.1-20.9h0m0.1-27.8h0m0.1-29.1h0m0.1-41.6h0m0-4h0m0-4.1h0m0.1-4.1h0m0-4h0m0-4.1h0m0-4h0m0-4.1h0m0.1-4.1h0m0-4h0m0-4.1h0m0-4.1h0m0-4h0m0.1-4.1h0m0-4.1h0m0-4h0m0-4.1h0m0-4.1h0m0.1-4h0m0-4.1h0m0-4.1h0m0-4h0m0-4.1h0m0.1-4h0m0-4.1h0m0-4.1h0m0-4h0m0-4.1h0m0.1-4.1h0m0-4h0m0-4.1h0m0-4.1h0m0-4h0m0.1-4.1h0m0-4.1h0m0-4h0m0-4.1h0m0 0h0m0.1-3.9h0m0.1-3.7h0m0-3.4h0m0.1-3.3h0m0.1-3h0m0.1-2.8h0m0-2.6h0m0.1-2.5h0m0.1-2.3h0m0-2.2h0m0.1-2h0m0.1-1.9h0m0-1.7h0m0.1-1.7h0m0.1-1.5h0m0.1-1.5h0m0-1.3h0m0.1-1.3h0m0.1-1.2h0m0-1.1h0m0.1-1h0m0.1-1h0m0-0.9h0m0.1-0.9h0m0.1-0.8h0m0.1-0.7h0m0-0.7h0m0.1-0.6h0m0.1-0.6h0m0-0.6h0m0.1-0.6h0m0.1-0.4h0m0-0.5h0m0.1-0.4h0m0.1-0.5h0m0.1-0.3h0m0-0.4h0m0.1-0.3h0m0.1-0.3h0m0-0.3h0m0.1-0.3h0m0.1-0.3h0m0-0.2h0m0.1-0.2h0m0.1-0.2h0m0.1-0.2h0m0-0.2h0m0.1-0.2h0m0.1-0.1h0m0-0.2h0m0.1-0.1h0m0.1-0.2h0m0.5-1.9h0m0.5 0h0m0.5 0h0m0.5 0h0m0.5 0h0m0.5 0h0m0.5 0h0m0.5 0h0m0.5 0h0m0.5 0h0m0.5 0h0m0.5 0h0m0.5 0h0m0.5 0h0m0.5 0h0m0.5 0h0m0.5 0h0m0.5 0h0m0.5 1.1h0m0.5 1.2h0m0.5 1.1h0m0.5 1.1h0m0.5 1.1h0m0.5 1.1h0m0.3 7.6h0m0.1 26.3h0m0.1 61.9h0m0 30.1h0m0.1 35.3h0m0.1 44.4h0m0.1 24.6h0m0.1 41h0m0 8.3h0m0.1 12.6h0m0.1 4.1h0m0.2 3.8h0m0.1 3.5h0m0.1 3.3h0m0.1 3h0m0.1 2.9h0m0.2 2.6h0m0.1 2.5h0m0.1 2.3h0m0.1 2.1h0m0.1 2h0m0.2 1.8h0m0.1 1.8h0m0.1 1.6h0m0.1 1.5h0m0.1 1.4h0m0.2 1.2h0m0.1 1.3h0m0.1 1.1h0m0.1 1h0m0.1 1h0m0.2 0.9h0m0.1 0.8h0m0.1 0.8h0m0.1 0.8h0m0.1 0.6h0m0.2 0.7h0m0.1 0.6h0m0.1 0.5h0m0.1 0.5h0m0.1 0.5h0m0.2 0.5h0m0.1 0.4h0m0.1 0.4h0m0.1 0.3h0m0.1 0.3h0m0.2 0.4h0m0.1 0.2h0m0.1 0.3h0m0.1 0.3h0m0.1 0.2h0m0.2 0.2h0m0.1 0.2h0m0.1 0.2h0m0.1 0.2h0m0.1 0.1h0m0.2 0.2h0m0.1 0.1h0m0.1 0.2h0m0.1 0.1h0m0.1 0.1h0m0.8 1.1h0m0.8 1.1h0m0.8-1.1h0m0.8 0.5h0m0.8 0.3h0m0.8-0.9h0m0.8 1.1h0m0.8-0.7h0m0.8-0.1h0m0.8 0.8h0m0.8-1.1h0m0.8 0.8h0m0.8-0.1h0m0.8-0.7h0m0.6 0.5h0m0.1-8.1h0m0.1-9.1h0m0.1-42.6h0m0.1-17.3h0m0.1-39.8h0m0.1-47.7h0m0.1-41.7h0m0.1-47.2h0m0.1-18.8h0m0-6h0m0.1-5.7h0m0-5.3h0m0.1-4.9h0m0-4.6h0m0-4.3h0m0.1-4.1h0m0-3.8h0m0.1-3.5h0m0-3.3h0m0-3.1h0m0.1-2.9h0m0-2.7h0m0.1-2.5h0m0-2.4h0m0-2.2h0m0.1-2.1h0m0-1.9h0m0.1-1.9h0m0-1.7h0m0-1.5h0m0.1-1.5h0m0-1.4h0m0.1-1.3h0m0-1.2h0m0-1.2h0m0.1-1h0m0-1h0m0.1-1h0m0-0.8h0m0-0.9h0m0.1-0.7h0m0-0.7h0m0.1-0.7h0m0-0.6h0m0-0.6h0m0.1-0.6h0m0-0.5h0m0.1-0.5h0m0-0.4h0m0-0.4h0m0.1-0.4h0m0-0.4h0m0.1-0.3h0m0-0.3h0m0-0.3h0m0.1-0.3h0m0-0.3h0m0.1-0.2h0m0-0.3h0m0-0.2h0m0.1-0.2h0m0-0.2h0m0.1-0.1h0m0-0.2h0m0-0.2h0m0.1-0.1h0m0-0.1h0m0.5-2h0m0.5 0h0m0.5 0h0m0.6 0h0m0.5 0h0m0.5 0h0m0.5 0h0m0.5 0h0m0.5 0h0m0.5 0h0m0.5 0.5h0m0.5 0.4h0m0.5 0.5h0m0.5 0.4h0m0.5 0.4h0m0.6 0.5h0m0.5 0.4h0m0.5 0.5h0m0.5 0.4h0m0.5 0.4h0m0.5 0.5h0m0.5 0.4h0m0.5 0.5h0m0.5 0.4h0m0.5 0.4h0m0.5 0.5h0m0.5 0.4h0m0.6 0.5h0m0.5 0.4h0m0.5 0.4h0m0.5 0.5h0m0.5 0.4h0m0.5 0.5h0m0.3 12.2h0m0.1 35.6h0m0.1 43.9h0m0 38.8h0m0.1 46.8h0m0.1 41.2h0m0.1 25.7h0m0.1 30.6h0m0 21.9h0m0.2 4.1h0m0.1 3.8h0m0.1 3.5h0m0.1 3.3h0m0.1 3h0m0.2 2.9h0m0.1 2.6h0m0.1 2.5h0m0.1 2.3h0m0.1 2.1h0m0.2 2h0m0.1 1.8h0m0.1 1.8h0m0.1 1.6h0m0.1 1.5h0m0.2 1.4h0m0.1 1.2h0m0.1 1.3h0m0.1 1.1h0m0.1 1h0m0.2 1h0m0.1 0.9h0m0.1 0.8h0m0.1 0.8h0m0.1 0.8h0m0.2 0.6h0m0.1 0.7h0m0.1 0.6h0m0.1 0.5h0m0.1 0.5h0m0.2 0.5h0m0.1 0.5h0m0.1 0.4h0m0.1 0.4h0m0.1 0.3h0m0.2 0.3h0m0.1 0.4h0m0.1 0.2h0m0.1 0.3h0m0.1 0.3h0m0.2 0.2h0m0.1 0.2h0m0.1 0.2h0m0.1 0.2h0m0.1 0.2h0m0.2 0.1h0m0.1 0.2h0m0.1 0.1h0m0.1 0.2h0m0.1 0.1h0m0.2 0.1h0m0.8 1.9h0m0.8-0.9h0m0.8 1.1h0m0.8-0.7h0m0.8-0.1h0m0.8 0.8h0m0.8-1.1h0m0.8 0.8h0m0.8-0.1h0m0.8-0.7h0m0.8 1.2h0m0.8-1h0m0.8 0.3h0m0.8 0.5h0m0.8-1.1h0m0.5 0.6h0m0.1-8.1h0m0.1-26.2h0m0.1-27.8h0m0.1-21.7h0m0.1-34h0m0.1-33.3h0m0.1-39.7h0m0.1-16.5h0m0-8.1h0m0-8.1h0m0.1-8.2h0m0-8.1h0m0-8.1h0m0-8.1h0m0-8.2h0m0.1-8.1h0m0-8.1h0m0-4.1h0m0.1-4.7h0m0-4.4h0m0.1-4.2h0m0.1-3.8h0m0-3.6h0m0.1-3.4h0m0.1-3.2h0m0.1-2.9h0m0-2.8h0m0.1-2.6h0m0.1-2.4h0m0-2.3h0m0.1-2.1h0m0.1-2h0m0-1.9h0m0.1-1.7h0m0.1-1.6h0m0.1-1.5h0m0-1.5h0m0.1-1.3h0m0.1-1.2h0m0-1.2h0m0.1-1.1h0m0.1-1h0m0-0.9h0m0.1-0.9h0m0.1-0.9h0m0.1-0.8h0m0-0.7h0m0.1-0.7h0m0.1-0.6h0m0-0.6h0m0.1-0.6h0m0.1-0.5h0m0-0.5h0m0.1-0.4h0m0.1-0.5h0m0.1-0.4h0m0-0.3h0m0.1-0.4h0m0.1-0.3h0m0-0.3h0m0.1-0.3h0m0.1-0.3h0m0-0.2h0m0.1-0.3h0m0.1-0.2h0m0.1-0.2h0m0-0.2h0m0.1-0.2h0m0.1-0.1h0m0-0.2h0m0.1-0.1h0m0.1-0.2h0m0.5-2h0m0.5 0h0m0.5 0h0m0.5 0h0m0.5 0h0m0.5 0h0m0.5 0h0m0.5 0h0m0.6 0h0m0.5 0h0m0.5 0h0m0.5 0h0m0.5 0h0m0.5 0h0m0.5 0h0m0.5 0h0m0.5 0h0m0.5 0h0m0.5 0h0m0.5 0h0m0.5 0h0m0.6 0h0m0.5 1.1h0m0.5 1.1h0m0.5 1.1h0m0.5 1.2h0m0.5 1.1h0m0.5 1.1h0m0.3 7.6h0m0.1 27.6h0m0.1 42.7h0m0 57h0m0.1 30.3h0m0.1 36.9h0m0.1 30.4h0m0.1 25.1h0m0 13.9h0m0.1 20.6h0m0.1 4.1h0m0.2 3.8h0m0.1 3.5h0m0.1 3.3h0m0.1 3h0m0.1 2.9h0m0.2 2.6h0m0.1 2.5h0m0.1 2.3h0m0.1 2.1h0m0.1 2h0m0.2 1.8h0m0.1 1.8h0m0.1 1.6h0m0.1 1.5h0m0.1 1.4h0m0.2 1.2h0m0.1 1.3h0m0.1 1.1h0m0.1 1h0m0.1 1h0m0.2 0.9h0m0.1 0.8h0m0.1 0.8h0m0.1 0.8h0m0.1 0.6h0m0.2 0.7h0m0.1 0.6h0m0.1 0.5h0m0.1 0.5h0m0.1 0.5h0m0.2 0.5h0m0.1 0.4h0m0.1 0.4h0m0.1 0.3h0m0.1 0.3h0m0.2 0.4h0m0.1 0.2h0m0.1 0.3h0m0.1 0.3h0m0.1 0.2h0m0.2 0.2h0m0.1 0.2h0m0.1 0.2h0m0.1 0.2h0m0.1 0.1h0m0.2 0.2h0m0.1 0.1h0m0.1 0.2h0m0.1 0.1h0m0.1 0.1h0m0.8 1.1h0m0.8 1.1h0m0.8-1.1h0m0.8 0.5h0m0.8 0.3h0m0.8-0.9h0m0.8 1.1h0m0.4-0.6h0m0.1-8.1h0m0.1-13.5h0m0.1-35.4h0m0.1-19.8h0m0.1-40.7h0m0.1-42.4h0m0.1-45.3h0m0-9h0m0-8.9h0m0.1-9h0m0-8.9h0m0-8.9h0m0-9h0m0-8.9h0m0.1-9h0m0-8.9h0m0-9h0m0-8.9h0m0-8.9h0m0.1-9h0m0-8.9h0m0-6.9h0m0.1-1.4h0m0-1.2h0m0.1-1.1h0m0.1-1.1h0m0-1h0m0.1-0.9h0m0.1-0.9h0m0.1-0.8h0m0-0.8h0m0.1-0.7h0m0.1-0.7h0m0-0.6h0m0.1-0.6h0m0.1-0.6h0m0-0.5h0m0.1-0.5h0m0.1-0.4h0m0.1-0.4h0m0-0.4h0m0.1-0.4h0m0.1-0.4h0m0-0.3h0m0.1-0.3h0m0.1-0.3h0m0-0.2h0m0.1-0.3h0m0.1-0.2h0m0.1-0.2h0m0-0.2h0m0.1-0.2h0m0.1-0.2h0m0-0.2h0m0.1-0.1h0m0.1-0.2h0m0-0.1h0m0.6-2h0m0.5 0h0m0.5 0h0m0.5 0h0m0.5 0h0m0.5 0h0m0.5 0h0m0.5 0h0m0.5 0h0m0.5 0h0m0.5 0h0m0.5 0h0m0.5 0h0m0.5 0h0m0.5 0h0m0.5 0h0m0.5 0h0m0.5 0h0m0.5 0h0m0.5 0h0m0.5 0h0m0.5 0h0m0.5 0h0m0.5 0h0m0.5 0h0m0.5 1.1h0m0.5 1.2h0m0.5 1.1h0m0.5 1.1h0m0.5 1.1h0m0.5 1.1h0m0.3 7.6h0m0.1 23.6h0m0.1 52h0m0 46.4h0m0.1 54.5h0m0.1 23.5h0m0.1 35.7h0m0.1 14.1h0m0 26.2h0m0.2 4.6h0m0.1 4.4h0m0.1 4h0m0.1 3.7h0m0.1 3.5h0m0.2 3.3h0m0.1 3h0m0.1 2.8h0m0.1 2.7h0m0.1 2.4h0m0.2 2.3h0m0.1 2.1h0m0.1 2h0m0.1 1.8h0m0.1 1.7h0m0.2 1.6h0m0.1 1.5h0m0.1 1.4h0m0.1 1.3h0m0.1 1.2h0m0.2 1.1h0m0.1 1h0m0.1 1h0m0.1 0.9h0m0.1 0.8h0m0.2 0.8h0m0.1 0.7h0m0.1 0.7h0m0.1 0.6h0m0.1 0.6h0m0.2 0.6h0m0.1 0.5h0m0.1 0.5h0m0.1 0.4h0m0.1 0.4h0m0.2 0.4h0m0.1 0.3h0m0.1 0.4h0m0.1 0.3h0m0.1 0.3h0m0.2 0.2h0m0.1 0.3h0m0.1 0.2h0m0.1 0.2h0m0.1 0.2h0m0.2 0.2h0m0.1 0.2h0m0.1 0.2h0m0.1 0.1h0m0.1 0.2h0m0.2 0.1h0m0.1 0.1h0m0.1 0.1h0m0.8 2.2h0m0.8-1.2h0m0.8 0.7h0m0.8 0.1h0m0.8-0.8h0m0.8 1.1h0m0.8-0.8h0m0.8 0.1h0m0.8 0.7h0m0.8-1.1h0m0.8 0.9h0m0.8-0.3h0m0.8-0.5h0m0.8 1.1h0m0.8-1.1h0m0.1 0.4h0m0.1-8.1h0m0.1-22.7h0m0.1-25h0m0.1-31.5h0m0.1-27.4h0m0.1-42.6h0m0.1-58.1h0m0-8.1h0m0-8.2h0m0.1-8.1h0m0-8.1h0m0-8.1h0m0-8.2h0m0-8.1h0m0.1-8.1h0m0-8.2h0m0-8.1h0m0-8.1h0m0-8.2h0m0.1-2.8h0m0-2.7h0m0.1-2.5h0m0.1-2.4h0m0-2.2h0m0.1-2.1h0m0.1-1.9h0m0-1.8h0m0.1-1.7h0m0.1-1.6h0m0.1-1.5h0m0-1.4h0m0.1-1.3h0m0.1-1.2h0m0-1.1h0m0.1-1.1h0m0.1-1h0m0-0.9h0m0.1-0.9h0m0.1-0.8h0m0.1-0.7h0m0-0.7h0m0.1-0.7h0m0.1-0.6h0m0-0.6h0m0.1-0.6h0m0.1-0.5h0m0-0.4h0m0.1-0.5h0m0.1-0.4h0m0.1-0.4h0m0-0.4h0m0.1-0.3h0m0.1-0.3h0m0-0.3h0m0.1-0.3h0m0.1-0.3h0m0-0.2h0m0.1-0.2h0m0.1-0.3h0m0.1-0.2h0m0-0.1h0m0.1-0.2h0m0.1-0.2h0m0-0.1h0m0.1-0.2h0m0.1-0.1h0m0.5-2h0m0.5 0h0m0.5 0h0m0.5 0h0m0.5 0h0m0.5 0h0m0.6 0h0m0.5 0h0m0.5 0h0m0.5 0h0m0.5 0h0m0.5 0h0m0.5 0h0m0.5 0h0m0.5 0h0m0.5 0h0m0.6 0h0m0.5 0h0m0.5 0h0m0.5 0h0m0.5 0h0m0.5 0h0m0.5 0h0m0.5 0h0m0.5 0h0m0.5 1h0m0.6 1.2h0m0.5 1.1h0m0.5 1.2h0m0.5 1.1h0m0.5 1.1h0m0.3 7.6h0m0.1 38.2h0m0.1 32.7h0m0 44h0m0.1 45.1h0m0.1 24.9h0m0 8.6h0m0.1 8.5h0m0 8.5h0m0 8.6h0m0 8.5h0m0.1 8.5h0m0 8.6h0m0 8.5h0m0.1 8.5h0m0 8.6h0m0 8.5h0m0.1 5.7h0m0.1 4.1h0m0.1 3.8h0m0.1 3.5h0m0.1 3.3h0m0.2 3h0m0.1 2.9h0m0.1 2.6h0m0.1 2.5h0m0.1 2.3h0m0.2 2.1h0m0.1 2h0m0.1 1.8h0m0.1 1.8h0m0.1 1.6h0m0.2 1.5h0m0.1 1.4h0m0.1 1.2h0m0.1 1.3h0m0.1 1.1h0m0.2 1h0m0.1 1h0m0.1 0.9h0m0.1 0.8h0m0.1 0.8h0m0.2 0.8h0m0.1 0.6h0m0.1 0.7h0m0.1 0.6h0m0.1 0.5h0m0.2 0.5h0m0.1 0.5h0m0.1 0.5h0m0.1 0.4h0m0.1 0.4h0m0.2 0.3h0m0.1 0.3h0m0.1 0.4h0m0.1 0.2h0m0.1 0.3h0m0.2 0.3h0m0.1 0.2h0m0.1 0.2h0m0.1 0.2h0m0.1 0.2h0m0.2 0.2h0m0.1 0.1h0m0.1 0.2h0m0.1 0.1h0m0.1 0.2h0m0.2 0.1h0m0.1 0.1h0m0.8 1.7h0m0.8 0.2h0m0.8-0.9h0m0.8 1.1h0m0.8-0.8h0m0.8 0h0m0.8 0.8h0m0.8-1.1h0m0.8 0.9h0m0.8-0.2h0m0.8-0.6h0m0.8 1.1h0m0.8-1.1h0m0.8 0.4h0m0 0h0m0.1-8.1h0m0.1-9.5h0m0.1-42h0m0.1-30.5h0m0.1-27.3h0m0.1-40.9h0m0.1-45.3h0m0.1-44.9h0m0.1-36h0m0.1-4.7h0m0-4.4h0m0.1-4.2h0m0.1-3.8h0m0-3.6h0m0.1-3.4h0m0.1-3.2h0m0.1-2.9h0m0-2.8h0m0.1-2.6h0m0.1-2.4h0m0-2.3h0m0.1-2.1h0m0.1-2h0m0-1.9h0m0.1-1.7h0m0.1-1.6h0m0.1-1.5h0m0-1.5h0m0.1-1.3h0m0.1-1.2h0m0-1.2h0m0.1-1.1h0m0.1-1h0m0-0.9h0m0.1-0.9h0m0.1-0.9h0m0.1-0.8h0m0-0.7h0m0.1-0.7h0m0.1-0.6h0m0-0.6h0m0.1-0.6h0m0.1-0.5h0m0-0.5h0m0.1-0.4h0m0.1-0.5h0m0.1-0.4h0m0-0.3h0m0.1-0.4h0m0.1-0.3h0m0-0.3h0m0.1-0.3h0m0.1-0.3h0m0-0.2h0m0.1-0.3h0m0.1-0.2h0m0.1-0.2h0m0-0.2h0m0.1-0.2h0m0.1-0.1h0m0-0.2h0m0.1-0.1h0m0.1-0.2h0m0.5-2h0m0.5 0h0m0.5 0h0m0.5 0h0m0.5 0h0m0.5 0h0m0.5 0h0m0.5 0h0m0.5 0h0m0.5 0h0m0.5 0h0m0.5 0h0m0.5 0h0m0.5 0h0m0.5 0h0m0.5 0h0m0.5 0h0m0.5 0h0m0.5 0h0m0.5 0h0m0.5 0h0m0.5 0h0m0.5 0h0m0.5 0h0m0.5 0h0m0.5 0h0m0.5 1.1h0m0.5 1.2h0m0.5 1.1h0m0.5 1.1h0m0.5 1.1h0m0.5 1.1h0m0.3 7.6h0m0.1 42.5h0m0.1 29.9h0m0 49.6h0m0.1 38.6h0m0.1 42.5h0m0.1 34.7h0m0 8.5h0m0 8.5h0m0.1 8.6h0m0 8.5h0m0 8.5h0m0.1 4.1h0m0.1 4.1h0m0.1 3.8h0m0.1 3.5h0m0.1 3.3h0m0.2 3h0m0.1 2.9h0m0.1 2.6h0m0.1 2.5h0m0.1 2.3h0m0.2 2.1h0m0.1 2h0m0.1 1.8h0m0.1 1.8h0m0.1 1.6h0m0.2 1.5h0m0.1 1.4h0m0.1 1.2h0m0.1 1.3h0m0.1 1.1h0m0.2 1h0m0.1 1h0m0.1 0.9h0m0.1 0.8h0m0.1 0.8h0m0.2 0.8h0m0.1 0.6h0m0.1 0.7h0m0.1 0.6h0m0.1 0.5h0m0.2 0.5h0m0.1 0.5h0m0.1 0.5h0m0.1 0.4h0m0.1 0.4h0m0.2 0.3h0m0.1 0.3h0m0.1 0.4h0m0.1 0.2h0m0.1 0.3h0m0.2 0.3h0m0.1 0.2h0m0.1 0.2h0m0.1 0.2h0m0.1 0.2h0m0.2 0.2h0m0.1 0.1h0m0.1 0.2h0m0.1 0.1h0m0.1 0.2h0m0.2 0.1h0m0.1 0.1h0m0.8 1h0m0.8 0.7h0m0.8 0.1h0m0.8-0.8h0m0.8 1.1h0m0.8-0.8h0m0.8 0h0m0.8 0.8h0m0.8-1.1h0m0.8 0.9h0m0.8-0.3h0m0.8-0.5h0m0.8 1.1h0m0.8-1.1h0m0.8 0.5h0m0.8 0.4h0m0.2-0.5h0m0.1-8.1h0m0.1-20.7h0m0.1-14.4h0m0.1-31.1h0m0.1-42.3h0m0.1-40.9h0m0.1-35.9h0m0.1-54.2h0m0.1-49.1h0m0-8.1h0m0-8.2h0m0.1-6.1h0m0-2.4h0m0.1-2.4h0m0.1-2.2h0m0-2h0m0.1-1.9h0m0.1-1.8h0m0-1.7h0m0.1-1.5h0m0.1-1.5h0m0.1-1.3h0m0-1.3h0m0.1-1.2h0m0.1-1.1h0m0-1.1h0m0.1-1h0m0.1-0.9h0m0-0.8h0m0.1-0.8h0m0.1-0.8h0m0.1-0.7h0m0-0.6h0m0.1-0.7h0m0.1-0.5h0m0-0.6h0m0.1-0.5h0m0.1-0.4h0m0-0.5h0m0.1-0.4h0m0.1-0.4h0m0.1-0.3h0m0-0.4h0m0.1-0.3h0m0.1-0.3h0m0-0.3h0m0.1-0.2h0m0.1-0.3h0m0-0.2h0m0.1-0.2h0m0.1-0.2h0m0.1-0.2h0m0-0.2h0m0.1-0.1h0m0.1-0.2h0m0-0.1h0m0.1-0.1h0m0.5-2h0m0.5 0h0m0.5 0h0m0.5 0h0m0.6 0h0m0.5 0h0m0.5 0h0m0.5 0h0m0.5 0h0m0.5 0h0m0.5 0h0m0.5 0h0m0.5 0h0m0.5 0h0m0.6 0h0m0.5 0h0m0.5 0h0m0.5 0h0m0.5 0h0m0.5 0h0m0.5 0h0m0.5 0h0m0.5 0h0m0.5 0h0m0.6 0h0m0.5 0h0m0.5 0h0m0.5 0h0m0.5 0h0m0.5 0h0m0.5 0h0m0.5 0h0m0.5 0h0m0.5 1h0m0.6 1.2h0m0.5 1.1h0m0.5 1.2h0m0.5 1.1h0m0.5 1.1h0m0.3 7.6h0m0.1 31.3h0m0.1 59.1h0m0 34.2h0m0.1 46.7h0m0.1 40.7h0m0.1 33.9h0m0 8.5h0m0 8.6h0m0.1 8.5h0m0 8.5h0m0 4.5h0m0.1 4.1h0m0.2 3.8h0m0.1 3.5h0m0.1 3.3h0m0.1 3h0m0.1 2.9h0m0.2 2.6h0m0.1 2.5h0m0.1 2.3h0m0.1 2.1h0m0.1 2h0m0.2 1.8h0m0.1 1.8h0m0.1 1.6h0m0.1 1.5h0m0.1 1.4h0m0.2 1.2h0m0.1 1.3h0m0.1 1.1h0m0.1 1h0m0.1 1h0m0.2 0.9h0m0.1 0.8h0m0.1 0.8h0m0.1 0.8h0m0.1 0.6h0m0.2 0.7h0m0.1 0.6h0m0.1 0.5h0m0.1 0.5h0m0.1 0.5h0m0.2 0.5h0m0.1 0.4h0m0.1 0.4h0m0.1 0.3h0m0.1 0.3h0m0.2 0.4h0m0.1 0.2h0m0.1 0.3h0m0.1 0.3h0m0.1 0.2h0m0.2 0.2h0m0.1 0.2h0m0.1 0.2h0m0.1 0.2h0m0.1 0.1h0m0.2 0.2h0m0.1 0.1h0m0.1 0.2h0m0.1 0.1h0m0.1 0.1h0m0.8 1h0m0.8 0.8h0m0.8-0.1h0m0.8-0.7h0m0.8 1.2h0m0.8-1h0m0.8 0.3h0m0.8 0.5h0m0.8-1.1h0m0.8 1.1h0m0.8-0.5h0m0.8-0.3h0m0.8 0.9h0m0.8-1.1h0m0.8 0.7h0m0.8-0.2h0m0.1-8.1h0m0.1-10h0m0.1-25.3h0m0.1-37.1h0m0.1-34.9h0m0.1-41.3h0m0.1-44.3h0m0.1-37.5h0m0.1-46h0m0-8.1h0m0-8.2h0m0.1-8.1h0m0-8.1h0m0 0h0m0.1-2.6h0m0-2.5h0m0.1-2.3h0m0.1-2.1h0m0-2h0m0.1-1.9h0m0.1-1.8h0m0.1-1.6h0m0-1.6h0m0.1-1.4h0m0.1-1.3h0m0-1.3h0m0.1-1.2h0m0.1-1.1h0m0-1h0m0.1-1h0m0.1-0.9h0m0.1-0.8h0m0-0.8h0m0.1-0.8h0m0.1-0.6h0m0-0.7h0m0.1-0.6h0m0.1-0.6h0m0-0.5h0m0.1-0.5h0m0.1-0.5h0m0.1-0.4h0m0-0.4h0m0.1-0.4h0m0.1-0.3h0m0-0.4h0m0.1-0.3h0m0.1-0.3h0m0-0.2h0m0.1-0.3h0m0.1-0.2h0m0.1-0.2h0m0-0.3h0m0.1-0.1h0m0.1-0.2h0m0-0.2h0m0.1-0.2h0m0.1-0.1h0m0-0.1h0m0.6-2.1h0m0.5 0h0m0.5 0h0m0.5 0h0m0.5 0h0m0.5 0h0m0.5 0h0m0.5 0h0m0.5 0h0m0.5 0h0m0.5 0h0m0.5 0h0m0.5 0h0m0.5 0h0m0.5 0h0m0.5 0h0m0.5 0h0m0.5 0h0m0.5 0h0m0.5 0h0m0.5 0h0m0.5 0h0m0.5 0h0m0.5 0h0m0.5 0h0m0.5 0h0m0.5 0h0m0.5 0h0m0.5 0h0m0.5 0h0m0.5 1.1h0m0.5 1.2h0m0.5 1.1h0m0.5 1.1h0m0.5 1.1h0m0.5 1.1h0m0.3 7.6h0m0.1 24.7h0m0.1 66.7h0m0 34.8h0m0.1 43.8h0m0.1 33.4h0m0.1 38.4h0m0 8.6h0m0 8.5h0m0.1 8.5h0m0 8.6h0m0 8.5h0m0.1 4.1h0m0.2 3.8h0m0.1 3.5h0m0.1 3.3h0m0.1 3h0m0.1 2.9h0m0.2 2.6h0m0.1 2.5h0m0.1 2.3h0m0.1 2.1h0m0.1 2h0m0.2 1.8h0m0.1 1.8h0m0.1 1.6h0m0.1 1.5h0m0.1 1.4h0m0.2 1.2h0m0.1 1.3h0m0.1 1.1h0m0.1 1h0m0.1 1h0m0.2 0.9h0m0.1 0.8h0m0.1 0.8h0m0.1 0.8h0m0.1 0.6h0m0.2 0.7h0m0.1 0.6h0m0.1 0.5h0m0.1 0.5h0m0.1 0.5h0m0.2 0.5h0m0.1 0.4h0m0.1 0.4h0m0.1 0.3h0m0.1 0.3h0m0.2 0.4h0m0.1 0.2h0m0.1 0.3h0m0.1 0.3h0m0.1 0.2h0m0.2 0.2h0m0.1 0.2h0m0.1 0.2h0m0.1 0.2h0m0.1 0.1h0m0.2 0.2h0m0.1 0.1h0m0.1 0.2h0m0.1 0.1h0m0.1 0.1h0m0.8 0.9h0m0.8 1.1h0m0.8-0.5h0m0.8-0.3h0m0.8 1h0m0.8-1.2h0m0.8 0.7h0m0.8 0.1h0m0.8-0.8h0m0.8 1.1h0m0.8-0.8h0m0.8 0.1h0m0.8 0.7h0m0.8-1.1h0m0.8 0.9h0m0.8-0.3h0m0.8-0.5h0m0.8 1.1h0m0.5-0.7h0m0.1-8.1h0m0.1-6.8h0m0.1-40.2h0m0.1-17.9h0m0.1-45.8h0m0.1-32.4h0m0.1-49.6h0m0.1-52.4h0m0.1-65.9h0m0.1-2.4h0m0-2.4h0m0.1-2.2h0m0.1-2h0m0-1.9h0m0.1-1.8h0m0.1-1.7h0m0.1-1.5h0m0-1.5h0m0.1-1.3h0m0.1-1.3h0m0-1.2h0m0.1-1.1h0m0.1-1.1h0m0-1h0m0.1-0.9h0m0.1-0.8h0m0.1-0.8h0m0-0.8h0m0.1-0.7h0m0.1-0.6h0m0-0.7h0m0.1-0.5h0m0.1-0.6h0m0-0.5h0m0.1-0.4h0m0.1-0.5h0m0.1-0.4h0m0-0.4h0m0.1-0.3h0m0.1-0.4h0m0-0.3h0m0.1-0.3h0m0.1-0.3h0m0-0.2h0m0.1-0.3h0m0.1-0.2h0m0.1-0.2h0m0-0.2h0m0.1-0.2h0m0.1-0.2h0m0-0.1h0m0.1-0.2h0m0.1-0.1h0m0-0.1h0m0.6-2h0m0.5 0h0m0.5 0h0m0.5 0h0m0.5 0h0m0.5 0h0m0.5 0h0m0.6 0h0m0.5 0h0m0.5 0h0m0.5 0h0m0.5 0h0m0.5 0h0m0.5 0h0m0.5 0h0m0.6 0h0m0.5 0h0m0.5 0h0m0.5 0h0m0.5 0h0m0.5 0h0m0.5 0h0m0.5 0h0m0.6 0h0m0.5 0h0m0.5 0h0m0.5 0h0m0.5 0h0m0.5 0h0m0.5 1h0m0.5 1.2h0m0.6 1.1h0m0.5 1.1h0m0.5 1.2h0m0.5 1.1h0m0.3 7.6h0m0.1 26.7h0m0.1 54.5h0m0 35.1h0m0.1 44.8h0m0.1 43.3h0m0.1 41.5h0m0 8.5h0m0 8.6h0m0.1 8.5h0m0 8.5h0m0 4.5h0m0.1 4.1h0m0.2 3.8h0m0.1 3.5h0m0.1 3.3h0m0.1 3h0m0.1 2.9h0m0.2 2.6h0m0.1 2.5h0m0.1 2.3h0m0.1 2.1h0m0.1 2h0m0.2 1.8h0m0.1 1.8h0m0.1 1.6h0m0.1 1.5h0m0.1 1.4h0m0.2 1.2h0m0.1 1.3h0m0.1 1.1h0m0.1 1h0m0.1 1h0m0.2 0.9h0m0.1 0.8h0m0.1 0.8h0m0.1 0.8h0m0.1 0.6h0m0.2 0.7h0m0.1 0.6h0m0.1 0.5h0m0.1 0.5h0m0.1 0.5h0m0.2 0.5h0m0.1 0.4h0m0.1 0.4h0m0.1 0.3h0m0.1 0.3h0m0.2 0.4h0m0.1 0.2h0m0.1 0.3h0m0.1 0.3h0m0.1 0.2h0m0.2 0.2h0m0.1 0.2h0m0.1 0.2h0m0.1 0.2h0m0.1 0.1h0m0.2 0.2h0m0.1 0.1h0m0.1 0.2h0m0.1 0.1h0m0.1 0.1h0m0.8 1h0m0.8 0.9h0m0.8-0.3h0m0.8-0.5h0m0.8 1.1h0m0.8-1.1h0m0.8 0.5h0m0.8 0.4h0m0.8-1.1h0m0.8 1.1h0m0.8-0.6h0m0.8-0.2h0" stroke="#111" stroke-width="6.2" stroke-linecap="square" fill="none"/>
<line x1="876" y1="782.8" x2="1500" y2="782.8" stroke="#3347c0" stroke-width="1.8" stroke-dasharray="10.6 9.1"/>
<line x1="876" y1="1150" x2="1500" y2="1150" stroke="#3347c0" stroke-width="1.8" stroke-dasharray="10.6 9.1"/>
<rect x="876" y="676.4" width="632" height="508.4" stroke="#000" stroke-width="1.8" fill="none"/>
<line x1="1356.5" y1="701.6" x2="1417.5" y2="701.6" stroke="#111" stroke-width="2.2"/>
<rect x="1383.6" y="698.4" width="6.6" height="6.6" fill="#111"/>
<text x="1427.6" y="709.2" font-size="21.4" text-anchor="start" font-weight="bold" fill="#000">NC3</text>
</svg></body></html>
